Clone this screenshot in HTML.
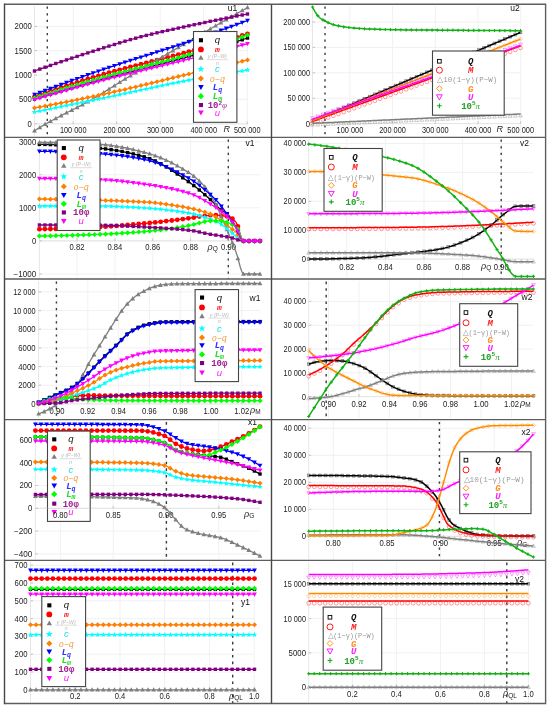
<!DOCTYPE html>
<html><head><meta charset="utf-8"><style>html,body{margin:0;padding:0;background:#fff;}svg{display:block;filter:blur(0.6px);}</style></head><body>
<svg width="550" height="709" viewBox="0 0 550 709">
<rect width="550" height="709" fill="#fff"/>
<defs><rect id="sq1_00" x="-1.7" y="-1.7" width="3.4" height="3.4"/><circle id="ci1_00" cx="0" cy="0" r="2.4"/><path id="tu1_00" d="M0 -2.5L2.4 1.8L-2.4 1.8Z"/><path id="st1_00" d="M0 -2.8L0.7 -1L2.7 -0.9L1.2 0.4L1.6 2.3L0 1.3L-1.6 2.3L-1.2 0.4L-2.7 -0.9L-0.7 -1Z"/><path id="di1_00" d="M0 -2.5L2.5 0L0 2.5L-2.5 0Z"/><path id="td1_00" d="M0 2.5L2.4 -1.8L-2.4 -1.8Z"/><path id="cl1_00" d="M0 -2.6L2.6 0L0 2.6L-2.6 0Z"/><rect id="sq0_80" x="-1.4" y="-1.4" width="2.7" height="2.7"/><circle id="ci0_80" cx="0" cy="0" r="1.9"/><path id="tu0_80" d="M0 -2L1.9 1.4L-1.9 1.4Z"/><path id="di0_80" d="M0 -2L2 0L0 2L-2 0Z"/><path id="td0_80" d="M0 2L1.9 -1.4L-1.9 -1.4Z"/><path id="pl0_80" d="M-1.6 0H1.6M0 -1.6V1.6" stroke-width="1.1" fill="none"/></defs>
<clipPath id="cu1"><rect x="4" y="4" width="267" height="133"/></clipPath>
<g clip-path="url(#cu1)">
<path d="M34.5 123.8H247.5M34.5 99.4H247.5M34.5 75.1H247.5M34.5 50.7H247.5M34.5 26.4H247.5M73.2 6V136M116.7 6V136M160.2 6V136M203.7 6V136M247.2 6V136" stroke="#f1f1f1" stroke-width="1" fill="none"/>
<path d="M47.3 4V137" stroke="#3a3a3a" stroke-width="1.4" stroke-dasharray="2.2,4.4" stroke-dashoffset="-2.6" fill="none"/>
<path d="M34.5 6V136M34.5 123.8H247.5" stroke="#e0e0e0" stroke-width="0.8" fill="none"/>
<path d="M34.5 123.8H37M34.5 99.4H37M34.5 75.1H37M34.5 50.7H37M34.5 26.4H37M73.2 123.8V121.3M116.7 123.8V121.3M160.2 123.8V121.3M203.7 123.8V121.3M247.2 123.8V121.3" stroke="#b0b0b0" stroke-width="0.7" fill="none"/>
<text x="31.8" y="126.7" font-family="Liberation Sans" font-size="8.2" fill="#222" text-anchor="end" textLength="4.3" lengthAdjust="spacingAndGlyphs">0</text>
<text x="31.8" y="102.3" font-family="Liberation Sans" font-size="8.2" fill="#222" text-anchor="end" textLength="12.9" lengthAdjust="spacingAndGlyphs">500</text>
<text x="31.8" y="78" font-family="Liberation Sans" font-size="8.2" fill="#222" text-anchor="end" textLength="17.2" lengthAdjust="spacingAndGlyphs">1000</text>
<text x="31.8" y="53.6" font-family="Liberation Sans" font-size="8.2" fill="#222" text-anchor="end" textLength="17.2" lengthAdjust="spacingAndGlyphs">1500</text>
<text x="31.8" y="29.3" font-family="Liberation Sans" font-size="8.2" fill="#222" text-anchor="end" textLength="17.2" lengthAdjust="spacingAndGlyphs">2000</text>
<text x="73.2" y="133.3" font-family="Liberation Sans" font-size="8.2" fill="#222" text-anchor="middle" textLength="26.6" lengthAdjust="spacingAndGlyphs">100 000</text>
<text x="116.7" y="133.3" font-family="Liberation Sans" font-size="8.2" fill="#222" text-anchor="middle" textLength="26.6" lengthAdjust="spacingAndGlyphs">200 000</text>
<text x="160.2" y="133.3" font-family="Liberation Sans" font-size="8.2" fill="#222" text-anchor="middle" textLength="26.6" lengthAdjust="spacingAndGlyphs">300 000</text>
<text x="203.7" y="133.3" font-family="Liberation Sans" font-size="8.2" fill="#222" text-anchor="middle" textLength="26.6" lengthAdjust="spacingAndGlyphs">400 000</text>
<text x="247.2" y="133.3" font-family="Liberation Sans" font-size="8.2" fill="#222" text-anchor="middle" textLength="26.6" lengthAdjust="spacingAndGlyphs">500 000</text>
<text x="223.5" y="132.4" font-family="Liberation Sans" font-size="9" fill="#222" text-anchor="start" font-style="italic">R</text>
<path d="M34.5 99 36 98.6 37.5 98.1 39 97.7 40.5 97.2 42 96.8 43.5 96.3 45 95.9 46.5 95.4 48 95 49.5 94.5 51 94.1 52.5 93.6 54 93.2 55.5 92.8 57 92.3 58.5 91.9 60 91.4 61.5 91 63 90.6 64.5 90.1 66 89.7 67.5 89.3 69 88.8 70.5 88.4 72 87.9 73.5 87.5 75 87.1 76.5 86.7 78 86.2 79.5 85.8 81 85.4 82.5 84.9 84 84.5 85.5 84.1 87 83.7 88.5 83.2 90 82.8 91.5 82.4 93 82 94.5 81.5 96 81.1 97.5 80.7 99 80.3 100.5 79.9 102 79.4 103.5 79 105 78.6 106.5 78.2 108 77.8 109.5 77.4 111 77 112.5 76.6 114 76.2 115.5 75.8 117 75.4 118.5 75 120 74.6 121.5 74.2 123 73.8 124.5 73.4 126 73 127.5 72.7 129 72.3 130.5 71.9 132 71.5 133.5 71.1 135 70.7 136.5 70.3 138 70 139.5 69.6 141 69.2 142.5 68.8 144 68.4 145.5 68 147 67.6 148.5 67.3 150 66.9 151.5 66.5 153 66.1 154.5 65.7 156 65.3 157.5 64.9 159 64.5 160.5 64.2 162 63.8 163.5 63.4 165 63 166.5 62.6 168 62.2 169.5 61.8 171 61.4 172.5 61 174 60.6 175.5 60.2 177 59.8 178.5 59.4 180 58.9 181.5 58.5 183 58.1 184.5 57.7 186 57.3 187.5 56.9 189 56.4 190.5 56 192 55.6 193.5 55.1 195 54.7 196.5 54.3 198 53.8 199.5 53.4 201 52.9 202.5 52.5 204 52 205.5 51.6 207 51.1 208.5 50.6 210 50.2 211.5 49.7 213 49.2 214.5 48.8 216 48.3 217.5 47.8 219 47.4 220.5 46.9 222 46.4 223.5 45.9 225 45.4 226.5 44.9 228 44.5 229.5 44 231 43.5 232.5 43 234 42.5 235.5 42 237 41.5 238.5 41 240 40.5 241.5 40 243 39.5 244.5 39 246 38.5 247.5 38" fill="none" stroke="#000000" stroke-width="1.3" stroke-linejoin="round"/><g fill="#000000"><use href="#sq1_00" x="34.5" y="99"/><use href="#sq1_00" x="39.8" y="97.4"/><use href="#sq1_00" x="45.1" y="95.8"/><use href="#sq1_00" x="50.5" y="94.2"/><use href="#sq1_00" x="55.8" y="92.7"/><use href="#sq1_00" x="61.1" y="91.1"/><use href="#sq1_00" x="66.5" y="89.6"/><use href="#sq1_00" x="71.8" y="88"/><use href="#sq1_00" x="77.1" y="86.5"/><use href="#sq1_00" x="82.4" y="85"/><use href="#sq1_00" x="87.8" y="83.4"/><use href="#sq1_00" x="93.1" y="81.9"/><use href="#sq1_00" x="98.4" y="80.4"/><use href="#sq1_00" x="103.7" y="79"/><use href="#sq1_00" x="109" y="77.5"/><use href="#sq1_00" x="114.4" y="76.1"/><use href="#sq1_00" x="119.7" y="74.7"/><use href="#sq1_00" x="125" y="73.3"/><use href="#sq1_00" x="130.4" y="71.9"/><use href="#sq1_00" x="135.7" y="70.5"/><use href="#sq1_00" x="141" y="69.2"/><use href="#sq1_00" x="146.3" y="67.8"/><use href="#sq1_00" x="151.7" y="66.4"/><use href="#sq1_00" x="157" y="65.1"/><use href="#sq1_00" x="162.3" y="63.7"/><use href="#sq1_00" x="167.6" y="62.3"/><use href="#sq1_00" x="173" y="60.9"/><use href="#sq1_00" x="178.3" y="59.4"/><use href="#sq1_00" x="183.6" y="58"/><use href="#sq1_00" x="188.9" y="56.5"/><use href="#sq1_00" x="194.2" y="54.9"/><use href="#sq1_00" x="199.6" y="53.3"/><use href="#sq1_00" x="204.9" y="51.7"/><use href="#sq1_00" x="210.2" y="50.1"/><use href="#sq1_00" x="215.6" y="48.4"/><use href="#sq1_00" x="220.9" y="46.8"/><use href="#sq1_00" x="226.2" y="45"/><use href="#sq1_00" x="231.5" y="43.3"/><use href="#sq1_00" x="236.8" y="41.6"/><use href="#sq1_00" x="242.2" y="39.8"/><use href="#sq1_00" x="247.5" y="38"/></g>
<path d="M34.5 96.6 36 96.1 37.5 95.6 39 95 40.5 94.5 42 94 43.5 93.5 45 93 46.5 92.5 48 91.9 49.5 91.4 51 90.9 52.5 90.4 54 89.9 55.5 89.4 57 88.9 58.5 88.4 60 87.9 61.5 87.4 63 86.9 64.5 86.4 66 85.9 67.5 85.4 69 84.9 70.5 84.4 72 84 73.5 83.5 75 83 76.5 82.5 78 82 79.5 81.6 81 81.1 82.5 80.6 84 80.2 85.5 79.7 87 79.2 88.5 78.8 90 78.3 91.5 77.8 93 77.4 94.5 76.9 96 76.5 97.5 76 99 75.6 100.5 75.2 102 74.7 103.5 74.3 105 73.8 106.5 73.4 108 73 109.5 72.6 111 72.2 112.5 71.7 114 71.3 115.5 70.9 117 70.5 118.5 70.1 120 69.7 121.5 69.3 123 68.9 124.5 68.5 126 68.1 127.5 67.7 129 67.3 130.5 66.9 132 66.5 133.5 66.1 135 65.8 136.5 65.4 138 65 139.5 64.6 141 64.2 142.5 63.8 144 63.5 145.5 63.1 147 62.7 148.5 62.3 150 61.9 151.5 61.6 153 61.2 154.5 60.8 156 60.4 157.5 60 159 59.6 160.5 59.3 162 58.9 163.5 58.5 165 58.1 166.5 57.7 168 57.3 169.5 56.9 171 56.6 172.5 56.2 174 55.8 175.5 55.4 177 55 178.5 54.6 180 54.2 181.5 53.8 183 53.4 184.5 52.9 186 52.5 187.5 52.1 189 51.7 190.5 51.3 192 50.9 193.5 50.4 195 50 196.5 49.6 198 49.1 199.5 48.7 201 48.3 202.5 47.8 204 47.4 205.5 46.9 207 46.5 208.5 46 210 45.6 211.5 45.1 213 44.7 214.5 44.2 216 43.8 217.5 43.3 219 42.8 220.5 42.4 222 41.9 223.5 41.4 225 41 226.5 40.5 228 40 229.5 39.6 231 39.1 232.5 38.6 234 38.1 235.5 37.7 237 37.2 238.5 36.7 240 36.2 241.5 35.7 243 35.3 244.5 34.8 246 34.3 247.5 33.8" fill="none" stroke="#ff0000" stroke-width="1.3" stroke-linejoin="round"/><g fill="#ff0000"><use href="#ci1_00" x="34.5" y="96.6"/><use href="#ci1_00" x="39.8" y="94.7"/><use href="#ci1_00" x="45.1" y="92.9"/><use href="#ci1_00" x="50.5" y="91.1"/><use href="#ci1_00" x="55.8" y="89.3"/><use href="#ci1_00" x="61.1" y="87.5"/><use href="#ci1_00" x="66.5" y="85.8"/><use href="#ci1_00" x="71.8" y="84"/><use href="#ci1_00" x="77.1" y="82.3"/><use href="#ci1_00" x="82.4" y="80.6"/><use href="#ci1_00" x="87.8" y="79"/><use href="#ci1_00" x="93.1" y="77.4"/><use href="#ci1_00" x="98.4" y="75.8"/><use href="#ci1_00" x="103.7" y="74.2"/><use href="#ci1_00" x="109" y="72.7"/><use href="#ci1_00" x="114.4" y="71.2"/><use href="#ci1_00" x="119.7" y="69.8"/><use href="#ci1_00" x="125" y="68.4"/><use href="#ci1_00" x="130.4" y="67"/><use href="#ci1_00" x="135.7" y="65.6"/><use href="#ci1_00" x="141" y="64.2"/><use href="#ci1_00" x="146.3" y="62.9"/><use href="#ci1_00" x="151.7" y="61.5"/><use href="#ci1_00" x="157" y="60.2"/><use href="#ci1_00" x="162.3" y="58.8"/><use href="#ci1_00" x="167.6" y="57.4"/><use href="#ci1_00" x="173" y="56"/><use href="#ci1_00" x="178.3" y="54.6"/><use href="#ci1_00" x="183.6" y="53.2"/><use href="#ci1_00" x="188.9" y="51.7"/><use href="#ci1_00" x="194.2" y="50.2"/><use href="#ci1_00" x="199.6" y="48.7"/><use href="#ci1_00" x="204.9" y="47.1"/><use href="#ci1_00" x="210.2" y="45.5"/><use href="#ci1_00" x="215.6" y="43.9"/><use href="#ci1_00" x="220.9" y="42.3"/><use href="#ci1_00" x="226.2" y="40.6"/><use href="#ci1_00" x="231.5" y="38.9"/><use href="#ci1_00" x="236.8" y="37.2"/><use href="#ci1_00" x="242.2" y="35.5"/><use href="#ci1_00" x="247.5" y="33.8"/></g>
<path d="M34.5 130.8 36 129.8 37.5 128.9 39 128 40.5 127 42 126.1 43.5 125.2 45 124.4 46.5 123.5 48 122.6 49.5 121.8 51 121 52.5 120.2 54 119.4 55.5 118.6 57 117.8 58.5 117 60 116.2 61.5 115.4 63 114.6 64.5 113.8 66 113.1 67.5 112.3 69 111.5 70.5 110.8 72 110 73.5 109.2 75 108.5 76.5 107.7 78 106.9 79.5 106.1 81 105.4 82.5 104.6 84 103.8 85.5 103 87 102.2 88.5 101.3 90 100.5 91.5 99.7 93 98.8 94.5 97.9 96 97 97.5 96.1 99 95.2 100.5 94.3 102 93.4 103.5 92.5 105 91.6 106.5 90.6 108 89.7 109.5 88.8 111 87.8 112.5 86.9 114 85.9 115.5 85 117 84 118.5 83.1 120 82.2 121.5 81.2 123 80.3 124.5 79.4 126 78.4 127.5 77.5 129 76.6 130.5 75.7 132 74.8 133.5 73.9 135 73 136.5 72.1 138 71.2 139.5 70.3 141 69.4 142.5 68.5 144 67.6 145.5 66.8 147 65.9 148.5 65 150 64.1 151.5 63.2 153 62.3 154.5 61.4 156 60.6 157.5 59.7 159 58.8 160.5 57.9 162 57 163.5 56.1 165 55.3 166.5 54.4 168 53.5 169.5 52.6 171 51.8 172.5 50.9 174 50 175.5 49.1 177 48.3 178.5 47.4 180 46.5 181.5 45.6 183 44.7 184.5 43.9 186 43 187.5 42.1 189 41.2 190.5 40.4 192 39.5 193.5 38.6 195 37.8 196.5 36.9 198 36 199.5 35.1 201 34.3 202.5 33.4 204 32.5 205.5 31.7 207 30.8 208.5 29.9 210 29.1 211.5 28.2 213 27.3 214.5 26.5 216 25.6 217.5 24.7 219 23.9 220.5 23 222 22.1 223.5 21.3 225 20.4 226.5 19.5 228 18.7 229.5 17.8 231 16.9 232.5 16.1 234 15.2 235.5 14.4 237 13.5 238.5 12.6 240 11.8 241.5 10.9 243 10.1 244.5 9.2 246 8.4 247.5 7.5" fill="none" stroke="#7f7f7f" stroke-width="1.3" stroke-linejoin="round"/><g fill="#7f7f7f"><use href="#tu1_00" x="34.5" y="130.8"/><use href="#tu1_00" x="39.8" y="127.5"/><use href="#tu1_00" x="45.1" y="124.3"/><use href="#tu1_00" x="50.5" y="121.3"/><use href="#tu1_00" x="55.8" y="118.4"/><use href="#tu1_00" x="61.1" y="115.6"/><use href="#tu1_00" x="66.5" y="112.8"/><use href="#tu1_00" x="71.8" y="110.1"/><use href="#tu1_00" x="77.1" y="107.4"/><use href="#tu1_00" x="82.4" y="104.6"/><use href="#tu1_00" x="87.8" y="101.8"/><use href="#tu1_00" x="93.1" y="98.7"/><use href="#tu1_00" x="98.4" y="95.6"/><use href="#tu1_00" x="103.7" y="92.4"/><use href="#tu1_00" x="109" y="89"/><use href="#tu1_00" x="114.4" y="85.7"/><use href="#tu1_00" x="119.7" y="82.3"/><use href="#tu1_00" x="125" y="79"/><use href="#tu1_00" x="130.4" y="75.8"/><use href="#tu1_00" x="135.7" y="72.6"/><use href="#tu1_00" x="141" y="69.4"/><use href="#tu1_00" x="146.3" y="66.3"/><use href="#tu1_00" x="151.7" y="63.1"/><use href="#tu1_00" x="157" y="60"/><use href="#tu1_00" x="162.3" y="56.9"/><use href="#tu1_00" x="167.6" y="53.7"/><use href="#tu1_00" x="173" y="50.6"/><use href="#tu1_00" x="178.3" y="47.5"/><use href="#tu1_00" x="183.6" y="44.4"/><use href="#tu1_00" x="188.9" y="41.3"/><use href="#tu1_00" x="194.2" y="38.2"/><use href="#tu1_00" x="199.6" y="35.1"/><use href="#tu1_00" x="204.9" y="32"/><use href="#tu1_00" x="210.2" y="28.9"/><use href="#tu1_00" x="215.6" y="25.8"/><use href="#tu1_00" x="220.9" y="22.8"/><use href="#tu1_00" x="226.2" y="19.7"/><use href="#tu1_00" x="231.5" y="16.6"/><use href="#tu1_00" x="236.8" y="13.6"/><use href="#tu1_00" x="242.2" y="10.5"/><use href="#tu1_00" x="247.5" y="7.5"/></g>
<path d="M34.5 112 36 111.7 37.5 111.4 39 111.1 40.5 110.8 42 110.5 43.5 110.2 45 109.9 46.5 109.6 48 109.3 49.5 109 51 108.7 52.5 108.4 54 108.1 55.5 107.8 57 107.5 58.5 107.2 60 106.9 61.5 106.5 63 106.2 64.5 105.9 66 105.6 67.5 105.3 69 105 70.5 104.7 72 104.4 73.5 104.1 75 103.8 76.5 103.5 78 103.2 79.5 102.9 81 102.6 82.5 102.3 84 102 85.5 101.7 87 101.4 88.5 101.1 90 100.7 91.5 100.4 93 100.1 94.5 99.8 96 99.5 97.5 99.2 99 98.9 100.5 98.6 102 98.3 103.5 98 105 97.7 106.5 97.4 108 97 109.5 96.7 111 96.4 112.5 96.1 114 95.8 115.5 95.5 117 95.1 118.5 94.8 120 94.5 121.5 94.2 123 93.9 124.5 93.6 126 93.2 127.5 92.9 129 92.6 130.5 92.3 132 91.9 133.5 91.6 135 91.3 136.5 91 138 90.7 139.5 90.3 141 90 142.5 89.7 144 89.4 145.5 89.1 147 88.7 148.5 88.4 150 88.1 151.5 87.8 153 87.5 154.5 87.1 156 86.8 157.5 86.5 159 86.2 160.5 85.9 162 85.6 163.5 85.2 165 84.9 166.5 84.6 168 84.3 169.5 84 171 83.7 172.5 83.4 174 83.1 175.5 82.8 177 82.5 178.5 82.2 180 81.9 181.5 81.6 183 81.3 184.5 81 186 80.7 187.5 80.4 189 80.1 190.5 79.8 192 79.6 193.5 79.3 195 79 196.5 78.7 198 78.4 199.5 78.2 201 77.9 202.5 77.6 204 77.4 205.5 77.1 207 76.8 208.5 76.5 210 76.3 211.5 76 213 75.7 214.5 75.5 216 75.2 217.5 75 219 74.7 220.5 74.4 222 74.2 223.5 73.9 225 73.7 226.5 73.4 228 73.2 229.5 72.9 231 72.7 232.5 72.4 234 72.2 235.5 71.9 237 71.7 238.5 71.4 240 71.2 241.5 71 243 70.7 244.5 70.5 246 70.2 247.5 70" fill="none" stroke="#00ffff" stroke-width="1.3" stroke-linejoin="round"/><g fill="#00ffff"><use href="#st1_00" x="34.5" y="112"/><use href="#st1_00" x="39.8" y="110.9"/><use href="#st1_00" x="45.1" y="109.9"/><use href="#st1_00" x="50.5" y="108.8"/><use href="#st1_00" x="55.8" y="107.7"/><use href="#st1_00" x="61.1" y="106.6"/><use href="#st1_00" x="66.5" y="105.5"/><use href="#st1_00" x="71.8" y="104.5"/><use href="#st1_00" x="77.1" y="103.4"/><use href="#st1_00" x="82.4" y="102.3"/><use href="#st1_00" x="87.8" y="101.2"/><use href="#st1_00" x="93.1" y="100.1"/><use href="#st1_00" x="98.4" y="99"/><use href="#st1_00" x="103.7" y="97.9"/><use href="#st1_00" x="109" y="96.8"/><use href="#st1_00" x="114.4" y="95.7"/><use href="#st1_00" x="119.7" y="94.6"/><use href="#st1_00" x="125" y="93.4"/><use href="#st1_00" x="130.4" y="92.3"/><use href="#st1_00" x="135.7" y="91.2"/><use href="#st1_00" x="141" y="90"/><use href="#st1_00" x="146.3" y="88.9"/><use href="#st1_00" x="151.7" y="87.7"/><use href="#st1_00" x="157" y="86.6"/><use href="#st1_00" x="162.3" y="85.5"/><use href="#st1_00" x="167.6" y="84.4"/><use href="#st1_00" x="173" y="83.3"/><use href="#st1_00" x="178.3" y="82.2"/><use href="#st1_00" x="183.6" y="81.2"/><use href="#st1_00" x="188.9" y="80.1"/><use href="#st1_00" x="194.2" y="79.1"/><use href="#st1_00" x="199.6" y="78.2"/><use href="#st1_00" x="204.9" y="77.2"/><use href="#st1_00" x="210.2" y="76.2"/><use href="#st1_00" x="215.6" y="75.3"/><use href="#st1_00" x="220.9" y="74.4"/><use href="#st1_00" x="226.2" y="73.5"/><use href="#st1_00" x="231.5" y="72.6"/><use href="#st1_00" x="236.8" y="71.7"/><use href="#st1_00" x="242.2" y="70.9"/><use href="#st1_00" x="247.5" y="70"/></g>
<path d="M34.5 108 36 107.7 37.5 107.4 39 107.2 40.5 106.9 42 106.6 43.5 106.3 45 106.1 46.5 105.8 48 105.5 49.5 105.2 51 104.9 52.5 104.6 54 104.3 55.5 104.1 57 103.8 58.5 103.5 60 103.2 61.5 102.9 63 102.6 64.5 102.3 66 102 67.5 101.7 69 101.4 70.5 101.1 72 100.8 73.5 100.5 75 100.2 76.5 99.9 78 99.6 79.5 99.3 81 99 82.5 98.7 84 98.4 85.5 98.1 87 97.7 88.5 97.4 90 97.1 91.5 96.8 93 96.5 94.5 96.2 96 95.9 97.5 95.5 99 95.2 100.5 94.9 102 94.6 103.5 94.2 105 93.9 106.5 93.6 108 93.3 109.5 92.9 111 92.6 112.5 92.2 114 91.9 115.5 91.6 117 91.2 118.5 90.9 120 90.5 121.5 90.2 123 89.8 124.5 89.5 126 89.1 127.5 88.8 129 88.4 130.5 88.1 132 87.7 133.5 87.4 135 87 136.5 86.7 138 86.3 139.5 85.9 141 85.6 142.5 85.2 144 84.9 145.5 84.5 147 84.1 148.5 83.8 150 83.4 151.5 83 153 82.7 154.5 82.3 156 82 157.5 81.6 159 81.2 160.5 80.9 162 80.5 163.5 80.1 165 79.8 166.5 79.4 168 79 169.5 78.7 171 78.3 172.5 77.9 174 77.6 175.5 77.2 177 76.8 178.5 76.5 180 76.1 181.5 75.7 183 75.4 184.5 75 186 74.7 187.5 74.3 189 73.9 190.5 73.6 192 73.2 193.5 72.9 195 72.5 196.5 72.1 198 71.8 199.5 71.4 201 71.1 202.5 70.7 204 70.4 205.5 70 207 69.6 208.5 69.3 210 68.9 211.5 68.6 213 68.2 214.5 67.9 216 67.5 217.5 67.1 219 66.8 220.5 66.4 222 66.1 223.5 65.7 225 65.4 226.5 65 228 64.6 229.5 64.3 231 63.9 232.5 63.6 234 63.2 235.5 62.9 237 62.5 238.5 62.1 240 61.8 241.5 61.4 243 61.1 244.5 60.7 246 60.4 247.5 60" fill="none" stroke="#ff7f00" stroke-width="1.3" stroke-linejoin="round"/><g fill="#ff7f00"><use href="#di1_00" x="34.5" y="108"/><use href="#di1_00" x="39.8" y="107"/><use href="#di1_00" x="45.1" y="106"/><use href="#di1_00" x="50.5" y="105"/><use href="#di1_00" x="55.8" y="104"/><use href="#di1_00" x="61.1" y="103"/><use href="#di1_00" x="66.5" y="101.9"/><use href="#di1_00" x="71.8" y="100.9"/><use href="#di1_00" x="77.1" y="99.8"/><use href="#di1_00" x="82.4" y="98.7"/><use href="#di1_00" x="87.8" y="97.6"/><use href="#di1_00" x="93.1" y="96.5"/><use href="#di1_00" x="98.4" y="95.3"/><use href="#di1_00" x="103.7" y="94.2"/><use href="#di1_00" x="109" y="93"/><use href="#di1_00" x="114.4" y="91.8"/><use href="#di1_00" x="119.7" y="90.6"/><use href="#di1_00" x="125" y="89.4"/><use href="#di1_00" x="130.4" y="88.1"/><use href="#di1_00" x="135.7" y="86.9"/><use href="#di1_00" x="141" y="85.6"/><use href="#di1_00" x="146.3" y="84.3"/><use href="#di1_00" x="151.7" y="83"/><use href="#di1_00" x="157" y="81.7"/><use href="#di1_00" x="162.3" y="80.4"/><use href="#di1_00" x="167.6" y="79.1"/><use href="#di1_00" x="173" y="77.8"/><use href="#di1_00" x="178.3" y="76.5"/><use href="#di1_00" x="183.6" y="75.2"/><use href="#di1_00" x="188.9" y="74"/><use href="#di1_00" x="194.2" y="72.7"/><use href="#di1_00" x="199.6" y="71.4"/><use href="#di1_00" x="204.9" y="70.1"/><use href="#di1_00" x="210.2" y="68.9"/><use href="#di1_00" x="215.6" y="67.6"/><use href="#di1_00" x="220.9" y="66.3"/><use href="#di1_00" x="226.2" y="65.1"/><use href="#di1_00" x="231.5" y="63.8"/><use href="#di1_00" x="236.8" y="62.5"/><use href="#di1_00" x="242.2" y="61.3"/><use href="#di1_00" x="247.5" y="60"/></g>
<path d="M34.5 94.6 36 94 37.5 93.5 39 92.9 40.5 92.3 42 91.7 43.5 91.2 45 90.6 46.5 90 48 89.5 49.5 88.9 51 88.3 52.5 87.8 54 87.2 55.5 86.7 57 86.1 58.5 85.5 60 85 61.5 84.4 63 83.9 64.5 83.3 66 82.8 67.5 82.2 69 81.7 70.5 81.1 72 80.6 73.5 80 75 79.5 76.5 78.9 78 78.4 79.5 77.8 81 77.3 82.5 76.8 84 76.2 85.5 75.7 87 75.2 88.5 74.6 90 74.1 91.5 73.6 93 73 94.5 72.5 96 72 97.5 71.5 99 70.9 100.5 70.4 102 69.9 103.5 69.4 105 68.9 106.5 68.4 108 67.9 109.5 67.4 111 66.9 112.5 66.4 114 65.9 115.5 65.4 117 64.9 118.5 64.4 120 63.9 121.5 63.4 123 62.9 124.5 62.4 126 61.9 127.5 61.5 129 61 130.5 60.5 132 60 133.5 59.5 135 59.1 136.5 58.6 138 58.1 139.5 57.6 141 57.2 142.5 56.7 144 56.2 145.5 55.7 147 55.3 148.5 54.8 150 54.3 151.5 53.8 153 53.4 154.5 52.9 156 52.4 157.5 51.9 159 51.4 160.5 51 162 50.5 163.5 50 165 49.5 166.5 49.1 168 48.6 169.5 48.1 171 47.6 172.5 47.1 174 46.6 175.5 46.1 177 45.6 178.5 45.2 180 44.7 181.5 44.2 183 43.7 184.5 43.2 186 42.7 187.5 42.2 189 41.7 190.5 41.1 192 40.6 193.5 40.1 195 39.6 196.5 39.1 198 38.6 199.5 38 201 37.5 202.5 37 204 36.5 205.5 35.9 207 35.4 208.5 34.9 210 34.3 211.5 33.8 213 33.2 214.5 32.7 216 32.2 217.5 31.6 219 31.1 220.5 30.5 222 30 223.5 29.4 225 28.9 226.5 28.3 228 27.8 229.5 27.2 231 26.7 232.5 26.1 234 25.6 235.5 25 237 24.4 238.5 23.9 240 23.3 241.5 22.8 243 22.2 244.5 21.6 246 21.1 247.5 20.5" fill="none" stroke="#0000ff" stroke-width="1.3" stroke-linejoin="round"/><g fill="#0000ff"><use href="#td1_00" x="34.5" y="94.6"/><use href="#td1_00" x="39.8" y="92.6"/><use href="#td1_00" x="45.1" y="90.5"/><use href="#td1_00" x="50.5" y="88.5"/><use href="#td1_00" x="55.8" y="86.5"/><use href="#td1_00" x="61.1" y="84.6"/><use href="#td1_00" x="66.5" y="82.6"/><use href="#td1_00" x="71.8" y="80.6"/><use href="#td1_00" x="77.1" y="78.7"/><use href="#td1_00" x="82.4" y="76.8"/><use href="#td1_00" x="87.8" y="74.9"/><use href="#td1_00" x="93.1" y="73"/><use href="#td1_00" x="98.4" y="71.2"/><use href="#td1_00" x="103.7" y="69.3"/><use href="#td1_00" x="109" y="67.5"/><use href="#td1_00" x="114.4" y="65.7"/><use href="#td1_00" x="119.7" y="64"/><use href="#td1_00" x="125" y="62.3"/><use href="#td1_00" x="130.4" y="60.5"/><use href="#td1_00" x="135.7" y="58.8"/><use href="#td1_00" x="141" y="57.2"/><use href="#td1_00" x="146.3" y="55.5"/><use href="#td1_00" x="151.7" y="53.8"/><use href="#td1_00" x="157" y="52.1"/><use href="#td1_00" x="162.3" y="50.4"/><use href="#td1_00" x="167.6" y="48.7"/><use href="#td1_00" x="173" y="47"/><use href="#td1_00" x="178.3" y="45.2"/><use href="#td1_00" x="183.6" y="43.5"/><use href="#td1_00" x="188.9" y="41.7"/><use href="#td1_00" x="194.2" y="39.9"/><use href="#td1_00" x="199.6" y="38"/><use href="#td1_00" x="204.9" y="36.1"/><use href="#td1_00" x="210.2" y="34.2"/><use href="#td1_00" x="215.6" y="32.3"/><use href="#td1_00" x="220.9" y="30.4"/><use href="#td1_00" x="226.2" y="28.4"/><use href="#td1_00" x="231.5" y="26.5"/><use href="#td1_00" x="236.8" y="24.5"/><use href="#td1_00" x="242.2" y="22.5"/><use href="#td1_00" x="247.5" y="20.5"/></g>
<path d="M34.5 98 36 97.5 37.5 97 39 96.6 40.5 96.1 42 95.6 43.5 95.1 45 94.7 46.5 94.2 48 93.7 49.5 93.3 51 92.8 52.5 92.3 54 91.9 55.5 91.4 57 90.9 58.5 90.5 60 90 61.5 89.5 63 89.1 64.5 88.6 66 88.2 67.5 87.7 69 87.2 70.5 86.8 72 86.3 73.5 85.9 75 85.4 76.5 85 78 84.5 79.5 84.1 81 83.6 82.5 83.2 84 82.7 85.5 82.3 87 81.9 88.5 81.4 90 81 91.5 80.5 93 80.1 94.5 79.7 96 79.2 97.5 78.8 99 78.4 100.5 78 102 77.5 103.5 77.1 105 76.7 106.5 76.3 108 75.9 109.5 75.5 111 75 112.5 74.6 114 74.2 115.5 73.8 117 73.4 118.5 73.1 120 72.7 121.5 72.3 123 71.9 124.5 71.5 126 71.1 127.5 70.7 129 70.3 130.5 70 132 69.6 133.5 69.2 135 68.8 136.5 68.4 138 68 139.5 67.7 141 67.3 142.5 66.9 144 66.5 145.5 66.2 147 65.8 148.5 65.4 150 65 151.5 64.6 153 64.3 154.5 63.9 156 63.5 157.5 63.1 159 62.7 160.5 62.3 162 61.9 163.5 61.6 165 61.2 166.5 60.8 168 60.4 169.5 60 171 59.6 172.5 59.2 174 58.8 175.5 58.4 177 58 178.5 57.5 180 57.1 181.5 56.7 183 56.3 184.5 55.9 186 55.4 187.5 55 189 54.6 190.5 54.1 192 53.7 193.5 53.3 195 52.8 196.5 52.3 198 51.9 199.5 51.4 201 51 202.5 50.5 204 50 205.5 49.5 207 49.1 208.5 48.6 210 48.1 211.5 47.6 213 47.1 214.5 46.6 216 46.1 217.5 45.6 219 45.1 220.5 44.6 222 44.1 223.5 43.5 225 43 226.5 42.5 228 42 229.5 41.5 231 40.9 232.5 40.4 234 39.9 235.5 39.3 237 38.8 238.5 38.3 240 37.7 241.5 37.2 243 36.6 244.5 36.1 246 35.5 247.5 35" fill="none" stroke="#00ff00" stroke-width="1.3" stroke-linejoin="round"/><g fill="#00ff00"><use href="#cl1_00" x="34.5" y="98"/><use href="#cl1_00" x="39.8" y="96.3"/><use href="#cl1_00" x="45.1" y="94.6"/><use href="#cl1_00" x="50.5" y="93"/><use href="#cl1_00" x="55.8" y="91.3"/><use href="#cl1_00" x="61.1" y="89.6"/><use href="#cl1_00" x="66.5" y="88"/><use href="#cl1_00" x="71.8" y="86.4"/><use href="#cl1_00" x="77.1" y="84.8"/><use href="#cl1_00" x="82.4" y="83.2"/><use href="#cl1_00" x="87.8" y="81.6"/><use href="#cl1_00" x="93.1" y="80.1"/><use href="#cl1_00" x="98.4" y="78.6"/><use href="#cl1_00" x="103.7" y="77"/><use href="#cl1_00" x="109" y="75.6"/><use href="#cl1_00" x="114.4" y="74.1"/><use href="#cl1_00" x="119.7" y="72.7"/><use href="#cl1_00" x="125" y="71.4"/><use href="#cl1_00" x="130.4" y="70"/><use href="#cl1_00" x="135.7" y="68.6"/><use href="#cl1_00" x="141" y="67.3"/><use href="#cl1_00" x="146.3" y="65.9"/><use href="#cl1_00" x="151.7" y="64.6"/><use href="#cl1_00" x="157" y="63.2"/><use href="#cl1_00" x="162.3" y="61.9"/><use href="#cl1_00" x="167.6" y="60.5"/><use href="#cl1_00" x="173" y="59.1"/><use href="#cl1_00" x="178.3" y="57.6"/><use href="#cl1_00" x="183.6" y="56.1"/><use href="#cl1_00" x="188.9" y="54.6"/><use href="#cl1_00" x="194.2" y="53"/><use href="#cl1_00" x="199.6" y="51.4"/><use href="#cl1_00" x="204.9" y="49.7"/><use href="#cl1_00" x="210.2" y="48"/><use href="#cl1_00" x="215.6" y="46.2"/><use href="#cl1_00" x="220.9" y="44.4"/><use href="#cl1_00" x="226.2" y="42.6"/><use href="#cl1_00" x="231.5" y="40.7"/><use href="#cl1_00" x="236.8" y="38.9"/><use href="#cl1_00" x="242.2" y="36.9"/><use href="#cl1_00" x="247.5" y="35"/></g>
<path d="M34.5 71 36 70.5 37.5 69.9 39 69.4 40.5 68.9 42 68.3 43.5 67.8 45 67.3 46.5 66.8 48 66.2 49.5 65.7 51 65.2 52.5 64.7 54 64.2 55.5 63.6 57 63.1 58.5 62.6 60 62.1 61.5 61.6 63 61.1 64.5 60.6 66 60.1 67.5 59.6 69 59.1 70.5 58.6 72 58.1 73.5 57.6 75 57.1 76.5 56.6 78 56.1 79.5 55.6 81 55.1 82.5 54.6 84 54.1 85.5 53.6 87 53.2 88.5 52.7 90 52.2 91.5 51.7 93 51.2 94.5 50.7 96 50.3 97.5 49.8 99 49.3 100.5 48.8 102 48.4 103.5 47.9 105 47.4 106.5 46.9 108 46.5 109.5 46 111 45.5 112.5 45.1 114 44.6 115.5 44.1 117 43.6 118.5 43.2 120 42.7 121.5 42.3 123 41.8 124.5 41.4 126 40.9 127.5 40.5 129 40 130.5 39.6 132 39.2 133.5 38.8 135 38.3 136.5 37.9 138 37.5 139.5 37.1 141 36.7 142.5 36.4 144 36 145.5 35.6 147 35.2 148.5 34.9 150 34.5 151.5 34.1 153 33.8 154.5 33.4 156 33.1 157.5 32.7 159 32.4 160.5 32 162 31.7 163.5 31.3 165 31 166.5 30.7 168 30.3 169.5 30 171 29.7 172.5 29.4 174 29 175.5 28.7 177 28.4 178.5 28.1 180 27.7 181.5 27.4 183 27.1 184.5 26.8 186 26.5 187.5 26.1 189 25.8 190.5 25.5 192 25.2 193.5 24.9 195 24.5 196.5 24.2 198 23.9 199.5 23.6 201 23.3 202.5 23 204 22.6 205.5 22.3 207 22 208.5 21.7 210 21.4 211.5 21.1 213 20.8 214.5 20.5 216 20.2 217.5 19.9 219 19.6 220.5 19.3 222 19 223.5 18.7 225 18.4 226.5 18.1 228 17.8 229.5 17.5 231 17.2 232.5 16.9 234 16.6 235.5 16.3 237 16 238.5 15.7 240 15.4 241.5 15.1 243 14.9 244.5 14.6 246 14.3 247.5 14" fill="none" stroke="#800080" stroke-width="1.3" stroke-linejoin="round"/><g fill="#800080"><use href="#sq1_00" x="34.5" y="71"/><use href="#sq1_00" x="39.8" y="69.1"/><use href="#sq1_00" x="45.1" y="67.2"/><use href="#sq1_00" x="50.5" y="65.4"/><use href="#sq1_00" x="55.8" y="63.5"/><use href="#sq1_00" x="61.1" y="61.7"/><use href="#sq1_00" x="66.5" y="59.9"/><use href="#sq1_00" x="71.8" y="58.1"/><use href="#sq1_00" x="77.1" y="56.4"/><use href="#sq1_00" x="82.4" y="54.6"/><use href="#sq1_00" x="87.8" y="52.9"/><use href="#sq1_00" x="93.1" y="51.2"/><use href="#sq1_00" x="98.4" y="49.5"/><use href="#sq1_00" x="103.7" y="47.8"/><use href="#sq1_00" x="109" y="46.1"/><use href="#sq1_00" x="114.4" y="44.5"/><use href="#sq1_00" x="119.7" y="42.8"/><use href="#sq1_00" x="125" y="41.2"/><use href="#sq1_00" x="130.4" y="39.6"/><use href="#sq1_00" x="135.7" y="38.2"/><use href="#sq1_00" x="141" y="36.7"/><use href="#sq1_00" x="146.3" y="35.4"/><use href="#sq1_00" x="151.7" y="34.1"/><use href="#sq1_00" x="157" y="32.8"/><use href="#sq1_00" x="162.3" y="31.6"/><use href="#sq1_00" x="167.6" y="30.4"/><use href="#sq1_00" x="173" y="29.3"/><use href="#sq1_00" x="178.3" y="28.1"/><use href="#sq1_00" x="183.6" y="27"/><use href="#sq1_00" x="188.9" y="25.8"/><use href="#sq1_00" x="194.2" y="24.7"/><use href="#sq1_00" x="199.6" y="23.6"/><use href="#sq1_00" x="204.9" y="22.5"/><use href="#sq1_00" x="210.2" y="21.3"/><use href="#sq1_00" x="215.6" y="20.3"/><use href="#sq1_00" x="220.9" y="19.2"/><use href="#sq1_00" x="226.2" y="18.1"/><use href="#sq1_00" x="231.5" y="17.1"/><use href="#sq1_00" x="236.8" y="16"/><use href="#sq1_00" x="242.2" y="15"/><use href="#sq1_00" x="247.5" y="14"/></g>
<path d="M34.5 99.6 36 99.2 37.5 98.7 39 98.3 40.5 97.8 42 97.4 43.5 96.9 45 96.5 46.5 96 48 95.6 49.5 95.2 51 94.7 52.5 94.3 54 93.8 55.5 93.4 57 93 58.5 92.5 60 92.1 61.5 91.7 63 91.2 64.5 90.8 66 90.4 67.5 90 69 89.5 70.5 89.1 72 88.7 73.5 88.3 75 87.8 76.5 87.4 78 87 79.5 86.6 81 86.2 82.5 85.7 84 85.3 85.5 84.9 87 84.5 88.5 84.1 90 83.7 91.5 83.3 93 82.9 94.5 82.5 96 82.1 97.5 81.7 99 81.3 100.5 80.9 102 80.5 103.5 80.1 105 79.7 106.5 79.3 108 78.9 109.5 78.5 111 78.1 112.5 77.7 114 77.4 115.5 77 117 76.6 118.5 76.2 120 75.9 121.5 75.5 123 75.1 124.5 74.7 126 74.4 127.5 74 129 73.6 130.5 73.3 132 72.9 133.5 72.5 135 72.2 136.5 71.8 138 71.4 139.5 71.1 141 70.7 142.5 70.3 144 70 145.5 69.6 147 69.3 148.5 68.9 150 68.5 151.5 68.2 153 67.8 154.5 67.4 156 67.1 157.5 66.7 159 66.4 160.5 66 162 65.6 163.5 65.3 165 64.9 166.5 64.6 168 64.2 169.5 63.8 171 63.5 172.5 63.1 174 62.7 175.5 62.4 177 62 178.5 61.6 180 61.3 181.5 60.9 183 60.5 184.5 60.1 186 59.8 187.5 59.4 189 59 190.5 58.6 192 58.3 193.5 57.9 195 57.5 196.5 57.1 198 56.7 199.5 56.3 201 56 202.5 55.6 204 55.2 205.5 54.8 207 54.4 208.5 54 210 53.6 211.5 53.2 213 52.8 214.5 52.5 216 52.1 217.5 51.7 219 51.3 220.5 50.9 222 50.5 223.5 50.1 225 49.7 226.5 49.3 228 48.9 229.5 48.5 231 48.1 232.5 47.7 234 47.3 235.5 46.9 237 46.5 238.5 46.1 240 45.7 241.5 45.3 243 44.9 244.5 44.5 246 44.1 247.5 43.7" fill="none" stroke="#ff00ff" stroke-width="1.3" stroke-linejoin="round"/><g fill="#ff00ff"><use href="#td1_00" x="34.5" y="99.6"/><use href="#td1_00" x="39.8" y="98"/><use href="#td1_00" x="45.1" y="96.4"/><use href="#td1_00" x="50.5" y="94.9"/><use href="#td1_00" x="55.8" y="93.3"/><use href="#td1_00" x="61.1" y="91.8"/><use href="#td1_00" x="66.5" y="90.3"/><use href="#td1_00" x="71.8" y="88.7"/><use href="#td1_00" x="77.1" y="87.2"/><use href="#td1_00" x="82.4" y="85.8"/><use href="#td1_00" x="87.8" y="84.3"/><use href="#td1_00" x="93.1" y="82.9"/><use href="#td1_00" x="98.4" y="81.4"/><use href="#td1_00" x="103.7" y="80"/><use href="#td1_00" x="109" y="78.6"/><use href="#td1_00" x="114.4" y="77.3"/><use href="#td1_00" x="119.7" y="75.9"/><use href="#td1_00" x="125" y="74.6"/><use href="#td1_00" x="130.4" y="73.3"/><use href="#td1_00" x="135.7" y="72"/><use href="#td1_00" x="141" y="70.7"/><use href="#td1_00" x="146.3" y="69.4"/><use href="#td1_00" x="151.7" y="68.1"/><use href="#td1_00" x="157" y="66.9"/><use href="#td1_00" x="162.3" y="65.6"/><use href="#td1_00" x="167.6" y="64.3"/><use href="#td1_00" x="173" y="63"/><use href="#td1_00" x="178.3" y="61.7"/><use href="#td1_00" x="183.6" y="60.4"/><use href="#td1_00" x="188.9" y="59"/><use href="#td1_00" x="194.2" y="57.7"/><use href="#td1_00" x="199.6" y="56.3"/><use href="#td1_00" x="204.9" y="55"/><use href="#td1_00" x="210.2" y="53.6"/><use href="#td1_00" x="215.6" y="52.2"/><use href="#td1_00" x="220.9" y="50.8"/><use href="#td1_00" x="226.2" y="49.4"/><use href="#td1_00" x="231.5" y="48"/><use href="#td1_00" x="236.8" y="46.5"/><use href="#td1_00" x="242.2" y="45.1"/><use href="#td1_00" x="247.5" y="43.7"/></g>
<text x="232.5" y="10.9" font-family="Liberation Sans" font-size="8.5" fill="#111" text-anchor="middle">u1</text>
<rect x="193.5" y="31.5" width="43.4" height="90.8" fill="#fff" stroke="#444" stroke-width="1.1"/>
<rect x="198.9" y="38.2" width="4.1" height="4.1" fill="#000000"/>
<text x="217.4" y="43.2" font-family="Liberation Sans" font-size="9.5" fill="#111" text-anchor="middle" font-style="italic">q</text>
<circle cx="200.9" cy="49.4" r="2.9" fill="#ff0000"/>
<text x="217.4" y="52.4" font-family="Liberation Mono" font-size="8" fill="#ff2020" text-anchor="middle" font-style="italic" font-weight="bold">m</text>
<path d="M200.9 54.9L203.6 59.8L198.2 59.8Z" fill="#7f7f7f"/>
<text x="217.4" y="58.3" font-family="Liberation Sans" font-size="5.2" fill="#b8b8b8" text-anchor="middle" font-style="italic">γ (P−W)</text>
<path d="M206.4 59.7H228.4" stroke="#c8c8c8" stroke-width="0.6"/>
<text x="217.4" y="64.9" font-family="Liberation Sans" font-size="5.2" fill="#b8b8b8" text-anchor="middle" font-style="italic">n</text>
<path d="M200.9 65.5L201.8 67.7L204.3 67.9L202.4 69.5L203 71.9L200.9 70.6L198.8 71.9L199.4 69.5L197.5 67.9L200 67.7Z" fill="#00ffff"/>
<text x="217.4" y="72" font-family="Liberation Sans" font-size="9.5" fill="#20e0e0" text-anchor="middle" font-style="italic">c</text>
<path d="M200.9 75.6L203.9 78.6L200.9 81.6L197.9 78.6Z" fill="#ff7f00"/>
<text x="217.4" y="81.6" font-family="Liberation Mono" font-size="8.5" fill="#f0a040" text-anchor="middle" font-style="italic">o−q</text>
<path d="M200.9 90L203.8 84.9L198.1 84.9Z" fill="#0000ff"/>
<text x="217.4" y="90" font-family="Liberation Mono" font-size="9" fill="#3030ff" text-anchor="middle" font-style="italic" font-weight="bold">L<tspan font-size="6.5" dy="2">q</tspan></text>
<path d="M200.9 93.1L204 96.2L200.9 99.3L197.8 96.2Z" fill="#00ff00"/>
<text x="217.4" y="99.2" font-family="Liberation Mono" font-size="9" fill="#20e020" text-anchor="middle" font-style="italic" font-weight="bold">L<tspan font-size="6.5" dy="2">m</tspan></text>
<rect x="198.9" y="103" width="4.1" height="4.1" fill="#800080"/>
<text x="217.4" y="108" font-family="Liberation Mono" font-size="9" fill="#a02090" text-anchor="middle" font-weight="bold">10<tspan font-size="6" dy="-3.5">2</tspan><tspan dy="3.5" font-style="italic" font-weight="normal" font-family="Liberation Serif">φ</tspan></text>
<path d="M200.9 115.5L203.8 110.4L198.1 110.4Z" fill="#ff00ff"/>
<text x="217.4" y="115.5" font-family="Liberation Sans" font-size="9.5" fill="#ff20ff" text-anchor="middle" font-style="italic">u</text>

</g>
<clipPath id="cu2"><rect x="271.5" y="4" width="273.5" height="133"/></clipPath>
<g clip-path="url(#cu2)">
<path d="M312.5 123.6H520.9M312.5 98.2H520.9M312.5 72.8H520.9M312.5 47.4H520.9M312.5 22H520.9M349.9 6V136M392.6 6V136M435.3 6V136M478 6V136M520.7 6V136" stroke="#f1f1f1" stroke-width="1" fill="none"/>
<path d="M325 4V137" stroke="#3a3a3a" stroke-width="1.4" stroke-dasharray="2.2,4.4" stroke-dashoffset="-2.6" fill="none"/>
<path d="M312.5 6V136M312.5 123.6H520.9" stroke="#e0e0e0" stroke-width="0.8" fill="none"/>
<path d="M312.5 123.6H315M312.5 98.2H315M312.5 72.8H315M312.5 47.4H315M312.5 22H315M349.9 123.6V121.1M392.6 123.6V121.1M435.3 123.6V121.1M478 123.6V121.1M520.7 123.6V121.1" stroke="#b0b0b0" stroke-width="0.7" fill="none"/>
<text x="310" y="126.5" font-family="Liberation Sans" font-size="8.2" fill="#222" text-anchor="end" textLength="4.3" lengthAdjust="spacingAndGlyphs">0</text>
<text x="310" y="101.1" font-family="Liberation Sans" font-size="8.2" fill="#222" text-anchor="end" textLength="22.4" lengthAdjust="spacingAndGlyphs">50 000</text>
<text x="310" y="75.7" font-family="Liberation Sans" font-size="8.2" fill="#222" text-anchor="end" textLength="26.7" lengthAdjust="spacingAndGlyphs">100 000</text>
<text x="310" y="50.3" font-family="Liberation Sans" font-size="8.2" fill="#222" text-anchor="end" textLength="26.7" lengthAdjust="spacingAndGlyphs">150 000</text>
<text x="310" y="24.9" font-family="Liberation Sans" font-size="8.2" fill="#222" text-anchor="end" textLength="26.7" lengthAdjust="spacingAndGlyphs">200 000</text>
<text x="349.9" y="133.1" font-family="Liberation Sans" font-size="8.2" fill="#222" text-anchor="middle" textLength="26.7" lengthAdjust="spacingAndGlyphs">100 000</text>
<text x="392.6" y="133.1" font-family="Liberation Sans" font-size="8.2" fill="#222" text-anchor="middle" textLength="26.7" lengthAdjust="spacingAndGlyphs">200 000</text>
<text x="435.3" y="133.1" font-family="Liberation Sans" font-size="8.2" fill="#222" text-anchor="middle" textLength="26.7" lengthAdjust="spacingAndGlyphs">300 000</text>
<text x="478" y="133.1" font-family="Liberation Sans" font-size="8.2" fill="#222" text-anchor="middle" textLength="26.7" lengthAdjust="spacingAndGlyphs">400 000</text>
<text x="520.7" y="133.1" font-family="Liberation Sans" font-size="8.2" fill="#222" text-anchor="middle" textLength="26.7" lengthAdjust="spacingAndGlyphs">500 000</text>
<text x="496.5" y="132.2" font-family="Liberation Sans" font-size="9" fill="#222" text-anchor="start" font-style="italic">R</text>
<path d="M312.5 121 314 120.4 315.5 119.7 317 119.1 318.5 118.4 320 117.8 321.5 117.2 323 116.5 324.5 115.9 326 115.2 327.5 114.6 329 114 330.5 113.3 332 112.7 333.5 112.1 335 111.4 336.5 110.8 338 110.1 339.5 109.5 341 108.9 342.5 108.2 344 107.6 345.5 106.9 347 106.3 348.5 105.7 350 105 351.5 104.4 353 103.7 354.5 103.1 356 102.5 357.5 101.8 359 101.2 360.5 100.6 362 99.9 363.5 99.3 365 98.6 366.5 98 368 97.4 369.5 96.7 371 96.1 372.5 95.4 374 94.8 375.5 94.2 377 93.5 378.5 92.9 380 92.2 381.5 91.6 383 91 384.5 90.3 386 89.7 387.5 89.1 389 88.4 390.5 87.8 392 87.1 393.5 86.5 395 85.9 396.5 85.2 398 84.6 399.5 83.9 401 83.3 402.5 82.7 404 82 405.5 81.4 407 80.7 408.5 80.1 410 79.5 411.5 78.8 413 78.2 414.5 77.6 416 76.9 417.5 76.3 419 75.6 420.5 75 422 74.4 423.5 73.7 425 73.1 426.5 72.4 428 71.8 429.5 71.2 431 70.5 432.5 69.9 434 69.2 435.5 68.6 437 68 438.5 67.3 440 66.7 441.5 66.1 443 65.4 444.5 64.8 446 64.1 447.5 63.5 449 62.9 450.5 62.2 452 61.6 453.5 60.9 455 60.3 456.5 59.7 458 59 459.5 58.4 461 57.7 462.5 57.1 464 56.5 465.5 55.8 467 55.2 468.5 54.5 470 53.9 471.5 53.3 473 52.6 474.5 52 476 51.4 477.5 50.7 479 50.1 480.5 49.4 482 48.8 483.5 48.2 485 47.5 486.5 46.9 488 46.2 489.5 45.6 491 45 492.5 44.3 494 43.7 495.5 43 497 42.4 498.5 41.8 500 41.1 501.5 40.5 503 39.9 504.5 39.2 506 38.6 507.5 37.9 509 37.3 510.5 36.7 512 36 513.5 35.4 515 34.7 516.5 34.1 518 33.5 519.5 32.8 520.5 32.4" fill="none" stroke="#000000" stroke-width="1.5" stroke-linejoin="round"/><g fill="none" stroke="#000000" stroke-width="0.7" stroke-opacity="0.55"><use href="#sq0_80" x="312.5" y="121"/><use href="#sq0_80" x="317.7" y="118.8"/><use href="#sq0_80" x="322.9" y="116.6"/><use href="#sq0_80" x="328.1" y="114.4"/><use href="#sq0_80" x="333.3" y="112.1"/><use href="#sq0_80" x="338.5" y="109.9"/><use href="#sq0_80" x="343.7" y="107.7"/><use href="#sq0_80" x="348.9" y="105.5"/><use href="#sq0_80" x="354.1" y="103.3"/><use href="#sq0_80" x="359.3" y="101.1"/><use href="#sq0_80" x="364.5" y="98.8"/><use href="#sq0_80" x="369.7" y="96.6"/><use href="#sq0_80" x="374.9" y="94.4"/><use href="#sq0_80" x="380.1" y="92.2"/><use href="#sq0_80" x="385.3" y="90"/><use href="#sq0_80" x="390.5" y="87.8"/><use href="#sq0_80" x="395.7" y="85.6"/><use href="#sq0_80" x="400.9" y="83.3"/><use href="#sq0_80" x="406.1" y="81.1"/><use href="#sq0_80" x="411.3" y="78.9"/><use href="#sq0_80" x="416.5" y="76.7"/><use href="#sq0_80" x="421.7" y="74.5"/><use href="#sq0_80" x="426.9" y="72.3"/><use href="#sq0_80" x="432.1" y="70.1"/><use href="#sq0_80" x="437.3" y="67.8"/><use href="#sq0_80" x="442.5" y="65.6"/><use href="#sq0_80" x="447.7" y="63.4"/><use href="#sq0_80" x="452.9" y="61.2"/><use href="#sq0_80" x="458.1" y="59"/><use href="#sq0_80" x="463.3" y="56.8"/><use href="#sq0_80" x="468.5" y="54.5"/><use href="#sq0_80" x="473.7" y="52.3"/><use href="#sq0_80" x="478.9" y="50.1"/><use href="#sq0_80" x="484.1" y="47.9"/><use href="#sq0_80" x="489.3" y="45.7"/><use href="#sq0_80" x="494.5" y="43.5"/><use href="#sq0_80" x="499.7" y="41.3"/><use href="#sq0_80" x="504.9" y="39"/><use href="#sq0_80" x="510.1" y="36.8"/><use href="#sq0_80" x="515.3" y="34.6"/><use href="#sq0_80" x="520.5" y="32.4"/></g>
<path d="M312.5 121.3 314 120.8 315.5 120.2 317 119.7 318.5 119.1 320 118.6 321.5 118 323 117.5 324.5 117 326 116.4 327.5 115.9 329 115.3 330.5 114.8 332 114.2 333.5 113.7 335 113.1 336.5 112.6 338 112.1 339.5 111.5 341 111 342.5 110.4 344 109.9 345.5 109.3 347 108.8 348.5 108.2 350 107.7 351.5 107.2 353 106.6 354.5 106.1 356 105.5 357.5 105 359 104.4 360.5 103.9 362 103.4 363.5 102.8 365 102.3 366.5 101.7 368 101.2 369.5 100.6 371 100.1 372.5 99.5 374 99 375.5 98.5 377 97.9 378.5 97.4 380 96.8 381.5 96.3 383 95.7 384.5 95.2 386 94.7 387.5 94.1 389 93.6 390.5 93 392 92.5 393.5 91.9 395 91.4 396.5 90.8 398 90.3 399.5 89.8 401 89.2 402.5 88.7 404 88.1 405.5 87.6 407 87 408.5 86.5 410 86 411.5 85.4 413 84.9 414.5 84.3 416 83.8 417.5 83.2 419 82.7 420.5 82.1 422 81.6 423.5 81.1 425 80.5 426.5 80 428 79.4 429.5 78.9 431 78.3 432.5 77.8 434 77.3 435.5 76.7 437 76.2 438.5 75.6 440 75.1 441.5 74.5 443 74 444.5 73.4 446 72.9 447.5 72.4 449 71.8 450.5 71.3 452 70.7 453.5 70.2 455 69.6 456.5 69.1 458 68.6 459.5 68 461 67.5 462.5 66.9 464 66.4 465.5 65.8 467 65.3 468.5 64.8 470 64.2 471.5 63.7 473 63.1 474.5 62.6 476 62 477.5 61.5 479 60.9 480.5 60.4 482 59.9 483.5 59.3 485 58.8 486.5 58.2 488 57.7 489.5 57.1 491 56.6 492.5 56 494 55.5 495.5 55 497 54.4 498.5 53.9 500 53.3 501.5 52.8 503 52.2 504.5 51.7 506 51.2 507.5 50.6 509 50.1 510.5 49.5 512 49 513.5 48.4 515 47.9 516.5 47.3 518 46.8 519.5 46.3 520.5 45.9" fill="none" stroke="#ff0000" stroke-width="1.5" stroke-linejoin="round"/><g fill="none" stroke="#ff0000" stroke-width="0.7" stroke-opacity="0.55"><use href="#ci0_80" x="312.5" y="123.3"/><use href="#ci0_80" x="317.7" y="121.4"/><use href="#ci0_80" x="322.9" y="119.5"/><use href="#ci0_80" x="328.1" y="117.6"/><use href="#ci0_80" x="333.3" y="115.8"/><use href="#ci0_80" x="338.5" y="113.9"/><use href="#ci0_80" x="343.7" y="112"/><use href="#ci0_80" x="348.9" y="110.1"/><use href="#ci0_80" x="354.1" y="108.2"/><use href="#ci0_80" x="359.3" y="106.3"/><use href="#ci0_80" x="364.5" y="104.4"/><use href="#ci0_80" x="369.7" y="102.6"/><use href="#ci0_80" x="374.9" y="100.7"/><use href="#ci0_80" x="380.1" y="98.8"/><use href="#ci0_80" x="385.3" y="96.9"/><use href="#ci0_80" x="390.5" y="95"/><use href="#ci0_80" x="395.7" y="93.1"/><use href="#ci0_80" x="400.9" y="91.3"/><use href="#ci0_80" x="406.1" y="89.4"/><use href="#ci0_80" x="411.3" y="87.5"/><use href="#ci0_80" x="416.5" y="85.6"/><use href="#ci0_80" x="421.7" y="83.7"/><use href="#ci0_80" x="426.9" y="81.8"/><use href="#ci0_80" x="432.1" y="79.9"/><use href="#ci0_80" x="437.3" y="78.1"/><use href="#ci0_80" x="442.5" y="76.2"/><use href="#ci0_80" x="447.7" y="74.3"/><use href="#ci0_80" x="452.9" y="72.4"/><use href="#ci0_80" x="458.1" y="70.5"/><use href="#ci0_80" x="463.3" y="68.6"/><use href="#ci0_80" x="468.5" y="66.8"/><use href="#ci0_80" x="473.7" y="64.9"/><use href="#ci0_80" x="478.9" y="63"/><use href="#ci0_80" x="484.1" y="61.1"/><use href="#ci0_80" x="489.3" y="59.2"/><use href="#ci0_80" x="494.5" y="57.3"/><use href="#ci0_80" x="499.7" y="55.4"/><use href="#ci0_80" x="504.9" y="53.6"/><use href="#ci0_80" x="510.1" y="51.7"/><use href="#ci0_80" x="515.3" y="49.8"/><use href="#ci0_80" x="520.5" y="47.9"/></g>
<path d="M312.5 123.3 314 123.2 315.5 123.2 317 123.1 318.5 123 320 123 321.5 122.9 323 122.8 324.5 122.8 326 122.7 327.5 122.6 329 122.6 330.5 122.5 332 122.4 333.5 122.4 335 122.3 336.5 122.2 338 122.2 339.5 122.1 341 122 342.5 122 344 121.9 345.5 121.8 347 121.8 348.5 121.7 350 121.6 351.5 121.6 353 121.5 354.5 121.4 356 121.4 357.5 121.3 359 121.2 360.5 121.2 362 121.1 363.5 121 365 121 366.5 120.9 368 120.8 369.5 120.8 371 120.7 372.5 120.6 374 120.6 375.5 120.5 377 120.4 378.5 120.3 380 120.3 381.5 120.2 383 120.1 384.5 120.1 386 120 387.5 119.9 389 119.9 390.5 119.8 392 119.7 393.5 119.7 395 119.6 396.5 119.5 398 119.5 399.5 119.4 401 119.3 402.5 119.3 404 119.2 405.5 119.1 407 119.1 408.5 119 410 118.9 411.5 118.9 413 118.8 414.5 118.7 416 118.7 417.5 118.6 419 118.5 420.5 118.5 422 118.4 423.5 118.3 425 118.3 426.5 118.2 428 118.1 429.5 118.1 431 118 432.5 117.9 434 117.9 435.5 117.8 437 117.7 438.5 117.7 440 117.6 441.5 117.5 443 117.5 444.5 117.4 446 117.3 447.5 117.3 449 117.2 450.5 117.1 452 117.1 453.5 117 455 116.9 456.5 116.9 458 116.8 459.5 116.7 461 116.7 462.5 116.6 464 116.5 465.5 116.5 467 116.4 468.5 116.3 470 116.3 471.5 116.2 473 116.1 474.5 116.1 476 116 477.5 115.9 479 115.9 480.5 115.8 482 115.7 483.5 115.7 485 115.6 486.5 115.5 488 115.5 489.5 115.4 491 115.3 492.5 115.3 494 115.2 495.5 115.1 497 115.1 498.5 115 500 114.9 501.5 114.8 503 114.8 504.5 114.7 506 114.6 507.5 114.6 509 114.5 510.5 114.4 512 114.4 513.5 114.3 515 114.2 516.5 114.2 518 114.1 519.5 114 520.5 114" fill="none" stroke="#7f7f7f" stroke-width="1.5" stroke-linejoin="round"/><g fill="none" stroke="#7f7f7f" stroke-width="0.7" stroke-opacity="0.55"><use href="#tu0_80" x="312.5" y="124.8"/><use href="#tu0_80" x="317.7" y="124.6"/><use href="#tu0_80" x="322.9" y="124.3"/><use href="#tu0_80" x="328.1" y="124.1"/><use href="#tu0_80" x="333.3" y="123.9"/><use href="#tu0_80" x="338.5" y="123.6"/><use href="#tu0_80" x="343.7" y="123.4"/><use href="#tu0_80" x="348.9" y="123.2"/><use href="#tu0_80" x="354.1" y="122.9"/><use href="#tu0_80" x="359.3" y="122.7"/><use href="#tu0_80" x="364.5" y="122.5"/><use href="#tu0_80" x="369.7" y="122.2"/><use href="#tu0_80" x="374.9" y="122"/><use href="#tu0_80" x="380.1" y="121.8"/><use href="#tu0_80" x="385.3" y="121.5"/><use href="#tu0_80" x="390.5" y="121.3"/><use href="#tu0_80" x="395.7" y="121.1"/><use href="#tu0_80" x="400.9" y="120.8"/><use href="#tu0_80" x="406.1" y="120.6"/><use href="#tu0_80" x="411.3" y="120.4"/><use href="#tu0_80" x="416.5" y="120.2"/><use href="#tu0_80" x="421.7" y="119.9"/><use href="#tu0_80" x="426.9" y="119.7"/><use href="#tu0_80" x="432.1" y="119.5"/><use href="#tu0_80" x="437.3" y="119.2"/><use href="#tu0_80" x="442.5" y="119"/><use href="#tu0_80" x="447.7" y="118.8"/><use href="#tu0_80" x="452.9" y="118.5"/><use href="#tu0_80" x="458.1" y="118.3"/><use href="#tu0_80" x="463.3" y="118.1"/><use href="#tu0_80" x="468.5" y="117.8"/><use href="#tu0_80" x="473.7" y="117.6"/><use href="#tu0_80" x="478.9" y="117.4"/><use href="#tu0_80" x="484.1" y="117.1"/><use href="#tu0_80" x="489.3" y="116.9"/><use href="#tu0_80" x="494.5" y="116.7"/><use href="#tu0_80" x="499.7" y="116.4"/><use href="#tu0_80" x="504.9" y="116.2"/><use href="#tu0_80" x="510.1" y="116"/><use href="#tu0_80" x="515.3" y="115.7"/><use href="#tu0_80" x="520.5" y="115.5"/></g>
<path d="M312.5 120.5 314 119.9 315.5 119.3 317 118.7 318.5 118.2 320 117.6 321.5 117 323 116.4 324.5 115.8 326 115.2 327.5 114.6 329 114 330.5 113.5 332 112.9 333.5 112.3 335 111.7 336.5 111.1 338 110.5 339.5 109.9 341 109.3 342.5 108.8 344 108.2 345.5 107.6 347 107 348.5 106.4 350 105.8 351.5 105.2 353 104.7 354.5 104.1 356 103.5 357.5 102.9 359 102.3 360.5 101.7 362 101.1 363.5 100.5 365 100 366.5 99.4 368 98.8 369.5 98.2 371 97.6 372.5 97 374 96.4 375.5 95.8 377 95.3 378.5 94.7 380 94.1 381.5 93.5 383 92.9 384.5 92.3 386 91.7 387.5 91.1 389 90.6 390.5 90 392 89.4 393.5 88.8 395 88.2 396.5 87.6 398 87 399.5 86.5 401 85.9 402.5 85.3 404 84.7 405.5 84.1 407 83.5 408.5 82.9 410 82.3 411.5 81.8 413 81.2 414.5 80.6 416 80 417.5 79.4 419 78.8 420.5 78.2 422 77.6 423.5 77.1 425 76.5 426.5 75.9 428 75.3 429.5 74.7 431 74.1 432.5 73.5 434 73 435.5 72.4 437 71.8 438.5 71.2 440 70.6 441.5 70 443 69.4 444.5 68.8 446 68.3 447.5 67.7 449 67.1 450.5 66.5 452 65.9 453.5 65.3 455 64.7 456.5 64.1 458 63.6 459.5 63 461 62.4 462.5 61.8 464 61.2 465.5 60.6 467 60 468.5 59.4 470 58.9 471.5 58.3 473 57.7 474.5 57.1 476 56.5 477.5 55.9 479 55.3 480.5 54.8 482 54.2 483.5 53.6 485 53 486.5 52.4 488 51.8 489.5 51.2 491 50.6 492.5 50.1 494 49.5 495.5 48.9 497 48.3 498.5 47.7 500 47.1 501.5 46.5 503 45.9 504.5 45.4 506 44.8 507.5 44.2 509 43.6 510.5 43 512 42.4 513.5 41.8 515 41.3 516.5 40.7 518 40.1 519.5 39.5 520.5 39.1" fill="none" stroke="#ff8c00" stroke-width="1.5" stroke-linejoin="round"/><g fill="none" stroke="#ff8c00" stroke-width="0.7" stroke-opacity="0.55"><use href="#di0_80" x="312.5" y="120.5"/><use href="#di0_80" x="317.7" y="118.5"/><use href="#di0_80" x="322.9" y="116.4"/><use href="#di0_80" x="328.1" y="114.4"/><use href="#di0_80" x="333.3" y="112.4"/><use href="#di0_80" x="338.5" y="110.3"/><use href="#di0_80" x="343.7" y="108.3"/><use href="#di0_80" x="348.9" y="106.3"/><use href="#di0_80" x="354.1" y="104.2"/><use href="#di0_80" x="359.3" y="102.2"/><use href="#di0_80" x="364.5" y="100.2"/><use href="#di0_80" x="369.7" y="98.1"/><use href="#di0_80" x="374.9" y="96.1"/><use href="#di0_80" x="380.1" y="94"/><use href="#di0_80" x="385.3" y="92"/><use href="#di0_80" x="390.5" y="90"/><use href="#di0_80" x="395.7" y="87.9"/><use href="#di0_80" x="400.9" y="85.9"/><use href="#di0_80" x="406.1" y="83.9"/><use href="#di0_80" x="411.3" y="81.8"/><use href="#di0_80" x="416.5" y="79.8"/><use href="#di0_80" x="421.7" y="77.8"/><use href="#di0_80" x="426.9" y="75.7"/><use href="#di0_80" x="432.1" y="73.7"/><use href="#di0_80" x="437.3" y="71.7"/><use href="#di0_80" x="442.5" y="69.6"/><use href="#di0_80" x="447.7" y="67.6"/><use href="#di0_80" x="452.9" y="65.6"/><use href="#di0_80" x="458.1" y="63.5"/><use href="#di0_80" x="463.3" y="61.5"/><use href="#di0_80" x="468.5" y="59.4"/><use href="#di0_80" x="473.7" y="57.4"/><use href="#di0_80" x="478.9" y="55.4"/><use href="#di0_80" x="484.1" y="53.3"/><use href="#di0_80" x="489.3" y="51.3"/><use href="#di0_80" x="494.5" y="49.3"/><use href="#di0_80" x="499.7" y="47.2"/><use href="#di0_80" x="504.9" y="45.2"/><use href="#di0_80" x="510.1" y="43.2"/><use href="#di0_80" x="515.3" y="41.1"/><use href="#di0_80" x="520.5" y="39.1"/></g>
<path d="M312.5 119.2 314 118.7 315.5 118.1 317 117.6 318.5 117.1 320 116.5 321.5 116 323 115.5 324.5 114.9 326 114.4 327.5 113.9 329 113.3 330.5 112.8 332 112.3 333.5 111.7 335 111.2 336.5 110.7 338 110.2 339.5 109.6 341 109.1 342.5 108.6 344 108 345.5 107.5 347 107 348.5 106.4 350 105.9 351.5 105.4 353 104.8 354.5 104.3 356 103.8 357.5 103.2 359 102.7 360.5 102.2 362 101.6 363.5 101.1 365 100.6 366.5 100 368 99.5 369.5 99 371 98.4 372.5 97.9 374 97.4 375.5 96.8 377 96.3 378.5 95.8 380 95.3 381.5 94.7 383 94.2 384.5 93.7 386 93.1 387.5 92.6 389 92.1 390.5 91.5 392 91 393.5 90.5 395 89.9 396.5 89.4 398 88.9 399.5 88.3 401 87.8 402.5 87.3 404 86.7 405.5 86.2 407 85.7 408.5 85.1 410 84.6 411.5 84.1 413 83.5 414.5 83 416 82.5 417.5 81.9 419 81.4 420.5 80.9 422 80.3 423.5 79.8 425 79.3 426.5 78.8 428 78.2 429.5 77.7 431 77.2 432.5 76.6 434 76.1 435.5 75.6 437 75 438.5 74.5 440 74 441.5 73.4 443 72.9 444.5 72.4 446 71.8 447.5 71.3 449 70.8 450.5 70.2 452 69.7 453.5 69.2 455 68.6 456.5 68.1 458 67.6 459.5 67 461 66.5 462.5 66 464 65.4 465.5 64.9 467 64.4 468.5 63.8 470 63.3 471.5 62.8 473 62.3 474.5 61.7 476 61.2 477.5 60.7 479 60.1 480.5 59.6 482 59.1 483.5 58.5 485 58 486.5 57.5 488 56.9 489.5 56.4 491 55.9 492.5 55.3 494 54.8 495.5 54.3 497 53.7 498.5 53.2 500 52.7 501.5 52.1 503 51.6 504.5 51.1 506 50.5 507.5 50 509 49.5 510.5 48.9 512 48.4 513.5 47.9 515 47.4 516.5 46.8 518 46.3 519.5 45.8 520.5 45.4" fill="none" stroke="#ff00ff" stroke-width="1.5" stroke-linejoin="round"/><g fill="none" stroke="#ff00ff" stroke-width="0.7" stroke-opacity="0.55"><use href="#td0_80" x="312.5" y="118.2"/><use href="#td0_80" x="317.7" y="116.4"/><use href="#td0_80" x="322.9" y="114.5"/><use href="#td0_80" x="328.1" y="112.7"/><use href="#td0_80" x="333.3" y="110.8"/><use href="#td0_80" x="338.5" y="109"/><use href="#td0_80" x="343.7" y="107.1"/><use href="#td0_80" x="348.9" y="105.3"/><use href="#td0_80" x="354.1" y="103.4"/><use href="#td0_80" x="359.3" y="101.6"/><use href="#td0_80" x="364.5" y="99.8"/><use href="#td0_80" x="369.7" y="97.9"/><use href="#td0_80" x="374.9" y="96.1"/><use href="#td0_80" x="380.1" y="94.2"/><use href="#td0_80" x="385.3" y="92.4"/><use href="#td0_80" x="390.5" y="90.5"/><use href="#td0_80" x="395.7" y="88.7"/><use href="#td0_80" x="400.9" y="86.8"/><use href="#td0_80" x="406.1" y="85"/><use href="#td0_80" x="411.3" y="83.1"/><use href="#td0_80" x="416.5" y="81.3"/><use href="#td0_80" x="421.7" y="79.5"/><use href="#td0_80" x="426.9" y="77.6"/><use href="#td0_80" x="432.1" y="75.8"/><use href="#td0_80" x="437.3" y="73.9"/><use href="#td0_80" x="442.5" y="72.1"/><use href="#td0_80" x="447.7" y="70.2"/><use href="#td0_80" x="452.9" y="68.4"/><use href="#td0_80" x="458.1" y="66.5"/><use href="#td0_80" x="463.3" y="64.7"/><use href="#td0_80" x="468.5" y="62.8"/><use href="#td0_80" x="473.7" y="61"/><use href="#td0_80" x="478.9" y="59.2"/><use href="#td0_80" x="484.1" y="57.3"/><use href="#td0_80" x="489.3" y="55.5"/><use href="#td0_80" x="494.5" y="53.6"/><use href="#td0_80" x="499.7" y="51.8"/><use href="#td0_80" x="504.9" y="49.9"/><use href="#td0_80" x="510.1" y="48.1"/><use href="#td0_80" x="515.3" y="46.2"/><use href="#td0_80" x="520.5" y="44.4"/></g>
<path d="M312.5 7 314 9.9 315.5 12.5 317 14.7 318.5 16.5 320 18 321.5 19.1 323 20 324.5 20.7 326 21.5 327.5 22.3 329 23 330.5 23.6 332 24.2 333.5 24.6 335 25.1 336.5 25.4 338 25.8 339.5 26.1 341 26.4 342.5 26.6 344 26.9 345.5 27.1 347 27.3 348.5 27.4 350 27.6 351.5 27.8 353 27.9 354.5 28.1 356 28.2 357.5 28.3 359 28.4 360.5 28.5 362 28.6 363.5 28.7 365 28.8 366.5 28.9 368 28.9 369.5 29 371 29.1 372.5 29.1 374 29.2 375.5 29.2 377 29.3 378.5 29.3 380 29.4 381.5 29.4 383 29.5 384.5 29.5 386 29.5 387.5 29.6 389 29.6 390.5 29.6 392 29.7 393.5 29.7 395 29.7 396.5 29.7 398 29.8 399.5 29.8 401 29.8 402.5 29.8 404 29.9 405.5 29.9 407 29.9 408.5 29.9 410 29.9 411.5 29.9 413 30 414.5 30 416 30 417.5 30 419 30 420.5 30 422 30 423.5 30 425 30.1 426.5 30.1 428 30.1 429.5 30.1 431 30.1 432.5 30.1 434 30.1 435.5 30.1 437 30.1 438.5 30.2 440 30.2 441.5 30.2 443 30.2 444.5 30.2 446 30.2 447.5 30.2 449 30.2 450.5 30.2 452 30.2 453.5 30.3 455 30.3 456.5 30.3 458 30.3 459.5 30.3 461 30.3 462.5 30.3 464 30.3 465.5 30.3 467 30.4 468.5 30.4 470 30.4 471.5 30.4 473 30.4 474.5 30.4 476 30.4 477.5 30.4 479 30.4 480.5 30.4 482 30.5 483.5 30.5 485 30.5 486.5 30.5 488 30.5 489.5 30.5 491 30.5 492.5 30.5 494 30.5 495.5 30.5 497 30.6 498.5 30.6 500 30.6 501.5 30.6 503 30.6 504.5 30.6 506 30.6 507.5 30.6 509 30.6 510.5 30.6 512 30.7 513.5 30.7 515 30.7 516.5 30.7 518 30.7 519.5 30.7 520.5 30.7" fill="none" stroke="#12b012" stroke-width="1.5" stroke-linejoin="round"/><g stroke="#12b012" stroke-width="1.1" fill="none"><use href="#pl0_80" x="312.5" y="7"/><use href="#pl0_80" x="317.7" y="15.6"/><use href="#pl0_80" x="322.9" y="19.9"/><use href="#pl0_80" x="328.1" y="22.6"/><use href="#pl0_80" x="333.3" y="24.6"/><use href="#pl0_80" x="338.5" y="25.9"/><use href="#pl0_80" x="343.7" y="26.8"/><use href="#pl0_80" x="348.9" y="27.5"/><use href="#pl0_80" x="354.1" y="28"/><use href="#pl0_80" x="359.3" y="28.5"/><use href="#pl0_80" x="364.5" y="28.8"/><use href="#pl0_80" x="369.7" y="29"/><use href="#pl0_80" x="374.9" y="29.2"/><use href="#pl0_80" x="380.1" y="29.4"/><use href="#pl0_80" x="385.3" y="29.5"/><use href="#pl0_80" x="390.5" y="29.6"/><use href="#pl0_80" x="395.7" y="29.7"/><use href="#pl0_80" x="400.9" y="29.8"/><use href="#pl0_80" x="406.1" y="29.9"/><use href="#pl0_80" x="411.3" y="29.9"/><use href="#pl0_80" x="416.5" y="30"/><use href="#pl0_80" x="421.7" y="30"/><use href="#pl0_80" x="426.9" y="30.1"/><use href="#pl0_80" x="432.1" y="30.1"/><use href="#pl0_80" x="437.3" y="30.1"/><use href="#pl0_80" x="442.5" y="30.2"/><use href="#pl0_80" x="447.7" y="30.2"/><use href="#pl0_80" x="452.9" y="30.2"/><use href="#pl0_80" x="458.1" y="30.3"/><use href="#pl0_80" x="463.3" y="30.3"/><use href="#pl0_80" x="468.5" y="30.4"/><use href="#pl0_80" x="473.7" y="30.4"/><use href="#pl0_80" x="478.9" y="30.4"/><use href="#pl0_80" x="484.1" y="30.5"/><use href="#pl0_80" x="489.3" y="30.5"/><use href="#pl0_80" x="494.5" y="30.5"/><use href="#pl0_80" x="499.7" y="30.6"/><use href="#pl0_80" x="504.9" y="30.6"/><use href="#pl0_80" x="510.1" y="30.6"/><use href="#pl0_80" x="515.3" y="30.7"/><use href="#pl0_80" x="520.5" y="30.7"/></g>
<text x="515" y="11.2" font-family="Liberation Sans" font-size="8.5" fill="#111" text-anchor="middle">u2</text>
<rect x="432.5" y="51" width="71.7" height="64.2" fill="#fff" stroke="#444" stroke-width="1.1"/>
<rect x="437.5" y="59.4" width="3.7" height="3.7" fill="none" stroke="#000000" stroke-width="0.9"/>
<text x="470.6" y="64.3" font-family="Liberation Mono" font-size="9" fill="#111" text-anchor="middle" font-style="italic" font-weight="bold">Q</text>
<circle cx="439.4" cy="70.2" r="3" fill="none" stroke="#ff0000" stroke-width="0.9"/>
<text x="470.6" y="73.2" font-family="Liberation Mono" font-size="9" fill="#ff2020" text-anchor="middle" font-style="italic" font-weight="bold">M</text>
<text x="437.3" y="82.4" font-family="Liberation Mono" font-size="7.5" fill="#999" text-anchor="start" textLength="60" lengthAdjust="spacingAndGlyphs">△10(1−γ)(P−W)</text>
<path d="M439.4 85.6L442.3 88.5L439.4 91.4L436.5 88.5Z" fill="none" stroke="#ff8c00" stroke-width="0.9"/>
<text x="470.6" y="91.5" font-family="Liberation Mono" font-size="9" fill="#ff9020" text-anchor="middle" font-style="italic" font-weight="bold">G</text>
<path d="M439.4 99.9L442.2 94.8L436.5 94.8Z" fill="none" stroke="#ff00ff" stroke-width="0.9"/>
<text x="470.6" y="99.9" font-family="Liberation Mono" font-size="9" fill="#ff20ff" text-anchor="middle" font-style="italic" font-weight="bold">U</text>
<path d="M437 105.8H441.8M439.4 103.4V108.2" stroke="#12b012" stroke-width="1.1" fill="none"/>
<text x="470.6" y="108.8" font-family="Liberation Mono" font-size="9" fill="#20a020" text-anchor="middle" font-weight="bold">10<tspan font-size="6" dy="-3.5">5</tspan><tspan dy="3.5" font-style="italic" font-weight="normal" font-family="Liberation Serif">π</tspan></text>

</g>
<clipPath id="cv1"><rect x="4" y="137" width="267" height="142"/></clipPath>
<g clip-path="url(#cv1)">
<path d="M39.4 274H260M39.4 240.9H260M39.4 207.8H260M39.4 174.8H260M39.4 141.7H260M77 139V278M114.9 139V278M152.8 139V278M190.6 139V278M228.5 139V278" stroke="#f1f1f1" stroke-width="1" fill="none"/>
<path d="M228.3 137V279" stroke="#3a3a3a" stroke-width="1.4" stroke-dasharray="2.2,4.4" stroke-dashoffset="-2.6" fill="none"/>
<path d="M39.4 139V278M39.4 240.9H260" stroke="#e0e0e0" stroke-width="0.8" fill="none"/>
<path d="M39.4 274H41.9M39.4 240.9H41.9M39.4 207.8H41.9M39.4 174.8H41.9M39.4 141.7H41.9M77 240.9V238.4M114.9 240.9V238.4M152.8 240.9V238.4M190.6 240.9V238.4M228.5 240.9V238.4" stroke="#b0b0b0" stroke-width="0.7" fill="none"/>
<text x="36.2" y="276.9" font-family="Liberation Sans" font-size="8.2" fill="#222" text-anchor="end" textLength="22.6" lengthAdjust="spacingAndGlyphs">−1000</text>
<text x="36.2" y="243.8" font-family="Liberation Sans" font-size="8.2" fill="#222" text-anchor="end" textLength="4.3" lengthAdjust="spacingAndGlyphs">0</text>
<text x="36.2" y="210.7" font-family="Liberation Sans" font-size="8.2" fill="#222" text-anchor="end" textLength="17.2" lengthAdjust="spacingAndGlyphs">1000</text>
<text x="36.2" y="177.7" font-family="Liberation Sans" font-size="8.2" fill="#222" text-anchor="end" textLength="17.2" lengthAdjust="spacingAndGlyphs">2000</text>
<text x="36.2" y="144.6" font-family="Liberation Sans" font-size="8.2" fill="#222" text-anchor="end" textLength="17.2" lengthAdjust="spacingAndGlyphs">3000</text>
<text x="77" y="250.4" font-family="Liberation Sans" font-size="8.2" fill="#222" text-anchor="middle" textLength="14.9" lengthAdjust="spacingAndGlyphs">0.82</text>
<text x="114.9" y="250.4" font-family="Liberation Sans" font-size="8.2" fill="#222" text-anchor="middle" textLength="14.9" lengthAdjust="spacingAndGlyphs">0.84</text>
<text x="152.8" y="250.4" font-family="Liberation Sans" font-size="8.2" fill="#222" text-anchor="middle" textLength="14.9" lengthAdjust="spacingAndGlyphs">0.86</text>
<text x="190.6" y="250.4" font-family="Liberation Sans" font-size="8.2" fill="#222" text-anchor="middle" textLength="14.9" lengthAdjust="spacingAndGlyphs">0.88</text>
<text x="228.5" y="250.4" font-family="Liberation Sans" font-size="8.2" fill="#222" text-anchor="middle" textLength="14.9" lengthAdjust="spacingAndGlyphs">0.90</text>
<text x="207.5" y="249.5" font-family="Liberation Sans" font-size="9" fill="#222" text-anchor="start" font-style="italic">ρ<tspan font-size="6.5" dy="1.2" font-style="normal">Q</tspan></text>
<path d="M39.4 144.4 40.9 144.4 42.4 144.4 43.9 144.4 45.4 144.5 46.9 144.5 48.4 144.5 49.9 144.6 51.4 144.6 52.9 144.7 54.4 144.7 55.9 144.8 57.4 144.9 58.9 144.9 60.4 145 61.9 145.1 63.4 145.2 64.9 145.3 66.4 145.4 67.9 145.5 69.4 145.6 70.9 145.7 72.4 145.8 73.9 145.9 75.4 146 76.9 146.2 78.4 146.3 79.9 146.4 81.4 146.5 82.9 146.7 84.4 146.8 85.9 146.9 87.4 147.1 88.9 147.2 90.4 147.4 91.9 147.5 93.4 147.7 94.9 147.8 96.4 147.9 97.9 148.1 99.4 148.2 100.9 148.4 102.4 148.5 103.9 148.7 105.4 148.9 106.9 149.1 108.4 149.3 109.9 149.5 111.4 149.7 112.9 149.9 114.4 150.2 115.9 150.4 117.4 150.7 118.9 150.9 120.4 151.2 121.9 151.5 123.4 151.8 124.9 152.1 126.4 152.4 127.9 152.7 129.4 153 130.9 153.4 132.4 153.7 133.9 154.1 135.4 154.4 136.9 154.8 138.4 155.2 139.9 155.6 141.4 156 142.9 156.4 144.4 156.8 145.9 157.3 147.4 157.8 148.9 158.3 150.4 158.8 151.9 159.4 153.4 160.1 154.9 160.8 156.4 161.5 157.9 162.2 159.4 163 160.9 163.8 162.4 164.6 163.9 165.5 165.4 166.4 166.9 167.3 168.4 168.2 169.9 169.1 171.4 170.1 172.9 171.1 174.4 172.1 175.9 173.1 177.4 174.1 178.9 175.1 180.4 176.1 181.9 177.2 183.4 178.2 184.9 179.3 186.4 180.3 187.9 181.3 189.4 182.4 190.9 183.4 192.4 184.5 193.9 185.6 195.4 186.8 196.9 188 198.4 189.2 199.9 190.5 201.4 191.7 202.9 193 204.4 194.3 205.9 195.6 207.4 197 208.9 198.3 210.4 199.7 211.9 201.1 213.4 202.6 214.9 204.1 216.4 205.6 217.9 207.1 219.4 208.4 220.9 209.6 222.4 210.6 223.9 211.5 225.4 212.5 226.9 213.6 228.4 215 229.9 216.9 231.4 219.1 232.9 221.6 234.4 224.2 235.9 226.8 237.4 229.9 238.9 233.5 240.4 237.1 241.9 239.8 243.4 241 244.9 241 246.4 241 247.9 241 249.4 241 250.9 241 252.4 241 253.9 241 255.4 241 256.9 241 258.4 241 259.9 241 260 241" fill="none" stroke="#000000" stroke-width="1.3" stroke-linejoin="round"/><g fill="#000000"><use href="#sq1_00" x="39.4" y="144.4"/><use href="#sq1_00" x="44.9" y="144.4"/><use href="#sq1_00" x="50.4" y="144.6"/><use href="#sq1_00" x="55.9" y="144.8"/><use href="#sq1_00" x="61.5" y="145.1"/><use href="#sq1_00" x="67" y="145.4"/><use href="#sq1_00" x="72.5" y="145.8"/><use href="#sq1_00" x="78" y="146.2"/><use href="#sq1_00" x="83.5" y="146.7"/><use href="#sq1_00" x="89" y="147.2"/><use href="#sq1_00" x="94.5" y="147.8"/><use href="#sq1_00" x="100.1" y="148.3"/><use href="#sq1_00" x="105.6" y="148.9"/><use href="#sq1_00" x="111.1" y="149.7"/><use href="#sq1_00" x="116.6" y="150.5"/><use href="#sq1_00" x="122.1" y="151.5"/><use href="#sq1_00" x="127.6" y="152.6"/><use href="#sq1_00" x="133.2" y="153.9"/><use href="#sq1_00" x="138.7" y="155.3"/><use href="#sq1_00" x="144.2" y="156.8"/><use href="#sq1_00" x="149.7" y="158.6"/><use href="#sq1_00" x="155.2" y="160.9"/><use href="#sq1_00" x="160.7" y="163.7"/><use href="#sq1_00" x="166.2" y="166.9"/><use href="#sq1_00" x="171.8" y="170.3"/><use href="#sq1_00" x="177.3" y="174"/><use href="#sq1_00" x="182.8" y="177.8"/><use href="#sq1_00" x="188.3" y="181.6"/><use href="#sq1_00" x="193.8" y="185.6"/><use href="#sq1_00" x="199.3" y="190"/><use href="#sq1_00" x="204.8" y="194.7"/><use href="#sq1_00" x="210.4" y="199.6"/><use href="#sq1_00" x="215.9" y="205.1"/><use href="#sq1_00" x="221.4" y="209.9"/><use href="#sq1_00" x="226.9" y="213.6"/><use href="#sq1_00" x="232.4" y="220.8"/><use href="#sq1_00" x="237.9" y="231.1"/><use href="#sq1_00" x="243.5" y="241"/><use href="#sq1_00" x="249" y="241"/><use href="#sq1_00" x="254.5" y="241"/><use href="#sq1_00" x="260" y="241"/></g>
<path d="M39.4 229.2 40.9 229.2 42.4 229.2 43.9 229.1 45.4 229.1 46.9 229.1 48.4 229.1 49.9 229 51.4 229 52.9 228.9 54.4 228.9 55.9 228.9 57.4 228.8 58.9 228.8 60.4 228.7 61.9 228.7 63.4 228.6 64.9 228.6 66.4 228.5 67.9 228.5 69.4 228.4 70.9 228.4 72.4 228.3 73.9 228.2 75.4 228.2 76.9 228.1 78.4 228 79.9 228 81.4 227.9 82.9 227.8 84.4 227.8 85.9 227.7 87.4 227.6 88.9 227.6 90.4 227.5 91.9 227.4 93.4 227.3 94.9 227.3 96.4 227.2 97.9 227.1 99.4 227 100.9 227 102.4 226.9 103.9 226.8 105.4 226.7 106.9 226.6 108.4 226.5 109.9 226.4 111.4 226.3 112.9 226.2 114.4 226.1 115.9 226 117.4 225.9 118.9 225.7 120.4 225.6 121.9 225.5 123.4 225.4 124.9 225.2 126.4 225.1 127.9 225 129.4 224.9 130.9 224.7 132.4 224.6 133.9 224.4 135.4 224.3 136.9 224.2 138.4 224 139.9 223.9 141.4 223.7 142.9 223.6 144.4 223.5 145.9 223.3 147.4 223.2 148.9 223 150.4 222.9 151.9 222.7 153.4 222.6 154.9 222.4 156.4 222.2 157.9 222.1 159.4 221.9 160.9 221.8 162.4 221.6 163.9 221.4 165.4 221.2 166.9 221.1 168.4 220.9 169.9 220.7 171.4 220.5 172.9 220.4 174.4 220.2 175.9 220 177.4 219.8 178.9 219.6 180.4 219.4 181.9 219.2 183.4 219 184.9 218.8 186.4 218.6 187.9 218.4 189.4 218.2 190.9 218 192.4 217.7 193.9 217.5 195.4 217.2 196.9 216.9 198.4 216.7 199.9 216.5 201.4 216.3 202.9 216.1 204.4 215.9 205.9 215.8 207.4 215.6 208.9 215.5 210.4 215.3 211.9 215.2 213.4 215.2 214.9 215.2 216.4 215.2 217.9 215.3 219.4 215.4 220.9 215.5 222.4 215.7 223.9 215.9 225.4 216.1 226.9 216.3 228.4 216.6 229.9 217.1 231.4 218 232.9 219.1 234.4 220.5 235.9 222.1 237.4 225 238.9 229.7 240.4 234.9 241.9 239.1 243.4 241 244.9 241 246.4 241 247.9 241 249.4 241 250.9 241 252.4 241 253.9 241 255.4 241 256.9 241 258.4 241 259.9 241 260 241" fill="none" stroke="#ff0000" stroke-width="1.3" stroke-linejoin="round"/><g fill="#ff0000"><use href="#ci1_00" x="39.4" y="229.2"/><use href="#ci1_00" x="44.9" y="229.1"/><use href="#ci1_00" x="50.4" y="229"/><use href="#ci1_00" x="55.9" y="228.9"/><use href="#ci1_00" x="61.5" y="228.7"/><use href="#ci1_00" x="67" y="228.5"/><use href="#ci1_00" x="72.5" y="228.3"/><use href="#ci1_00" x="78" y="228.1"/><use href="#ci1_00" x="83.5" y="227.8"/><use href="#ci1_00" x="89" y="227.5"/><use href="#ci1_00" x="94.5" y="227.3"/><use href="#ci1_00" x="100.1" y="227"/><use href="#ci1_00" x="105.6" y="226.7"/><use href="#ci1_00" x="111.1" y="226.3"/><use href="#ci1_00" x="116.6" y="225.9"/><use href="#ci1_00" x="122.1" y="225.5"/><use href="#ci1_00" x="127.6" y="225"/><use href="#ci1_00" x="133.2" y="224.5"/><use href="#ci1_00" x="138.7" y="224"/><use href="#ci1_00" x="144.2" y="223.5"/><use href="#ci1_00" x="149.7" y="222.9"/><use href="#ci1_00" x="155.2" y="222.4"/><use href="#ci1_00" x="160.7" y="221.8"/><use href="#ci1_00" x="166.2" y="221.1"/><use href="#ci1_00" x="171.8" y="220.5"/><use href="#ci1_00" x="177.3" y="219.8"/><use href="#ci1_00" x="182.8" y="219.1"/><use href="#ci1_00" x="188.3" y="218.3"/><use href="#ci1_00" x="193.8" y="217.5"/><use href="#ci1_00" x="199.3" y="216.6"/><use href="#ci1_00" x="204.8" y="215.9"/><use href="#ci1_00" x="210.4" y="215.3"/><use href="#ci1_00" x="215.9" y="215.2"/><use href="#ci1_00" x="221.4" y="215.6"/><use href="#ci1_00" x="226.9" y="216.3"/><use href="#ci1_00" x="232.4" y="218.7"/><use href="#ci1_00" x="237.9" y="226.5"/><use href="#ci1_00" x="243.5" y="241"/><use href="#ci1_00" x="249" y="241"/><use href="#ci1_00" x="254.5" y="241"/><use href="#ci1_00" x="260" y="241"/></g>
<path d="M39.4 142.4 40.9 142.4 42.4 142.4 43.9 142.4 45.4 142.4 46.9 142.4 48.4 142.5 49.9 142.5 51.4 142.5 52.9 142.5 54.4 142.5 55.9 142.6 57.4 142.6 58.9 142.6 60.4 142.7 61.9 142.7 63.4 142.7 64.9 142.8 66.4 142.8 67.9 142.9 69.4 142.9 70.9 143 72.4 143 73.9 143.1 75.4 143.1 76.9 143.2 78.4 143.3 79.9 143.3 81.4 143.4 82.9 143.4 84.4 143.5 85.9 143.6 87.4 143.6 88.9 143.7 90.4 143.8 91.9 143.9 93.4 143.9 94.9 144 96.4 144.1 97.9 144.2 99.4 144.3 100.9 144.4 102.4 144.5 103.9 144.6 105.4 144.7 106.9 144.9 108.4 145 109.9 145.2 111.4 145.4 112.9 145.6 114.4 145.8 115.9 146.1 117.4 146.3 118.9 146.6 120.4 146.8 121.9 147.1 123.4 147.4 124.9 147.7 126.4 148 127.9 148.4 129.4 148.7 130.9 149 132.4 149.4 133.9 149.7 135.4 150.1 136.9 150.4 138.4 150.8 139.9 151.2 141.4 151.6 142.9 152 144.4 152.3 145.9 152.7 147.4 153.2 148.9 153.6 150.4 154.1 151.9 154.5 153.4 155 154.9 155.6 156.4 156.1 157.9 156.7 159.4 157.3 160.9 157.9 162.4 158.5 163.9 159.1 165.4 159.8 166.9 160.5 168.4 161.2 169.9 161.9 171.4 162.7 172.9 163.4 174.4 164.2 175.9 165 177.4 165.8 178.9 166.7 180.4 167.5 181.9 168.4 183.4 169.3 184.9 170.2 186.4 171.1 187.9 172.1 189.4 173 190.9 174 192.4 175.1 193.9 176.2 195.4 177.4 196.9 178.7 198.4 180 199.9 181.5 201.4 183 202.9 184.6 204.4 186.3 205.9 188.1 207.4 190.1 208.9 192.4 210.4 194.8 211.9 197.4 213.4 200.1 214.9 202.8 216.4 205.7 217.9 208.9 219.4 212.2 220.9 215.5 222.4 218.9 223.9 222.3 225.4 225.8 226.9 229.4 228.4 233 229.9 236.6 231.4 240.3 232.9 244 234.4 247.8 235.9 251.7 237.4 256.4 238.9 262 240.4 267.5 241.9 271.8 243.4 273.9 244.9 274 246.4 274 247.9 274 249.4 274 250.9 274 252.4 274 253.9 274 255.4 274 256.9 274 258.4 274 259.9 274 260 274" fill="none" stroke="#7f7f7f" stroke-width="1.3" stroke-linejoin="round"/><g fill="#7f7f7f"><use href="#tu1_00" x="39.4" y="142.4"/><use href="#tu1_00" x="44.9" y="142.4"/><use href="#tu1_00" x="50.4" y="142.5"/><use href="#tu1_00" x="55.9" y="142.6"/><use href="#tu1_00" x="61.5" y="142.7"/><use href="#tu1_00" x="67" y="142.8"/><use href="#tu1_00" x="72.5" y="143"/><use href="#tu1_00" x="78" y="143.2"/><use href="#tu1_00" x="83.5" y="143.5"/><use href="#tu1_00" x="89" y="143.7"/><use href="#tu1_00" x="94.5" y="144"/><use href="#tu1_00" x="100.1" y="144.3"/><use href="#tu1_00" x="105.6" y="144.7"/><use href="#tu1_00" x="111.1" y="145.4"/><use href="#tu1_00" x="116.6" y="146.2"/><use href="#tu1_00" x="122.1" y="147.2"/><use href="#tu1_00" x="127.6" y="148.3"/><use href="#tu1_00" x="133.2" y="149.5"/><use href="#tu1_00" x="138.7" y="150.9"/><use href="#tu1_00" x="144.2" y="152.3"/><use href="#tu1_00" x="149.7" y="153.8"/><use href="#tu1_00" x="155.2" y="155.7"/><use href="#tu1_00" x="160.7" y="157.8"/><use href="#tu1_00" x="166.2" y="160.2"/><use href="#tu1_00" x="171.8" y="162.8"/><use href="#tu1_00" x="177.3" y="165.8"/><use href="#tu1_00" x="182.8" y="168.9"/><use href="#tu1_00" x="188.3" y="172.3"/><use href="#tu1_00" x="193.8" y="176.1"/><use href="#tu1_00" x="199.3" y="180.9"/><use href="#tu1_00" x="204.8" y="186.8"/><use href="#tu1_00" x="210.4" y="194.8"/><use href="#tu1_00" x="215.9" y="204.7"/><use href="#tu1_00" x="221.4" y="216.6"/><use href="#tu1_00" x="226.9" y="229.4"/><use href="#tu1_00" x="232.4" y="242.8"/><use href="#tu1_00" x="237.9" y="258.4"/><use href="#tu1_00" x="243.5" y="274"/><use href="#tu1_00" x="249" y="274"/><use href="#tu1_00" x="254.5" y="274"/><use href="#tu1_00" x="260" y="274"/></g>
<path d="M39.4 206 40.9 206 42.4 206 43.9 206 45.4 206 46.9 206 48.4 206 49.9 206 51.4 206 52.9 206 54.4 206 55.9 206 57.4 206 58.9 206 60.4 206 61.9 206 63.4 206 64.9 206 66.4 206 67.9 206 69.4 206 70.9 206 72.4 206 73.9 206 75.4 206 76.9 206 78.4 206 79.9 206 81.4 206 82.9 206.1 84.4 206.1 85.9 206.1 87.4 206.1 88.9 206.1 90.4 206.1 91.9 206.1 93.4 206.1 94.9 206.1 96.4 206.1 97.9 206.1 99.4 206.1 100.9 206.1 102.4 206.1 103.9 206.1 105.4 206.2 106.9 206.2 108.4 206.2 109.9 206.2 111.4 206.3 112.9 206.3 114.4 206.4 115.9 206.4 117.4 206.5 118.9 206.6 120.4 206.6 121.9 206.7 123.4 206.8 124.9 206.8 126.4 206.9 127.9 207 129.4 207.1 130.9 207.2 132.4 207.2 133.9 207.3 135.4 207.4 136.9 207.5 138.4 207.6 139.9 207.7 141.4 207.8 142.9 207.9 144.4 208 145.9 208.1 147.4 208.2 148.9 208.3 150.4 208.4 151.9 208.5 153.4 208.6 154.9 208.7 156.4 208.9 157.9 209 159.4 209.1 160.9 209.3 162.4 209.4 163.9 209.6 165.4 209.8 166.9 209.9 168.4 210.1 169.9 210.3 171.4 210.5 172.9 210.7 174.4 210.9 175.9 211.1 177.4 211.3 178.9 211.5 180.4 211.7 181.9 212 183.4 212.2 184.9 212.4 186.4 212.7 187.9 212.9 189.4 213.2 190.9 213.5 192.4 213.8 193.9 214.1 195.4 214.4 196.9 214.8 198.4 215.2 199.9 215.7 201.4 216.1 202.9 216.6 204.4 217.1 205.9 217.6 207.4 218.1 208.9 218.6 210.4 219.1 211.9 219.7 213.4 220.3 214.9 220.9 216.4 221.6 217.9 222.4 219.4 223.2 220.9 224 222.4 225 223.9 226.2 225.4 227.3 226.9 228.6 228.4 229.8 229.9 230.9 231.4 232.1 232.9 233.5 234.4 235 235.9 236.5 237.4 237.8 238.9 239.1 240.4 240.1 241.9 240.7 243.4 241 244.9 241 246.4 241 247.9 241 249.4 241 250.9 241 252.4 241 253.9 241 255.4 241 256.9 241 258.4 241 259.9 241 260 241" fill="none" stroke="#00ffff" stroke-width="1.3" stroke-linejoin="round"/><g fill="#00ffff"><use href="#st1_00" x="39.4" y="206"/><use href="#st1_00" x="44.9" y="206"/><use href="#st1_00" x="50.4" y="206"/><use href="#st1_00" x="55.9" y="206"/><use href="#st1_00" x="61.5" y="206"/><use href="#st1_00" x="67" y="206"/><use href="#st1_00" x="72.5" y="206"/><use href="#st1_00" x="78" y="206"/><use href="#st1_00" x="83.5" y="206.1"/><use href="#st1_00" x="89" y="206.1"/><use href="#st1_00" x="94.5" y="206.1"/><use href="#st1_00" x="100.1" y="206.1"/><use href="#st1_00" x="105.6" y="206.2"/><use href="#st1_00" x="111.1" y="206.3"/><use href="#st1_00" x="116.6" y="206.5"/><use href="#st1_00" x="122.1" y="206.7"/><use href="#st1_00" x="127.6" y="207"/><use href="#st1_00" x="133.2" y="207.3"/><use href="#st1_00" x="138.7" y="207.6"/><use href="#st1_00" x="144.2" y="207.9"/><use href="#st1_00" x="149.7" y="208.3"/><use href="#st1_00" x="155.2" y="208.8"/><use href="#st1_00" x="160.7" y="209.3"/><use href="#st1_00" x="166.2" y="209.9"/><use href="#st1_00" x="171.8" y="210.5"/><use href="#st1_00" x="177.3" y="211.3"/><use href="#st1_00" x="182.8" y="212.1"/><use href="#st1_00" x="188.3" y="213"/><use href="#st1_00" x="193.8" y="214.1"/><use href="#st1_00" x="199.3" y="215.5"/><use href="#st1_00" x="204.8" y="217.2"/><use href="#st1_00" x="210.4" y="219.1"/><use href="#st1_00" x="215.9" y="221.4"/><use href="#st1_00" x="221.4" y="224.4"/><use href="#st1_00" x="226.9" y="228.6"/><use href="#st1_00" x="232.4" y="233.1"/><use href="#st1_00" x="237.9" y="238.3"/><use href="#st1_00" x="243.5" y="241"/><use href="#st1_00" x="249" y="241"/><use href="#st1_00" x="254.5" y="241"/><use href="#st1_00" x="260" y="241"/></g>
<path d="M39.4 199 40.9 199 42.4 199 43.9 199.1 45.4 199.1 46.9 199.1 48.4 199.1 49.9 199.1 51.4 199.2 52.9 199.2 54.4 199.2 55.9 199.3 57.4 199.3 58.9 199.3 60.4 199.3 61.9 199.4 63.4 199.4 64.9 199.4 66.4 199.5 67.9 199.5 69.4 199.5 70.9 199.6 72.4 199.6 73.9 199.6 75.4 199.7 76.9 199.7 78.4 199.7 79.9 199.8 81.4 199.8 82.9 199.8 84.4 199.9 85.9 199.9 87.4 200 88.9 200 90.4 200 91.9 200.1 93.4 200.1 94.9 200.2 96.4 200.2 97.9 200.2 99.4 200.3 100.9 200.3 102.4 200.4 103.9 200.4 105.4 200.4 106.9 200.5 108.4 200.5 109.9 200.6 111.4 200.6 112.9 200.7 114.4 200.7 115.9 200.8 117.4 200.8 118.9 200.9 120.4 200.9 121.9 201 123.4 201 124.9 201.1 126.4 201.1 127.9 201.2 129.4 201.2 130.9 201.3 132.4 201.4 133.9 201.4 135.4 201.5 136.9 201.6 138.4 201.6 139.9 201.7 141.4 201.8 142.9 201.9 144.4 202 145.9 202.1 147.4 202.2 148.9 202.3 150.4 202.4 151.9 202.5 153.4 202.6 154.9 202.8 156.4 202.9 157.9 203.1 159.4 203.3 160.9 203.5 162.4 203.6 163.9 203.8 165.4 204 166.9 204.2 168.4 204.5 169.9 204.7 171.4 204.9 172.9 205.1 174.4 205.4 175.9 205.6 177.4 205.9 178.9 206.1 180.4 206.4 181.9 206.7 183.4 206.9 184.9 207.2 186.4 207.5 187.9 207.8 189.4 208.1 190.9 208.4 192.4 208.7 193.9 209 195.4 209.4 196.9 209.8 198.4 210.2 199.9 210.6 201.4 211 202.9 211.5 204.4 212 205.9 212.5 207.4 213 208.9 213.6 210.4 214.2 211.9 214.8 213.4 215.6 214.9 216.4 216.4 217.3 217.9 218.2 219.4 219.2 220.9 220.2 222.4 221.4 223.9 222.6 225.4 223.8 226.9 225.1 228.4 226.3 229.9 227.5 231.4 228.6 232.9 229.7 234.4 230.9 235.9 232.2 237.4 234 238.9 236.2 240.4 238.5 241.9 240.2 243.4 241 244.9 241 246.4 241 247.9 241 249.4 241 250.9 241 252.4 241 253.9 241 255.4 241 256.9 241 258.4 241 259.9 241 260 241" fill="none" stroke="#ff7f00" stroke-width="1.3" stroke-linejoin="round"/><g fill="#ff7f00"><use href="#di1_00" x="39.4" y="199"/><use href="#di1_00" x="44.9" y="199.1"/><use href="#di1_00" x="50.4" y="199.2"/><use href="#di1_00" x="55.9" y="199.3"/><use href="#di1_00" x="61.5" y="199.4"/><use href="#di1_00" x="67" y="199.5"/><use href="#di1_00" x="72.5" y="199.6"/><use href="#di1_00" x="78" y="199.7"/><use href="#di1_00" x="83.5" y="199.9"/><use href="#di1_00" x="89" y="200"/><use href="#di1_00" x="94.5" y="200.2"/><use href="#di1_00" x="100.1" y="200.3"/><use href="#di1_00" x="105.6" y="200.5"/><use href="#di1_00" x="111.1" y="200.6"/><use href="#di1_00" x="116.6" y="200.8"/><use href="#di1_00" x="122.1" y="201"/><use href="#di1_00" x="127.6" y="201.2"/><use href="#di1_00" x="133.2" y="201.4"/><use href="#di1_00" x="138.7" y="201.7"/><use href="#di1_00" x="144.2" y="202"/><use href="#di1_00" x="149.7" y="202.3"/><use href="#di1_00" x="155.2" y="202.8"/><use href="#di1_00" x="160.7" y="203.4"/><use href="#di1_00" x="166.2" y="204.2"/><use href="#di1_00" x="171.8" y="205"/><use href="#di1_00" x="177.3" y="205.9"/><use href="#di1_00" x="182.8" y="206.8"/><use href="#di1_00" x="188.3" y="207.9"/><use href="#di1_00" x="193.8" y="209"/><use href="#di1_00" x="199.3" y="210.4"/><use href="#di1_00" x="204.8" y="212.1"/><use href="#di1_00" x="210.4" y="214.1"/><use href="#di1_00" x="215.9" y="217"/><use href="#di1_00" x="221.4" y="220.6"/><use href="#di1_00" x="226.9" y="225.1"/><use href="#di1_00" x="232.4" y="229.3"/><use href="#di1_00" x="237.9" y="234.7"/><use href="#di1_00" x="243.5" y="241"/><use href="#di1_00" x="249" y="241"/><use href="#di1_00" x="254.5" y="241"/><use href="#di1_00" x="260" y="241"/></g>
<path d="M39.4 151.3 40.9 151.3 42.4 151.3 43.9 151.3 45.4 151.3 46.9 151.4 48.4 151.4 49.9 151.4 51.4 151.4 52.9 151.5 54.4 151.5 55.9 151.5 57.4 151.6 58.9 151.6 60.4 151.7 61.9 151.7 63.4 151.8 64.9 151.8 66.4 151.9 67.9 151.9 69.4 152 70.9 152.1 72.4 152.1 73.9 152.2 75.4 152.3 76.9 152.4 78.4 152.4 79.9 152.5 81.4 152.6 82.9 152.7 84.4 152.8 85.9 152.8 87.4 152.9 88.9 153 90.4 153.1 91.9 153.2 93.4 153.3 94.9 153.4 96.4 153.5 97.9 153.6 99.4 153.7 100.9 153.8 102.4 153.9 103.9 154 105.4 154.1 106.9 154.2 108.4 154.3 109.9 154.5 111.4 154.6 112.9 154.8 114.4 154.9 115.9 155.1 117.4 155.3 118.9 155.4 120.4 155.6 121.9 155.8 123.4 156 124.9 156.2 126.4 156.5 127.9 156.7 129.4 156.9 130.9 157.1 132.4 157.4 133.9 157.6 135.4 157.9 136.9 158.2 138.4 158.4 139.9 158.7 141.4 159 142.9 159.3 144.4 159.6 145.9 159.9 147.4 160.2 148.9 160.6 150.4 161 151.9 161.4 153.4 161.9 154.9 162.3 156.4 162.9 157.9 163.4 159.4 163.9 160.9 164.5 162.4 165.1 163.9 165.7 165.4 166.4 166.9 167 168.4 167.7 169.9 168.4 171.4 169.1 172.9 169.8 174.4 170.6 175.9 171.3 177.4 172.1 178.9 172.9 180.4 173.7 181.9 174.5 183.4 175.3 184.9 176.1 186.4 177 187.9 177.8 189.4 178.7 190.9 179.5 192.4 180.4 193.9 181.4 195.4 182.4 196.9 183.5 198.4 184.6 199.9 185.8 201.4 187 202.9 188.2 204.4 189.5 205.9 190.7 207.4 192 208.9 193.3 210.4 194.7 211.9 196 213.4 197.4 214.9 198.9 216.4 200.4 217.9 202 219.4 203.7 220.9 205.5 222.4 207.5 223.9 209.7 225.4 211.9 226.9 214.2 228.4 216.4 229.9 218.6 231.4 220.8 232.9 223.1 234.4 225.4 235.9 227.8 237.4 230.7 238.9 234.1 240.4 237.4 241.9 239.9 243.4 241 244.9 241 246.4 241 247.9 241 249.4 241 250.9 241 252.4 241 253.9 241 255.4 241 256.9 241 258.4 241 259.9 241 260 241" fill="none" stroke="#0000ff" stroke-width="1.3" stroke-linejoin="round"/><g fill="#0000ff"><use href="#td1_00" x="39.4" y="151.3"/><use href="#td1_00" x="44.9" y="151.3"/><use href="#td1_00" x="50.4" y="151.4"/><use href="#td1_00" x="55.9" y="151.5"/><use href="#td1_00" x="61.5" y="151.7"/><use href="#td1_00" x="67" y="151.9"/><use href="#td1_00" x="72.5" y="152.2"/><use href="#td1_00" x="78" y="152.4"/><use href="#td1_00" x="83.5" y="152.7"/><use href="#td1_00" x="89" y="153"/><use href="#td1_00" x="94.5" y="153.4"/><use href="#td1_00" x="100.1" y="153.7"/><use href="#td1_00" x="105.6" y="154.1"/><use href="#td1_00" x="111.1" y="154.6"/><use href="#td1_00" x="116.6" y="155.2"/><use href="#td1_00" x="122.1" y="155.9"/><use href="#td1_00" x="127.6" y="156.6"/><use href="#td1_00" x="133.2" y="157.5"/><use href="#td1_00" x="138.7" y="158.5"/><use href="#td1_00" x="144.2" y="159.5"/><use href="#td1_00" x="149.7" y="160.8"/><use href="#td1_00" x="155.2" y="162.5"/><use href="#td1_00" x="160.7" y="164.4"/><use href="#td1_00" x="166.2" y="166.7"/><use href="#td1_00" x="171.8" y="169.3"/><use href="#td1_00" x="177.3" y="172"/><use href="#td1_00" x="182.8" y="175"/><use href="#td1_00" x="188.3" y="178"/><use href="#td1_00" x="193.8" y="181.4"/><use href="#td1_00" x="199.3" y="185.3"/><use href="#td1_00" x="204.8" y="189.8"/><use href="#td1_00" x="210.4" y="194.6"/><use href="#td1_00" x="215.9" y="199.9"/><use href="#td1_00" x="221.4" y="206.2"/><use href="#td1_00" x="226.9" y="214.2"/><use href="#td1_00" x="232.4" y="222.4"/><use href="#td1_00" x="237.9" y="231.9"/><use href="#td1_00" x="243.5" y="241"/><use href="#td1_00" x="249" y="241"/><use href="#td1_00" x="254.5" y="241"/><use href="#td1_00" x="260" y="241"/></g>
<path d="M39.4 236 40.9 236 42.4 236 43.9 236 45.4 235.9 46.9 235.9 48.4 235.9 49.9 235.9 51.4 235.8 52.9 235.8 54.4 235.8 55.9 235.7 57.4 235.7 58.9 235.7 60.4 235.6 61.9 235.6 63.4 235.6 64.9 235.5 66.4 235.5 67.9 235.4 69.4 235.4 70.9 235.3 72.4 235.3 73.9 235.3 75.4 235.2 76.9 235.2 78.4 235.1 79.9 235.1 81.4 235 82.9 234.9 84.4 234.9 85.9 234.8 87.4 234.8 88.9 234.7 90.4 234.7 91.9 234.6 93.4 234.6 94.9 234.5 96.4 234.4 97.9 234.4 99.4 234.3 100.9 234.3 102.4 234.2 103.9 234.1 105.4 234.1 106.9 234 108.4 233.9 109.9 233.9 111.4 233.8 112.9 233.7 114.4 233.6 115.9 233.5 117.4 233.5 118.9 233.4 120.4 233.3 121.9 233.2 123.4 233.1 124.9 233 126.4 232.9 127.9 232.8 129.4 232.7 130.9 232.6 132.4 232.5 133.9 232.4 135.4 232.3 136.9 232.2 138.4 232 139.9 231.9 141.4 231.8 142.9 231.7 144.4 231.6 145.9 231.4 147.4 231.3 148.9 231.2 150.4 231 151.9 230.9 153.4 230.7 154.9 230.6 156.4 230.4 157.9 230.2 159.4 230.1 160.9 229.9 162.4 229.7 163.9 229.5 165.4 229.3 166.9 229.1 168.4 228.9 169.9 228.7 171.4 228.5 172.9 228.3 174.4 228.1 175.9 227.8 177.4 227.6 178.9 227.4 180.4 227.1 181.9 226.9 183.4 226.6 184.9 226.3 186.4 226.1 187.9 225.8 189.4 225.5 190.9 225.2 192.4 224.9 193.9 224.4 195.4 224 196.9 223.6 198.4 223.2 199.9 222.8 201.4 222.5 202.9 222.1 204.4 221.7 205.9 221.4 207.4 221.1 208.9 220.9 210.4 220.9 211.9 220.9 213.4 220.9 214.9 220.9 216.4 220.9 217.9 220.9 219.4 220.9 220.9 220.9 222.4 221.1 223.9 221.4 225.4 221.8 226.9 222.3 228.4 222.9 229.9 223.5 231.4 224.1 232.9 224.9 234.4 225.9 235.9 227.1 237.4 228.6 238.9 230.7 240.4 234.8 241.9 238.9 243.4 241 244.9 241 246.4 241 247.9 241 249.4 241 250.9 241 252.4 241 253.9 241 255.4 241 256.9 241 258.4 241 259.9 241 260 241" fill="none" stroke="#00ff00" stroke-width="1.3" stroke-linejoin="round"/><g fill="#00ff00"><use href="#cl1_00" x="39.4" y="236"/><use href="#cl1_00" x="44.9" y="235.9"/><use href="#cl1_00" x="50.4" y="235.9"/><use href="#cl1_00" x="55.9" y="235.7"/><use href="#cl1_00" x="61.5" y="235.6"/><use href="#cl1_00" x="67" y="235.5"/><use href="#cl1_00" x="72.5" y="235.3"/><use href="#cl1_00" x="78" y="235.1"/><use href="#cl1_00" x="83.5" y="234.9"/><use href="#cl1_00" x="89" y="234.7"/><use href="#cl1_00" x="94.5" y="234.5"/><use href="#cl1_00" x="100.1" y="234.3"/><use href="#cl1_00" x="105.6" y="234.1"/><use href="#cl1_00" x="111.1" y="233.8"/><use href="#cl1_00" x="116.6" y="233.5"/><use href="#cl1_00" x="122.1" y="233.2"/><use href="#cl1_00" x="127.6" y="232.8"/><use href="#cl1_00" x="133.2" y="232.4"/><use href="#cl1_00" x="138.7" y="232"/><use href="#cl1_00" x="144.2" y="231.6"/><use href="#cl1_00" x="149.7" y="231.1"/><use href="#cl1_00" x="155.2" y="230.5"/><use href="#cl1_00" x="160.7" y="229.9"/><use href="#cl1_00" x="166.2" y="229.2"/><use href="#cl1_00" x="171.8" y="228.5"/><use href="#cl1_00" x="177.3" y="227.6"/><use href="#cl1_00" x="182.8" y="226.7"/><use href="#cl1_00" x="188.3" y="225.7"/><use href="#cl1_00" x="193.8" y="224.5"/><use href="#cl1_00" x="199.3" y="223"/><use href="#cl1_00" x="204.8" y="221.6"/><use href="#cl1_00" x="210.4" y="220.9"/><use href="#cl1_00" x="215.9" y="220.9"/><use href="#cl1_00" x="221.4" y="221"/><use href="#cl1_00" x="226.9" y="222.3"/><use href="#cl1_00" x="232.4" y="224.6"/><use href="#cl1_00" x="237.9" y="229.1"/><use href="#cl1_00" x="243.5" y="241"/><use href="#cl1_00" x="249" y="241"/><use href="#cl1_00" x="254.5" y="241"/><use href="#cl1_00" x="260" y="241"/></g>
<path d="M39.4 225 40.9 225 42.4 225 43.9 225 45.4 225 46.9 225 48.4 225 49.9 225 51.4 225 52.9 225 54.4 225 55.9 225 57.4 225 58.9 225 60.4 225 61.9 225 63.4 225 64.9 225 66.4 225 67.9 225 69.4 225.1 70.9 225.1 72.4 225.1 73.9 225.1 75.4 225.1 76.9 225.1 78.4 225.1 79.9 225.1 81.4 225.1 82.9 225.1 84.4 225.1 85.9 225.1 87.4 225.1 88.9 225.1 90.4 225.1 91.9 225.2 93.4 225.2 94.9 225.2 96.4 225.2 97.9 225.2 99.4 225.2 100.9 225.2 102.4 225.2 103.9 225.2 105.4 225.3 106.9 225.3 108.4 225.3 109.9 225.4 111.4 225.4 112.9 225.5 114.4 225.5 115.9 225.6 117.4 225.6 118.9 225.7 120.4 225.7 121.9 225.8 123.4 225.9 124.9 226 126.4 226 127.9 226.1 129.4 226.2 130.9 226.3 132.4 226.3 133.9 226.4 135.4 226.5 136.9 226.6 138.4 226.6 139.9 226.7 141.4 226.8 142.9 226.9 144.4 227 145.9 227 147.4 227.1 148.9 227.2 150.4 227.3 151.9 227.4 153.4 227.5 154.9 227.5 156.4 227.6 157.9 227.7 159.4 227.8 160.9 227.9 162.4 228 163.9 228.1 165.4 228.2 166.9 228.3 168.4 228.4 169.9 228.5 171.4 228.6 172.9 228.8 174.4 228.9 175.9 229 177.4 229.1 178.9 229.3 180.4 229.4 181.9 229.5 183.4 229.7 184.9 229.8 186.4 230 187.9 230.2 189.4 230.3 190.9 230.5 192.4 230.7 193.9 231 195.4 231.2 196.9 231.5 198.4 231.8 199.9 232.1 201.4 232.5 202.9 232.8 204.4 233.1 205.9 233.4 207.4 233.7 208.9 234 210.4 234.3 211.9 234.5 213.4 234.8 214.9 235 216.4 235.2 217.9 235.4 219.4 235.6 220.9 235.9 222.4 236.1 223.9 236.3 225.4 236.6 226.9 236.8 228.4 237.1 229.9 237.4 231.4 237.7 232.9 238.2 234.4 238.7 235.9 239.2 237.4 239.8 238.9 240.2 240.4 240.6 241.9 240.9 243.4 241 244.9 241 246.4 241 247.9 241 249.4 241 250.9 241 252.4 241 253.9 241 255.4 241 256.9 241 258.4 241 259.9 241 260 241" fill="none" stroke="#800080" stroke-width="1.3" stroke-linejoin="round"/><g fill="#800080"><use href="#sq1_00" x="39.4" y="225"/><use href="#sq1_00" x="44.9" y="225"/><use href="#sq1_00" x="50.4" y="225"/><use href="#sq1_00" x="55.9" y="225"/><use href="#sq1_00" x="61.5" y="225"/><use href="#sq1_00" x="67" y="225"/><use href="#sq1_00" x="72.5" y="225.1"/><use href="#sq1_00" x="78" y="225.1"/><use href="#sq1_00" x="83.5" y="225.1"/><use href="#sq1_00" x="89" y="225.1"/><use href="#sq1_00" x="94.5" y="225.2"/><use href="#sq1_00" x="100.1" y="225.2"/><use href="#sq1_00" x="105.6" y="225.3"/><use href="#sq1_00" x="111.1" y="225.4"/><use href="#sq1_00" x="116.6" y="225.6"/><use href="#sq1_00" x="122.1" y="225.8"/><use href="#sq1_00" x="127.6" y="226.1"/><use href="#sq1_00" x="133.2" y="226.4"/><use href="#sq1_00" x="138.7" y="226.7"/><use href="#sq1_00" x="144.2" y="227"/><use href="#sq1_00" x="149.7" y="227.3"/><use href="#sq1_00" x="155.2" y="227.6"/><use href="#sq1_00" x="160.7" y="227.9"/><use href="#sq1_00" x="166.2" y="228.3"/><use href="#sq1_00" x="171.8" y="228.7"/><use href="#sq1_00" x="177.3" y="229.1"/><use href="#sq1_00" x="182.8" y="229.6"/><use href="#sq1_00" x="188.3" y="230.2"/><use href="#sq1_00" x="193.8" y="230.9"/><use href="#sq1_00" x="199.3" y="232"/><use href="#sq1_00" x="204.8" y="233.2"/><use href="#sq1_00" x="210.4" y="234.3"/><use href="#sq1_00" x="215.9" y="235.1"/><use href="#sq1_00" x="221.4" y="235.9"/><use href="#sq1_00" x="226.9" y="236.8"/><use href="#sq1_00" x="232.4" y="238"/><use href="#sq1_00" x="237.9" y="239.9"/><use href="#sq1_00" x="243.5" y="241"/><use href="#sq1_00" x="249" y="241"/><use href="#sq1_00" x="254.5" y="241"/><use href="#sq1_00" x="260" y="241"/></g>
<path d="M39.4 178.5 40.9 178.5 42.4 178.5 43.9 178.5 45.4 178.5 46.9 178.5 48.4 178.5 49.9 178.5 51.4 178.6 52.9 178.6 54.4 178.6 55.9 178.6 57.4 178.6 58.9 178.6 60.4 178.7 61.9 178.7 63.4 178.7 64.9 178.7 66.4 178.8 67.9 178.8 69.4 178.8 70.9 178.9 72.4 178.9 73.9 178.9 75.4 179 76.9 179 78.4 179 79.9 179.1 81.4 179.1 82.9 179.2 84.4 179.2 85.9 179.3 87.4 179.3 88.9 179.3 90.4 179.4 91.9 179.4 93.4 179.5 94.9 179.5 96.4 179.6 97.9 179.6 99.4 179.7 100.9 179.7 102.4 179.8 103.9 179.9 105.4 179.9 106.9 180 108.4 180.1 109.9 180.2 111.4 180.4 112.9 180.5 114.4 180.6 115.9 180.7 117.4 180.9 118.9 181 120.4 181.2 121.9 181.4 123.4 181.5 124.9 181.7 126.4 181.9 127.9 182.1 129.4 182.2 130.9 182.4 132.4 182.6 133.9 182.8 135.4 183 136.9 183.2 138.4 183.4 139.9 183.6 141.4 183.8 142.9 184 144.4 184.2 145.9 184.4 147.4 184.6 148.9 184.8 150.4 185.1 151.9 185.3 153.4 185.5 154.9 185.7 156.4 186 157.9 186.2 159.4 186.5 160.9 186.7 162.4 187 163.9 187.3 165.4 187.6 166.9 187.9 168.4 188.1 169.9 188.5 171.4 188.8 172.9 189.1 174.4 189.4 175.9 189.8 177.4 190.1 178.9 190.5 180.4 190.9 181.9 191.3 183.4 191.7 184.9 192.1 186.4 192.5 187.9 193 189.4 193.4 190.9 193.9 192.4 194.4 193.9 195 195.4 195.7 196.9 196.4 198.4 197.1 199.9 197.9 201.4 198.7 202.9 199.6 204.4 200.4 205.9 201.3 207.4 202.2 208.9 203.1 210.4 204 211.9 205 213.4 205.9 214.9 206.9 216.4 207.8 217.9 208.9 219.4 209.9 220.9 211 222.4 212.2 223.9 213.4 225.4 214.7 226.9 216.1 228.4 217.5 229.9 219.1 231.4 220.9 232.9 222.9 234.4 224.9 235.9 227.1 237.4 229.9 238.9 233.5 240.4 237 241.9 239.8 243.4 241 244.9 241 246.4 241 247.9 241 249.4 241 250.9 241 252.4 241 253.9 241 255.4 241 256.9 241 258.4 241 259.9 241 260 241" fill="none" stroke="#ff00ff" stroke-width="1.3" stroke-linejoin="round"/><g fill="#ff00ff"><use href="#td1_00" x="39.4" y="178.5"/><use href="#td1_00" x="44.9" y="178.5"/><use href="#td1_00" x="50.4" y="178.5"/><use href="#td1_00" x="55.9" y="178.6"/><use href="#td1_00" x="61.5" y="178.7"/><use href="#td1_00" x="67" y="178.8"/><use href="#td1_00" x="72.5" y="178.9"/><use href="#td1_00" x="78" y="179"/><use href="#td1_00" x="83.5" y="179.2"/><use href="#td1_00" x="89" y="179.3"/><use href="#td1_00" x="94.5" y="179.5"/><use href="#td1_00" x="100.1" y="179.7"/><use href="#td1_00" x="105.6" y="180"/><use href="#td1_00" x="111.1" y="180.3"/><use href="#td1_00" x="116.6" y="180.8"/><use href="#td1_00" x="122.1" y="181.4"/><use href="#td1_00" x="127.6" y="182"/><use href="#td1_00" x="133.2" y="182.7"/><use href="#td1_00" x="138.7" y="183.4"/><use href="#td1_00" x="144.2" y="184.2"/><use href="#td1_00" x="149.7" y="185"/><use href="#td1_00" x="155.2" y="185.8"/><use href="#td1_00" x="160.7" y="186.7"/><use href="#td1_00" x="166.2" y="187.7"/><use href="#td1_00" x="171.8" y="188.9"/><use href="#td1_00" x="177.3" y="190.1"/><use href="#td1_00" x="182.8" y="191.5"/><use href="#td1_00" x="188.3" y="193.1"/><use href="#td1_00" x="193.8" y="195"/><use href="#td1_00" x="199.3" y="197.6"/><use href="#td1_00" x="204.8" y="200.7"/><use href="#td1_00" x="210.4" y="204"/><use href="#td1_00" x="215.9" y="207.5"/><use href="#td1_00" x="221.4" y="211.4"/><use href="#td1_00" x="226.9" y="216.1"/><use href="#td1_00" x="232.4" y="222.2"/><use href="#td1_00" x="237.9" y="231.2"/><use href="#td1_00" x="243.5" y="241"/><use href="#td1_00" x="249" y="241"/><use href="#td1_00" x="254.5" y="241"/><use href="#td1_00" x="260" y="241"/></g>
<text x="250" y="145.6" font-family="Liberation Sans" font-size="8.5" fill="#111" text-anchor="middle">v1</text>
<rect x="57.2" y="140" width="42.8" height="90.5" fill="#fff" stroke="#444" stroke-width="1.1"/>
<rect x="61.8" y="146" width="4.1" height="4.1" fill="#000000"/>
<text x="81.2" y="151" font-family="Liberation Sans" font-size="9.5" fill="#111" text-anchor="middle" font-style="italic">q</text>
<circle cx="63.8" cy="157.3" r="2.9" fill="#ff0000"/>
<text x="81.2" y="160.3" font-family="Liberation Mono" font-size="8" fill="#ff2020" text-anchor="middle" font-style="italic" font-weight="bold">m</text>
<path d="M63.8 162.9L66.5 167.8L61.1 167.8Z" fill="#7f7f7f"/>
<text x="81.2" y="166.3" font-family="Liberation Sans" font-size="5.2" fill="#b8b8b8" text-anchor="middle" font-style="italic">γ (P−W)</text>
<path d="M70.2 167.7H92.2" stroke="#c8c8c8" stroke-width="0.6"/>
<text x="81.2" y="172.9" font-family="Liberation Sans" font-size="5.2" fill="#b8b8b8" text-anchor="middle" font-style="italic">n</text>
<path d="M63.8 173.1L64.7 175.3L67.2 175.5L65.3 177.1L65.9 179.5L63.8 178.2L61.7 179.5L62.3 177.1L60.4 175.5L62.9 175.3Z" fill="#00ffff"/>
<text x="81.2" y="179.6" font-family="Liberation Sans" font-size="9.5" fill="#20e0e0" text-anchor="middle" font-style="italic">c</text>
<path d="M63.8 183.5L66.8 186.5L63.8 189.5L60.8 186.5Z" fill="#ff7f00"/>
<text x="81.2" y="189.5" font-family="Liberation Mono" font-size="8.5" fill="#f0a040" text-anchor="middle" font-style="italic">o−q</text>
<path d="M63.8 198.1L66.6 193L60.9 193Z" fill="#0000ff"/>
<text x="81.2" y="198.1" font-family="Liberation Mono" font-size="9" fill="#3030ff" text-anchor="middle" font-style="italic" font-weight="bold">L<tspan font-size="6.5" dy="2">q</tspan></text>
<path d="M63.8 200.7L66.9 203.8L63.8 206.9L60.7 203.8Z" fill="#00ff00"/>
<text x="81.2" y="206.8" font-family="Liberation Mono" font-size="9" fill="#20e020" text-anchor="middle" font-style="italic" font-weight="bold">L<tspan font-size="6.5" dy="2">m</tspan></text>
<rect x="61.8" y="210.4" width="4.1" height="4.1" fill="#800080"/>
<text x="81.2" y="215.4" font-family="Liberation Mono" font-size="9" fill="#a02090" text-anchor="middle" font-weight="bold">10φ</text>
<path d="M63.8 224L66.6 218.9L60.9 218.9Z" fill="#ff00ff"/>
<text x="81.2" y="224" font-family="Liberation Sans" font-size="9.5" fill="#ff20ff" text-anchor="middle" font-style="italic">u</text>

</g>
<clipPath id="cv2"><rect x="271.5" y="137" width="273.5" height="142"/></clipPath>
<g clip-path="url(#cv2)">
<path d="M308.7 259.1H533.5M308.7 230.2H533.5M308.7 201.3H533.5M308.7 172.4H533.5M308.7 143.5H533.5M346.8 139V278M385.4 139V278M424 139V278M462.6 139V278M501.2 139V278" stroke="#f1f1f1" stroke-width="1" fill="none"/>
<path d="M501.2 137V279" stroke="#3a3a3a" stroke-width="1.4" stroke-dasharray="2.2,4.4" stroke-dashoffset="-2.6" fill="none"/>
<path d="M308.7 139V278M308.7 259.1H533.5" stroke="#e0e0e0" stroke-width="0.8" fill="none"/>
<path d="M308.7 259.1H311.2M308.7 230.2H311.2M308.7 201.3H311.2M308.7 172.4H311.2M308.7 143.5H311.2M346.8 259.1V256.6M385.4 259.1V256.6M424 259.1V256.6M462.6 259.1V256.6M501.2 259.1V256.6" stroke="#b0b0b0" stroke-width="0.7" fill="none"/>
<text x="306" y="262" font-family="Liberation Sans" font-size="8.2" fill="#222" text-anchor="end" textLength="4.3" lengthAdjust="spacingAndGlyphs">0</text>
<text x="306" y="233.1" font-family="Liberation Sans" font-size="8.2" fill="#222" text-anchor="end" textLength="22.4" lengthAdjust="spacingAndGlyphs">10 000</text>
<text x="306" y="204.2" font-family="Liberation Sans" font-size="8.2" fill="#222" text-anchor="end" textLength="22.4" lengthAdjust="spacingAndGlyphs">20 000</text>
<text x="306" y="175.3" font-family="Liberation Sans" font-size="8.2" fill="#222" text-anchor="end" textLength="22.4" lengthAdjust="spacingAndGlyphs">30 000</text>
<text x="306" y="146.4" font-family="Liberation Sans" font-size="8.2" fill="#222" text-anchor="end" textLength="22.4" lengthAdjust="spacingAndGlyphs">40 000</text>
<text x="346.8" y="269.7" font-family="Liberation Sans" font-size="8.2" fill="#222" text-anchor="middle" textLength="15" lengthAdjust="spacingAndGlyphs">0.82</text>
<text x="385.4" y="269.7" font-family="Liberation Sans" font-size="8.2" fill="#222" text-anchor="middle" textLength="15" lengthAdjust="spacingAndGlyphs">0.84</text>
<text x="424" y="269.7" font-family="Liberation Sans" font-size="8.2" fill="#222" text-anchor="middle" textLength="15" lengthAdjust="spacingAndGlyphs">0.86</text>
<text x="462.6" y="269.7" font-family="Liberation Sans" font-size="8.2" fill="#222" text-anchor="middle" textLength="15" lengthAdjust="spacingAndGlyphs">0.88</text>
<text x="501.2" y="269.7" font-family="Liberation Sans" font-size="8.2" fill="#222" text-anchor="middle" textLength="15" lengthAdjust="spacingAndGlyphs">0.90</text>
<text x="481" y="268.8" font-family="Liberation Sans" font-size="9" fill="#222" text-anchor="start" font-style="italic">ρ<tspan font-size="6.5" dy="1.2" font-style="normal">Q</tspan></text>
<path d="M308.7 259.1 310.2 259.1 311.7 259.1 313.2 259.1 314.7 259.1 316.2 259.1 317.7 259.1 319.2 259 320.7 259 322.2 259 323.7 259 325.2 259 326.7 258.9 328.2 258.9 329.7 258.9 331.2 258.8 332.7 258.8 334.2 258.8 335.7 258.7 337.2 258.7 338.7 258.7 340.2 258.6 341.7 258.6 343.2 258.5 344.7 258.5 346.2 258.5 347.7 258.4 349.2 258.4 350.7 258.3 352.2 258.3 353.7 258.2 355.2 258.2 356.7 258.1 358.2 258.1 359.7 258 361.2 258 362.7 257.9 364.2 257.8 365.7 257.7 367.2 257.6 368.7 257.5 370.2 257.4 371.7 257.3 373.2 257.1 374.7 257 376.2 256.9 377.7 256.7 379.2 256.5 380.7 256.4 382.2 256.2 383.7 256 385.2 255.9 386.7 255.7 388.2 255.5 389.7 255.3 391.2 255.2 392.7 255 394.2 254.8 395.7 254.6 397.2 254.4 398.7 254.2 400.2 254.1 401.7 253.9 403.2 253.7 404.7 253.5 406.2 253.4 407.7 253.2 409.2 253 410.7 252.9 412.2 252.7 413.7 252.6 415.2 252.4 416.7 252.2 418.2 252.1 419.7 251.9 421.2 251.7 422.7 251.6 424.2 251.4 425.7 251.2 427.2 251 428.7 250.8 430.2 250.6 431.7 250.4 433.2 250.2 434.7 249.9 436.2 249.7 437.7 249.4 439.2 249.1 440.7 248.9 442.2 248.6 443.7 248.2 445.2 247.9 446.7 247.5 448.2 247.1 449.7 246.6 451.2 246.2 452.7 245.7 454.2 245.2 455.7 244.6 457.2 244.1 458.7 243.5 460.2 243 461.7 242.4 463.2 241.8 464.7 241.1 466.2 240.5 467.7 239.8 469.2 239.2 470.7 238.5 472.2 237.7 473.7 236.9 475.2 236.1 476.7 235.2 478.2 234.3 479.7 233.3 481.2 232.3 482.7 231.3 484.2 230.2 485.7 229.1 487.2 228 488.7 227 490.2 225.9 491.7 224.7 493.2 223.5 494.7 222.2 496.2 220.8 497.7 219.5 499.2 218.1 500.7 216.8 502.2 215.5 503.7 214.3 505.2 213.2 506.7 212 508.2 210.7 509.7 209.4 511.2 208.3 512.7 207.3 514.2 206.6 515.7 206.2 517.2 206.2 518.7 206.1 520.2 206.1 521.7 206.1 523.2 206.1 524.7 206 526.2 206 527.7 206 529.2 206 530.7 206 532.2 206 533.5 206" fill="none" stroke="#000000" stroke-width="1.5" stroke-linejoin="round"/><g fill="none" stroke="#000000" stroke-width="0.7" stroke-opacity="0.55"><use href="#sq0_80" x="308.7" y="259.1"/><use href="#sq0_80" x="314.8" y="259.1"/><use href="#sq0_80" x="320.9" y="259"/><use href="#sq0_80" x="326.9" y="258.9"/><use href="#sq0_80" x="333" y="258.8"/><use href="#sq0_80" x="339.1" y="258.7"/><use href="#sq0_80" x="345.2" y="258.5"/><use href="#sq0_80" x="351.2" y="258.3"/><use href="#sq0_80" x="357.3" y="258.1"/><use href="#sq0_80" x="363.4" y="257.9"/><use href="#sq0_80" x="369.5" y="257.5"/><use href="#sq0_80" x="375.5" y="256.9"/><use href="#sq0_80" x="381.6" y="256.3"/><use href="#sq0_80" x="387.7" y="255.6"/><use href="#sq0_80" x="393.8" y="254.8"/><use href="#sq0_80" x="399.8" y="254.1"/><use href="#sq0_80" x="405.9" y="253.4"/><use href="#sq0_80" x="412" y="252.7"/><use href="#sq0_80" x="418.1" y="252.1"/><use href="#sq0_80" x="424.1" y="251.4"/><use href="#sq0_80" x="430.2" y="250.6"/><use href="#sq0_80" x="436.3" y="249.7"/><use href="#sq0_80" x="442.4" y="248.5"/><use href="#sq0_80" x="448.4" y="247"/><use href="#sq0_80" x="454.5" y="245.1"/><use href="#sq0_80" x="460.6" y="242.8"/><use href="#sq0_80" x="466.7" y="240.3"/><use href="#sq0_80" x="472.7" y="237.5"/><use href="#sq0_80" x="478.8" y="233.9"/><use href="#sq0_80" x="484.9" y="229.7"/><use href="#sq0_80" x="491" y="225.3"/><use href="#sq0_80" x="497" y="220"/><use href="#sq0_80" x="503.1" y="214.7"/><use href="#sq0_80" x="509.2" y="209.8"/><use href="#sq0_80" x="515.3" y="206.3"/><use href="#sq0_80" x="521.3" y="206.1"/><use href="#sq0_80" x="527.4" y="206"/><use href="#sq0_80" x="533.5" y="206"/></g>
<path d="M308.7 227.8 310.2 227.8 311.7 227.8 313.2 227.8 314.7 227.8 316.2 227.8 317.7 227.8 319.2 227.8 320.7 227.8 322.2 227.8 323.7 227.8 325.2 227.8 326.7 227.8 328.2 227.8 329.7 227.8 331.2 227.8 332.7 227.8 334.2 227.8 335.7 227.8 337.2 227.7 338.7 227.7 340.2 227.7 341.7 227.7 343.2 227.7 344.7 227.7 346.2 227.7 347.7 227.7 349.2 227.7 350.7 227.7 352.2 227.7 353.7 227.7 355.2 227.7 356.7 227.7 358.2 227.6 359.7 227.6 361.2 227.6 362.7 227.6 364.2 227.6 365.7 227.6 367.2 227.6 368.7 227.6 370.2 227.6 371.7 227.6 373.2 227.6 374.7 227.5 376.2 227.5 377.7 227.5 379.2 227.5 380.7 227.5 382.2 227.5 383.7 227.5 385.2 227.5 386.7 227.5 388.2 227.4 389.7 227.4 391.2 227.4 392.7 227.4 394.2 227.4 395.7 227.4 397.2 227.4 398.7 227.4 400.2 227.3 401.7 227.3 403.2 227.3 404.7 227.3 406.2 227.3 407.7 227.3 409.2 227.3 410.7 227.2 412.2 227.2 413.7 227.2 415.2 227.2 416.7 227.2 418.2 227.1 419.7 227.1 421.2 227.1 422.7 227 424.2 227 425.7 227 427.2 226.9 428.7 226.9 430.2 226.9 431.7 226.8 433.2 226.8 434.7 226.8 436.2 226.7 437.7 226.7 439.2 226.6 440.7 226.6 442.2 226.6 443.7 226.5 445.2 226.5 446.7 226.4 448.2 226.4 449.7 226.3 451.2 226.3 452.7 226.2 454.2 226.2 455.7 226.1 457.2 226 458.7 226 460.2 225.9 461.7 225.9 463.2 225.8 464.7 225.8 466.2 225.7 467.7 225.6 469.2 225.6 470.7 225.5 472.2 225.4 473.7 225.4 475.2 225.3 476.7 225.2 478.2 225.2 479.7 225.1 481.2 225 482.7 225 484.2 224.9 485.7 224.8 487.2 224.7 488.7 224.7 490.2 224.6 491.7 224.5 493.2 224.4 494.7 224.4 496.2 224.3 497.7 224.2 499.2 224.1 500.7 224.1 502.2 224 503.7 223.9 505.2 223.8 506.7 223.7 508.2 223.6 509.7 223.6 511.2 223.5 512.7 223.4 514.2 223.3 515.7 223.2 517.2 223.1 518.7 223.1 520.2 223 521.7 222.9 523.2 222.8 524.7 222.7 526.2 222.6 527.7 222.5 529.2 222.5 530.7 222.4 532.2 222.3 533.5 222.2" fill="none" stroke="#ff0000" stroke-width="1.5" stroke-linejoin="round"/><g fill="none" stroke="#ff0000" stroke-width="0.7" stroke-opacity="0.55"><use href="#ci0_80" x="308.7" y="229"/><use href="#ci0_80" x="314.8" y="229"/><use href="#ci0_80" x="320.9" y="229"/><use href="#ci0_80" x="326.9" y="229"/><use href="#ci0_80" x="333" y="229"/><use href="#ci0_80" x="339.1" y="228.9"/><use href="#ci0_80" x="345.2" y="228.9"/><use href="#ci0_80" x="351.2" y="228.9"/><use href="#ci0_80" x="357.3" y="228.9"/><use href="#ci0_80" x="363.4" y="228.8"/><use href="#ci0_80" x="369.5" y="228.8"/><use href="#ci0_80" x="375.5" y="228.7"/><use href="#ci0_80" x="381.6" y="228.7"/><use href="#ci0_80" x="387.7" y="228.6"/><use href="#ci0_80" x="393.8" y="228.6"/><use href="#ci0_80" x="399.8" y="228.5"/><use href="#ci0_80" x="405.9" y="228.5"/><use href="#ci0_80" x="412" y="228.4"/><use href="#ci0_80" x="418.1" y="228.3"/><use href="#ci0_80" x="424.1" y="228.2"/><use href="#ci0_80" x="430.2" y="228.1"/><use href="#ci0_80" x="436.3" y="227.9"/><use href="#ci0_80" x="442.4" y="227.7"/><use href="#ci0_80" x="448.4" y="227.6"/><use href="#ci0_80" x="454.5" y="227.3"/><use href="#ci0_80" x="460.6" y="227.1"/><use href="#ci0_80" x="466.7" y="226.9"/><use href="#ci0_80" x="472.7" y="226.6"/><use href="#ci0_80" x="478.8" y="226.3"/><use href="#ci0_80" x="484.9" y="226.1"/><use href="#ci0_80" x="491" y="225.8"/><use href="#ci0_80" x="497" y="225.4"/><use href="#ci0_80" x="503.1" y="225.1"/><use href="#ci0_80" x="509.2" y="224.8"/><use href="#ci0_80" x="515.3" y="224.5"/><use href="#ci0_80" x="521.3" y="224.1"/><use href="#ci0_80" x="527.4" y="223.8"/><use href="#ci0_80" x="533.5" y="223.4"/></g>
<path d="M308.7 252.8 310.2 252.8 311.7 252.8 313.2 252.8 314.7 252.8 316.2 252.8 317.7 252.8 319.2 252.8 320.7 252.8 322.2 252.8 323.7 252.8 325.2 252.8 326.7 252.8 328.2 252.8 329.7 252.8 331.2 252.8 332.7 252.8 334.2 252.8 335.7 252.8 337.2 252.8 338.7 252.8 340.2 252.8 341.7 252.8 343.2 252.8 344.7 252.8 346.2 252.8 347.7 252.8 349.2 252.8 350.7 252.8 352.2 252.8 353.7 252.8 355.2 252.8 356.7 252.8 358.2 252.8 359.7 252.8 361.2 252.8 362.7 252.8 364.2 252.8 365.7 252.8 367.2 252.8 368.7 252.8 370.2 252.8 371.7 252.8 373.2 252.8 374.7 252.8 376.2 252.8 377.7 252.8 379.2 252.8 380.7 252.8 382.2 252.8 383.7 252.8 385.2 252.8 386.7 252.8 388.2 252.8 389.7 252.8 391.2 252.8 392.7 252.8 394.2 252.8 395.7 252.8 397.2 252.8 398.7 252.8 400.2 252.8 401.7 252.8 403.2 252.8 404.7 252.8 406.2 252.8 407.7 252.8 409.2 252.8 410.7 252.8 412.2 252.8 413.7 252.9 415.2 252.9 416.7 252.9 418.2 252.9 419.7 253 421.2 253 422.7 253 424.2 253.1 425.7 253.1 427.2 253.2 428.7 253.2 430.2 253.3 431.7 253.3 433.2 253.4 434.7 253.4 436.2 253.5 437.7 253.5 439.2 253.6 440.7 253.7 442.2 253.7 443.7 253.8 445.2 253.9 446.7 254 448.2 254 449.7 254.1 451.2 254.2 452.7 254.3 454.2 254.4 455.7 254.4 457.2 254.5 458.7 254.6 460.2 254.7 461.7 254.8 463.2 254.9 464.7 255 466.2 255.1 467.7 255.2 469.2 255.2 470.7 255.3 472.2 255.5 473.7 255.6 475.2 255.7 476.7 255.9 478.2 256 479.7 256.2 481.2 256.4 482.7 256.6 484.2 256.8 485.7 257 487.2 257.2 488.7 257.4 490.2 257.6 491.7 257.9 493.2 258.1 494.7 258.3 496.2 258.5 497.7 258.8 499.2 259 500.7 259.2 502.2 259.5 503.7 259.8 505.2 260.1 506.7 260.4 508.2 260.7 509.7 261 511.2 261.3 512.7 261.5 514.2 261.6 515.7 261.7 517.2 261.7 518.7 261.7 520.2 261.7 521.7 261.7 523.2 261.7 524.7 261.7 526.2 261.7 527.7 261.7 529.2 261.7 530.7 261.7 532.2 261.7 533.5 261.7" fill="none" stroke="#7f7f7f" stroke-width="1.5" stroke-linejoin="round"/><g fill="none" stroke="#7f7f7f" stroke-width="0.7" stroke-opacity="0.55"><use href="#tu0_80" x="308.7" y="252.8"/><use href="#tu0_80" x="314.8" y="252.8"/><use href="#tu0_80" x="320.9" y="252.8"/><use href="#tu0_80" x="326.9" y="252.8"/><use href="#tu0_80" x="333" y="252.8"/><use href="#tu0_80" x="339.1" y="252.8"/><use href="#tu0_80" x="345.2" y="252.8"/><use href="#tu0_80" x="351.2" y="252.8"/><use href="#tu0_80" x="357.3" y="252.8"/><use href="#tu0_80" x="363.4" y="252.8"/><use href="#tu0_80" x="369.5" y="252.8"/><use href="#tu0_80" x="375.5" y="252.8"/><use href="#tu0_80" x="381.6" y="252.8"/><use href="#tu0_80" x="387.7" y="252.8"/><use href="#tu0_80" x="393.8" y="252.8"/><use href="#tu0_80" x="399.8" y="252.8"/><use href="#tu0_80" x="405.9" y="252.8"/><use href="#tu0_80" x="412" y="252.8"/><use href="#tu0_80" x="418.1" y="252.9"/><use href="#tu0_80" x="424.1" y="253.1"/><use href="#tu0_80" x="430.2" y="253.3"/><use href="#tu0_80" x="436.3" y="253.5"/><use href="#tu0_80" x="442.4" y="253.8"/><use href="#tu0_80" x="448.4" y="254"/><use href="#tu0_80" x="454.5" y="254.4"/><use href="#tu0_80" x="460.6" y="254.7"/><use href="#tu0_80" x="466.7" y="255.1"/><use href="#tu0_80" x="472.7" y="255.5"/><use href="#tu0_80" x="478.8" y="256.1"/><use href="#tu0_80" x="484.9" y="256.9"/><use href="#tu0_80" x="491" y="257.8"/><use href="#tu0_80" x="497" y="258.7"/><use href="#tu0_80" x="503.1" y="259.6"/><use href="#tu0_80" x="509.2" y="260.9"/><use href="#tu0_80" x="515.3" y="261.7"/><use href="#tu0_80" x="521.3" y="261.7"/><use href="#tu0_80" x="527.4" y="261.7"/><use href="#tu0_80" x="533.5" y="261.7"/></g>
<path d="M308.7 171.4 310.2 171.4 311.7 171.4 313.2 171.4 314.7 171.4 316.2 171.4 317.7 171.5 319.2 171.5 320.7 171.5 322.2 171.5 323.7 171.6 325.2 171.6 326.7 171.6 328.2 171.7 329.7 171.7 331.2 171.7 332.7 171.8 334.2 171.8 335.7 171.9 337.2 171.9 338.7 172 340.2 172.1 341.7 172.1 343.2 172.2 344.7 172.3 346.2 172.3 347.7 172.4 349.2 172.5 350.7 172.6 352.2 172.7 353.7 172.7 355.2 172.8 356.7 172.9 358.2 173 359.7 173.1 361.2 173.2 362.7 173.3 364.2 173.4 365.7 173.5 367.2 173.6 368.7 173.7 370.2 173.8 371.7 173.9 373.2 174.1 374.7 174.2 376.2 174.3 377.7 174.4 379.2 174.5 380.7 174.7 382.2 174.8 383.7 174.9 385.2 175.1 386.7 175.2 388.2 175.3 389.7 175.5 391.2 175.6 392.7 175.8 394.2 175.9 395.7 176.1 397.2 176.2 398.7 176.4 400.2 176.5 401.7 176.7 403.2 176.8 404.7 177 406.2 177.2 407.7 177.3 409.2 177.5 410.7 177.7 412.2 177.8 413.7 178.1 415.2 178.3 416.7 178.6 418.2 178.9 419.7 179.2 421.2 179.6 422.7 180 424.2 180.4 425.7 180.8 427.2 181.2 428.7 181.7 430.2 182.1 431.7 182.6 433.2 183.1 434.7 183.6 436.2 184.1 437.7 184.6 439.2 185 440.7 185.5 442.2 186 443.7 186.5 445.2 187.1 446.7 187.6 448.2 188.2 449.7 188.8 451.2 189.4 452.7 190 454.2 190.6 455.7 191.2 457.2 191.9 458.7 192.5 460.2 193.2 461.7 193.9 463.2 194.6 464.7 195.3 466.2 196.1 467.7 196.8 469.2 197.6 470.7 198.4 472.2 199.2 473.7 200 475.2 200.9 476.7 201.8 478.2 202.7 479.7 203.7 481.2 204.6 482.7 205.6 484.2 206.7 485.7 207.7 487.2 208.8 488.7 209.9 490.2 210.9 491.7 212.1 493.2 213.3 494.7 214.6 496.2 215.9 497.7 217.3 499.2 218.6 500.7 220 502.2 221.2 503.7 222.5 505.2 223.7 506.7 224.9 508.2 226.2 509.7 227.6 511.2 228.8 512.7 229.9 514.2 230.7 515.7 231.1 517.2 231.2 518.7 231.2 520.2 231.3 521.7 231.3 523.2 231.4 524.7 231.4 526.2 231.4 527.7 231.5 529.2 231.5 530.7 231.5 532.2 231.5 533.5 231.5" fill="none" stroke="#ff8c00" stroke-width="1.5" stroke-linejoin="round"/><g fill="none" stroke="#ff8c00" stroke-width="0.7" stroke-opacity="0.55"><use href="#di0_80" x="308.7" y="171.4"/><use href="#di0_80" x="314.8" y="171.4"/><use href="#di0_80" x="320.9" y="171.5"/><use href="#di0_80" x="326.9" y="171.6"/><use href="#di0_80" x="333" y="171.8"/><use href="#di0_80" x="339.1" y="172"/><use href="#di0_80" x="345.2" y="172.3"/><use href="#di0_80" x="351.2" y="172.6"/><use href="#di0_80" x="357.3" y="172.9"/><use href="#di0_80" x="363.4" y="173.3"/><use href="#di0_80" x="369.5" y="173.8"/><use href="#di0_80" x="375.5" y="174.2"/><use href="#di0_80" x="381.6" y="174.8"/><use href="#di0_80" x="387.7" y="175.3"/><use href="#di0_80" x="393.8" y="175.9"/><use href="#di0_80" x="399.8" y="176.5"/><use href="#di0_80" x="405.9" y="177.1"/><use href="#di0_80" x="412" y="177.8"/><use href="#di0_80" x="418.1" y="178.9"/><use href="#di0_80" x="424.1" y="180.4"/><use href="#di0_80" x="430.2" y="182.1"/><use href="#di0_80" x="436.3" y="184.1"/><use href="#di0_80" x="442.4" y="186.1"/><use href="#di0_80" x="448.4" y="188.3"/><use href="#di0_80" x="454.5" y="190.7"/><use href="#di0_80" x="460.6" y="193.4"/><use href="#di0_80" x="466.7" y="196.3"/><use href="#di0_80" x="472.7" y="199.5"/><use href="#di0_80" x="478.8" y="203.1"/><use href="#di0_80" x="484.9" y="207.1"/><use href="#di0_80" x="491" y="211.5"/><use href="#di0_80" x="497" y="216.7"/><use href="#di0_80" x="503.1" y="222"/><use href="#di0_80" x="509.2" y="227.1"/><use href="#di0_80" x="515.3" y="231"/><use href="#di0_80" x="521.3" y="231.3"/><use href="#di0_80" x="527.4" y="231.5"/><use href="#di0_80" x="533.5" y="231.5"/></g>
<path d="M308.7 213.8 310.2 213.8 311.7 213.8 313.2 213.8 314.7 213.8 316.2 213.8 317.7 213.8 319.2 213.8 320.7 213.8 322.2 213.8 323.7 213.8 325.2 213.8 326.7 213.8 328.2 213.8 329.7 213.8 331.2 213.8 332.7 213.8 334.2 213.8 335.7 213.8 337.2 213.7 338.7 213.7 340.2 213.7 341.7 213.7 343.2 213.7 344.7 213.7 346.2 213.7 347.7 213.7 349.2 213.7 350.7 213.7 352.2 213.7 353.7 213.7 355.2 213.7 356.7 213.7 358.2 213.6 359.7 213.6 361.2 213.6 362.7 213.6 364.2 213.6 365.7 213.6 367.2 213.6 368.7 213.6 370.2 213.6 371.7 213.6 373.2 213.6 374.7 213.5 376.2 213.5 377.7 213.5 379.2 213.5 380.7 213.5 382.2 213.5 383.7 213.5 385.2 213.5 386.7 213.5 388.2 213.4 389.7 213.4 391.2 213.4 392.7 213.4 394.2 213.4 395.7 213.4 397.2 213.4 398.7 213.4 400.2 213.3 401.7 213.3 403.2 213.3 404.7 213.3 406.2 213.3 407.7 213.3 409.2 213.3 410.7 213.2 412.2 213.2 413.7 213.2 415.2 213.2 416.7 213.2 418.2 213.1 419.7 213.1 421.2 213.1 422.7 213.1 424.2 213 425.7 213 427.2 213 428.7 212.9 430.2 212.9 431.7 212.9 433.2 212.8 434.7 212.8 436.2 212.8 437.7 212.7 439.2 212.7 440.7 212.7 442.2 212.6 443.7 212.6 445.2 212.5 446.7 212.5 448.2 212.5 449.7 212.4 451.2 212.4 452.7 212.3 454.2 212.3 455.7 212.2 457.2 212.2 458.7 212.1 460.2 212.1 461.7 212 463.2 212 464.7 211.9 466.2 211.9 467.7 211.8 469.2 211.7 470.7 211.7 472.2 211.6 473.7 211.6 475.2 211.5 476.7 211.5 478.2 211.4 479.7 211.3 481.2 211.3 482.7 211.2 484.2 211.2 485.7 211.1 487.2 211 488.7 211 490.2 210.9 491.7 210.8 493.2 210.8 494.7 210.7 496.2 210.6 497.7 210.6 499.2 210.5 500.7 210.4 502.2 210.4 503.7 210.3 505.2 210.2 506.7 210.1 508.2 210.1 509.7 210 511.2 209.9 512.7 209.9 514.2 209.8 515.7 209.7 517.2 209.6 518.7 209.6 520.2 209.5 521.7 209.4 523.2 209.3 524.7 209.3 526.2 209.2 527.7 209.1 529.2 209 530.7 208.9 532.2 208.9 533.5 208.8" fill="none" stroke="#ff00ff" stroke-width="1.5" stroke-linejoin="round"/><g fill="none" stroke="#ff00ff" stroke-width="0.7" stroke-opacity="0.55"><use href="#td0_80" x="308.7" y="213.8"/><use href="#td0_80" x="314.8" y="213.8"/><use href="#td0_80" x="320.9" y="213.8"/><use href="#td0_80" x="326.9" y="213.8"/><use href="#td0_80" x="333" y="213.8"/><use href="#td0_80" x="339.1" y="213.7"/><use href="#td0_80" x="345.2" y="213.7"/><use href="#td0_80" x="351.2" y="213.7"/><use href="#td0_80" x="357.3" y="213.7"/><use href="#td0_80" x="363.4" y="213.6"/><use href="#td0_80" x="369.5" y="213.6"/><use href="#td0_80" x="375.5" y="213.5"/><use href="#td0_80" x="381.6" y="213.5"/><use href="#td0_80" x="387.7" y="213.4"/><use href="#td0_80" x="393.8" y="213.4"/><use href="#td0_80" x="399.8" y="213.3"/><use href="#td0_80" x="405.9" y="213.3"/><use href="#td0_80" x="412" y="213.2"/><use href="#td0_80" x="418.1" y="213.1"/><use href="#td0_80" x="424.1" y="213"/><use href="#td0_80" x="430.2" y="212.9"/><use href="#td0_80" x="436.3" y="212.8"/><use href="#td0_80" x="442.4" y="212.6"/><use href="#td0_80" x="448.4" y="212.4"/><use href="#td0_80" x="454.5" y="212.3"/><use href="#td0_80" x="460.6" y="212.1"/><use href="#td0_80" x="466.7" y="211.8"/><use href="#td0_80" x="472.7" y="211.6"/><use href="#td0_80" x="478.8" y="211.4"/><use href="#td0_80" x="484.9" y="211.1"/><use href="#td0_80" x="491" y="210.9"/><use href="#td0_80" x="497" y="210.6"/><use href="#td0_80" x="503.1" y="210.3"/><use href="#td0_80" x="509.2" y="210"/><use href="#td0_80" x="515.3" y="209.7"/><use href="#td0_80" x="521.3" y="209.4"/><use href="#td0_80" x="527.4" y="209.1"/><use href="#td0_80" x="533.5" y="208.8"/></g>
<path d="M308.7 144.1 310.2 144.3 311.7 144.4 313.2 144.6 314.7 144.8 316.2 144.9 317.7 145.1 319.2 145.3 320.7 145.5 322.2 145.7 323.7 145.9 325.2 146.1 326.7 146.3 328.2 146.5 329.7 146.8 331.2 147 332.7 147.2 334.2 147.5 335.7 147.7 337.2 147.9 338.7 148.2 340.2 148.4 341.7 148.7 343.2 148.9 344.7 149.2 346.2 149.5 347.7 149.7 349.2 150 350.7 150.3 352.2 150.5 353.7 150.8 355.2 151.1 356.7 151.4 358.2 151.7 359.7 151.9 361.2 152.2 362.7 152.5 364.2 152.8 365.7 153.1 367.2 153.4 368.7 153.7 370.2 154 371.7 154.3 373.2 154.6 374.7 154.9 376.2 155.2 377.7 155.5 379.2 155.9 380.7 156.2 382.2 156.5 383.7 156.9 385.2 157.2 386.7 157.6 388.2 157.9 389.7 158.3 391.2 158.7 392.7 159.1 394.2 159.5 395.7 159.9 397.2 160.4 398.7 160.8 400.2 161.3 401.7 161.7 403.2 162.2 404.7 162.7 406.2 163.2 407.7 163.8 409.2 164.3 410.7 164.9 412.2 165.5 413.7 166.1 415.2 166.9 416.7 167.6 418.2 168.5 419.7 169.3 421.2 170.3 422.7 171.2 424.2 172.2 425.7 173.2 427.2 174.3 428.7 175.4 430.2 176.5 431.7 177.6 433.2 178.8 434.7 179.9 436.2 181.1 437.7 182.2 439.2 183.4 440.7 184.5 442.2 185.7 443.7 187 445.2 188.2 446.7 189.5 448.2 190.8 449.7 192.2 451.2 193.5 452.7 194.9 454.2 196.4 455.7 197.8 457.2 199.2 458.7 200.7 460.2 202.2 461.7 203.7 463.2 205.2 464.7 206.7 466.2 208.2 467.7 209.7 469.2 211.3 470.7 212.8 472.2 214.4 473.7 216.1 475.2 217.8 476.7 219.5 478.2 221.3 479.7 223.1 481.2 225.1 482.7 227.1 484.2 229.3 485.7 231.5 487.2 233.8 488.7 236.2 490.2 238.6 491.7 241 493.2 243.4 494.7 245.8 496.2 248.2 497.7 250.6 499.2 252.8 500.7 255.1 502.2 257.5 503.7 260.2 505.2 263 506.7 265.8 508.2 268.5 509.7 270.9 511.2 273 512.7 274.7 514.2 275.9 515.7 276.4 517.2 276.4 518.7 276.4 520.2 276.4 521.7 276.4 523.2 276.4 524.7 276.4 526.2 276.4 527.7 276.4 529.2 276.4 530.7 276.4 532.2 276.4 533.5 276.4" fill="none" stroke="#12b012" stroke-width="1.5" stroke-linejoin="round"/><g stroke="#12b012" stroke-width="1.1" fill="none"><use href="#pl0_80" x="308.7" y="144.1"/><use href="#pl0_80" x="314.8" y="144.8"/><use href="#pl0_80" x="320.9" y="145.5"/><use href="#pl0_80" x="326.9" y="146.4"/><use href="#pl0_80" x="333" y="147.3"/><use href="#pl0_80" x="339.1" y="148.2"/><use href="#pl0_80" x="345.2" y="149.3"/><use href="#pl0_80" x="351.2" y="150.4"/><use href="#pl0_80" x="357.3" y="151.5"/><use href="#pl0_80" x="363.4" y="152.6"/><use href="#pl0_80" x="369.5" y="153.8"/><use href="#pl0_80" x="375.5" y="155.1"/><use href="#pl0_80" x="381.6" y="156.4"/><use href="#pl0_80" x="387.7" y="157.8"/><use href="#pl0_80" x="393.8" y="159.4"/><use href="#pl0_80" x="399.8" y="161.2"/><use href="#pl0_80" x="405.9" y="163.1"/><use href="#pl0_80" x="412" y="165.4"/><use href="#pl0_80" x="418.1" y="168.4"/><use href="#pl0_80" x="424.1" y="172.2"/><use href="#pl0_80" x="430.2" y="176.5"/><use href="#pl0_80" x="436.3" y="181.1"/><use href="#pl0_80" x="442.4" y="185.9"/><use href="#pl0_80" x="448.4" y="191"/><use href="#pl0_80" x="454.5" y="196.7"/><use href="#pl0_80" x="460.6" y="202.6"/><use href="#pl0_80" x="466.7" y="208.7"/><use href="#pl0_80" x="472.7" y="215"/><use href="#pl0_80" x="478.8" y="222"/><use href="#pl0_80" x="484.9" y="230.3"/><use href="#pl0_80" x="491" y="239.8"/><use href="#pl0_80" x="497" y="249.5"/><use href="#pl0_80" x="503.1" y="259.2"/><use href="#pl0_80" x="509.2" y="270.1"/><use href="#pl0_80" x="515.3" y="276.3"/><use href="#pl0_80" x="521.3" y="276.4"/><use href="#pl0_80" x="527.4" y="276.4"/><use href="#pl0_80" x="533.5" y="276.4"/></g>
<text x="524.6" y="146" font-family="Liberation Sans" font-size="8.5" fill="#111" text-anchor="middle">v2</text>
<rect x="324" y="148.5" width="58.2" height="62.8" fill="#fff" stroke="#444" stroke-width="1.1"/>
<rect x="329.4" y="155.5" width="3.7" height="3.7" fill="none" stroke="#000000" stroke-width="0.9"/>
<text x="355" y="160.4" font-family="Liberation Mono" font-size="9" fill="#111" text-anchor="middle" font-style="italic" font-weight="bold">Q</text>
<circle cx="331.3" cy="167" r="3" fill="none" stroke="#ff0000" stroke-width="0.9"/>
<text x="355" y="170" font-family="Liberation Mono" font-size="9" fill="#ff2020" text-anchor="middle" font-style="italic" font-weight="bold">M</text>
<text x="328" y="179.6" font-family="Liberation Mono" font-size="7.5" fill="#999" text-anchor="start" textLength="47" lengthAdjust="spacingAndGlyphs">△(1−γ)(P−W)</text>
<path d="M331.3 182.4L334.2 185.3L331.3 188.2L328.4 185.3Z" fill="none" stroke="#ff8c00" stroke-width="0.9"/>
<text x="355" y="188.3" font-family="Liberation Mono" font-size="9" fill="#ff9020" text-anchor="middle" font-style="italic" font-weight="bold">G</text>
<path d="M331.3 196.5L334.2 191.4L328.4 191.4Z" fill="none" stroke="#ff00ff" stroke-width="0.9"/>
<text x="355" y="196.5" font-family="Liberation Mono" font-size="9" fill="#ff20ff" text-anchor="middle" font-style="italic" font-weight="bold">U</text>
<path d="M328.9 201.9H333.7M331.3 199.5V204.3" stroke="#12b012" stroke-width="1.1" fill="none"/>
<text x="355" y="204.9" font-family="Liberation Mono" font-size="9" fill="#20a020" text-anchor="middle" font-weight="bold">10<tspan font-size="6" dy="-3.5">5</tspan><tspan dy="3.5" font-style="italic" font-weight="normal" font-family="Liberation Serif">π</tspan></text>

</g>
<clipPath id="cw1"><rect x="4" y="279" width="267" height="140.5"/></clipPath>
<g clip-path="url(#cw1)">
<path d="M38.6 403.9H260M38.6 385.2H260M38.6 366.6H260M38.6 347.9H260M38.6 329.2H260M38.6 310.6H260M38.6 291.9H260M57 281V418M87.8 281V418M118.6 281V418M149.4 281V418M180.2 281V418M211 281V418M241.8 281V418" stroke="#f1f1f1" stroke-width="1" fill="none"/>
<path d="M56.4 279V419.5" stroke="#3a3a3a" stroke-width="1.4" stroke-dasharray="2.2,4.4" stroke-dashoffset="-2.6" fill="none"/>
<path d="M38.6 281V418M38.6 403.9H260" stroke="#e0e0e0" stroke-width="0.8" fill="none"/>
<path d="M38.6 403.9H41.1M38.6 385.2H41.1M38.6 366.6H41.1M38.6 347.9H41.1M38.6 329.2H41.1M38.6 310.6H41.1M38.6 291.9H41.1M57 403.9V401.4M87.8 403.9V401.4M118.6 403.9V401.4M149.4 403.9V401.4M180.2 403.9V401.4M211 403.9V401.4M241.8 403.9V401.4" stroke="#b0b0b0" stroke-width="0.7" fill="none"/>
<text x="35.5" y="406.8" font-family="Liberation Sans" font-size="8.2" fill="#222" text-anchor="end" textLength="4.3" lengthAdjust="spacingAndGlyphs">0</text>
<text x="35.5" y="388.1" font-family="Liberation Sans" font-size="8.2" fill="#222" text-anchor="end" textLength="17.2" lengthAdjust="spacingAndGlyphs">2000</text>
<text x="35.5" y="369.5" font-family="Liberation Sans" font-size="8.2" fill="#222" text-anchor="end" textLength="17.2" lengthAdjust="spacingAndGlyphs">4000</text>
<text x="35.5" y="350.8" font-family="Liberation Sans" font-size="8.2" fill="#222" text-anchor="end" textLength="17.2" lengthAdjust="spacingAndGlyphs">6000</text>
<text x="35.5" y="332.1" font-family="Liberation Sans" font-size="8.2" fill="#222" text-anchor="end" textLength="17.2" lengthAdjust="spacingAndGlyphs">8000</text>
<text x="35.5" y="313.5" font-family="Liberation Sans" font-size="8.2" fill="#222" text-anchor="end" textLength="22.3" lengthAdjust="spacingAndGlyphs">10 000</text>
<text x="35.5" y="294.8" font-family="Liberation Sans" font-size="8.2" fill="#222" text-anchor="end" textLength="22.3" lengthAdjust="spacingAndGlyphs">12 000</text>
<text x="57" y="413.5" font-family="Liberation Sans" font-size="8.2" fill="#222" text-anchor="middle" textLength="14.9" lengthAdjust="spacingAndGlyphs">0.90</text>
<text x="87.8" y="413.5" font-family="Liberation Sans" font-size="8.2" fill="#222" text-anchor="middle" textLength="14.9" lengthAdjust="spacingAndGlyphs">0.92</text>
<text x="118.6" y="413.5" font-family="Liberation Sans" font-size="8.2" fill="#222" text-anchor="middle" textLength="14.9" lengthAdjust="spacingAndGlyphs">0.94</text>
<text x="149.4" y="413.5" font-family="Liberation Sans" font-size="8.2" fill="#222" text-anchor="middle" textLength="14.9" lengthAdjust="spacingAndGlyphs">0.96</text>
<text x="180.2" y="413.5" font-family="Liberation Sans" font-size="8.2" fill="#222" text-anchor="middle" textLength="14.9" lengthAdjust="spacingAndGlyphs">0.98</text>
<text x="211" y="413.5" font-family="Liberation Sans" font-size="8.2" fill="#222" text-anchor="middle" textLength="14.9" lengthAdjust="spacingAndGlyphs">1.00</text>
<text x="241.8" y="413.5" font-family="Liberation Sans" font-size="8.2" fill="#222" text-anchor="middle" textLength="14.9" lengthAdjust="spacingAndGlyphs">1.02</text>
<text x="250" y="412.6" font-family="Liberation Sans" font-size="9" fill="#222" text-anchor="start" font-style="italic">ρ<tspan font-size="6.5" dy="1.2" font-style="normal">M</tspan></text>
<path d="M38.6 402.2 40.1 401.6 41.6 400.9 43.1 400.3 44.6 399.6 46.1 399 47.6 398.3 49.1 397.7 50.6 397 52.1 396.3 53.6 395.7 55.1 395 56.6 394.3 58.1 393.7 59.6 393 61.1 392.4 62.6 391.8 64.1 391.1 65.6 390.5 67.1 389.8 68.6 389.1 70.1 388.3 71.6 387.5 73.1 386.6 74.6 385.5 76.1 384.4 77.6 383.2 79.1 381.9 80.6 380.5 82.1 379.1 83.6 377.7 85.1 376.3 86.6 374.8 88.1 373.4 89.6 371.8 91.1 370.2 92.6 368.6 94.1 367 95.6 365.4 97.1 363.7 98.6 362.2 100.1 360.6 101.6 359.1 103.1 357.6 104.6 356.2 106.1 354.7 107.6 353.3 109.1 351.9 110.6 350.5 112.1 349.1 113.6 347.6 115.1 346.2 116.6 344.8 118.1 343.3 119.6 341.8 121.1 340.1 122.6 338.5 124.1 337 125.6 335.5 127.1 334.1 128.6 332.8 130.1 331.8 131.6 330.8 133.1 330 134.6 329.1 136.1 328.4 137.6 327.6 139.1 326.9 140.6 326.3 142.1 325.7 143.6 325.2 145.1 324.8 146.6 324.4 148.1 324.1 149.6 323.8 151.1 323.5 152.6 323.2 154.1 322.9 155.6 322.6 157.1 322.4 158.6 322.2 160.1 322.1 161.6 321.9 163.1 321.8 164.6 321.8 166.1 321.8 167.6 321.8 169.1 321.8 170.6 321.8 172.1 321.8 173.6 321.8 175.1 321.8 176.6 321.7 178.1 321.7 179.6 321.7 181.1 321.7 182.6 321.7 184.1 321.7 185.6 321.7 187.1 321.7 188.6 321.7 190.1 321.7 191.6 321.7 193.1 321.7 194.6 321.7 196.1 321.7 197.6 321.7 199.1 321.7 200.6 321.7 202.1 321.7 203.6 321.7 205.1 321.7 206.6 321.6 208.1 321.6 209.6 321.6 211.1 321.6 212.6 321.6 214.1 321.6 215.6 321.6 217.1 321.6 218.6 321.6 220.1 321.6 221.6 321.6 223.1 321.6 224.6 321.6 226.1 321.6 227.6 321.6 229.1 321.6 230.6 321.6 232.1 321.6 233.6 321.6 235.1 321.6 236.6 321.6 238.1 321.6 239.6 321.6 241.1 321.6 242.6 321.6 244.1 321.6 245.6 321.6 247.1 321.6 248.6 321.6 250.1 321.6 251.6 321.6 253.1 321.6 254.6 321.6 256.1 321.6 257.6 321.6 259.1 321.6 260 321.6" fill="none" stroke="#000000" stroke-width="1.3" stroke-linejoin="round"/><g fill="#000000"><use href="#sq1_00" x="38.6" y="402.2"/><use href="#sq1_00" x="44.1" y="399.8"/><use href="#sq1_00" x="49.7" y="397.4"/><use href="#sq1_00" x="55.2" y="395"/><use href="#sq1_00" x="60.7" y="392.6"/><use href="#sq1_00" x="66.3" y="390.2"/><use href="#sq1_00" x="71.8" y="387.3"/><use href="#sq1_00" x="77.3" y="383.4"/><use href="#sq1_00" x="82.9" y="378.4"/><use href="#sq1_00" x="88.4" y="373"/><use href="#sq1_00" x="94" y="367.1"/><use href="#sq1_00" x="99.5" y="361.2"/><use href="#sq1_00" x="105" y="355.8"/><use href="#sq1_00" x="110.6" y="350.5"/><use href="#sq1_00" x="116.1" y="345.3"/><use href="#sq1_00" x="121.6" y="339.6"/><use href="#sq1_00" x="127.2" y="334"/><use href="#sq1_00" x="132.7" y="330.2"/><use href="#sq1_00" x="138.2" y="327.3"/><use href="#sq1_00" x="143.8" y="325.2"/><use href="#sq1_00" x="149.3" y="323.8"/><use href="#sq1_00" x="154.8" y="322.8"/><use href="#sq1_00" x="160.4" y="322"/><use href="#sq1_00" x="165.9" y="321.8"/><use href="#sq1_00" x="171.4" y="321.8"/><use href="#sq1_00" x="177" y="321.7"/><use href="#sq1_00" x="182.5" y="321.7"/><use href="#sq1_00" x="188" y="321.7"/><use href="#sq1_00" x="193.6" y="321.7"/><use href="#sq1_00" x="199.1" y="321.7"/><use href="#sq1_00" x="204.7" y="321.7"/><use href="#sq1_00" x="210.2" y="321.6"/><use href="#sq1_00" x="215.7" y="321.6"/><use href="#sq1_00" x="221.3" y="321.6"/><use href="#sq1_00" x="226.8" y="321.6"/><use href="#sq1_00" x="232.3" y="321.6"/><use href="#sq1_00" x="237.9" y="321.6"/><use href="#sq1_00" x="243.4" y="321.6"/><use href="#sq1_00" x="248.9" y="321.6"/><use href="#sq1_00" x="254.5" y="321.6"/><use href="#sq1_00" x="260" y="321.6"/></g>
<path d="M38.6 403.6 40.1 403.3 41.6 403 43.1 402.8 44.6 402.5 46.1 402.2 47.6 401.9 49.1 401.6 50.6 401.3 52.1 401 53.6 400.7 55.1 400.5 56.6 400.2 58.1 399.9 59.6 399.6 61.1 399.3 62.6 398.9 64.1 398.6 65.6 398.2 67.1 397.8 68.6 397.4 70.1 397 71.6 396.6 73.1 396.3 74.6 396 76.1 395.8 77.6 395.6 79.1 395.5 80.6 395.5 82.1 395.5 83.6 395.5 85.1 395.5 86.6 395.5 88.1 395.5 89.6 395.5 91.1 395.5 92.6 395.5 94.1 395.5 95.6 395.6 97.1 395.6 98.6 395.6 100.1 395.6 101.6 395.6 103.1 395.6 104.6 395.6 106.1 395.6 107.6 395.6 109.1 395.7 110.6 395.7 112.1 395.7 113.6 395.7 115.1 395.7 116.6 395.7 118.1 395.7 119.6 395.7 121.1 395.7 122.6 395.8 124.1 395.8 125.6 395.8 127.1 395.8 128.6 395.8 130.1 395.8 131.6 395.8 133.1 395.8 134.6 395.8 136.1 395.8 137.6 395.8 139.1 395.8 140.6 395.8 142.1 395.9 143.6 395.9 145.1 395.9 146.6 395.9 148.1 395.9 149.6 395.9 151.1 395.9 152.6 395.9 154.1 395.9 155.6 395.9 157.1 395.9 158.6 395.9 160.1 395.9 161.6 395.9 163.1 395.9 164.6 395.9 166.1 395.9 167.6 396 169.1 396 170.6 396 172.1 396 173.6 396 175.1 396 176.6 396 178.1 396 179.6 396 181.1 396 182.6 396 184.1 396 185.6 396 187.1 396 188.6 396 190.1 396 191.6 396 193.1 396 194.6 396.1 196.1 396.1 197.6 396.1 199.1 396.1 200.6 396.1 202.1 396.1 203.6 396.1 205.1 396.1 206.6 396.1 208.1 396.1 209.6 396.1 211.1 396.1 212.6 396.1 214.1 396.1 215.6 396.1 217.1 396.1 218.6 396.1 220.1 396.1 221.6 396.1 223.1 396.1 224.6 396.1 226.1 396.1 227.6 396.1 229.1 396.1 230.6 396.2 232.1 396.2 233.6 396.2 235.1 396.2 236.6 396.2 238.1 396.2 239.6 396.2 241.1 396.2 242.6 396.2 244.1 396.2 245.6 396.2 247.1 396.2 248.6 396.2 250.1 396.2 251.6 396.2 253.1 396.2 254.6 396.2 256.1 396.2 257.6 396.2 259.1 396.2 260 396.2" fill="none" stroke="#ff0000" stroke-width="1.3" stroke-linejoin="round"/><g fill="#ff0000"><use href="#ci1_00" x="38.6" y="403.6"/><use href="#ci1_00" x="44.1" y="402.6"/><use href="#ci1_00" x="49.7" y="401.5"/><use href="#ci1_00" x="55.2" y="400.4"/><use href="#ci1_00" x="60.7" y="399.3"/><use href="#ci1_00" x="66.3" y="398"/><use href="#ci1_00" x="71.8" y="396.6"/><use href="#ci1_00" x="77.3" y="395.6"/><use href="#ci1_00" x="82.9" y="395.5"/><use href="#ci1_00" x="88.4" y="395.5"/><use href="#ci1_00" x="94" y="395.5"/><use href="#ci1_00" x="99.5" y="395.6"/><use href="#ci1_00" x="105" y="395.6"/><use href="#ci1_00" x="110.6" y="395.7"/><use href="#ci1_00" x="116.1" y="395.7"/><use href="#ci1_00" x="121.6" y="395.8"/><use href="#ci1_00" x="127.2" y="395.8"/><use href="#ci1_00" x="132.7" y="395.8"/><use href="#ci1_00" x="138.2" y="395.8"/><use href="#ci1_00" x="143.8" y="395.9"/><use href="#ci1_00" x="149.3" y="395.9"/><use href="#ci1_00" x="154.8" y="395.9"/><use href="#ci1_00" x="160.4" y="395.9"/><use href="#ci1_00" x="165.9" y="395.9"/><use href="#ci1_00" x="171.4" y="396"/><use href="#ci1_00" x="177" y="396"/><use href="#ci1_00" x="182.5" y="396"/><use href="#ci1_00" x="188" y="396"/><use href="#ci1_00" x="193.6" y="396"/><use href="#ci1_00" x="199.1" y="396.1"/><use href="#ci1_00" x="204.7" y="396.1"/><use href="#ci1_00" x="210.2" y="396.1"/><use href="#ci1_00" x="215.7" y="396.1"/><use href="#ci1_00" x="221.3" y="396.1"/><use href="#ci1_00" x="226.8" y="396.1"/><use href="#ci1_00" x="232.3" y="396.2"/><use href="#ci1_00" x="237.9" y="396.2"/><use href="#ci1_00" x="243.4" y="396.2"/><use href="#ci1_00" x="248.9" y="396.2"/><use href="#ci1_00" x="254.5" y="396.2"/><use href="#ci1_00" x="260" y="396.2"/></g>
<path d="M38.6 413.8 40.1 413.3 41.6 412.7 43.1 412.1 44.6 411.4 46.1 410.7 47.6 409.9 49.1 409.1 50.6 408.3 52.1 407.4 53.6 406.5 55.1 405.6 56.6 404.6 58.1 403.6 59.6 402.5 61.1 401.3 62.6 400 64.1 398.7 65.6 397.4 67.1 396 68.6 394.5 70.1 392.9 71.6 391.2 73.1 389.5 74.6 387.7 76.1 385.7 77.6 383.7 79.1 381.4 80.6 378.8 82.1 376.2 83.6 373.4 85.1 370.5 86.6 367.6 88.1 364.8 89.6 362 91.1 359.3 92.6 356.8 94.1 354.3 95.6 351.9 97.1 349.5 98.6 347.1 100.1 344.7 101.6 342.3 103.1 339.9 104.6 337.5 106.1 335.1 107.6 332.6 109.1 330.2 110.6 327.8 112.1 325.4 113.6 323.1 115.1 320.7 116.6 318.4 118.1 316.1 119.6 313.9 121.1 311.7 122.6 309.6 124.1 307.6 125.6 305.8 127.1 304.1 128.6 302.5 130.1 301 131.6 299.6 133.1 298.2 134.6 297 136.1 295.8 137.6 294.8 139.1 293.8 140.6 292.9 142.1 292.1 143.6 291.3 145.1 290.5 146.6 289.7 148.1 288.9 149.6 288.3 151.1 287.7 152.6 287.1 154.1 286.6 155.6 286.2 157.1 285.8 158.6 285.4 160.1 285.1 161.6 284.9 163.1 284.7 164.6 284.5 166.1 284.4 167.6 284.2 169.1 284.1 170.6 284 172.1 283.9 173.6 283.8 175.1 283.8 176.6 283.8 178.1 283.8 179.6 283.8 181.1 283.7 182.6 283.7 184.1 283.7 185.6 283.7 187.1 283.7 188.6 283.7 190.1 283.7 191.6 283.7 193.1 283.7 194.6 283.7 196.1 283.6 197.6 283.6 199.1 283.6 200.6 283.6 202.1 283.6 203.6 283.6 205.1 283.6 206.6 283.6 208.1 283.6 209.6 283.6 211.1 283.6 212.6 283.6 214.1 283.6 215.6 283.6 217.1 283.6 218.6 283.6 220.1 283.5 221.6 283.5 223.1 283.5 224.6 283.5 226.1 283.5 227.6 283.5 229.1 283.5 230.6 283.5 232.1 283.5 233.6 283.5 235.1 283.5 236.6 283.5 238.1 283.5 239.6 283.5 241.1 283.5 242.6 283.5 244.1 283.5 245.6 283.5 247.1 283.5 248.6 283.5 250.1 283.5 251.6 283.5 253.1 283.5 254.6 283.5 256.1 283.5 257.6 283.5 259.1 283.5 260 283.5" fill="none" stroke="#7f7f7f" stroke-width="1.3" stroke-linejoin="round"/><g fill="#7f7f7f"><use href="#tu1_00" x="38.6" y="413.8"/><use href="#tu1_00" x="44.1" y="411.6"/><use href="#tu1_00" x="49.7" y="408.8"/><use href="#tu1_00" x="55.2" y="405.5"/><use href="#tu1_00" x="60.7" y="401.6"/><use href="#tu1_00" x="66.3" y="396.7"/><use href="#tu1_00" x="71.8" y="391"/><use href="#tu1_00" x="77.3" y="384"/><use href="#tu1_00" x="82.9" y="374.7"/><use href="#tu1_00" x="88.4" y="364.2"/><use href="#tu1_00" x="94" y="354.6"/><use href="#tu1_00" x="99.5" y="345.7"/><use href="#tu1_00" x="105" y="336.8"/><use href="#tu1_00" x="110.6" y="327.9"/><use href="#tu1_00" x="116.1" y="319.2"/><use href="#tu1_00" x="121.6" y="310.9"/><use href="#tu1_00" x="127.2" y="304"/><use href="#tu1_00" x="132.7" y="298.6"/><use href="#tu1_00" x="138.2" y="294.4"/><use href="#tu1_00" x="143.8" y="291.2"/><use href="#tu1_00" x="149.3" y="288.4"/><use href="#tu1_00" x="154.8" y="286.4"/><use href="#tu1_00" x="160.4" y="285.1"/><use href="#tu1_00" x="165.9" y="284.4"/><use href="#tu1_00" x="171.4" y="283.9"/><use href="#tu1_00" x="177" y="283.8"/><use href="#tu1_00" x="182.5" y="283.7"/><use href="#tu1_00" x="188" y="283.7"/><use href="#tu1_00" x="193.6" y="283.7"/><use href="#tu1_00" x="199.1" y="283.6"/><use href="#tu1_00" x="204.7" y="283.6"/><use href="#tu1_00" x="210.2" y="283.6"/><use href="#tu1_00" x="215.7" y="283.6"/><use href="#tu1_00" x="221.3" y="283.5"/><use href="#tu1_00" x="226.8" y="283.5"/><use href="#tu1_00" x="232.3" y="283.5"/><use href="#tu1_00" x="237.9" y="283.5"/><use href="#tu1_00" x="243.4" y="283.5"/><use href="#tu1_00" x="248.9" y="283.5"/><use href="#tu1_00" x="254.5" y="283.5"/><use href="#tu1_00" x="260" y="283.5"/></g>
<path d="M38.6 404 40.1 403.8 41.6 403.5 43.1 403.2 44.6 403 46.1 402.7 47.6 402.4 49.1 402 50.6 401.7 52.1 401.4 53.6 401.1 55.1 400.7 56.6 400.4 58.1 400 59.6 399.6 61.1 399.2 62.6 398.8 64.1 398.4 65.6 397.9 67.1 397.5 68.6 397 70.1 396.5 71.6 396.1 73.1 395.6 74.6 395.1 76.1 394.7 77.6 394.2 79.1 393.7 80.6 393.2 82.1 392.7 83.6 392.3 85.1 391.8 86.6 391.3 88.1 390.7 89.6 390.2 91.1 389.7 92.6 389.1 94.1 388.5 95.6 387.9 97.1 387.3 98.6 386.6 100.1 385.9 101.6 385.1 103.1 384.2 104.6 383.3 106.1 382.4 107.6 381.5 109.1 380.7 110.6 379.9 112.1 379.2 113.6 378.6 115.1 377.9 116.6 377.3 118.1 376.7 119.6 376.1 121.1 375.6 122.6 375 124.1 374.5 125.6 374.1 127.1 373.6 128.6 373.2 130.1 372.8 131.6 372.4 133.1 372 134.6 371.6 136.1 371.3 137.6 370.9 139.1 370.6 140.6 370.3 142.1 370 143.6 369.7 145.1 369.5 146.6 369.3 148.1 369.1 149.6 368.9 151.1 368.7 152.6 368.5 154.1 368.4 155.6 368.2 157.1 368.1 158.6 368.1 160.1 368 161.6 368 163.1 367.9 164.6 367.9 166.1 367.8 167.6 367.8 169.1 367.8 170.6 367.7 172.1 367.7 173.6 367.7 175.1 367.6 176.6 367.6 178.1 367.6 179.6 367.5 181.1 367.5 182.6 367.5 184.1 367.5 185.6 367.4 187.1 367.4 188.6 367.4 190.1 367.3 191.6 367.3 193.1 367.3 194.6 367.3 196.1 367.3 197.6 367.2 199.1 367.2 200.6 367.2 202.1 367.2 203.6 367.1 205.1 367.1 206.6 367.1 208.1 367.1 209.6 367.1 211.1 367.1 212.6 367 214.1 367 215.6 367 217.1 367 218.6 367 220.1 367 221.6 367 223.1 366.9 224.6 366.9 226.1 366.9 227.6 366.9 229.1 366.9 230.6 366.9 232.1 366.9 233.6 366.9 235.1 366.9 236.6 366.9 238.1 366.8 239.6 366.8 241.1 366.8 242.6 366.8 244.1 366.8 245.6 366.8 247.1 366.8 248.6 366.8 250.1 366.8 251.6 366.8 253.1 366.8 254.6 366.8 256.1 366.8 257.6 366.8 259.1 366.8 260 366.8" fill="none" stroke="#00ffff" stroke-width="1.3" stroke-linejoin="round"/><g fill="#00ffff"><use href="#st1_00" x="38.6" y="404"/><use href="#st1_00" x="44.1" y="403"/><use href="#st1_00" x="49.7" y="401.9"/><use href="#st1_00" x="55.2" y="400.7"/><use href="#st1_00" x="60.7" y="399.3"/><use href="#st1_00" x="66.3" y="397.7"/><use href="#st1_00" x="71.8" y="396"/><use href="#st1_00" x="77.3" y="394.3"/><use href="#st1_00" x="82.9" y="392.5"/><use href="#st1_00" x="88.4" y="390.6"/><use href="#st1_00" x="94" y="388.6"/><use href="#st1_00" x="99.5" y="386.2"/><use href="#st1_00" x="105" y="383.1"/><use href="#st1_00" x="110.6" y="380"/><use href="#st1_00" x="116.1" y="377.5"/><use href="#st1_00" x="121.6" y="375.4"/><use href="#st1_00" x="127.2" y="373.6"/><use href="#st1_00" x="132.7" y="372.1"/><use href="#st1_00" x="138.2" y="370.8"/><use href="#st1_00" x="143.8" y="369.7"/><use href="#st1_00" x="149.3" y="368.9"/><use href="#st1_00" x="154.8" y="368.3"/><use href="#st1_00" x="160.4" y="368"/><use href="#st1_00" x="165.9" y="367.8"/><use href="#st1_00" x="171.4" y="367.7"/><use href="#st1_00" x="177" y="367.6"/><use href="#st1_00" x="182.5" y="367.5"/><use href="#st1_00" x="188" y="367.4"/><use href="#st1_00" x="193.6" y="367.3"/><use href="#st1_00" x="199.1" y="367.2"/><use href="#st1_00" x="204.7" y="367.1"/><use href="#st1_00" x="210.2" y="367.1"/><use href="#st1_00" x="215.7" y="367"/><use href="#st1_00" x="221.3" y="367"/><use href="#st1_00" x="226.8" y="366.9"/><use href="#st1_00" x="232.3" y="366.9"/><use href="#st1_00" x="237.9" y="366.8"/><use href="#st1_00" x="243.4" y="366.8"/><use href="#st1_00" x="248.9" y="366.8"/><use href="#st1_00" x="254.5" y="366.8"/><use href="#st1_00" x="260" y="366.8"/></g>
<path d="M38.6 404 40.1 403.7 41.6 403.4 43.1 403.1 44.6 402.7 46.1 402.3 47.6 402 49.1 401.5 50.6 401.1 52.1 400.7 53.6 400.2 55.1 399.8 56.6 399.3 58.1 398.8 59.6 398.3 61.1 397.7 62.6 397.1 64.1 396.5 65.6 395.9 67.1 395.2 68.6 394.6 70.1 394 71.6 393.3 73.1 392.7 74.6 392 76.1 391.3 77.6 390.7 79.1 390 80.6 389.3 82.1 388.6 83.6 387.9 85.1 387.1 86.6 386.4 88.1 385.6 89.6 384.8 91.1 384 92.6 383.1 94.1 382.2 95.6 381.2 97.1 380.2 98.6 379.1 100.1 378.1 101.6 377.1 103.1 376.2 104.6 375.3 106.1 374.6 107.6 373.8 109.1 373 110.6 372.3 112.1 371.6 113.6 371 115.1 370.4 116.6 369.8 118.1 369.3 119.6 368.9 121.1 368.4 122.6 368 124.1 367.6 125.6 367.3 127.1 366.9 128.6 366.5 130.1 366.2 131.6 365.8 133.1 365.4 134.6 365.1 136.1 364.8 137.6 364.4 139.1 364.2 140.6 363.9 142.1 363.6 143.6 363.4 145.1 363.1 146.6 362.8 148.1 362.6 149.6 362.3 151.1 362.1 152.6 361.9 154.1 361.7 155.6 361.5 157.1 361.4 158.6 361.3 160.1 361.3 161.6 361.3 163.1 361.2 164.6 361.2 166.1 361.2 167.6 361.2 169.1 361.2 170.6 361.1 172.1 361.1 173.6 361.1 175.1 361.1 176.6 361.1 178.1 361 179.6 361 181.1 361 182.6 361 184.1 361 185.6 361 187.1 360.9 188.6 360.9 190.1 360.9 191.6 360.9 193.1 360.9 194.6 360.9 196.1 360.8 197.6 360.8 199.1 360.8 200.6 360.8 202.1 360.8 203.6 360.8 205.1 360.8 206.6 360.8 208.1 360.8 209.6 360.7 211.1 360.7 212.6 360.7 214.1 360.7 215.6 360.7 217.1 360.7 218.6 360.7 220.1 360.7 221.6 360.7 223.1 360.7 224.6 360.7 226.1 360.7 227.6 360.7 229.1 360.6 230.6 360.6 232.1 360.6 233.6 360.6 235.1 360.6 236.6 360.6 238.1 360.6 239.6 360.6 241.1 360.6 242.6 360.6 244.1 360.6 245.6 360.6 247.1 360.6 248.6 360.6 250.1 360.6 251.6 360.6 253.1 360.6 254.6 360.6 256.1 360.6 257.6 360.6 259.1 360.6 260 360.6" fill="none" stroke="#ff7f00" stroke-width="1.3" stroke-linejoin="round"/><g fill="#ff7f00"><use href="#di1_00" x="38.6" y="404"/><use href="#di1_00" x="44.1" y="402.8"/><use href="#di1_00" x="49.7" y="401.4"/><use href="#di1_00" x="55.2" y="399.7"/><use href="#di1_00" x="60.7" y="397.8"/><use href="#di1_00" x="66.3" y="395.6"/><use href="#di1_00" x="71.8" y="393.2"/><use href="#di1_00" x="77.3" y="390.8"/><use href="#di1_00" x="82.9" y="388.2"/><use href="#di1_00" x="88.4" y="385.4"/><use href="#di1_00" x="94" y="382.3"/><use href="#di1_00" x="99.5" y="378.5"/><use href="#di1_00" x="105" y="375.1"/><use href="#di1_00" x="110.6" y="372.3"/><use href="#di1_00" x="116.1" y="370"/><use href="#di1_00" x="121.6" y="368.3"/><use href="#di1_00" x="127.2" y="366.9"/><use href="#di1_00" x="132.7" y="365.5"/><use href="#di1_00" x="138.2" y="364.3"/><use href="#di1_00" x="143.8" y="363.3"/><use href="#di1_00" x="149.3" y="362.4"/><use href="#di1_00" x="154.8" y="361.6"/><use href="#di1_00" x="160.4" y="361.3"/><use href="#di1_00" x="165.9" y="361.2"/><use href="#di1_00" x="171.4" y="361.1"/><use href="#di1_00" x="177" y="361.1"/><use href="#di1_00" x="182.5" y="361"/><use href="#di1_00" x="188" y="360.9"/><use href="#di1_00" x="193.6" y="360.9"/><use href="#di1_00" x="199.1" y="360.8"/><use href="#di1_00" x="204.7" y="360.8"/><use href="#di1_00" x="210.2" y="360.7"/><use href="#di1_00" x="215.7" y="360.7"/><use href="#di1_00" x="221.3" y="360.7"/><use href="#di1_00" x="226.8" y="360.7"/><use href="#di1_00" x="232.3" y="360.6"/><use href="#di1_00" x="237.9" y="360.6"/><use href="#di1_00" x="243.4" y="360.6"/><use href="#di1_00" x="248.9" y="360.6"/><use href="#di1_00" x="254.5" y="360.6"/><use href="#di1_00" x="260" y="360.6"/></g>
<path d="M38.6 402.6 40.1 402 41.6 401.4 43.1 400.7 44.6 400.1 46.1 399.5 47.6 398.8 49.1 398.2 50.6 397.6 52.1 396.9 53.6 396.3 55.1 395.6 56.6 394.9 58.1 394.3 59.6 393.7 61.1 393.1 62.6 392.4 64.1 391.8 65.6 391.1 67.1 390.5 68.6 389.7 70.1 389 71.6 388.1 73.1 387.3 74.6 386.2 76.1 385.1 77.6 383.9 79.1 382.6 80.6 381.2 82.1 379.8 83.6 378.4 85.1 377 86.6 375.5 88.1 374.1 89.6 372.5 91.1 370.9 92.6 369.3 94.1 367.7 95.6 366.1 97.1 364.4 98.6 362.9 100.1 361.3 101.6 359.8 103.1 358.3 104.6 356.9 106.1 355.4 107.6 354 109.1 352.6 110.6 351.2 112.1 349.8 113.6 348.3 115.1 346.9 116.6 345.5 118.1 344 119.6 342.4 121.1 340.8 122.6 339.2 124.1 337.6 125.6 336.1 127.1 334.8 128.6 333.5 130.1 332.4 131.6 331.6 133.1 330.7 134.6 329.9 136.1 329.1 137.6 328.4 139.1 327.8 140.6 327.2 142.1 326.6 143.6 326.1 145.1 325.7 146.6 325.3 148.1 325 149.6 324.6 151.1 324.3 152.6 324 154.1 323.8 155.6 323.5 157.1 323.3 158.6 323.1 160.1 322.9 161.6 322.7 163.1 322.7 164.6 322.6 166.1 322.6 167.6 322.6 169.1 322.6 170.6 322.6 172.1 322.5 173.6 322.5 175.1 322.5 176.6 322.5 178.1 322.5 179.6 322.5 181.1 322.5 182.6 322.5 184.1 322.5 185.6 322.5 187.1 322.5 188.6 322.4 190.1 322.4 191.6 322.4 193.1 322.4 194.6 322.4 196.1 322.4 197.6 322.4 199.1 322.4 200.6 322.4 202.1 322.4 203.6 322.4 205.1 322.4 206.6 322.4 208.1 322.4 209.6 322.4 211.1 322.4 212.6 322.4 214.1 322.4 215.6 322.3 217.1 322.3 218.6 322.3 220.1 322.3 221.6 322.3 223.1 322.3 224.6 322.3 226.1 322.3 227.6 322.3 229.1 322.3 230.6 322.3 232.1 322.3 233.6 322.3 235.1 322.3 236.6 322.3 238.1 322.3 239.6 322.3 241.1 322.3 242.6 322.3 244.1 322.3 245.6 322.3 247.1 322.3 248.6 322.3 250.1 322.3 251.6 322.3 253.1 322.3 254.6 322.3 256.1 322.3 257.6 322.3 259.1 322.3 260 322.3" fill="none" stroke="#0000ff" stroke-width="1.3" stroke-linejoin="round"/><g fill="#0000ff"><use href="#td1_00" x="38.6" y="402.6"/><use href="#td1_00" x="44.1" y="400.3"/><use href="#td1_00" x="49.7" y="398"/><use href="#td1_00" x="55.2" y="395.6"/><use href="#td1_00" x="60.7" y="393.2"/><use href="#td1_00" x="66.3" y="390.8"/><use href="#td1_00" x="71.8" y="388"/><use href="#td1_00" x="77.3" y="384.1"/><use href="#td1_00" x="82.9" y="379.1"/><use href="#td1_00" x="88.4" y="373.7"/><use href="#td1_00" x="94" y="367.8"/><use href="#td1_00" x="99.5" y="361.9"/><use href="#td1_00" x="105" y="356.5"/><use href="#td1_00" x="110.6" y="351.2"/><use href="#td1_00" x="116.1" y="346"/><use href="#td1_00" x="121.6" y="340.3"/><use href="#td1_00" x="127.2" y="334.7"/><use href="#td1_00" x="132.7" y="330.9"/><use href="#td1_00" x="138.2" y="328.2"/><use href="#td1_00" x="143.8" y="326.1"/><use href="#td1_00" x="149.3" y="324.7"/><use href="#td1_00" x="154.8" y="323.6"/><use href="#td1_00" x="160.4" y="322.9"/><use href="#td1_00" x="165.9" y="322.6"/><use href="#td1_00" x="171.4" y="322.6"/><use href="#td1_00" x="177" y="322.5"/><use href="#td1_00" x="182.5" y="322.5"/><use href="#td1_00" x="188" y="322.5"/><use href="#td1_00" x="193.6" y="322.4"/><use href="#td1_00" x="199.1" y="322.4"/><use href="#td1_00" x="204.7" y="322.4"/><use href="#td1_00" x="210.2" y="322.4"/><use href="#td1_00" x="215.7" y="322.3"/><use href="#td1_00" x="221.3" y="322.3"/><use href="#td1_00" x="226.8" y="322.3"/><use href="#td1_00" x="232.3" y="322.3"/><use href="#td1_00" x="237.9" y="322.3"/><use href="#td1_00" x="243.4" y="322.3"/><use href="#td1_00" x="248.9" y="322.3"/><use href="#td1_00" x="254.5" y="322.3"/><use href="#td1_00" x="260" y="322.3"/></g>
<path d="M38.6 403.5 40.1 402.8 41.6 402.2 43.1 401.6 44.6 401 46.1 400.4 47.6 399.9 49.1 399.4 50.6 398.9 52.1 398.5 53.6 398.2 55.1 397.9 56.6 397.7 58.1 397.6 59.6 397.5 61.1 397.5 62.6 397.6 64.1 397.6 65.6 397.7 67.1 397.8 68.6 398 70.1 398.1 71.6 398.3 73.1 398.5 74.6 398.6 76.1 398.8 77.6 398.9 79.1 399.1 80.6 399.2 82.1 399.3 83.6 399.4 85.1 399.5 86.6 399.6 88.1 399.6 89.6 399.7 91.1 399.7 92.6 399.8 94.1 399.8 95.6 399.9 97.1 399.9 98.6 400 100.1 400 101.6 400 103.1 400.1 104.6 400.1 106.1 400.2 107.6 400.2 109.1 400.2 110.6 400.3 112.1 400.3 113.6 400.3 115.1 400.3 116.6 400.4 118.1 400.4 119.6 400.4 121.1 400.4 122.6 400.4 124.1 400.5 125.6 400.5 127.1 400.5 128.6 400.5 130.1 400.5 131.6 400.5 133.1 400.5 134.6 400.5 136.1 400.5 137.6 400.5 139.1 400.5 140.6 400.5 142.1 400.5 143.6 400.5 145.1 400.5 146.6 400.6 148.1 400.6 149.6 400.6 151.1 400.6 152.6 400.6 154.1 400.6 155.6 400.6 157.1 400.6 158.6 400.6 160.1 400.6 161.6 400.6 163.1 400.6 164.6 400.6 166.1 400.6 167.6 400.6 169.1 400.6 170.6 400.6 172.1 400.6 173.6 400.6 175.1 400.6 176.6 400.6 178.1 400.6 179.6 400.6 181.1 400.6 182.6 400.6 184.1 400.6 185.6 400.6 187.1 400.6 188.6 400.6 190.1 400.6 191.6 400.6 193.1 400.7 194.6 400.7 196.1 400.7 197.6 400.7 199.1 400.7 200.6 400.7 202.1 400.7 203.6 400.7 205.1 400.7 206.6 400.7 208.1 400.7 209.6 400.7 211.1 400.7 212.6 400.7 214.1 400.7 215.6 400.7 217.1 400.7 218.6 400.7 220.1 400.7 221.6 400.7 223.1 400.7 224.6 400.7 226.1 400.7 227.6 400.7 229.1 400.7 230.6 400.7 232.1 400.7 233.6 400.7 235.1 400.7 236.6 400.7 238.1 400.7 239.6 400.7 241.1 400.7 242.6 400.7 244.1 400.7 245.6 400.7 247.1 400.7 248.6 400.7 250.1 400.7 251.6 400.7 253.1 400.7 254.6 400.7 256.1 400.7 257.6 400.7 259.1 400.7 260 400.7" fill="none" stroke="#00ff00" stroke-width="1.3" stroke-linejoin="round"/><g fill="#00ff00"><use href="#cl1_00" x="38.6" y="403.5"/><use href="#cl1_00" x="44.1" y="401.1"/><use href="#cl1_00" x="49.7" y="399.2"/><use href="#cl1_00" x="55.2" y="397.9"/><use href="#cl1_00" x="60.7" y="397.5"/><use href="#cl1_00" x="66.3" y="397.8"/><use href="#cl1_00" x="71.8" y="398.3"/><use href="#cl1_00" x="77.3" y="398.9"/><use href="#cl1_00" x="82.9" y="399.4"/><use href="#cl1_00" x="88.4" y="399.6"/><use href="#cl1_00" x="94" y="399.8"/><use href="#cl1_00" x="99.5" y="400"/><use href="#cl1_00" x="105" y="400.1"/><use href="#cl1_00" x="110.6" y="400.3"/><use href="#cl1_00" x="116.1" y="400.4"/><use href="#cl1_00" x="121.6" y="400.4"/><use href="#cl1_00" x="127.2" y="400.5"/><use href="#cl1_00" x="132.7" y="400.5"/><use href="#cl1_00" x="138.2" y="400.5"/><use href="#cl1_00" x="143.8" y="400.5"/><use href="#cl1_00" x="149.3" y="400.6"/><use href="#cl1_00" x="154.8" y="400.6"/><use href="#cl1_00" x="160.4" y="400.6"/><use href="#cl1_00" x="165.9" y="400.6"/><use href="#cl1_00" x="171.4" y="400.6"/><use href="#cl1_00" x="177" y="400.6"/><use href="#cl1_00" x="182.5" y="400.6"/><use href="#cl1_00" x="188" y="400.6"/><use href="#cl1_00" x="193.6" y="400.7"/><use href="#cl1_00" x="199.1" y="400.7"/><use href="#cl1_00" x="204.7" y="400.7"/><use href="#cl1_00" x="210.2" y="400.7"/><use href="#cl1_00" x="215.7" y="400.7"/><use href="#cl1_00" x="221.3" y="400.7"/><use href="#cl1_00" x="226.8" y="400.7"/><use href="#cl1_00" x="232.3" y="400.7"/><use href="#cl1_00" x="237.9" y="400.7"/><use href="#cl1_00" x="243.4" y="400.7"/><use href="#cl1_00" x="248.9" y="400.7"/><use href="#cl1_00" x="254.5" y="400.7"/><use href="#cl1_00" x="260" y="400.7"/></g>
<path d="M38.6 403.6 40.1 403.6 41.6 403.6 43.1 403.6 44.6 403.5 46.1 403.5 47.6 403.4 49.1 403.3 50.6 403.3 52.1 403.2 53.6 403.1 55.1 403 56.6 402.9 58.1 402.8 59.6 402.7 61.1 402.6 62.6 402.4 64.1 402.2 65.6 401.9 67.1 401.6 68.6 401.2 70.1 400.9 71.6 400.7 73.1 400.4 74.6 400.2 76.1 400 77.6 399.8 79.1 399.6 80.6 399.5 82.1 399.3 83.6 399.1 85.1 398.9 86.6 398.7 88.1 398.6 89.6 398.4 91.1 398.3 92.6 398.1 94.1 397.9 95.6 397.8 97.1 397.6 98.6 397.5 100.1 397.3 101.6 397.1 103.1 397 104.6 396.8 106.1 396.7 107.6 396.5 109.1 396.4 110.6 396.2 112.1 396.1 113.6 395.9 115.1 395.8 116.6 395.6 118.1 395.5 119.6 395.4 121.1 395.3 122.6 395.2 124.1 395.1 125.6 395 127.1 394.9 128.6 394.8 130.1 394.7 131.6 394.6 133.1 394.5 134.6 394.4 136.1 394.3 137.6 394.2 139.1 394.1 140.6 394 142.1 394 143.6 393.9 145.1 393.8 146.6 393.7 148.1 393.7 149.6 393.6 151.1 393.6 152.6 393.5 154.1 393.5 155.6 393.5 157.1 393.4 158.6 393.4 160.1 393.4 161.6 393.4 163.1 393.4 164.6 393.4 166.1 393.4 167.6 393.4 169.1 393.4 170.6 393.4 172.1 393.4 173.6 393.3 175.1 393.3 176.6 393.3 178.1 393.3 179.6 393.3 181.1 393.3 182.6 393.3 184.1 393.3 185.6 393.3 187.1 393.3 188.6 393.3 190.1 393.3 191.6 393.3 193.1 393.3 194.6 393.3 196.1 393.3 197.6 393.3 199.1 393.3 200.6 393.3 202.1 393.3 203.6 393.3 205.1 393.3 206.6 393.3 208.1 393.2 209.6 393.2 211.1 393.2 212.6 393.2 214.1 393.2 215.6 393.2 217.1 393.2 218.6 393.2 220.1 393.2 221.6 393.2 223.1 393.2 224.6 393.2 226.1 393.2 227.6 393.2 229.1 393.2 230.6 393.2 232.1 393.2 233.6 393.2 235.1 393.2 236.6 393.2 238.1 393.2 239.6 393.2 241.1 393.2 242.6 393.2 244.1 393.2 245.6 393.2 247.1 393.2 248.6 393.2 250.1 393.2 251.6 393.2 253.1 393.2 254.6 393.2 256.1 393.2 257.6 393.2 259.1 393.2 260 393.2" fill="none" stroke="#800080" stroke-width="1.3" stroke-linejoin="round"/><g fill="#800080"><use href="#sq1_00" x="38.6" y="403.6"/><use href="#sq1_00" x="44.1" y="403.5"/><use href="#sq1_00" x="49.7" y="403.3"/><use href="#sq1_00" x="55.2" y="403"/><use href="#sq1_00" x="60.7" y="402.6"/><use href="#sq1_00" x="66.3" y="401.7"/><use href="#sq1_00" x="71.8" y="400.6"/><use href="#sq1_00" x="77.3" y="399.9"/><use href="#sq1_00" x="82.9" y="399.2"/><use href="#sq1_00" x="88.4" y="398.5"/><use href="#sq1_00" x="94" y="397.9"/><use href="#sq1_00" x="99.5" y="397.4"/><use href="#sq1_00" x="105" y="396.8"/><use href="#sq1_00" x="110.6" y="396.2"/><use href="#sq1_00" x="116.1" y="395.7"/><use href="#sq1_00" x="121.6" y="395.2"/><use href="#sq1_00" x="127.2" y="394.9"/><use href="#sq1_00" x="132.7" y="394.5"/><use href="#sq1_00" x="138.2" y="394.2"/><use href="#sq1_00" x="143.8" y="393.9"/><use href="#sq1_00" x="149.3" y="393.6"/><use href="#sq1_00" x="154.8" y="393.5"/><use href="#sq1_00" x="160.4" y="393.4"/><use href="#sq1_00" x="165.9" y="393.4"/><use href="#sq1_00" x="171.4" y="393.4"/><use href="#sq1_00" x="177" y="393.3"/><use href="#sq1_00" x="182.5" y="393.3"/><use href="#sq1_00" x="188" y="393.3"/><use href="#sq1_00" x="193.6" y="393.3"/><use href="#sq1_00" x="199.1" y="393.3"/><use href="#sq1_00" x="204.7" y="393.3"/><use href="#sq1_00" x="210.2" y="393.2"/><use href="#sq1_00" x="215.7" y="393.2"/><use href="#sq1_00" x="221.3" y="393.2"/><use href="#sq1_00" x="226.8" y="393.2"/><use href="#sq1_00" x="232.3" y="393.2"/><use href="#sq1_00" x="237.9" y="393.2"/><use href="#sq1_00" x="243.4" y="393.2"/><use href="#sq1_00" x="248.9" y="393.2"/><use href="#sq1_00" x="254.5" y="393.2"/><use href="#sq1_00" x="260" y="393.2"/></g>
<path d="M38.6 403.5 40.1 403.1 41.6 402.8 43.1 402.4 44.6 401.9 46.1 401.5 47.6 401 49.1 400.5 50.6 400 52.1 399.5 53.6 398.9 55.1 398.3 56.6 397.8 58.1 397.1 59.6 396.5 61.1 395.8 62.6 395.1 64.1 394.3 65.6 393.6 67.1 392.8 68.6 392 70.1 391.1 71.6 390.3 73.1 389.4 74.6 388.6 76.1 387.7 77.6 386.9 79.1 386 80.6 385.1 82.1 384.2 83.6 383.3 85.1 382.3 86.6 381.4 88.1 380.4 89.6 379.4 91.1 378.5 92.6 377.5 94.1 376.5 95.6 375.4 97.1 374.4 98.6 373.4 100.1 372.3 101.6 371.3 103.1 370.4 104.6 369.4 106.1 368.5 107.6 367.7 109.1 366.8 110.6 366 112.1 365.2 113.6 364.4 115.1 363.6 116.6 362.8 118.1 362.1 119.6 361.4 121.1 360.7 122.6 360 124.1 359.3 125.6 358.7 127.1 358.1 128.6 357.5 130.1 357 131.6 356.5 133.1 355.9 134.6 355.5 136.1 355 137.6 354.6 139.1 354.2 140.6 353.9 142.1 353.6 143.6 353.3 145.1 352.9 146.6 352.7 148.1 352.4 149.6 352.1 151.1 351.9 152.6 351.6 154.1 351.4 155.6 351.3 157.1 351.1 158.6 351.1 160.1 351 161.6 351 163.1 350.9 164.6 350.9 166.1 350.9 167.6 350.8 169.1 350.8 170.6 350.8 172.1 350.7 173.6 350.7 175.1 350.7 176.6 350.7 178.1 350.6 179.6 350.6 181.1 350.6 182.6 350.6 184.1 350.5 185.6 350.5 187.1 350.5 188.6 350.5 190.1 350.4 191.6 350.4 193.1 350.4 194.6 350.4 196.1 350.4 197.6 350.3 199.1 350.3 200.6 350.3 202.1 350.3 203.6 350.3 205.1 350.3 206.6 350.2 208.1 350.2 209.6 350.2 211.1 350.2 212.6 350.2 214.1 350.2 215.6 350.2 217.1 350.1 218.6 350.1 220.1 350.1 221.6 350.1 223.1 350.1 224.6 350.1 226.1 350.1 227.6 350.1 229.1 350.1 230.6 350.1 232.1 350.1 233.6 350.1 235.1 350 236.6 350 238.1 350 239.6 350 241.1 350 242.6 350 244.1 350 245.6 350 247.1 350 248.6 350 250.1 350 251.6 350 253.1 350 254.6 350 256.1 350 257.6 350 259.1 350 260 350" fill="none" stroke="#ff00ff" stroke-width="1.3" stroke-linejoin="round"/><g fill="#ff00ff"><use href="#td1_00" x="38.6" y="403.5"/><use href="#td1_00" x="44.1" y="402.1"/><use href="#td1_00" x="49.7" y="400.3"/><use href="#td1_00" x="55.2" y="398.3"/><use href="#td1_00" x="60.7" y="396"/><use href="#td1_00" x="66.3" y="393.2"/><use href="#td1_00" x="71.8" y="390.2"/><use href="#td1_00" x="77.3" y="387"/><use href="#td1_00" x="82.9" y="383.7"/><use href="#td1_00" x="88.4" y="380.2"/><use href="#td1_00" x="94" y="376.6"/><use href="#td1_00" x="99.5" y="372.8"/><use href="#td1_00" x="105" y="369.2"/><use href="#td1_00" x="110.6" y="366"/><use href="#td1_00" x="116.1" y="363.1"/><use href="#td1_00" x="121.6" y="360.4"/><use href="#td1_00" x="127.2" y="358.1"/><use href="#td1_00" x="132.7" y="356.1"/><use href="#td1_00" x="138.2" y="354.4"/><use href="#td1_00" x="143.8" y="353.2"/><use href="#td1_00" x="149.3" y="352.2"/><use href="#td1_00" x="154.8" y="351.4"/><use href="#td1_00" x="160.4" y="351"/><use href="#td1_00" x="165.9" y="350.9"/><use href="#td1_00" x="171.4" y="350.8"/><use href="#td1_00" x="177" y="350.7"/><use href="#td1_00" x="182.5" y="350.6"/><use href="#td1_00" x="188" y="350.5"/><use href="#td1_00" x="193.6" y="350.4"/><use href="#td1_00" x="199.1" y="350.3"/><use href="#td1_00" x="204.7" y="350.3"/><use href="#td1_00" x="210.2" y="350.2"/><use href="#td1_00" x="215.7" y="350.2"/><use href="#td1_00" x="221.3" y="350.1"/><use href="#td1_00" x="226.8" y="350.1"/><use href="#td1_00" x="232.3" y="350.1"/><use href="#td1_00" x="237.9" y="350"/><use href="#td1_00" x="243.4" y="350"/><use href="#td1_00" x="248.9" y="350"/><use href="#td1_00" x="254.5" y="350"/><use href="#td1_00" x="260" y="350"/></g>
<text x="255" y="301.4" font-family="Liberation Sans" font-size="8.5" fill="#111" text-anchor="middle">w1</text>
<rect x="195.1" y="289.6" width="43.4" height="92" fill="#fff" stroke="#444" stroke-width="1.1"/>
<rect x="200" y="295.5" width="4.1" height="4.1" fill="#000000"/>
<text x="219.3" y="300.5" font-family="Liberation Sans" font-size="9.5" fill="#111" text-anchor="middle" font-style="italic">q</text>
<circle cx="202" cy="307.4" r="2.9" fill="#ff0000"/>
<text x="219.3" y="310.4" font-family="Liberation Mono" font-size="8" fill="#ff2020" text-anchor="middle" font-style="italic" font-weight="bold">m</text>
<path d="M202 313.3L204.7 318.2L199.3 318.2Z" fill="#7f7f7f"/>
<text x="219.3" y="316.7" font-family="Liberation Sans" font-size="5.2" fill="#b8b8b8" text-anchor="middle" font-style="italic">γ (P−W)</text>
<path d="M208.3 318.1H230.3" stroke="#c8c8c8" stroke-width="0.6"/>
<text x="219.3" y="323.3" font-family="Liberation Sans" font-size="5.2" fill="#b8b8b8" text-anchor="middle" font-style="italic">n</text>
<path d="M202 325L202.9 327.2L205.4 327.4L203.5 329L204.1 331.4L202 330.1L199.9 331.4L200.5 329L198.6 327.4L201.1 327.2Z" fill="#00ffff"/>
<text x="219.3" y="331.5" font-family="Liberation Sans" font-size="9.5" fill="#20e0e0" text-anchor="middle" font-style="italic">c</text>
<path d="M202 334.6L205 337.6L202 340.6L199 337.6Z" fill="#ff7f00"/>
<text x="219.3" y="340.6" font-family="Liberation Mono" font-size="8.5" fill="#f0a040" text-anchor="middle" font-style="italic">o−q</text>
<path d="M202 348.3L204.8 343.2L199.2 343.2Z" fill="#0000ff"/>
<text x="219.3" y="348.3" font-family="Liberation Mono" font-size="9" fill="#3030ff" text-anchor="middle" font-style="italic" font-weight="bold">L<tspan font-size="6.5" dy="2">q</tspan></text>
<path d="M202 351.3L205.1 354.4L202 357.5L198.9 354.4Z" fill="#00ff00"/>
<text x="219.3" y="357.4" font-family="Liberation Mono" font-size="9" fill="#20e020" text-anchor="middle" font-style="italic" font-weight="bold">L<tspan font-size="6.5" dy="2">m</tspan></text>
<rect x="200" y="361" width="4.1" height="4.1" fill="#800080"/>
<text x="219.3" y="366" font-family="Liberation Mono" font-size="9" fill="#a02090" text-anchor="middle" font-weight="bold">10φ</text>
<path d="M202 375.5L204.8 370.4L199.2 370.4Z" fill="#ff00ff"/>
<text x="219.3" y="375.5" font-family="Liberation Sans" font-size="9.5" fill="#ff20ff" text-anchor="middle" font-style="italic">u</text>

</g>
<clipPath id="cw2"><rect x="271.5" y="279" width="273.5" height="140.5"/></clipPath>
<g clip-path="url(#cw2)">
<path d="M308.7 396.6H533.5M308.7 372.8H533.5M308.7 349H533.5M308.7 325.2H533.5M308.7 301.4H533.5M328.5 281V418M359 281V418M389.5 281V418M420 281V418M450.5 281V418M481 281V418M511.5 281V418" stroke="#f1f1f1" stroke-width="1" fill="none"/>
<path d="M326.2 279V419.5" stroke="#3a3a3a" stroke-width="1.4" stroke-dasharray="2.6,4.0" stroke-dashoffset="-2.6" fill="none"/>
<path d="M308.7 281V418M308.7 396.6H533.5" stroke="#e0e0e0" stroke-width="0.8" fill="none"/>
<path d="M308.7 396.6H311.2M308.7 372.8H311.2M308.7 349H311.2M308.7 325.2H311.2M308.7 301.4H311.2M328.5 396.6V394.1M359 396.6V394.1M389.5 396.6V394.1M420 396.6V394.1M450.5 396.6V394.1M481 396.6V394.1M511.5 396.6V394.1" stroke="#b0b0b0" stroke-width="0.7" fill="none"/>
<text x="306" y="399.5" font-family="Liberation Sans" font-size="8.2" fill="#222" text-anchor="end" textLength="4.3" lengthAdjust="spacingAndGlyphs">0</text>
<text x="306" y="375.7" font-family="Liberation Sans" font-size="8.2" fill="#222" text-anchor="end" textLength="22.4" lengthAdjust="spacingAndGlyphs">10 000</text>
<text x="306" y="351.9" font-family="Liberation Sans" font-size="8.2" fill="#222" text-anchor="end" textLength="22.4" lengthAdjust="spacingAndGlyphs">20 000</text>
<text x="306" y="328.1" font-family="Liberation Sans" font-size="8.2" fill="#222" text-anchor="end" textLength="22.4" lengthAdjust="spacingAndGlyphs">30 000</text>
<text x="306" y="304.3" font-family="Liberation Sans" font-size="8.2" fill="#222" text-anchor="end" textLength="22.4" lengthAdjust="spacingAndGlyphs">40 000</text>
<text x="328.5" y="406.6" font-family="Liberation Sans" font-size="8.2" fill="#222" text-anchor="middle" textLength="15" lengthAdjust="spacingAndGlyphs">0.90</text>
<text x="359" y="406.6" font-family="Liberation Sans" font-size="8.2" fill="#222" text-anchor="middle" textLength="15" lengthAdjust="spacingAndGlyphs">0.92</text>
<text x="389.5" y="406.6" font-family="Liberation Sans" font-size="8.2" fill="#222" text-anchor="middle" textLength="15" lengthAdjust="spacingAndGlyphs">0.94</text>
<text x="420" y="406.6" font-family="Liberation Sans" font-size="8.2" fill="#222" text-anchor="middle" textLength="15" lengthAdjust="spacingAndGlyphs">0.96</text>
<text x="450.5" y="406.6" font-family="Liberation Sans" font-size="8.2" fill="#222" text-anchor="middle" textLength="15" lengthAdjust="spacingAndGlyphs">0.98</text>
<text x="481" y="406.6" font-family="Liberation Sans" font-size="8.2" fill="#222" text-anchor="middle" textLength="15" lengthAdjust="spacingAndGlyphs">1.00</text>
<text x="511.5" y="406.6" font-family="Liberation Sans" font-size="8.2" fill="#222" text-anchor="middle" textLength="15" lengthAdjust="spacingAndGlyphs">1.02</text>
<text x="520" y="405.7" font-family="Liberation Sans" font-size="9" fill="#222" text-anchor="start" font-style="italic">ρ<tspan font-size="6.5" dy="1.2" font-style="normal">M</tspan></text>
<path d="M308.7 364.2 310.2 363.7 311.7 363.2 313.2 362.7 314.7 362.3 316.2 362 317.7 361.7 319.2 361.5 320.7 361.3 322.2 361.1 323.7 360.9 325.2 360.8 326.7 360.6 328.2 360.5 329.7 360.5 331.2 360.5 332.7 360.5 334.2 360.6 335.7 360.6 337.2 360.7 338.7 360.8 340.2 360.9 341.7 361 343.2 361.1 344.7 361.3 346.2 361.5 347.7 361.9 349.2 362.2 350.7 362.7 352.2 363.1 353.7 363.6 355.2 364.1 356.7 364.6 358.2 365.1 359.7 365.7 361.2 366.4 362.7 367.1 364.2 367.8 365.7 368.6 367.2 369.5 368.7 370.5 370.2 371.6 371.7 372.6 373.2 373.7 374.7 374.8 376.2 375.8 377.7 376.9 379.2 378 380.7 379.1 382.2 380.1 383.7 381.2 385.2 382.1 386.7 383.1 388.2 384 389.7 385 391.2 385.8 392.7 386.7 394.2 387.4 395.7 388.1 397.2 388.7 398.7 389.4 400.2 390 401.7 390.5 403.2 391 404.7 391.5 406.2 391.9 407.7 392.4 409.2 392.8 410.7 393.1 412.2 393.5 413.7 393.8 415.2 394.1 416.7 394.4 418.2 394.5 419.7 394.7 421.2 394.8 422.7 394.9 424.2 395 425.7 395.1 427.2 395.2 428.7 395.3 430.2 395.4 431.7 395.4 433.2 395.5 434.7 395.5 436.2 395.6 437.7 395.6 439.2 395.6 440.7 395.6 442.2 395.6 443.7 395.6 445.2 395.6 446.7 395.6 448.2 395.6 449.7 395.7 451.2 395.7 452.7 395.7 454.2 395.7 455.7 395.7 457.2 395.7 458.7 395.7 460.2 395.7 461.7 395.7 463.2 395.7 464.7 395.7 466.2 395.7 467.7 395.7 469.2 395.7 470.7 395.7 472.2 395.7 473.7 395.7 475.2 395.7 476.7 395.7 478.2 395.7 479.7 395.7 481.2 395.8 482.7 395.8 484.2 395.8 485.7 395.8 487.2 395.8 488.7 395.8 490.2 395.8 491.7 395.8 493.2 395.8 494.7 395.8 496.2 395.8 497.7 395.8 499.2 395.8 500.7 395.8 502.2 395.8 503.7 395.8 505.2 395.8 506.7 395.8 508.2 395.8 509.7 395.8 511.2 395.8 512.7 395.8 514.2 395.8 515.7 395.8 517.2 395.8 518.7 395.8 520.2 395.8 521.7 395.8 523.2 395.8 524.7 395.8 526.2 395.8 527.7 395.8 529.2 395.8 530.7 395.8 532.2 395.8 533.5 395.8" fill="none" stroke="#000000" stroke-width="1.5" stroke-linejoin="round"/><g fill="none" stroke="#000000" stroke-width="0.7" stroke-opacity="0.55"><use href="#sq0_80" x="308.7" y="364.2"/><use href="#sq0_80" x="314.3" y="362.4"/><use href="#sq0_80" x="319.9" y="361.4"/><use href="#sq0_80" x="325.6" y="360.7"/><use href="#sq0_80" x="331.2" y="360.5"/><use href="#sq0_80" x="336.8" y="360.7"/><use href="#sq0_80" x="342.4" y="361"/><use href="#sq0_80" x="348" y="361.9"/><use href="#sq0_80" x="353.7" y="363.6"/><use href="#sq0_80" x="359.3" y="365.6"/><use href="#sq0_80" x="364.9" y="368.2"/><use href="#sq0_80" x="370.5" y="371.8"/><use href="#sq0_80" x="376.1" y="375.8"/><use href="#sq0_80" x="381.8" y="379.8"/><use href="#sq0_80" x="387.4" y="383.5"/><use href="#sq0_80" x="393" y="386.8"/><use href="#sq0_80" x="398.6" y="389.3"/><use href="#sq0_80" x="404.2" y="391.4"/><use href="#sq0_80" x="409.9" y="392.9"/><use href="#sq0_80" x="415.5" y="394.2"/><use href="#sq0_80" x="421.1" y="394.8"/><use href="#sq0_80" x="426.7" y="395.2"/><use href="#sq0_80" x="432.3" y="395.5"/><use href="#sq0_80" x="438" y="395.6"/><use href="#sq0_80" x="443.6" y="395.6"/><use href="#sq0_80" x="449.2" y="395.6"/><use href="#sq0_80" x="454.8" y="395.7"/><use href="#sq0_80" x="460.4" y="395.7"/><use href="#sq0_80" x="466.1" y="395.7"/><use href="#sq0_80" x="471.7" y="395.7"/><use href="#sq0_80" x="477.3" y="395.7"/><use href="#sq0_80" x="482.9" y="395.8"/><use href="#sq0_80" x="488.5" y="395.8"/><use href="#sq0_80" x="494.2" y="395.8"/><use href="#sq0_80" x="499.8" y="395.8"/><use href="#sq0_80" x="505.4" y="395.8"/><use href="#sq0_80" x="511" y="395.8"/><use href="#sq0_80" x="516.6" y="395.8"/><use href="#sq0_80" x="522.3" y="395.8"/><use href="#sq0_80" x="527.9" y="395.8"/><use href="#sq0_80" x="533.5" y="395.8"/></g>
<path d="M308.7 375 310.2 374.3 311.7 373.6 313.2 372.9 314.7 372.2 316.2 371.4 317.7 370.6 319.2 369.8 320.7 369 322.2 368.1 323.7 367.2 325.2 366.3 326.7 365.4 328.2 364.4 329.7 363.5 331.2 362.5 332.7 361.4 334.2 360.4 335.7 359.3 337.2 358.2 338.7 357 340.2 355.9 341.7 354.7 343.2 353.4 344.7 352.1 346.2 350.7 347.7 349.3 349.2 347.8 350.7 346.3 352.2 344.8 353.7 343.4 355.2 341.9 356.7 340.6 358.2 339.3 359.7 338 361.2 336.8 362.7 335.5 364.2 334.2 365.7 332.8 367.2 331.4 368.7 330.1 370.2 328.6 371.7 327.2 373.2 325.8 374.7 324.3 376.2 322.8 377.7 321.2 379.2 319.6 380.7 318 382.2 316.4 383.7 314.8 385.2 313.3 386.7 311.8 388.2 310.4 389.7 309 391.2 307.6 392.7 306.3 394.2 305.1 395.7 304 397.2 302.9 398.7 301.9 400.2 300.9 401.7 300 403.2 299.2 404.7 298.4 406.2 297.8 407.7 297.2 409.2 296.7 410.7 296.2 412.2 295.8 413.7 295.4 415.2 295.1 416.7 294.8 418.2 294.5 419.7 294.3 421.2 294 422.7 293.8 424.2 293.6 425.7 293.4 427.2 293.2 428.7 293 430.2 292.9 431.7 292.7 433.2 292.6 434.7 292.5 436.2 292.4 437.7 292.3 439.2 292.3 440.7 292.3 442.2 292.2 443.7 292.2 445.2 292.2 446.7 292.1 448.2 292.1 449.7 292.1 451.2 292 452.7 292 454.2 292 455.7 291.9 457.2 291.9 458.7 291.9 460.2 291.9 461.7 291.8 463.2 291.8 464.7 291.8 466.2 291.8 467.7 291.7 469.2 291.7 470.7 291.7 472.2 291.7 473.7 291.7 475.2 291.6 476.7 291.6 478.2 291.6 479.7 291.6 481.2 291.6 482.7 291.6 484.2 291.5 485.7 291.5 487.2 291.5 488.7 291.5 490.2 291.5 491.7 291.5 493.2 291.5 494.7 291.4 496.2 291.4 497.7 291.4 499.2 291.4 500.7 291.4 502.2 291.4 503.7 291.4 505.2 291.4 506.7 291.4 508.2 291.4 509.7 291.4 511.2 291.3 512.7 291.3 514.2 291.3 515.7 291.3 517.2 291.3 518.7 291.3 520.2 291.3 521.7 291.3 523.2 291.3 524.7 291.3 526.2 291.3 527.7 291.3 529.2 291.3 530.7 291.3 532.2 291.3 533.5 291.3" fill="none" stroke="#ff0000" stroke-width="1.5" stroke-linejoin="round"/><g fill="none" stroke="#ff0000" stroke-width="0.7" stroke-opacity="0.55"><use href="#ci0_80" x="308.7" y="376.2"/><use href="#ci0_80" x="314.3" y="373.5"/><use href="#ci0_80" x="319.9" y="370.6"/><use href="#ci0_80" x="325.6" y="367.3"/><use href="#ci0_80" x="331.2" y="363.7"/><use href="#ci0_80" x="336.8" y="359.7"/><use href="#ci0_80" x="342.4" y="355.3"/><use href="#ci0_80" x="348" y="350.1"/><use href="#ci0_80" x="353.7" y="344.6"/><use href="#ci0_80" x="359.3" y="339.6"/><use href="#ci0_80" x="364.9" y="334.7"/><use href="#ci0_80" x="370.5" y="329.5"/><use href="#ci0_80" x="376.1" y="324"/><use href="#ci0_80" x="381.8" y="318"/><use href="#ci0_80" x="387.4" y="312.4"/><use href="#ci0_80" x="393" y="307.2"/><use href="#ci0_80" x="398.6" y="303.2"/><use href="#ci0_80" x="404.2" y="299.8"/><use href="#ci0_80" x="409.9" y="297.7"/><use href="#ci0_80" x="415.5" y="296.2"/><use href="#ci0_80" x="421.1" y="295.2"/><use href="#ci0_80" x="426.7" y="294.5"/><use href="#ci0_80" x="432.3" y="293.9"/><use href="#ci0_80" x="438" y="293.5"/><use href="#ci0_80" x="443.6" y="293.4"/><use href="#ci0_80" x="449.2" y="293.3"/><use href="#ci0_80" x="454.8" y="293.2"/><use href="#ci0_80" x="460.4" y="293.1"/><use href="#ci0_80" x="466.1" y="293"/><use href="#ci0_80" x="471.7" y="292.9"/><use href="#ci0_80" x="477.3" y="292.8"/><use href="#ci0_80" x="482.9" y="292.8"/><use href="#ci0_80" x="488.5" y="292.7"/><use href="#ci0_80" x="494.2" y="292.7"/><use href="#ci0_80" x="499.8" y="292.6"/><use href="#ci0_80" x="505.4" y="292.6"/><use href="#ci0_80" x="511" y="292.5"/><use href="#ci0_80" x="516.6" y="292.5"/><use href="#ci0_80" x="522.3" y="292.5"/><use href="#ci0_80" x="527.9" y="292.5"/><use href="#ci0_80" x="533.5" y="292.5"/></g>
<path d="M308.7 398.4 310.2 398.4 311.7 398.4 313.2 398.3 314.7 398.2 316.2 398.1 317.7 398 319.2 397.9 320.7 397.7 322.2 397.6 323.7 397.4 325.2 397.2 326.7 397.1 328.2 396.9 329.7 396.7 331.2 396.5 332.7 396.2 334.2 395.9 335.7 395.5 337.2 395.2 338.7 394.7 340.2 394.3 341.7 393.9 343.2 393.5 344.7 393 346.2 392.6 347.7 392.1 349.2 391.7 350.7 391.2 352.2 390.7 353.7 390.2 355.2 389.8 356.7 389.3 358.2 388.9 359.7 388.5 361.2 388.1 362.7 387.7 364.2 387.2 365.7 386.7 367.2 386.2 368.7 385.7 370.2 385.2 371.7 384.7 373.2 384.1 374.7 383.5 376.2 383 377.7 382.4 379.2 381.8 380.7 381.2 382.2 380.6 383.7 379.9 385.2 379.3 386.7 378.6 388.2 377.9 389.7 377.3 391.2 376.6 392.7 376.1 394.2 375.6 395.7 375.2 397.2 374.8 398.7 374.4 400.2 374.1 401.7 373.8 403.2 373.5 404.7 373.2 406.2 373 407.7 372.9 409.2 372.7 410.7 372.6 412.2 372.5 413.7 372.3 415.2 372.2 416.7 372.2 418.2 372.1 419.7 372 421.2 372 422.7 371.9 424.2 371.8 425.7 371.8 427.2 371.8 428.7 371.7 430.2 371.7 431.7 371.6 433.2 371.6 434.7 371.6 436.2 371.6 437.7 371.5 439.2 371.5 440.7 371.5 442.2 371.5 443.7 371.5 445.2 371.4 446.7 371.4 448.2 371.4 449.7 371.4 451.2 371.4 452.7 371.4 454.2 371.4 455.7 371.4 457.2 371.3 458.7 371.3 460.2 371.3 461.7 371.3 463.2 371.3 464.7 371.3 466.2 371.3 467.7 371.3 469.2 371.2 470.7 371.2 472.2 371.2 473.7 371.2 475.2 371.2 476.7 371.2 478.2 371.2 479.7 371.2 481.2 371.2 482.7 371.2 484.2 371.1 485.7 371.1 487.2 371.1 488.7 371.1 490.2 371.1 491.7 371.1 493.2 371.1 494.7 371.1 496.2 371.1 497.7 371.1 499.2 371.1 500.7 371.1 502.2 371.1 503.7 371.1 505.2 371 506.7 371 508.2 371 509.7 371 511.2 371 512.7 371 514.2 371 515.7 371 517.2 371 518.7 371 520.2 371 521.7 371 523.2 371 524.7 371 526.2 371 527.7 371 529.2 371 530.7 371 532.2 371 533.5 371" fill="none" stroke="#7f7f7f" stroke-width="1.5" stroke-linejoin="round"/><g fill="none" stroke="#7f7f7f" stroke-width="0.7" stroke-opacity="0.55"><use href="#tu0_80" x="308.7" y="398.4"/><use href="#tu0_80" x="314.3" y="398.2"/><use href="#tu0_80" x="319.9" y="397.8"/><use href="#tu0_80" x="325.6" y="397.2"/><use href="#tu0_80" x="331.2" y="396.5"/><use href="#tu0_80" x="336.8" y="395.3"/><use href="#tu0_80" x="342.4" y="393.7"/><use href="#tu0_80" x="348" y="392"/><use href="#tu0_80" x="353.7" y="390.2"/><use href="#tu0_80" x="359.3" y="388.6"/><use href="#tu0_80" x="364.9" y="387"/><use href="#tu0_80" x="370.5" y="385.1"/><use href="#tu0_80" x="376.1" y="383"/><use href="#tu0_80" x="381.8" y="380.8"/><use href="#tu0_80" x="387.4" y="378.3"/><use href="#tu0_80" x="393" y="376"/><use href="#tu0_80" x="398.6" y="374.4"/><use href="#tu0_80" x="404.2" y="373.3"/><use href="#tu0_80" x="409.9" y="372.7"/><use href="#tu0_80" x="415.5" y="372.2"/><use href="#tu0_80" x="421.1" y="372"/><use href="#tu0_80" x="426.7" y="371.8"/><use href="#tu0_80" x="432.3" y="371.6"/><use href="#tu0_80" x="438" y="371.5"/><use href="#tu0_80" x="443.6" y="371.5"/><use href="#tu0_80" x="449.2" y="371.4"/><use href="#tu0_80" x="454.8" y="371.4"/><use href="#tu0_80" x="460.4" y="371.3"/><use href="#tu0_80" x="466.1" y="371.3"/><use href="#tu0_80" x="471.7" y="371.2"/><use href="#tu0_80" x="477.3" y="371.2"/><use href="#tu0_80" x="482.9" y="371.2"/><use href="#tu0_80" x="488.5" y="371.1"/><use href="#tu0_80" x="494.2" y="371.1"/><use href="#tu0_80" x="499.8" y="371.1"/><use href="#tu0_80" x="505.4" y="371"/><use href="#tu0_80" x="511" y="371"/><use href="#tu0_80" x="516.6" y="371"/><use href="#tu0_80" x="522.3" y="371"/><use href="#tu0_80" x="527.9" y="371"/><use href="#tu0_80" x="533.5" y="371"/></g>
<path d="M308.7 350.5 310.2 352.1 311.7 353.6 313.2 355.1 314.7 356.5 316.2 357.9 317.7 359.2 319.2 360.5 320.7 361.7 322.2 362.9 323.7 364 325.2 365.1 326.7 366.2 328.2 367.3 329.7 368.3 331.2 369.2 332.7 370.1 334.2 371 335.7 371.8 337.2 372.6 338.7 373.4 340.2 374.2 341.7 375 343.2 375.8 344.7 376.5 346.2 377.3 347.7 378 349.2 378.8 350.7 379.5 352.2 380.2 353.7 381 355.2 381.7 356.7 382.5 358.2 383.3 359.7 384.1 361.2 384.8 362.7 385.6 364.2 386.3 365.7 387 367.2 387.6 368.7 388.2 370.2 388.8 371.7 389.3 373.2 389.9 374.7 390.4 376.2 390.9 377.7 391.5 379.2 392 380.7 392.6 382.2 393.1 383.7 393.5 385.2 393.8 386.7 394.2 388.2 394.5 389.7 394.8 391.2 395 392.7 395.2 394.2 395.3 395.7 395.3 397.2 395.4 398.7 395.4 400.2 395.4 401.7 395.5 403.2 395.5 404.7 395.5 406.2 395.5 407.7 395.6 409.2 395.6 410.7 395.6 412.2 395.6 413.7 395.6 415.2 395.6 416.7 395.6 418.2 395.6 419.7 395.6 421.2 395.6 422.7 395.6 424.2 395.6 425.7 395.6 427.2 395.6 428.7 395.6 430.2 395.7 431.7 395.7 433.2 395.7 434.7 395.7 436.2 395.7 437.7 395.7 439.2 395.7 440.7 395.7 442.2 395.7 443.7 395.7 445.2 395.7 446.7 395.7 448.2 395.7 449.7 395.7 451.2 395.7 452.7 395.7 454.2 395.7 455.7 395.7 457.2 395.7 458.7 395.7 460.2 395.7 461.7 395.7 463.2 395.7 464.7 395.7 466.2 395.7 467.7 395.7 469.2 395.7 470.7 395.7 472.2 395.8 473.7 395.8 475.2 395.8 476.7 395.8 478.2 395.8 479.7 395.8 481.2 395.8 482.7 395.8 484.2 395.8 485.7 395.8 487.2 395.8 488.7 395.8 490.2 395.8 491.7 395.8 493.2 395.8 494.7 395.8 496.2 395.8 497.7 395.8 499.2 395.8 500.7 395.8 502.2 395.8 503.7 395.8 505.2 395.8 506.7 395.8 508.2 395.8 509.7 395.8 511.2 395.8 512.7 395.8 514.2 395.8 515.7 395.8 517.2 395.8 518.7 395.8 520.2 395.8 521.7 395.8 523.2 395.8 524.7 395.8 526.2 395.8 527.7 395.8 529.2 395.8 530.7 395.8 532.2 395.8 533.5 395.8" fill="none" stroke="#ff8c00" stroke-width="1.5" stroke-linejoin="round"/><g fill="none" stroke="#ff8c00" stroke-width="0.7" stroke-opacity="0.55"><use href="#di0_80" x="308.7" y="350.5"/><use href="#di0_80" x="314.3" y="356.2"/><use href="#di0_80" x="319.9" y="361.1"/><use href="#di0_80" x="325.6" y="365.4"/><use href="#di0_80" x="331.2" y="369.2"/><use href="#di0_80" x="336.8" y="372.4"/><use href="#di0_80" x="342.4" y="375.3"/><use href="#di0_80" x="348" y="378.2"/><use href="#di0_80" x="353.7" y="380.9"/><use href="#di0_80" x="359.3" y="383.8"/><use href="#di0_80" x="364.9" y="386.6"/><use href="#di0_80" x="370.5" y="388.9"/><use href="#di0_80" x="376.1" y="390.9"/><use href="#di0_80" x="381.8" y="392.9"/><use href="#di0_80" x="387.4" y="394.3"/><use href="#di0_80" x="393" y="395.2"/><use href="#di0_80" x="398.6" y="395.4"/><use href="#di0_80" x="404.2" y="395.5"/><use href="#di0_80" x="409.9" y="395.6"/><use href="#di0_80" x="415.5" y="395.6"/><use href="#di0_80" x="421.1" y="395.6"/><use href="#di0_80" x="426.7" y="395.6"/><use href="#di0_80" x="432.3" y="395.7"/><use href="#di0_80" x="438" y="395.7"/><use href="#di0_80" x="443.6" y="395.7"/><use href="#di0_80" x="449.2" y="395.7"/><use href="#di0_80" x="454.8" y="395.7"/><use href="#di0_80" x="460.4" y="395.7"/><use href="#di0_80" x="466.1" y="395.7"/><use href="#di0_80" x="471.7" y="395.8"/><use href="#di0_80" x="477.3" y="395.8"/><use href="#di0_80" x="482.9" y="395.8"/><use href="#di0_80" x="488.5" y="395.8"/><use href="#di0_80" x="494.2" y="395.8"/><use href="#di0_80" x="499.8" y="395.8"/><use href="#di0_80" x="505.4" y="395.8"/><use href="#di0_80" x="511" y="395.8"/><use href="#di0_80" x="516.6" y="395.8"/><use href="#di0_80" x="522.3" y="395.8"/><use href="#di0_80" x="527.9" y="395.8"/><use href="#di0_80" x="533.5" y="395.8"/></g>
<path d="M308.7 357.9 310.2 357.8 311.7 357.7 313.2 357.6 314.7 357.4 316.2 357.3 317.7 357.2 319.2 357.1 320.7 356.9 322.2 356.8 323.7 356.6 325.2 356.5 326.7 356.3 328.2 356.2 329.7 356 331.2 355.9 332.7 355.7 334.2 355.5 335.7 355.4 337.2 355.2 338.7 355 340.2 354.8 341.7 354.6 343.2 354.4 344.7 354.2 346.2 354 347.7 353.8 349.2 353.6 350.7 353.4 352.2 353.2 353.7 352.9 355.2 352.7 356.7 352.4 358.2 352.2 359.7 351.9 361.2 351.6 362.7 351.3 364.2 351.1 365.7 350.8 367.2 350.5 368.7 350.2 370.2 349.8 371.7 349.5 373.2 349.2 374.7 348.9 376.2 348.5 377.7 348.2 379.2 347.8 380.7 347.5 382.2 347.1 383.7 346.7 385.2 346.3 386.7 345.9 388.2 345.5 389.7 345.1 391.2 344.7 392.7 344.3 394.2 343.9 395.7 343.5 397.2 343.1 398.7 342.6 400.2 342.1 401.7 341.7 403.2 341.2 404.7 340.7 406.2 340.2 407.7 339.7 409.2 339.2 410.7 338.8 412.2 338.3 413.7 337.9 415.2 337.4 416.7 337 418.2 336.6 419.7 336.3 421.2 335.9 422.7 335.5 424.2 335.2 425.7 334.8 427.2 334.5 428.7 334.1 430.2 333.7 431.7 333.4 433.2 333 434.7 332.6 436.2 332.2 437.7 331.8 439.2 331.3 440.7 330.9 442.2 330.4 443.7 329.9 445.2 329.4 446.7 328.8 448.2 328.3 449.7 327.7 451.2 327.2 452.7 326.6 454.2 326 455.7 325.4 457.2 324.8 458.7 324.2 460.2 323.6 461.7 322.9 463.2 322.3 464.7 321.6 466.2 320.8 467.7 320.1 469.2 319.4 470.7 318.6 472.2 317.9 473.7 317.1 475.2 316.3 476.7 315.6 478.2 314.9 479.7 314.1 481.2 313.4 482.7 312.7 484.2 312.1 485.7 311.4 487.2 310.7 488.7 310.1 490.2 309.4 491.7 308.7 493.2 308.1 494.7 307.4 496.2 306.7 497.7 306 499.2 305.3 500.7 304.5 502.2 303.8 503.7 303 505.2 302.1 506.7 301.2 508.2 300.3 509.7 299.4 511.2 298.5 512.7 297.6 514.2 296.7 515.7 295.8 517.2 294.9 518.7 294.1 520.2 293.2 521.7 292.4 523.2 291.6 524.7 290.8 526.2 289.9 527.7 288.9 529.2 288 530.7 287 532.2 285.9 533.5 285" fill="none" stroke="#ff00ff" stroke-width="1.5" stroke-linejoin="round"/><g fill="none" stroke="#ff00ff" stroke-width="0.7" stroke-opacity="0.55"><use href="#td0_80" x="308.7" y="357.9"/><use href="#td0_80" x="314.3" y="357.5"/><use href="#td0_80" x="319.9" y="357"/><use href="#td0_80" x="325.6" y="356.5"/><use href="#td0_80" x="331.2" y="355.9"/><use href="#td0_80" x="336.8" y="355.2"/><use href="#td0_80" x="342.4" y="354.6"/><use href="#td0_80" x="348" y="353.8"/><use href="#td0_80" x="353.7" y="352.9"/><use href="#td0_80" x="359.3" y="352"/><use href="#td0_80" x="364.9" y="350.9"/><use href="#td0_80" x="370.5" y="349.8"/><use href="#td0_80" x="376.1" y="348.5"/><use href="#td0_80" x="381.8" y="347.2"/><use href="#td0_80" x="387.4" y="345.8"/><use href="#td0_80" x="393" y="344.2"/><use href="#td0_80" x="398.6" y="342.6"/><use href="#td0_80" x="404.2" y="340.8"/><use href="#td0_80" x="409.9" y="339"/><use href="#td0_80" x="415.5" y="337.4"/><use href="#td0_80" x="421.1" y="335.9"/><use href="#td0_80" x="426.7" y="334.6"/><use href="#td0_80" x="432.3" y="333.2"/><use href="#td0_80" x="438" y="331.7"/><use href="#td0_80" x="443.6" y="329.9"/><use href="#td0_80" x="449.2" y="327.9"/><use href="#td0_80" x="454.8" y="325.8"/><use href="#td0_80" x="460.4" y="323.5"/><use href="#td0_80" x="466.1" y="320.9"/><use href="#td0_80" x="471.7" y="318.1"/><use href="#td0_80" x="477.3" y="315.3"/><use href="#td0_80" x="482.9" y="312.6"/><use href="#td0_80" x="488.5" y="310.1"/><use href="#td0_80" x="494.2" y="307.6"/><use href="#td0_80" x="499.8" y="305"/><use href="#td0_80" x="505.4" y="302"/><use href="#td0_80" x="511" y="298.6"/><use href="#td0_80" x="516.6" y="295.2"/><use href="#td0_80" x="522.3" y="292.1"/><use href="#td0_80" x="527.9" y="288.8"/><use href="#td0_80" x="533.5" y="285"/></g>
<path d="M308.7 416.5 310.2 414.1 311.7 411.7 313.2 409.3 314.7 407 316.2 404.6 317.7 402.3 319.2 400 320.7 397.7 322.2 395.4 323.7 393.1 325.2 390.8 326.7 388.6 328.2 386.4 329.7 384.3 331.2 382.2 332.7 380.2 334.2 378.2 335.7 376.2 337.2 374.3 338.7 372.4 340.2 370.5 341.7 368.6 343.2 366.7 344.7 364.7 346.2 362.8 347.7 360.9 349.2 358.9 350.7 357 352.2 355 353.7 353.1 355.2 351.1 356.7 349.1 358.2 347 359.7 345 361.2 342.9 362.7 340.8 364.2 338.7 365.7 336.7 367.2 334.6 368.7 332.5 370.2 330.4 371.7 328.3 373.2 326.3 374.7 324.4 376.2 322.5 377.7 320.7 379.2 318.9 380.7 317.1 382.2 315.4 383.7 313.8 385.2 312.3 386.7 310.8 388.2 309.4 389.7 308 391.2 306.7 392.7 305.4 394.2 304.3 395.7 303.2 397.2 302.2 398.7 301.2 400.2 300.3 401.7 299.5 403.2 298.6 404.7 297.8 406.2 297.1 407.7 296.4 409.2 295.6 410.7 294.9 412.2 294.3 413.7 293.6 415.2 293.1 416.7 292.6 418.2 292.3 419.7 292 421.2 291.8 422.7 291.5 424.2 291.3 425.7 291.1 427.2 290.9 428.7 290.7 430.2 290.5 431.7 290.4 433.2 290.3 434.7 290.2 436.2 290.1 437.7 290 439.2 290 440.7 290 442.2 289.9 443.7 289.9 445.2 289.9 446.7 289.8 448.2 289.8 449.7 289.8 451.2 289.7 452.7 289.7 454.2 289.7 455.7 289.6 457.2 289.6 458.7 289.6 460.2 289.6 461.7 289.5 463.2 289.5 464.7 289.5 466.2 289.5 467.7 289.4 469.2 289.4 470.7 289.4 472.2 289.4 473.7 289.4 475.2 289.3 476.7 289.3 478.2 289.3 479.7 289.3 481.2 289.3 482.7 289.3 484.2 289.2 485.7 289.2 487.2 289.2 488.7 289.2 490.2 289.2 491.7 289.2 493.2 289.2 494.7 289.1 496.2 289.1 497.7 289.1 499.2 289.1 500.7 289.1 502.2 289.1 503.7 289.1 505.2 289.1 506.7 289.1 508.2 289.1 509.7 289.1 511.2 289 512.7 289 514.2 289 515.7 289 517.2 289 518.7 289 520.2 289 521.7 289 523.2 289 524.7 289 526.2 289 527.7 289 529.2 289 530.7 289 532.2 289 533.5 289" fill="none" stroke="#12b012" stroke-width="1.5" stroke-linejoin="round"/><g stroke="#12b012" stroke-width="1.1" fill="none"><use href="#pl0_80" x="308.7" y="416.5"/><use href="#pl0_80" x="314.3" y="407.6"/><use href="#pl0_80" x="319.9" y="398.9"/><use href="#pl0_80" x="325.6" y="390.3"/><use href="#pl0_80" x="331.2" y="382.2"/><use href="#pl0_80" x="336.8" y="374.8"/><use href="#pl0_80" x="342.4" y="367.7"/><use href="#pl0_80" x="348" y="360.4"/><use href="#pl0_80" x="353.7" y="353.1"/><use href="#pl0_80" x="359.3" y="345.6"/><use href="#pl0_80" x="364.9" y="337.8"/><use href="#pl0_80" x="370.5" y="329.9"/><use href="#pl0_80" x="376.1" y="322.6"/><use href="#pl0_80" x="381.8" y="315.9"/><use href="#pl0_80" x="387.4" y="310.2"/><use href="#pl0_80" x="393" y="305.2"/><use href="#pl0_80" x="398.6" y="301.3"/><use href="#pl0_80" x="404.2" y="298.1"/><use href="#pl0_80" x="409.9" y="295.3"/><use href="#pl0_80" x="415.5" y="293"/><use href="#pl0_80" x="421.1" y="291.8"/><use href="#pl0_80" x="426.7" y="290.9"/><use href="#pl0_80" x="432.3" y="290.3"/><use href="#pl0_80" x="438" y="290"/><use href="#pl0_80" x="443.6" y="289.9"/><use href="#pl0_80" x="449.2" y="289.8"/><use href="#pl0_80" x="454.8" y="289.7"/><use href="#pl0_80" x="460.4" y="289.6"/><use href="#pl0_80" x="466.1" y="289.5"/><use href="#pl0_80" x="471.7" y="289.4"/><use href="#pl0_80" x="477.3" y="289.3"/><use href="#pl0_80" x="482.9" y="289.3"/><use href="#pl0_80" x="488.5" y="289.2"/><use href="#pl0_80" x="494.2" y="289.1"/><use href="#pl0_80" x="499.8" y="289.1"/><use href="#pl0_80" x="505.4" y="289.1"/><use href="#pl0_80" x="511" y="289"/><use href="#pl0_80" x="516.6" y="289"/><use href="#pl0_80" x="522.3" y="289"/><use href="#pl0_80" x="527.9" y="289"/><use href="#pl0_80" x="533.5" y="289"/></g>
<text x="527" y="299.9" font-family="Liberation Sans" font-size="8.5" fill="#111" text-anchor="middle">w2</text>
<rect x="459.7" y="303.7" width="58" height="62.6" fill="#fff" stroke="#444" stroke-width="1.1"/>
<rect x="464.1" y="310.7" width="3.7" height="3.7" fill="none" stroke="#000000" stroke-width="0.9"/>
<text x="490.2" y="315.6" font-family="Liberation Mono" font-size="9" fill="#111" text-anchor="middle" font-style="italic" font-weight="bold">Q</text>
<circle cx="466" cy="322.8" r="3" fill="none" stroke="#ff0000" stroke-width="0.9"/>
<text x="490.2" y="325.8" font-family="Liberation Mono" font-size="9" fill="#ff2020" text-anchor="middle" font-style="italic" font-weight="bold">M</text>
<text x="463" y="335" font-family="Liberation Mono" font-size="7.5" fill="#999" text-anchor="start" textLength="47" lengthAdjust="spacingAndGlyphs">△(1−γ)(P−W)</text>
<path d="M466 337.1L468.9 340L466 342.9L463.1 340Z" fill="none" stroke="#ff8c00" stroke-width="0.9"/>
<text x="490.2" y="343" font-family="Liberation Mono" font-size="9" fill="#ff9020" text-anchor="middle" font-style="italic" font-weight="bold">G</text>
<path d="M466 350.7L468.9 345.6L463.1 345.6Z" fill="none" stroke="#ff00ff" stroke-width="0.9"/>
<text x="490.2" y="350.7" font-family="Liberation Mono" font-size="9" fill="#ff20ff" text-anchor="middle" font-style="italic" font-weight="bold">U</text>
<path d="M463.6 356.6H468.4M466 354.2V359" stroke="#12b012" stroke-width="1.1" fill="none"/>
<text x="490.2" y="359.6" font-family="Liberation Mono" font-size="9" fill="#20a020" text-anchor="middle" font-weight="bold">10<tspan font-size="6" dy="-3.5">5</tspan><tspan dy="3.5" font-style="italic" font-weight="normal" font-family="Liberation Serif">π</tspan></text>

</g>
<clipPath id="cx1"><rect x="4" y="419.5" width="267" height="140.5"/></clipPath>
<g clip-path="url(#cx1)">
<path d="M35.4 553.9H260M35.4 531.1H260M35.4 508.3H260M35.4 485.5H260M35.4 462.7H260M35.4 439.9H260M60.4 421V559M113.2 421V559M166 421V559M218.8 421V559" stroke="#f1f1f1" stroke-width="1" fill="none"/>
<path d="M166.4 419.5V560" stroke="#3a3a3a" stroke-width="1.4" stroke-dasharray="2.6,4.0" stroke-dashoffset="-2.6" fill="none"/>
<path d="M35.4 421V559M35.4 508.3H260" stroke="#e0e0e0" stroke-width="0.8" fill="none"/>
<path d="M35.4 553.9H37.9M35.4 531.1H37.9M35.4 508.3H37.9M35.4 485.5H37.9M35.4 462.7H37.9M35.4 439.9H37.9M60.4 508.3V505.8M113.2 508.3V505.8M166 508.3V505.8M218.8 508.3V505.8" stroke="#b0b0b0" stroke-width="0.7" fill="none"/>
<text x="32.3" y="556.8" font-family="Liberation Sans" font-size="8.2" fill="#222" text-anchor="end" textLength="18.3" lengthAdjust="spacingAndGlyphs">−400</text>
<text x="32.3" y="534" font-family="Liberation Sans" font-size="8.2" fill="#222" text-anchor="end" textLength="18.3" lengthAdjust="spacingAndGlyphs">−200</text>
<text x="32.3" y="511.2" font-family="Liberation Sans" font-size="8.2" fill="#222" text-anchor="end" textLength="4.3" lengthAdjust="spacingAndGlyphs">0</text>
<text x="32.3" y="488.4" font-family="Liberation Sans" font-size="8.2" fill="#222" text-anchor="end" textLength="12.9" lengthAdjust="spacingAndGlyphs">200</text>
<text x="32.3" y="465.6" font-family="Liberation Sans" font-size="8.2" fill="#222" text-anchor="end" textLength="12.9" lengthAdjust="spacingAndGlyphs">400</text>
<text x="32.3" y="442.8" font-family="Liberation Sans" font-size="8.2" fill="#222" text-anchor="end" textLength="12.9" lengthAdjust="spacingAndGlyphs">600</text>
<text x="60.4" y="517.6" font-family="Liberation Sans" font-size="8.2" fill="#222" text-anchor="middle" textLength="14.9" lengthAdjust="spacingAndGlyphs">0.80</text>
<text x="113.2" y="517.6" font-family="Liberation Sans" font-size="8.2" fill="#222" text-anchor="middle" textLength="14.9" lengthAdjust="spacingAndGlyphs">0.85</text>
<text x="166" y="517.6" font-family="Liberation Sans" font-size="8.2" fill="#222" text-anchor="middle" textLength="14.9" lengthAdjust="spacingAndGlyphs">0.90</text>
<text x="218.8" y="517.6" font-family="Liberation Sans" font-size="8.2" fill="#222" text-anchor="middle" textLength="14.9" lengthAdjust="spacingAndGlyphs">0.95</text>
<text x="244" y="516.7" font-family="Liberation Sans" font-size="9" fill="#222" text-anchor="start" font-style="italic">ρ<tspan font-size="6.5" dy="1.2" font-style="normal">G</tspan></text>
<path d="M35.4 437 36.9 437 38.4 437 39.9 437 41.4 437 42.9 437 44.4 437 45.9 437 47.4 437 48.9 437 50.4 437 51.9 437 53.4 437 54.9 437 56.4 437 57.9 437 59.4 437 60.9 437 62.4 437 63.9 437 65.4 437.1 66.9 437.1 68.4 437.1 69.9 437.1 71.4 437.1 72.9 437.1 74.4 437.1 75.9 437.1 77.4 437.1 78.9 437.1 80.4 437.1 81.9 437.1 83.4 437.2 84.9 437.2 86.4 437.2 87.9 437.2 89.4 437.2 90.9 437.2 92.4 437.2 93.9 437.2 95.4 437.2 96.9 437.3 98.4 437.3 99.9 437.3 101.4 437.3 102.9 437.3 104.4 437.3 105.9 437.4 107.4 437.4 108.9 437.4 110.4 437.4 111.9 437.4 113.4 437.5 114.9 437.5 116.4 437.5 117.9 437.5 119.4 437.5 120.9 437.6 122.4 437.6 123.9 437.6 125.4 437.6 126.9 437.7 128.4 437.7 129.9 437.7 131.4 437.7 132.9 437.8 134.4 437.8 135.9 437.8 137.4 437.8 138.9 437.9 140.4 437.9 141.9 438 143.4 438.1 144.9 438.2 146.4 438.4 147.9 438.6 149.4 438.9 150.9 439.2 152.4 439.5 153.9 439.8 155.4 440.2 156.9 440.6 158.4 441 159.9 441.4 161.4 441.9 162.9 442.3 164.4 442.8 165.9 443.5 167.4 444.4 168.9 445.5 170.4 446.6 171.9 447.6 173.4 448.6 174.9 449.4 176.4 450.1 177.9 450.6 179.4 451.2 180.9 451.6 182.4 452.1 183.9 452.5 185.4 452.8 186.9 453.2 188.4 453.4 189.9 453.7 191.4 453.9 192.9 454.2 194.4 454.4 195.9 454.5 197.4 454.7 198.9 454.9 200.4 455.1 201.9 455.2 203.4 455.4 204.9 455.6 206.4 455.7 207.9 455.8 209.4 456 210.9 456.1 212.4 456.2 213.9 456.3 215.4 456.5 216.9 456.7 218.4 456.9 219.9 457.1 221.4 457.5 222.9 457.9 224.4 458.5 225.9 459 227.4 459.6 228.9 460.3 230.4 460.9 231.9 461.6 233.4 462.2 234.9 462.8 236.4 463.4 237.9 463.9 239.4 464.5 240.9 465.1 242.4 465.6 243.9 466.3 245.4 466.9 246.9 467.5 248.4 468.2 249.9 468.9 251.4 469.6 252.9 470.3 254.4 471 255.9 471.8 257.4 472.6 258.9 473.4 260 474" fill="none" stroke="#000000" stroke-width="1.3" stroke-linejoin="round"/><g fill="#000000"><use href="#sq1_00" x="35.4" y="437"/><use href="#sq1_00" x="41" y="437"/><use href="#sq1_00" x="46.6" y="437"/><use href="#sq1_00" x="52.2" y="437"/><use href="#sq1_00" x="57.9" y="437"/><use href="#sq1_00" x="63.5" y="437"/><use href="#sq1_00" x="69.1" y="437.1"/><use href="#sq1_00" x="74.7" y="437.1"/><use href="#sq1_00" x="80.3" y="437.1"/><use href="#sq1_00" x="85.9" y="437.2"/><use href="#sq1_00" x="91.6" y="437.2"/><use href="#sq1_00" x="97.2" y="437.3"/><use href="#sq1_00" x="102.8" y="437.3"/><use href="#sq1_00" x="108.4" y="437.4"/><use href="#sq1_00" x="114" y="437.5"/><use href="#sq1_00" x="119.6" y="437.5"/><use href="#sq1_00" x="125.2" y="437.6"/><use href="#sq1_00" x="130.9" y="437.7"/><use href="#sq1_00" x="136.5" y="437.8"/><use href="#sq1_00" x="142.1" y="438"/><use href="#sq1_00" x="147.7" y="438.6"/><use href="#sq1_00" x="153.3" y="439.7"/><use href="#sq1_00" x="158.9" y="441.1"/><use href="#sq1_00" x="164.5" y="442.9"/><use href="#sq1_00" x="170.2" y="446.4"/><use href="#sq1_00" x="175.8" y="449.8"/><use href="#sq1_00" x="181.4" y="451.8"/><use href="#sq1_00" x="187" y="453.2"/><use href="#sq1_00" x="192.6" y="454.1"/><use href="#sq1_00" x="198.2" y="454.8"/><use href="#sq1_00" x="203.9" y="455.4"/><use href="#sq1_00" x="209.5" y="456"/><use href="#sq1_00" x="215.1" y="456.5"/><use href="#sq1_00" x="220.7" y="457.3"/><use href="#sq1_00" x="226.3" y="459.2"/><use href="#sq1_00" x="231.9" y="461.6"/><use href="#sq1_00" x="237.5" y="463.8"/><use href="#sq1_00" x="243.2" y="465.9"/><use href="#sq1_00" x="248.8" y="468.3"/><use href="#sq1_00" x="254.4" y="471"/><use href="#sq1_00" x="260" y="474"/></g>
<path d="M35.4 430.6 36.9 430.6 38.4 430.6 39.9 430.6 41.4 430.6 42.9 430.6 44.4 430.6 45.9 430.6 47.4 430.6 48.9 430.6 50.4 430.6 51.9 430.6 53.4 430.6 54.9 430.6 56.4 430.6 57.9 430.6 59.4 430.6 60.9 430.6 62.4 430.6 63.9 430.6 65.4 430.6 66.9 430.6 68.4 430.6 69.9 430.6 71.4 430.6 72.9 430.6 74.4 430.6 75.9 430.6 77.4 430.6 78.9 430.6 80.4 430.6 81.9 430.6 83.4 430.6 84.9 430.6 86.4 430.6 87.9 430.6 89.4 430.6 90.9 430.6 92.4 430.6 93.9 430.6 95.4 430.6 96.9 430.6 98.4 430.6 99.9 430.6 101.4 430.6 102.9 430.6 104.4 430.6 105.9 430.6 107.4 430.6 108.9 430.6 110.4 430.6 111.9 430.6 113.4 430.6 114.9 430.7 116.4 430.7 117.9 430.7 119.4 430.7 120.9 430.7 122.4 430.7 123.9 430.7 125.4 430.7 126.9 430.7 128.4 430.7 129.9 430.7 131.4 430.7 132.9 430.7 134.4 430.7 135.9 430.7 137.4 430.7 138.9 430.7 140.4 430.7 141.9 430.7 143.4 430.8 144.9 431 146.4 431.1 147.9 431.4 149.4 431.6 150.9 431.9 152.4 432.2 153.9 432.6 155.4 433 156.9 433.4 158.4 433.8 159.9 434.2 161.4 434.7 162.9 435.2 164.4 435.7 165.9 436.5 167.4 437.5 168.9 438.7 170.4 439.9 171.9 441.2 173.4 442.3 174.9 443.4 176.4 444.2 177.9 444.9 179.4 445.6 180.9 446.3 182.4 446.9 183.9 447.5 185.4 448 186.9 448.4 188.4 448.8 189.9 449.1 191.4 449.4 192.9 449.7 194.4 450 195.9 450.2 197.4 450.5 198.9 450.7 200.4 450.8 201.9 450.9 203.4 451 204.9 451 206.4 450.9 207.9 450.6 209.4 450.3 210.9 449.9 212.4 449.5 213.9 449 215.4 448.5 216.9 448 218.4 447.5 219.9 447 221.4 446.4 222.9 445.8 224.4 445.2 225.9 444.6 227.4 443.9 228.9 443.2 230.4 442.5 231.9 441.8 233.4 441 234.9 440.3 236.4 439.6 237.9 438.9 239.4 438.2 240.9 437.5 242.4 436.7 243.9 436 245.4 435.2 246.9 434.4 248.4 433.6 249.9 432.7 251.4 431.9 252.9 431 254.4 430.1 255.9 429.2 257.4 428.3 258.9 427.3 260 426.6" fill="none" stroke="#ff0000" stroke-width="1.3" stroke-linejoin="round"/><g fill="#ff0000"><use href="#ci1_00" x="35.4" y="430.6"/><use href="#ci1_00" x="41" y="430.6"/><use href="#ci1_00" x="46.6" y="430.6"/><use href="#ci1_00" x="52.2" y="430.6"/><use href="#ci1_00" x="57.9" y="430.6"/><use href="#ci1_00" x="63.5" y="430.6"/><use href="#ci1_00" x="69.1" y="430.6"/><use href="#ci1_00" x="74.7" y="430.6"/><use href="#ci1_00" x="80.3" y="430.6"/><use href="#ci1_00" x="85.9" y="430.6"/><use href="#ci1_00" x="91.6" y="430.6"/><use href="#ci1_00" x="97.2" y="430.6"/><use href="#ci1_00" x="102.8" y="430.6"/><use href="#ci1_00" x="108.4" y="430.6"/><use href="#ci1_00" x="114" y="430.6"/><use href="#ci1_00" x="119.6" y="430.7"/><use href="#ci1_00" x="125.2" y="430.7"/><use href="#ci1_00" x="130.9" y="430.7"/><use href="#ci1_00" x="136.5" y="430.7"/><use href="#ci1_00" x="142.1" y="430.8"/><use href="#ci1_00" x="147.7" y="431.3"/><use href="#ci1_00" x="153.3" y="432.4"/><use href="#ci1_00" x="158.9" y="434"/><use href="#ci1_00" x="164.5" y="435.8"/><use href="#ci1_00" x="170.2" y="439.7"/><use href="#ci1_00" x="175.8" y="443.8"/><use href="#ci1_00" x="181.4" y="446.5"/><use href="#ci1_00" x="187" y="448.5"/><use href="#ci1_00" x="192.6" y="449.7"/><use href="#ci1_00" x="198.2" y="450.6"/><use href="#ci1_00" x="203.9" y="451"/><use href="#ci1_00" x="209.5" y="450.3"/><use href="#ci1_00" x="215.1" y="448.6"/><use href="#ci1_00" x="220.7" y="446.7"/><use href="#ci1_00" x="226.3" y="444.4"/><use href="#ci1_00" x="231.9" y="441.7"/><use href="#ci1_00" x="237.5" y="439.1"/><use href="#ci1_00" x="243.2" y="436.4"/><use href="#ci1_00" x="248.8" y="433.4"/><use href="#ci1_00" x="254.4" y="430.1"/><use href="#ci1_00" x="260" y="426.6"/></g>
<path d="M35.4 496.2 36.9 496.2 38.4 496.2 39.9 496.2 41.4 496.2 42.9 496.2 44.4 496.2 45.9 496.2 47.4 496.2 48.9 496.2 50.4 496.2 51.9 496.2 53.4 496.2 54.9 496.3 56.4 496.3 57.9 496.3 59.4 496.3 60.9 496.3 62.4 496.3 63.9 496.3 65.4 496.3 66.9 496.3 68.4 496.4 69.9 496.4 71.4 496.4 72.9 496.4 74.4 496.4 75.9 496.4 77.4 496.5 78.9 496.5 80.4 496.5 81.9 496.5 83.4 496.5 84.9 496.6 86.4 496.6 87.9 496.6 89.4 496.6 90.9 496.7 92.4 496.7 93.9 496.7 95.4 496.8 96.9 496.8 98.4 496.8 99.9 496.8 101.4 496.9 102.9 496.9 104.4 496.9 105.9 497 107.4 497 108.9 497.1 110.4 497.1 111.9 497.1 113.4 497.2 114.9 497.2 116.4 497.3 117.9 497.3 119.4 497.4 120.9 497.4 122.4 497.5 123.9 497.5 125.4 497.6 126.9 497.6 128.4 497.7 129.9 497.7 131.4 497.8 132.9 497.8 134.4 497.9 135.9 497.9 137.4 498.1 138.9 498.2 140.4 498.4 141.9 498.7 143.4 498.9 144.9 499.2 146.4 499.5 147.9 499.9 149.4 500.3 150.9 500.6 152.4 501.1 153.9 501.6 155.4 502.3 156.9 503 158.4 503.7 159.9 504.5 161.4 505.4 162.9 506.4 164.4 507.4 165.9 508.5 167.4 509.9 168.9 511.6 170.4 513.4 171.9 515.3 173.4 517.1 174.9 518.8 176.4 520.4 177.9 522.1 179.4 523.9 180.9 525.5 182.4 526.9 183.9 528.1 185.4 529 186.9 529.7 188.4 530.3 189.9 530.9 191.4 531.4 192.9 531.9 194.4 532.3 195.9 532.7 197.4 533.1 198.9 533.4 200.4 533.8 201.9 534.1 203.4 534.4 204.9 534.7 206.4 535 207.9 535.2 209.4 535.5 210.9 535.7 212.4 535.9 213.9 536.2 215.4 536.5 216.9 536.8 218.4 537.1 219.9 537.5 221.4 537.9 222.9 538.4 224.4 538.9 225.9 539.5 227.4 540.1 228.9 540.8 230.4 541.5 231.9 542.2 233.4 542.9 234.9 543.7 236.4 544.4 237.9 545.1 239.4 545.8 240.9 546.5 242.4 547.2 243.9 547.9 245.4 548.6 246.9 549.4 248.4 550.1 249.9 550.8 251.4 551.6 252.9 552.3 254.4 553.1 255.9 553.9 257.4 554.6 258.9 555.4 260 556" fill="none" stroke="#7f7f7f" stroke-width="1.3" stroke-linejoin="round"/><g fill="#7f7f7f"><use href="#tu1_00" x="35.4" y="496.2"/><use href="#tu1_00" x="41" y="496.2"/><use href="#tu1_00" x="46.6" y="496.2"/><use href="#tu1_00" x="52.2" y="496.2"/><use href="#tu1_00" x="57.9" y="496.3"/><use href="#tu1_00" x="63.5" y="496.3"/><use href="#tu1_00" x="69.1" y="496.4"/><use href="#tu1_00" x="74.7" y="496.4"/><use href="#tu1_00" x="80.3" y="496.5"/><use href="#tu1_00" x="85.9" y="496.6"/><use href="#tu1_00" x="91.6" y="496.7"/><use href="#tu1_00" x="97.2" y="496.8"/><use href="#tu1_00" x="102.8" y="496.9"/><use href="#tu1_00" x="108.4" y="497"/><use href="#tu1_00" x="114" y="497.2"/><use href="#tu1_00" x="119.6" y="497.4"/><use href="#tu1_00" x="125.2" y="497.5"/><use href="#tu1_00" x="130.9" y="497.7"/><use href="#tu1_00" x="136.5" y="498"/><use href="#tu1_00" x="142.1" y="498.7"/><use href="#tu1_00" x="147.7" y="499.8"/><use href="#tu1_00" x="153.3" y="501.4"/><use href="#tu1_00" x="158.9" y="504"/><use href="#tu1_00" x="164.5" y="507.5"/><use href="#tu1_00" x="170.2" y="513.1"/><use href="#tu1_00" x="175.8" y="519.7"/><use href="#tu1_00" x="181.4" y="526"/><use href="#tu1_00" x="187" y="529.7"/><use href="#tu1_00" x="192.6" y="531.8"/><use href="#tu1_00" x="198.2" y="533.3"/><use href="#tu1_00" x="203.9" y="534.5"/><use href="#tu1_00" x="209.5" y="535.5"/><use href="#tu1_00" x="215.1" y="536.4"/><use href="#tu1_00" x="220.7" y="537.7"/><use href="#tu1_00" x="226.3" y="539.7"/><use href="#tu1_00" x="231.9" y="542.2"/><use href="#tu1_00" x="237.5" y="544.9"/><use href="#tu1_00" x="243.2" y="547.6"/><use href="#tu1_00" x="248.8" y="550.3"/><use href="#tu1_00" x="254.4" y="553.1"/><use href="#tu1_00" x="260" y="556"/></g>
<path d="M35.4 469.3 36.9 469.3 38.4 469.3 39.9 469.3 41.4 469.3 42.9 469.3 44.4 469.3 45.9 469.3 47.4 469.3 48.9 469.3 50.4 469.3 51.9 469.3 53.4 469.3 54.9 469.3 56.4 469.3 57.9 469.3 59.4 469.3 60.9 469.3 62.4 469.3 63.9 469.3 65.4 469.3 66.9 469.4 68.4 469.4 69.9 469.4 71.4 469.4 72.9 469.4 74.4 469.4 75.9 469.4 77.4 469.4 78.9 469.4 80.4 469.4 81.9 469.4 83.4 469.4 84.9 469.4 86.4 469.4 87.9 469.5 89.4 469.5 90.9 469.5 92.4 469.5 93.9 469.5 95.4 469.5 96.9 469.5 98.4 469.5 99.9 469.5 101.4 469.5 102.9 469.6 104.4 469.6 105.9 469.6 107.4 469.6 108.9 469.6 110.4 469.6 111.9 469.6 113.4 469.7 114.9 469.7 116.4 469.7 117.9 469.7 119.4 469.7 120.9 469.7 122.4 469.8 123.9 469.8 125.4 469.8 126.9 469.8 128.4 469.8 129.9 469.9 131.4 469.9 132.9 469.9 134.4 469.9 135.9 469.9 137.4 470 138.9 470 140.4 470 141.9 470 143.4 470.1 144.9 470.2 146.4 470.3 147.9 470.4 149.4 470.5 150.9 470.6 152.4 470.8 153.9 471 155.4 471.1 156.9 471.3 158.4 471.5 159.9 471.8 161.4 472 162.9 472.2 164.4 472.5 165.9 473 167.4 473.5 168.9 474.2 170.4 474.9 171.9 475.6 173.4 476.3 174.9 476.9 176.4 477.3 177.9 477.7 179.4 478 180.9 478.3 182.4 478.6 183.9 478.9 185.4 479.2 186.9 479.4 188.4 479.6 189.9 479.8 191.4 480 192.9 480.2 194.4 480.3 195.9 480.5 197.4 480.6 198.9 480.8 200.4 480.9 201.9 481 203.4 481.2 204.9 481.3 206.4 481.4 207.9 481.6 209.4 481.7 210.9 481.8 212.4 482 213.9 482.2 215.4 482.3 216.9 482.5 218.4 482.6 219.9 482.8 221.4 482.9 222.9 483.1 224.4 483.2 225.9 483.4 227.4 483.5 228.9 483.7 230.4 483.8 231.9 484 233.4 484.1 234.9 484.3 236.4 484.4 237.9 484.6 239.4 484.7 240.9 484.9 242.4 485 243.9 485.2 245.4 485.3 246.9 485.5 248.4 485.6 249.9 485.8 251.4 485.9 252.9 486.1 254.4 486.2 255.9 486.4 257.4 486.5 258.9 486.7 260 486.8" fill="none" stroke="#00ffff" stroke-width="1.3" stroke-linejoin="round"/><g fill="#00ffff"><use href="#st1_00" x="35.4" y="469.3"/><use href="#st1_00" x="41" y="469.3"/><use href="#st1_00" x="46.6" y="469.3"/><use href="#st1_00" x="52.2" y="469.3"/><use href="#st1_00" x="57.9" y="469.3"/><use href="#st1_00" x="63.5" y="469.3"/><use href="#st1_00" x="69.1" y="469.4"/><use href="#st1_00" x="74.7" y="469.4"/><use href="#st1_00" x="80.3" y="469.4"/><use href="#st1_00" x="85.9" y="469.4"/><use href="#st1_00" x="91.6" y="469.5"/><use href="#st1_00" x="97.2" y="469.5"/><use href="#st1_00" x="102.8" y="469.6"/><use href="#st1_00" x="108.4" y="469.6"/><use href="#st1_00" x="114" y="469.7"/><use href="#st1_00" x="119.6" y="469.7"/><use href="#st1_00" x="125.2" y="469.8"/><use href="#st1_00" x="130.9" y="469.9"/><use href="#st1_00" x="136.5" y="469.9"/><use href="#st1_00" x="142.1" y="470.1"/><use href="#st1_00" x="147.7" y="470.4"/><use href="#st1_00" x="153.3" y="470.9"/><use href="#st1_00" x="158.9" y="471.6"/><use href="#st1_00" x="164.5" y="472.6"/><use href="#st1_00" x="170.2" y="474.8"/><use href="#st1_00" x="175.8" y="477.1"/><use href="#st1_00" x="181.4" y="478.4"/><use href="#st1_00" x="187" y="479.4"/><use href="#st1_00" x="192.6" y="480.1"/><use href="#st1_00" x="198.2" y="480.7"/><use href="#st1_00" x="203.9" y="481.2"/><use href="#st1_00" x="209.5" y="481.7"/><use href="#st1_00" x="215.1" y="482.3"/><use href="#st1_00" x="220.7" y="482.8"/><use href="#st1_00" x="226.3" y="483.4"/><use href="#st1_00" x="231.9" y="484"/><use href="#st1_00" x="237.5" y="484.5"/><use href="#st1_00" x="243.2" y="485.1"/><use href="#st1_00" x="248.8" y="485.7"/><use href="#st1_00" x="254.4" y="486.2"/><use href="#st1_00" x="260" y="486.8"/></g>
<path d="M35.4 462 36.9 462 38.4 462 39.9 462 41.4 462 42.9 462 44.4 462 45.9 462 47.4 462 48.9 462 50.4 462 51.9 462 53.4 462 54.9 462 56.4 462 57.9 462 59.4 462 60.9 462 62.4 462 63.9 462.1 65.4 462.1 66.9 462.1 68.4 462.1 69.9 462.1 71.4 462.1 72.9 462.1 74.4 462.1 75.9 462.1 77.4 462.1 78.9 462.1 80.4 462.1 81.9 462.2 83.4 462.2 84.9 462.2 86.4 462.2 87.9 462.2 89.4 462.2 90.9 462.2 92.4 462.2 93.9 462.3 95.4 462.3 96.9 462.3 98.4 462.3 99.9 462.3 101.4 462.3 102.9 462.3 104.4 462.4 105.9 462.4 107.4 462.4 108.9 462.4 110.4 462.4 111.9 462.5 113.4 462.5 114.9 462.5 116.4 462.5 117.9 462.5 119.4 462.6 120.9 462.6 122.4 462.6 123.9 462.6 125.4 462.6 126.9 462.7 128.4 462.7 129.9 462.7 131.4 462.7 132.9 462.8 134.4 462.8 135.9 462.8 137.4 462.9 138.9 462.9 140.4 462.9 141.9 462.9 143.4 463 144.9 463.1 146.4 463.2 147.9 463.3 149.4 463.4 150.9 463.5 152.4 463.6 153.9 463.8 155.4 464 156.9 464.1 158.4 464.4 159.9 464.6 161.4 464.8 162.9 465 164.4 465.3 165.9 465.8 167.4 466.5 168.9 467.4 170.4 468.3 171.9 469.2 173.4 470.1 174.9 470.9 176.4 471.5 177.9 472 179.4 472.6 180.9 473.1 182.4 473.6 183.9 474 185.4 474.4 186.9 474.7 188.4 474.9 189.9 475.1 191.4 475.3 192.9 475.5 194.4 475.7 195.9 475.8 197.4 475.9 198.9 476.1 200.4 476.2 201.9 476.3 203.4 476.4 204.9 476.5 206.4 476.7 207.9 476.8 209.4 476.9 210.9 477.1 212.4 477.2 213.9 477.3 215.4 477.5 216.9 477.6 218.4 477.8 219.9 477.9 221.4 478.1 222.9 478.2 224.4 478.3 225.9 478.5 227.4 478.6 228.9 478.8 230.4 479 231.9 479.1 233.4 479.3 234.9 479.5 236.4 479.6 237.9 479.8 239.4 480 240.9 480.2 242.4 480.4 243.9 480.6 245.4 480.9 246.9 481.1 248.4 481.3 249.9 481.5 251.4 481.8 252.9 482 254.4 482.3 255.9 482.5 257.4 482.8 258.9 483 260 483.2" fill="none" stroke="#ff7f00" stroke-width="1.3" stroke-linejoin="round"/><g fill="#ff7f00"><use href="#di1_00" x="35.4" y="462"/><use href="#di1_00" x="41" y="462"/><use href="#di1_00" x="46.6" y="462"/><use href="#di1_00" x="52.2" y="462"/><use href="#di1_00" x="57.9" y="462"/><use href="#di1_00" x="63.5" y="462.1"/><use href="#di1_00" x="69.1" y="462.1"/><use href="#di1_00" x="74.7" y="462.1"/><use href="#di1_00" x="80.3" y="462.1"/><use href="#di1_00" x="85.9" y="462.2"/><use href="#di1_00" x="91.6" y="462.2"/><use href="#di1_00" x="97.2" y="462.3"/><use href="#di1_00" x="102.8" y="462.3"/><use href="#di1_00" x="108.4" y="462.4"/><use href="#di1_00" x="114" y="462.5"/><use href="#di1_00" x="119.6" y="462.6"/><use href="#di1_00" x="125.2" y="462.6"/><use href="#di1_00" x="130.9" y="462.7"/><use href="#di1_00" x="136.5" y="462.8"/><use href="#di1_00" x="142.1" y="463"/><use href="#di1_00" x="147.7" y="463.2"/><use href="#di1_00" x="153.3" y="463.7"/><use href="#di1_00" x="158.9" y="464.4"/><use href="#di1_00" x="164.5" y="465.4"/><use href="#di1_00" x="170.2" y="468.2"/><use href="#di1_00" x="175.8" y="471.2"/><use href="#di1_00" x="181.4" y="473.2"/><use href="#di1_00" x="187" y="474.7"/><use href="#di1_00" x="192.6" y="475.5"/><use href="#di1_00" x="198.2" y="476"/><use href="#di1_00" x="203.9" y="476.5"/><use href="#di1_00" x="209.5" y="476.9"/><use href="#di1_00" x="215.1" y="477.5"/><use href="#di1_00" x="220.7" y="478"/><use href="#di1_00" x="226.3" y="478.5"/><use href="#di1_00" x="231.9" y="479.1"/><use href="#di1_00" x="237.5" y="479.8"/><use href="#di1_00" x="243.2" y="480.5"/><use href="#di1_00" x="248.8" y="481.4"/><use href="#di1_00" x="254.4" y="482.3"/><use href="#di1_00" x="260" y="483.2"/></g>
<path d="M35.4 424.3 36.9 424.3 38.4 424.3 39.9 424.3 41.4 424.3 42.9 424.3 44.4 424.3 45.9 424.3 47.4 424.3 48.9 424.3 50.4 424.3 51.9 424.3 53.4 424.3 54.9 424.3 56.4 424.3 57.9 424.3 59.4 424.3 60.9 424.3 62.4 424.3 63.9 424.3 65.4 424.3 66.9 424.3 68.4 424.3 69.9 424.3 71.4 424.3 72.9 424.3 74.4 424.3 75.9 424.4 77.4 424.4 78.9 424.4 80.4 424.4 81.9 424.4 83.4 424.4 84.9 424.4 86.4 424.4 87.9 424.4 89.4 424.4 90.9 424.4 92.4 424.4 93.9 424.4 95.4 424.4 96.9 424.4 98.4 424.4 99.9 424.5 101.4 424.5 102.9 424.5 104.4 424.5 105.9 424.5 107.4 424.5 108.9 424.5 110.4 424.5 111.9 424.5 113.4 424.5 114.9 424.6 116.4 424.6 117.9 424.6 119.4 424.6 120.9 424.6 122.4 424.6 123.9 424.6 125.4 424.6 126.9 424.7 128.4 424.7 129.9 424.7 131.4 424.7 132.9 424.7 134.4 424.7 135.9 424.8 137.4 424.8 138.9 424.8 140.4 424.8 141.9 424.9 143.4 425 144.9 425.2 146.4 425.4 147.9 425.7 149.4 426 150.9 426.4 152.4 426.8 153.9 427.3 155.4 427.7 156.9 428.2 158.4 428.7 159.9 429.3 161.4 429.8 162.9 430.4 164.4 430.9 165.9 431.7 167.4 432.5 168.9 433.5 170.4 434.5 171.9 435.5 173.4 436.5 174.9 437.4 176.4 438.3 177.9 439.1 179.4 440 180.9 440.9 182.4 441.7 183.9 442.4 185.4 443.1 186.9 443.6 188.4 444 189.9 444.3 191.4 444.6 192.9 444.9 194.4 445.1 195.9 445.3 197.4 445.5 198.9 445.7 200.4 445.9 201.9 446.1 203.4 446.2 204.9 446.4 206.4 446.6 207.9 446.8 209.4 447.1 210.9 447.3 212.4 447.6 213.9 447.9 215.4 448.2 216.9 448.5 218.4 448.8 219.9 449.1 221.4 449.5 222.9 449.8 224.4 450.2 225.9 450.6 227.4 451 228.9 451.4 230.4 451.8 231.9 452.3 233.4 452.7 234.9 453.2 236.4 453.7 237.9 454.2 239.4 454.8 240.9 455.4 242.4 456.1 243.9 456.8 245.4 457.5 246.9 458.2 248.4 459 249.9 459.7 251.4 460.5 252.9 461.4 254.4 462.2 255.9 463.1 257.4 464 258.9 464.9 260 465.6" fill="none" stroke="#0000ff" stroke-width="1.3" stroke-linejoin="round"/><g fill="#0000ff"><use href="#td1_00" x="35.4" y="424.3"/><use href="#td1_00" x="41" y="424.3"/><use href="#td1_00" x="46.6" y="424.3"/><use href="#td1_00" x="52.2" y="424.3"/><use href="#td1_00" x="57.9" y="424.3"/><use href="#td1_00" x="63.5" y="424.3"/><use href="#td1_00" x="69.1" y="424.3"/><use href="#td1_00" x="74.7" y="424.4"/><use href="#td1_00" x="80.3" y="424.4"/><use href="#td1_00" x="85.9" y="424.4"/><use href="#td1_00" x="91.6" y="424.4"/><use href="#td1_00" x="97.2" y="424.4"/><use href="#td1_00" x="102.8" y="424.5"/><use href="#td1_00" x="108.4" y="424.5"/><use href="#td1_00" x="114" y="424.6"/><use href="#td1_00" x="119.6" y="424.6"/><use href="#td1_00" x="125.2" y="424.6"/><use href="#td1_00" x="130.9" y="424.7"/><use href="#td1_00" x="136.5" y="424.8"/><use href="#td1_00" x="142.1" y="424.9"/><use href="#td1_00" x="147.7" y="425.7"/><use href="#td1_00" x="153.3" y="427.1"/><use href="#td1_00" x="158.9" y="428.9"/><use href="#td1_00" x="164.5" y="431"/><use href="#td1_00" x="170.2" y="434.3"/><use href="#td1_00" x="175.8" y="437.9"/><use href="#td1_00" x="181.4" y="441.2"/><use href="#td1_00" x="187" y="443.6"/><use href="#td1_00" x="192.6" y="444.8"/><use href="#td1_00" x="198.2" y="445.6"/><use href="#td1_00" x="203.9" y="446.3"/><use href="#td1_00" x="209.5" y="447.1"/><use href="#td1_00" x="215.1" y="448.1"/><use href="#td1_00" x="220.7" y="449.3"/><use href="#td1_00" x="226.3" y="450.7"/><use href="#td1_00" x="231.9" y="452.3"/><use href="#td1_00" x="237.5" y="454.1"/><use href="#td1_00" x="243.2" y="456.4"/><use href="#td1_00" x="248.8" y="459.1"/><use href="#td1_00" x="254.4" y="462.2"/><use href="#td1_00" x="260" y="465.6"/></g>
<path d="M35.4 437 36.9 437 38.4 437 39.9 437 41.4 437 42.9 437 44.4 437 45.9 437 47.4 437 48.9 437 50.4 437 51.9 437 53.4 437 54.9 437 56.4 437 57.9 437 59.4 437 60.9 437 62.4 437 63.9 437 65.4 437.1 66.9 437.1 68.4 437.1 69.9 437.1 71.4 437.1 72.9 437.1 74.4 437.1 75.9 437.1 77.4 437.1 78.9 437.1 80.4 437.1 81.9 437.1 83.4 437.2 84.9 437.2 86.4 437.2 87.9 437.2 89.4 437.2 90.9 437.2 92.4 437.2 93.9 437.2 95.4 437.2 96.9 437.3 98.4 437.3 99.9 437.3 101.4 437.3 102.9 437.3 104.4 437.3 105.9 437.4 107.4 437.4 108.9 437.4 110.4 437.4 111.9 437.4 113.4 437.5 114.9 437.5 116.4 437.5 117.9 437.5 119.4 437.5 120.9 437.6 122.4 437.6 123.9 437.6 125.4 437.6 126.9 437.7 128.4 437.7 129.9 437.7 131.4 437.7 132.9 437.8 134.4 437.8 135.9 437.8 137.4 437.8 138.9 437.9 140.4 437.9 141.9 438 143.4 438.1 144.9 438.2 146.4 438.4 147.9 438.6 149.4 438.9 150.9 439.2 152.4 439.5 153.9 439.8 155.4 440.2 156.9 440.6 158.4 441 159.9 441.4 161.4 441.9 162.9 442.3 164.4 442.8 165.9 443.5 167.4 444.4 168.9 445.5 170.4 446.6 171.9 447.6 173.4 448.6 174.9 449.4 176.4 450.1 177.9 450.6 179.4 451.1 180.9 451.6 182.4 452.1 183.9 452.5 185.4 452.8 186.9 453.2 188.4 453.5 189.9 453.8 191.4 454.1 192.9 454.4 194.4 454.6 195.9 454.9 197.4 455.1 198.9 455.3 200.4 455.5 201.9 455.6 203.4 455.7 204.9 455.7 206.4 455.5 207.9 455.2 209.4 454.8 210.9 454.3 212.4 453.7 213.9 453 215.4 452.4 216.9 451.7 218.4 451.1 219.9 450.5 221.4 449.8 222.9 449.1 224.4 448.4 225.9 447.6 227.4 446.9 228.9 446.1 230.4 445.2 231.9 444.4 233.4 443.6 234.9 442.8 236.4 441.9 237.9 441.1 239.4 440.2 240.9 439.3 242.4 438.4 243.9 437.5 245.4 436.6 246.9 435.6 248.4 434.7 249.9 433.7 251.4 432.7 252.9 431.7 254.4 430.7 255.9 429.7 257.4 428.6 258.9 427.6 260 426.8" fill="none" stroke="#00ff00" stroke-width="1.3" stroke-linejoin="round"/><g fill="#00ff00"><use href="#cl1_00" x="35.4" y="437"/><use href="#cl1_00" x="41" y="437"/><use href="#cl1_00" x="46.6" y="437"/><use href="#cl1_00" x="52.2" y="437"/><use href="#cl1_00" x="57.9" y="437"/><use href="#cl1_00" x="63.5" y="437"/><use href="#cl1_00" x="69.1" y="437.1"/><use href="#cl1_00" x="74.7" y="437.1"/><use href="#cl1_00" x="80.3" y="437.1"/><use href="#cl1_00" x="85.9" y="437.2"/><use href="#cl1_00" x="91.6" y="437.2"/><use href="#cl1_00" x="97.2" y="437.3"/><use href="#cl1_00" x="102.8" y="437.3"/><use href="#cl1_00" x="108.4" y="437.4"/><use href="#cl1_00" x="114" y="437.5"/><use href="#cl1_00" x="119.6" y="437.5"/><use href="#cl1_00" x="125.2" y="437.6"/><use href="#cl1_00" x="130.9" y="437.7"/><use href="#cl1_00" x="136.5" y="437.8"/><use href="#cl1_00" x="142.1" y="438"/><use href="#cl1_00" x="147.7" y="438.6"/><use href="#cl1_00" x="153.3" y="439.7"/><use href="#cl1_00" x="158.9" y="441.1"/><use href="#cl1_00" x="164.5" y="442.9"/><use href="#cl1_00" x="170.2" y="446.4"/><use href="#cl1_00" x="175.8" y="449.8"/><use href="#cl1_00" x="181.4" y="451.8"/><use href="#cl1_00" x="187" y="453.2"/><use href="#cl1_00" x="192.6" y="454.3"/><use href="#cl1_00" x="198.2" y="455.3"/><use href="#cl1_00" x="203.9" y="455.7"/><use href="#cl1_00" x="209.5" y="454.8"/><use href="#cl1_00" x="215.1" y="452.5"/><use href="#cl1_00" x="220.7" y="450.1"/><use href="#cl1_00" x="226.3" y="447.4"/><use href="#cl1_00" x="231.9" y="444.4"/><use href="#cl1_00" x="237.5" y="441.3"/><use href="#cl1_00" x="243.2" y="438"/><use href="#cl1_00" x="248.8" y="434.4"/><use href="#cl1_00" x="254.4" y="430.7"/><use href="#cl1_00" x="260" y="426.8"/></g>
<path d="M35.4 494.5 36.9 494.5 38.4 494.5 39.9 494.5 41.4 494.5 42.9 494.5 44.4 494.5 45.9 494.4 47.4 494.4 48.9 494.4 50.4 494.4 51.9 494.4 53.4 494.4 54.9 494.4 56.4 494.4 57.9 494.4 59.4 494.4 60.9 494.4 62.4 494.4 63.9 494.4 65.4 494.4 66.9 494.4 68.4 494.4 69.9 494.4 71.4 494.4 72.9 494.4 74.4 494.3 75.9 494.3 77.4 494.3 78.9 494.3 80.4 494.3 81.9 494.3 83.4 494.3 84.9 494.3 86.4 494.3 87.9 494.3 89.4 494.3 90.9 494.3 92.4 494.3 93.9 494.3 95.4 494.3 96.9 494.3 98.4 494.3 99.9 494.3 101.4 494.3 102.9 494.3 104.4 494.3 105.9 494.3 107.4 494.3 108.9 494.3 110.4 494.3 111.9 494.3 113.4 494.3 114.9 494.3 116.4 494.3 117.9 494.3 119.4 494.3 120.9 494.3 122.4 494.3 123.9 494.3 125.4 494.3 126.9 494.3 128.4 494.3 129.9 494.3 131.4 494.3 132.9 494.3 134.4 494.3 135.9 494.3 137.4 494.3 138.9 494.3 140.4 494.3 141.9 494.3 143.4 494.3 144.9 494.3 146.4 494.3 147.9 494.4 149.4 494.4 150.9 494.4 152.4 494.4 153.9 494.5 155.4 494.5 156.9 494.6 158.4 494.6 159.9 494.6 161.4 494.7 162.9 494.7 164.4 494.8 165.9 494.8 167.4 494.9 168.9 494.9 170.4 495 171.9 495.1 173.4 495.1 174.9 495.2 176.4 495.2 177.9 495.3 179.4 495.4 180.9 495.4 182.4 495.5 183.9 495.6 185.4 495.6 186.9 495.7 188.4 495.7 189.9 495.8 191.4 495.9 192.9 495.9 194.4 496 195.9 496.1 197.4 496.1 198.9 496.2 200.4 496.3 201.9 496.3 203.4 496.4 204.9 496.5 206.4 496.6 207.9 496.6 209.4 496.7 210.9 496.8 212.4 496.9 213.9 497 215.4 497.1 216.9 497.2 218.4 497.3 219.9 497.4 221.4 497.5 222.9 497.6 224.4 497.7 225.9 497.8 227.4 497.9 228.9 498.1 230.4 498.2 231.9 498.3 233.4 498.4 234.9 498.6 236.4 498.7 237.9 498.9 239.4 499 240.9 499.2 242.4 499.4 243.9 499.6 245.4 499.8 246.9 500.1 248.4 500.3 249.9 500.5 251.4 500.8 252.9 501 254.4 501.3 255.9 501.6 257.4 501.8 258.9 502.1 260 502.3" fill="none" stroke="#800080" stroke-width="1.3" stroke-linejoin="round"/><g fill="#800080"><use href="#sq1_00" x="35.4" y="494.5"/><use href="#sq1_00" x="41" y="494.5"/><use href="#sq1_00" x="46.6" y="494.4"/><use href="#sq1_00" x="52.2" y="494.4"/><use href="#sq1_00" x="57.9" y="494.4"/><use href="#sq1_00" x="63.5" y="494.4"/><use href="#sq1_00" x="69.1" y="494.4"/><use href="#sq1_00" x="74.7" y="494.3"/><use href="#sq1_00" x="80.3" y="494.3"/><use href="#sq1_00" x="85.9" y="494.3"/><use href="#sq1_00" x="91.6" y="494.3"/><use href="#sq1_00" x="97.2" y="494.3"/><use href="#sq1_00" x="102.8" y="494.3"/><use href="#sq1_00" x="108.4" y="494.3"/><use href="#sq1_00" x="114" y="494.3"/><use href="#sq1_00" x="119.6" y="494.3"/><use href="#sq1_00" x="125.2" y="494.3"/><use href="#sq1_00" x="130.9" y="494.3"/><use href="#sq1_00" x="136.5" y="494.3"/><use href="#sq1_00" x="142.1" y="494.3"/><use href="#sq1_00" x="147.7" y="494.4"/><use href="#sq1_00" x="153.3" y="494.5"/><use href="#sq1_00" x="158.9" y="494.6"/><use href="#sq1_00" x="164.5" y="494.8"/><use href="#sq1_00" x="170.2" y="495"/><use href="#sq1_00" x="175.8" y="495.2"/><use href="#sq1_00" x="181.4" y="495.4"/><use href="#sq1_00" x="187" y="495.7"/><use href="#sq1_00" x="192.6" y="495.9"/><use href="#sq1_00" x="198.2" y="496.2"/><use href="#sq1_00" x="203.9" y="496.4"/><use href="#sq1_00" x="209.5" y="496.7"/><use href="#sq1_00" x="215.1" y="497.1"/><use href="#sq1_00" x="220.7" y="497.4"/><use href="#sq1_00" x="226.3" y="497.9"/><use href="#sq1_00" x="231.9" y="498.3"/><use href="#sq1_00" x="237.5" y="498.8"/><use href="#sq1_00" x="243.2" y="499.5"/><use href="#sq1_00" x="248.8" y="500.4"/><use href="#sq1_00" x="254.4" y="501.3"/><use href="#sq1_00" x="260" y="502.3"/></g>
<path d="M35.4 441 36.9 441 38.4 441 39.9 441 41.4 441 42.9 441 44.4 441 45.9 441 47.4 441 48.9 441 50.4 441 51.9 441 53.4 441 54.9 441 56.4 441 57.9 441 59.4 441 60.9 441 62.4 441 63.9 441 65.4 441 66.9 441 68.4 441 69.9 441 71.4 441 72.9 441 74.4 441 75.9 441 77.4 441 78.9 441.1 80.4 441.1 81.9 441.1 83.4 441.1 84.9 441.1 86.4 441.1 87.9 441.1 89.4 441.1 90.9 441.1 92.4 441.1 93.9 441.1 95.4 441.1 96.9 441.1 98.4 441.1 99.9 441.1 101.4 441.1 102.9 441.1 104.4 441.1 105.9 441.2 107.4 441.2 108.9 441.2 110.4 441.2 111.9 441.2 113.4 441.2 114.9 441.2 116.4 441.2 117.9 441.2 119.4 441.2 120.9 441.2 122.4 441.3 123.9 441.3 125.4 441.3 126.9 441.3 128.4 441.3 129.9 441.3 131.4 441.3 132.9 441.3 134.4 441.3 135.9 441.4 137.4 441.4 138.9 441.4 140.4 441.4 141.9 441.4 143.4 441.5 144.9 441.6 146.4 441.8 147.9 441.9 149.4 442.1 150.9 442.3 152.4 442.6 153.9 442.8 155.4 443.1 156.9 443.4 158.4 443.7 159.9 444.1 161.4 444.4 162.9 444.8 164.4 445.2 165.9 445.7 167.4 446.5 168.9 447.3 170.4 448.2 171.9 449.1 173.4 449.9 174.9 450.7 176.4 451.3 177.9 451.8 179.4 452.3 180.9 452.7 182.4 453.2 183.9 453.6 185.4 454 186.9 454.3 188.4 454.7 189.9 455 191.4 455.4 192.9 455.7 194.4 456 195.9 456.3 197.4 456.6 198.9 456.9 200.4 457.2 201.9 457.5 203.4 457.8 204.9 458.1 206.4 458.3 207.9 458.6 209.4 458.9 210.9 459.2 212.4 459.5 213.9 459.8 215.4 460.1 216.9 460.4 218.4 460.7 219.9 460.9 221.4 461.2 222.9 461.5 224.4 461.8 225.9 462.1 227.4 462.4 228.9 462.7 230.4 463 231.9 463.3 233.4 463.6 234.9 463.9 236.4 464.3 237.9 464.6 239.4 464.9 240.9 465.3 242.4 465.7 243.9 466 245.4 466.4 246.9 466.8 248.4 467.1 249.9 467.5 251.4 467.9 252.9 468.3 254.4 468.7 255.9 469.1 257.4 469.5 258.9 469.9 260 470.2" fill="none" stroke="#ff00ff" stroke-width="1.3" stroke-linejoin="round"/><g fill="#ff00ff"><use href="#td1_00" x="35.4" y="441"/><use href="#td1_00" x="41" y="441"/><use href="#td1_00" x="46.6" y="441"/><use href="#td1_00" x="52.2" y="441"/><use href="#td1_00" x="57.9" y="441"/><use href="#td1_00" x="63.5" y="441"/><use href="#td1_00" x="69.1" y="441"/><use href="#td1_00" x="74.7" y="441"/><use href="#td1_00" x="80.3" y="441.1"/><use href="#td1_00" x="85.9" y="441.1"/><use href="#td1_00" x="91.6" y="441.1"/><use href="#td1_00" x="97.2" y="441.1"/><use href="#td1_00" x="102.8" y="441.1"/><use href="#td1_00" x="108.4" y="441.2"/><use href="#td1_00" x="114" y="441.2"/><use href="#td1_00" x="119.6" y="441.2"/><use href="#td1_00" x="125.2" y="441.3"/><use href="#td1_00" x="130.9" y="441.3"/><use href="#td1_00" x="136.5" y="441.4"/><use href="#td1_00" x="142.1" y="441.5"/><use href="#td1_00" x="147.7" y="441.9"/><use href="#td1_00" x="153.3" y="442.7"/><use href="#td1_00" x="158.9" y="443.9"/><use href="#td1_00" x="164.5" y="445.2"/><use href="#td1_00" x="170.2" y="448.1"/><use href="#td1_00" x="175.8" y="451"/><use href="#td1_00" x="181.4" y="452.9"/><use href="#td1_00" x="187" y="454.4"/><use href="#td1_00" x="192.6" y="455.6"/><use href="#td1_00" x="198.2" y="456.8"/><use href="#td1_00" x="203.9" y="457.9"/><use href="#td1_00" x="209.5" y="458.9"/><use href="#td1_00" x="215.1" y="460"/><use href="#td1_00" x="220.7" y="461.1"/><use href="#td1_00" x="226.3" y="462.2"/><use href="#td1_00" x="231.9" y="463.3"/><use href="#td1_00" x="237.5" y="464.5"/><use href="#td1_00" x="243.2" y="465.8"/><use href="#td1_00" x="248.8" y="467.2"/><use href="#td1_00" x="254.4" y="468.7"/><use href="#td1_00" x="260" y="470.2"/></g>
<text x="252.5" y="425.2" font-family="Liberation Sans" font-size="8.5" fill="#111" text-anchor="middle">x1</text>
<rect x="47.5" y="431.1" width="42.7" height="90.3" fill="#fff" stroke="#444" stroke-width="1.1"/>
<rect x="52.2" y="437.3" width="4.1" height="4.1" fill="#000000"/>
<text x="70.8" y="442.3" font-family="Liberation Sans" font-size="9.5" fill="#111" text-anchor="middle" font-style="italic">q</text>
<circle cx="54.2" cy="448.4" r="2.9" fill="#ff0000"/>
<text x="70.8" y="451.4" font-family="Liberation Mono" font-size="8" fill="#ff2020" text-anchor="middle" font-style="italic" font-weight="bold">m</text>
<path d="M54.2 453.9L56.9 458.8L51.5 458.8Z" fill="#7f7f7f"/>
<text x="70.8" y="457.3" font-family="Liberation Sans" font-size="5.2" fill="#b8b8b8" text-anchor="middle" font-style="italic">γ (P−W)</text>
<path d="M59.8 458.7H81.8" stroke="#c8c8c8" stroke-width="0.6"/>
<text x="70.8" y="463.9" font-family="Liberation Sans" font-size="5.2" fill="#b8b8b8" text-anchor="middle" font-style="italic">n</text>
<path d="M54.2 466L55.1 468.2L57.6 468.4L55.7 470L56.3 472.4L54.2 471.1L52.1 472.4L52.7 470L50.8 468.4L53.3 468.2Z" fill="#00ffff"/>
<text x="70.8" y="472.5" font-family="Liberation Sans" font-size="9.5" fill="#20e0e0" text-anchor="middle" font-style="italic">c</text>
<path d="M54.2 475.1L57.2 478.1L54.2 481.1L51.2 478.1Z" fill="#ff7f00"/>
<text x="70.8" y="481.1" font-family="Liberation Mono" font-size="8.5" fill="#f0a040" text-anchor="middle" font-style="italic">o−q</text>
<path d="M54.2 488.5L57.1 483.4L51.4 483.4Z" fill="#0000ff"/>
<text x="70.8" y="488.5" font-family="Liberation Mono" font-size="9" fill="#3030ff" text-anchor="middle" font-style="italic" font-weight="bold">L<tspan font-size="6.5" dy="2">q</tspan></text>
<path d="M54.2 491.1L57.3 494.2L54.2 497.3L51.1 494.2Z" fill="#00ff00"/>
<text x="70.8" y="497.2" font-family="Liberation Mono" font-size="9" fill="#20e020" text-anchor="middle" font-style="italic" font-weight="bold">L<tspan font-size="6.5" dy="2">m</tspan></text>
<rect x="52.2" y="501.6" width="4.1" height="4.1" fill="#800080"/>
<text x="70.8" y="506.6" font-family="Liberation Mono" font-size="9" fill="#a02090" text-anchor="middle" font-weight="bold">10φ</text>
<path d="M54.2 515L57.1 509.9L51.4 509.9Z" fill="#ff00ff"/>
<text x="70.8" y="515" font-family="Liberation Sans" font-size="9.5" fill="#ff20ff" text-anchor="middle" font-style="italic">u</text>
<path d="M47.5 508.3H90.2" stroke="#d0d0d0" stroke-width="0.8" fill="none"/>
<text x="60.4" y="517.6" font-family="Liberation Sans" font-size="8.2" fill="#222" text-anchor="middle" textLength="14.9" lengthAdjust="spacingAndGlyphs">0.80</text>
</g>
<clipPath id="cx2"><rect x="271.5" y="419.5" width="273.5" height="140.5"/></clipPath>
<g clip-path="url(#cx2)">
<path d="M308.7 536.3H533.5M308.7 509.3H533.5M308.7 482.3H533.5M308.7 455.3H533.5M308.7 428.3H533.5M333.3 421V559M387 421V559M440.6 421V559M494.2 421V559" stroke="#f1f1f1" stroke-width="1" fill="none"/>
<path d="M439.4 419.5V560" stroke="#3a3a3a" stroke-width="1.4" stroke-dasharray="2.2,4.4" stroke-dashoffset="-2.6" fill="none"/>
<path d="M308.7 421V559M308.7 536.3H533.5" stroke="#e0e0e0" stroke-width="0.8" fill="none"/>
<path d="M308.7 536.3H311.2M308.7 509.3H311.2M308.7 482.3H311.2M308.7 455.3H311.2M308.7 428.3H311.2M333.3 536.3V533.8M387 536.3V533.8M440.6 536.3V533.8M494.2 536.3V533.8" stroke="#b0b0b0" stroke-width="0.7" fill="none"/>
<text x="306" y="539.2" font-family="Liberation Sans" font-size="8.2" fill="#222" text-anchor="end" textLength="4.3" lengthAdjust="spacingAndGlyphs">0</text>
<text x="306" y="512.2" font-family="Liberation Sans" font-size="8.2" fill="#222" text-anchor="end" textLength="22.4" lengthAdjust="spacingAndGlyphs">10 000</text>
<text x="306" y="485.2" font-family="Liberation Sans" font-size="8.2" fill="#222" text-anchor="end" textLength="22.4" lengthAdjust="spacingAndGlyphs">20 000</text>
<text x="306" y="458.2" font-family="Liberation Sans" font-size="8.2" fill="#222" text-anchor="end" textLength="22.4" lengthAdjust="spacingAndGlyphs">30 000</text>
<text x="306" y="431.2" font-family="Liberation Sans" font-size="8.2" fill="#222" text-anchor="end" textLength="22.4" lengthAdjust="spacingAndGlyphs">40 000</text>
<text x="333.3" y="546.3" font-family="Liberation Sans" font-size="8.2" fill="#222" text-anchor="middle" textLength="15" lengthAdjust="spacingAndGlyphs">0.80</text>
<text x="387" y="546.3" font-family="Liberation Sans" font-size="8.2" fill="#222" text-anchor="middle" textLength="15" lengthAdjust="spacingAndGlyphs">0.85</text>
<text x="440.6" y="546.3" font-family="Liberation Sans" font-size="8.2" fill="#222" text-anchor="middle" textLength="15" lengthAdjust="spacingAndGlyphs">0.90</text>
<text x="494.2" y="546.3" font-family="Liberation Sans" font-size="8.2" fill="#222" text-anchor="middle" textLength="15" lengthAdjust="spacingAndGlyphs">0.95</text>
<text x="517" y="545.4" font-family="Liberation Sans" font-size="9" fill="#222" text-anchor="start" font-style="italic">ρ<tspan font-size="6.5" dy="1.2" font-style="normal">G</tspan></text>
<path d="M308.7 475.5 310.2 475.5 311.7 475.5 313.2 475.5 314.7 475.5 316.2 475.5 317.7 475.5 319.2 475.5 320.7 475.5 322.2 475.5 323.7 475.5 325.2 475.5 326.7 475.5 328.2 475.5 329.7 475.6 331.2 475.6 332.7 475.6 334.2 475.6 335.7 475.6 337.2 475.6 338.7 475.6 340.2 475.6 341.7 475.6 343.2 475.7 344.7 475.7 346.2 475.7 347.7 475.7 349.2 475.7 350.7 475.7 352.2 475.8 353.7 475.8 355.2 475.8 356.7 475.8 358.2 475.8 359.7 475.9 361.2 475.9 362.7 475.9 364.2 475.9 365.7 476 367.2 476 368.7 476 370.2 476 371.7 476.1 373.2 476.1 374.7 476.1 376.2 476.2 377.7 476.2 379.2 476.2 380.7 476.3 382.2 476.3 383.7 476.3 385.2 476.4 386.7 476.4 388.2 476.5 389.7 476.5 391.2 476.6 392.7 476.7 394.2 476.8 395.7 477 397.2 477.2 398.7 477.3 400.2 477.5 401.7 477.7 403.2 477.9 404.7 478 406.2 478.2 407.7 478.4 409.2 478.6 410.7 478.8 412.2 479.1 413.7 479.4 415.2 479.8 416.7 480.2 418.2 480.8 419.7 481.4 421.2 482 422.7 482.9 424.2 484.1 425.7 485.3 427.2 486.6 428.7 488.1 430.2 489.7 431.7 491.3 433.2 493 434.7 494.8 436.2 496.8 437.7 499 439.2 501.5 440.7 504.2 442.2 507 443.7 510 445.2 513.2 446.7 516.2 448.2 518.6 449.7 520.7 451.2 522.6 452.7 524.1 454.2 525.2 455.7 526.1 457.2 526.9 458.7 527.7 460.2 528.4 461.7 529.1 463.2 529.9 464.7 530.5 466.2 531.2 467.7 531.7 469.2 532.2 470.7 532.7 472.2 533.2 473.7 533.6 475.2 534 476.7 534.3 478.2 534.6 479.7 534.8 481.2 534.9 482.7 535 484.2 535.1 485.7 535.2 487.2 535.3 488.7 535.4 490.2 535.4 491.7 535.5 493.2 535.5 494.7 535.6 496.2 535.6 497.7 535.6 499.2 535.6 500.7 535.7 502.2 535.7 503.7 535.7 505.2 535.8 506.7 535.8 508.2 535.8 509.7 535.8 511.2 535.8 512.7 535.9 514.2 535.9 515.7 535.9 517.2 535.9 518.7 535.9 520.2 535.9 521.7 536 523.2 536 524.7 536 526.2 536 527.7 536 529.2 536 530.7 536 532.2 536 533.5 536" fill="none" stroke="#000000" stroke-width="1.5" stroke-linejoin="round"/><g fill="none" stroke="#000000" stroke-width="0.7" stroke-opacity="0.55"><use href="#sq0_80" x="308.7" y="475.5"/><use href="#sq0_80" x="314.3" y="475.5"/><use href="#sq0_80" x="319.9" y="475.5"/><use href="#sq0_80" x="325.6" y="475.5"/><use href="#sq0_80" x="331.2" y="475.6"/><use href="#sq0_80" x="336.8" y="475.6"/><use href="#sq0_80" x="342.4" y="475.6"/><use href="#sq0_80" x="348" y="475.7"/><use href="#sq0_80" x="353.7" y="475.8"/><use href="#sq0_80" x="359.3" y="475.9"/><use href="#sq0_80" x="364.9" y="475.9"/><use href="#sq0_80" x="370.5" y="476"/><use href="#sq0_80" x="376.1" y="476.2"/><use href="#sq0_80" x="381.8" y="476.3"/><use href="#sq0_80" x="387.4" y="476.4"/><use href="#sq0_80" x="393" y="476.7"/><use href="#sq0_80" x="398.6" y="477.3"/><use href="#sq0_80" x="404.2" y="478"/><use href="#sq0_80" x="409.9" y="478.7"/><use href="#sq0_80" x="415.5" y="479.9"/><use href="#sq0_80" x="421.1" y="482"/><use href="#sq0_80" x="426.7" y="486.2"/><use href="#sq0_80" x="432.3" y="492"/><use href="#sq0_80" x="438" y="499.4"/><use href="#sq0_80" x="443.6" y="509.8"/><use href="#sq0_80" x="449.2" y="520"/><use href="#sq0_80" x="454.8" y="525.6"/><use href="#sq0_80" x="460.4" y="528.5"/><use href="#sq0_80" x="466.1" y="531.1"/><use href="#sq0_80" x="471.7" y="533"/><use href="#sq0_80" x="477.3" y="534.5"/><use href="#sq0_80" x="482.9" y="535"/><use href="#sq0_80" x="488.5" y="535.4"/><use href="#sq0_80" x="494.2" y="535.5"/><use href="#sq0_80" x="499.8" y="535.7"/><use href="#sq0_80" x="505.4" y="535.8"/><use href="#sq0_80" x="511" y="535.8"/><use href="#sq0_80" x="516.6" y="535.9"/><use href="#sq0_80" x="522.3" y="536"/><use href="#sq0_80" x="527.9" y="536"/><use href="#sq0_80" x="533.5" y="536"/></g>
<path d="M308.7 485.6 310.2 485.6 311.7 485.6 313.2 485.6 314.7 485.6 316.2 485.6 317.7 485.6 319.2 485.6 320.7 485.6 322.2 485.6 323.7 485.6 325.2 485.6 326.7 485.6 328.2 485.6 329.7 485.6 331.2 485.6 332.7 485.6 334.2 485.6 335.7 485.7 337.2 485.7 338.7 485.7 340.2 485.7 341.7 485.7 343.2 485.7 344.7 485.7 346.2 485.7 347.7 485.7 349.2 485.7 350.7 485.7 352.2 485.7 353.7 485.7 355.2 485.7 356.7 485.7 358.2 485.7 359.7 485.7 361.2 485.7 362.7 485.7 364.2 485.7 365.7 485.7 367.2 485.8 368.7 485.8 370.2 485.8 371.7 485.8 373.2 485.8 374.7 485.8 376.2 485.8 377.7 485.8 379.2 485.8 380.7 485.8 382.2 485.8 383.7 485.8 385.2 485.8 386.7 485.8 388.2 485.8 389.7 485.8 391.2 485.8 392.7 485.8 394.2 485.9 395.7 485.9 397.2 485.9 398.7 485.9 400.2 485.9 401.7 485.9 403.2 486 404.7 486.1 406.2 486.3 407.7 486.5 409.2 486.6 410.7 486.8 412.2 487.1 413.7 487.3 415.2 487.5 416.7 487.9 418.2 488.2 419.7 488.7 421.2 489.1 422.7 489.7 424.2 490.4 425.7 491.3 427.2 492.3 428.7 493.5 430.2 495 431.7 496.6 433.2 498.2 434.7 500 436.2 502 437.7 504.3 439.2 507.3 440.7 510.5 442.2 513.6 443.7 516.8 445.2 520.2 446.7 523 448.2 524.8 449.7 526.1 451.2 527.2 452.7 528.1 454.2 529 455.7 529.8 457.2 530.6 458.7 531.3 460.2 531.9 461.7 532.3 463.2 532.8 464.7 533.1 466.2 533.5 467.7 533.8 469.2 534 470.7 534.3 472.2 534.5 473.7 534.7 475.2 534.9 476.7 535.1 478.2 535.2 479.7 535.2 481.2 535.3 482.7 535.3 484.2 535.4 485.7 535.4 487.2 535.4 488.7 535.5 490.2 535.5 491.7 535.5 493.2 535.6 494.7 535.6 496.2 535.6 497.7 535.7 499.2 535.7 500.7 535.7 502.2 535.8 503.7 535.8 505.2 535.8 506.7 535.8 508.2 535.8 509.7 535.9 511.2 535.9 512.7 535.9 514.2 535.9 515.7 535.9 517.2 535.9 518.7 535.9 520.2 536 521.7 536 523.2 536 524.7 536 526.2 536 527.7 536 529.2 536 530.7 536 532.2 536 533.5 536" fill="none" stroke="#ff0000" stroke-width="1.5" stroke-linejoin="round"/><g fill="none" stroke="#ff0000" stroke-width="0.7" stroke-opacity="0.55"><use href="#ci0_80" x="308.7" y="486.8"/><use href="#ci0_80" x="314.3" y="486.8"/><use href="#ci0_80" x="319.9" y="486.8"/><use href="#ci0_80" x="325.6" y="486.8"/><use href="#ci0_80" x="331.2" y="486.8"/><use href="#ci0_80" x="336.8" y="486.9"/><use href="#ci0_80" x="342.4" y="486.9"/><use href="#ci0_80" x="348" y="486.9"/><use href="#ci0_80" x="353.7" y="486.9"/><use href="#ci0_80" x="359.3" y="486.9"/><use href="#ci0_80" x="364.9" y="486.9"/><use href="#ci0_80" x="370.5" y="487"/><use href="#ci0_80" x="376.1" y="487"/><use href="#ci0_80" x="381.8" y="487"/><use href="#ci0_80" x="387.4" y="487"/><use href="#ci0_80" x="393" y="487"/><use href="#ci0_80" x="398.6" y="487.1"/><use href="#ci0_80" x="404.2" y="487.3"/><use href="#ci0_80" x="409.9" y="487.9"/><use href="#ci0_80" x="415.5" y="488.8"/><use href="#ci0_80" x="421.1" y="490.3"/><use href="#ci0_80" x="426.7" y="493.1"/><use href="#ci0_80" x="432.3" y="498.5"/><use href="#ci0_80" x="438" y="506"/><use href="#ci0_80" x="443.6" y="517.8"/><use href="#ci0_80" x="449.2" y="526.9"/><use href="#ci0_80" x="454.8" y="530.6"/><use href="#ci0_80" x="460.4" y="533.1"/><use href="#ci0_80" x="466.1" y="534.6"/><use href="#ci0_80" x="471.7" y="535.6"/><use href="#ci0_80" x="477.3" y="536.3"/><use href="#ci0_80" x="482.9" y="536.5"/><use href="#ci0_80" x="488.5" y="536.7"/><use href="#ci0_80" x="494.2" y="536.8"/><use href="#ci0_80" x="499.8" y="536.9"/><use href="#ci0_80" x="505.4" y="537"/><use href="#ci0_80" x="511" y="537.1"/><use href="#ci0_80" x="516.6" y="537.1"/><use href="#ci0_80" x="522.3" y="537.2"/><use href="#ci0_80" x="527.9" y="537.2"/><use href="#ci0_80" x="533.5" y="537.2"/></g>
<path d="M308.7 535 310.2 535 311.7 535 313.2 535 314.7 534.9 316.2 534.9 317.7 534.9 319.2 534.9 320.7 534.9 322.2 534.9 323.7 534.9 325.2 534.9 326.7 534.9 328.2 534.8 329.7 534.8 331.2 534.8 332.7 534.8 334.2 534.8 335.7 534.8 337.2 534.8 338.7 534.8 340.2 534.8 341.7 534.8 343.2 534.8 344.7 534.8 346.2 534.8 347.7 534.8 349.2 534.8 350.7 534.7 352.2 534.7 353.7 534.7 355.2 534.7 356.7 534.7 358.2 534.7 359.7 534.7 361.2 534.7 362.7 534.7 364.2 534.7 365.7 534.7 367.2 534.7 368.7 534.7 370.2 534.7 371.7 534.7 373.2 534.7 374.7 534.7 376.2 534.7 377.7 534.7 379.2 534.7 380.7 534.7 382.2 534.7 383.7 534.7 385.2 534.7 386.7 534.7 388.2 534.7 389.7 534.7 391.2 534.7 392.7 534.7 394.2 534.7 395.7 534.7 397.2 534.7 398.7 534.7 400.2 534.7 401.7 534.7 403.2 534.7 404.7 534.8 406.2 534.8 407.7 534.9 409.2 534.9 410.7 535 412.2 535.1 413.7 535.2 415.2 535.3 416.7 535.3 418.2 535.4 419.7 535.5 421.2 535.6 422.7 535.8 424.2 535.9 425.7 536 427.2 536.1 428.7 536.2 430.2 536.3 431.7 536.4 433.2 536.5 434.7 536.7 436.2 536.8 437.7 537 439.2 537.1 440.7 537.3 442.2 537.5 443.7 537.6 445.2 537.8 446.7 538 448.2 538.1 449.7 538.3 451.2 538.4 452.7 538.6 454.2 538.8 455.7 538.9 457.2 539.1 458.7 539.2 460.2 539.4 461.7 539.5 463.2 539.7 464.7 539.8 466.2 540 467.7 540.1 469.2 540.3 470.7 540.4 472.2 540.6 473.7 540.8 475.2 540.9 476.7 541.1 478.2 541.2 479.7 541.4 481.2 541.5 482.7 541.7 484.2 541.8 485.7 542 487.2 542.1 488.7 542.3 490.2 542.4 491.7 542.6 493.2 542.7 494.7 542.9 496.2 543 497.7 543.2 499.2 543.3 500.7 543.5 502.2 543.6 503.7 543.7 505.2 543.9 506.7 544 508.2 544.1 509.7 544.3 511.2 544.4 512.7 544.5 514.2 544.6 515.7 544.7 517.2 544.9 518.7 545 520.2 545.1 521.7 545.2 523.2 545.3 524.7 545.4 526.2 545.5 527.7 545.6 529.2 545.7 530.7 545.8 532.2 545.9 533.5 546" fill="none" stroke="#7f7f7f" stroke-width="1.5" stroke-linejoin="round"/><g fill="none" stroke="#7f7f7f" stroke-width="0.7" stroke-opacity="0.55"><use href="#tu0_80" x="308.7" y="535"/><use href="#tu0_80" x="314.3" y="534.9"/><use href="#tu0_80" x="319.9" y="534.9"/><use href="#tu0_80" x="325.6" y="534.9"/><use href="#tu0_80" x="331.2" y="534.8"/><use href="#tu0_80" x="336.8" y="534.8"/><use href="#tu0_80" x="342.4" y="534.8"/><use href="#tu0_80" x="348" y="534.8"/><use href="#tu0_80" x="353.7" y="534.7"/><use href="#tu0_80" x="359.3" y="534.7"/><use href="#tu0_80" x="364.9" y="534.7"/><use href="#tu0_80" x="370.5" y="534.7"/><use href="#tu0_80" x="376.1" y="534.7"/><use href="#tu0_80" x="381.8" y="534.7"/><use href="#tu0_80" x="387.4" y="534.7"/><use href="#tu0_80" x="393" y="534.7"/><use href="#tu0_80" x="398.6" y="534.7"/><use href="#tu0_80" x="404.2" y="534.8"/><use href="#tu0_80" x="409.9" y="535"/><use href="#tu0_80" x="415.5" y="535.3"/><use href="#tu0_80" x="421.1" y="535.6"/><use href="#tu0_80" x="426.7" y="536"/><use href="#tu0_80" x="432.3" y="536.5"/><use href="#tu0_80" x="438" y="537"/><use href="#tu0_80" x="443.6" y="537.6"/><use href="#tu0_80" x="449.2" y="538.2"/><use href="#tu0_80" x="454.8" y="538.8"/><use href="#tu0_80" x="460.4" y="539.4"/><use href="#tu0_80" x="466.1" y="540"/><use href="#tu0_80" x="471.7" y="540.5"/><use href="#tu0_80" x="477.3" y="541.1"/><use href="#tu0_80" x="482.9" y="541.7"/><use href="#tu0_80" x="488.5" y="542.3"/><use href="#tu0_80" x="494.2" y="542.8"/><use href="#tu0_80" x="499.8" y="543.4"/><use href="#tu0_80" x="505.4" y="543.9"/><use href="#tu0_80" x="511" y="544.4"/><use href="#tu0_80" x="516.6" y="544.8"/><use href="#tu0_80" x="522.3" y="545.2"/><use href="#tu0_80" x="527.9" y="545.6"/><use href="#tu0_80" x="533.5" y="546"/></g>
<path d="M308.7 535.8 310.2 535.8 311.7 535.8 313.2 535.8 314.7 535.8 316.2 535.8 317.7 535.8 319.2 535.8 320.7 535.8 322.2 535.8 323.7 535.8 325.2 535.8 326.7 535.8 328.2 535.8 329.7 535.8 331.2 535.8 332.7 535.8 334.2 535.8 335.7 535.8 337.2 535.8 338.7 535.8 340.2 535.8 341.7 535.7 343.2 535.7 344.7 535.7 346.2 535.7 347.7 535.7 349.2 535.7 350.7 535.7 352.2 535.7 353.7 535.7 355.2 535.7 356.7 535.7 358.2 535.7 359.7 535.6 361.2 535.6 362.7 535.6 364.2 535.6 365.7 535.6 367.2 535.6 368.7 535.6 370.2 535.6 371.7 535.5 373.2 535.5 374.7 535.5 376.2 535.5 377.7 535.5 379.2 535.5 380.7 535.4 382.2 535.4 383.7 535.4 385.2 535.4 386.7 535.4 388.2 535.3 389.7 535.3 391.2 535.2 392.7 535 394.2 534.8 395.7 534.4 397.2 534.1 398.7 533.7 400.2 533.4 401.7 533.1 403.2 532.8 404.7 532.4 406.2 532.1 407.7 531.8 409.2 531.5 410.7 531.1 412.2 530.7 413.7 530.3 415.2 529.9 416.7 529.5 418.2 529.1 419.7 528.6 421.2 528.1 422.7 527.5 424.2 526.8 425.7 525.9 427.2 524.9 428.7 523.1 430.2 520.7 431.7 517.9 433.2 514.7 434.7 511.4 436.2 507.3 437.7 502.5 439.2 497.5 440.7 492.5 442.2 487.2 443.7 481.9 445.2 476.6 446.7 471.1 448.2 465.7 449.7 460.7 451.2 456.4 452.7 452.3 454.2 448.8 455.7 445.9 457.2 443.4 458.7 441.1 460.2 439.1 461.7 437.4 463.2 435.9 464.7 434.6 466.2 433.4 467.7 432.3 469.2 431.3 470.7 430.5 472.2 429.8 473.7 429.2 475.2 428.8 476.7 428.4 478.2 428 479.7 427.6 481.2 427.3 482.7 426.9 484.2 426.7 485.7 426.4 487.2 426.2 488.7 426 490.2 425.9 491.7 425.8 493.2 425.8 494.7 425.7 496.2 425.7 497.7 425.7 499.2 425.6 500.7 425.6 502.2 425.6 503.7 425.6 505.2 425.5 506.7 425.5 508.2 425.5 509.7 425.5 511.2 425.4 512.7 425.4 514.2 425.4 515.7 425.4 517.2 425.4 518.7 425.4 520.2 425.3 521.7 425.3 523.2 425.3 524.7 425.3 526.2 425.3 527.7 425.3 529.2 425.3 530.7 425.3 532.2 425.3 533.5 425.3" fill="none" stroke="#ff8c00" stroke-width="1.5" stroke-linejoin="round"/><g fill="none" stroke="#ff8c00" stroke-width="0.7" stroke-opacity="0.55"><use href="#di0_80" x="308.7" y="535.8"/><use href="#di0_80" x="314.3" y="535.8"/><use href="#di0_80" x="319.9" y="535.8"/><use href="#di0_80" x="325.6" y="535.8"/><use href="#di0_80" x="331.2" y="535.8"/><use href="#di0_80" x="336.8" y="535.8"/><use href="#di0_80" x="342.4" y="535.7"/><use href="#di0_80" x="348" y="535.7"/><use href="#di0_80" x="353.7" y="535.7"/><use href="#di0_80" x="359.3" y="535.6"/><use href="#di0_80" x="364.9" y="535.6"/><use href="#di0_80" x="370.5" y="535.5"/><use href="#di0_80" x="376.1" y="535.5"/><use href="#di0_80" x="381.8" y="535.4"/><use href="#di0_80" x="387.4" y="535.3"/><use href="#di0_80" x="393" y="535"/><use href="#di0_80" x="398.6" y="533.7"/><use href="#di0_80" x="404.2" y="532.5"/><use href="#di0_80" x="409.9" y="531.3"/><use href="#di0_80" x="415.5" y="529.8"/><use href="#di0_80" x="421.1" y="528.1"/><use href="#di0_80" x="426.7" y="525.3"/><use href="#di0_80" x="432.3" y="516.5"/><use href="#di0_80" x="438" y="501.6"/><use href="#di0_80" x="443.6" y="482.3"/><use href="#di0_80" x="449.2" y="462.3"/><use href="#di0_80" x="454.8" y="447.5"/><use href="#di0_80" x="460.4" y="438.8"/><use href="#di0_80" x="466.1" y="433.5"/><use href="#di0_80" x="471.7" y="430"/><use href="#di0_80" x="477.3" y="428.2"/><use href="#di0_80" x="482.9" y="426.9"/><use href="#di0_80" x="488.5" y="426"/><use href="#di0_80" x="494.2" y="425.8"/><use href="#di0_80" x="499.8" y="425.6"/><use href="#di0_80" x="505.4" y="425.5"/><use href="#di0_80" x="511" y="425.4"/><use href="#di0_80" x="516.6" y="425.4"/><use href="#di0_80" x="522.3" y="425.3"/><use href="#di0_80" x="527.9" y="425.3"/><use href="#di0_80" x="533.5" y="425.3"/></g>
<path d="M308.7 493 310.2 492.9 311.7 492.9 313.2 492.8 314.7 492.7 316.2 492.7 317.7 492.6 319.2 492.6 320.7 492.5 322.2 492.5 323.7 492.4 325.2 492.4 326.7 492.3 328.2 492.3 329.7 492.2 331.2 492.2 332.7 492.1 334.2 492.1 335.7 492 337.2 492 338.7 492 340.2 491.9 341.7 491.9 343.2 491.8 344.7 491.8 346.2 491.8 347.7 491.7 349.2 491.7 350.7 491.7 352.2 491.6 353.7 491.6 355.2 491.6 356.7 491.6 358.2 491.5 359.7 491.5 361.2 491.5 362.7 491.5 364.2 491.4 365.7 491.4 367.2 491.4 368.7 491.4 370.2 491.4 371.7 491.3 373.2 491.3 374.7 491.3 376.2 491.3 377.7 491.3 379.2 491.3 380.7 491.3 382.2 491.3 383.7 491.2 385.2 491.2 386.7 491.2 388.2 491.2 389.7 491.2 391.2 491.2 392.7 491.2 394.2 491.2 395.7 491.2 397.2 491.2 398.7 491.2 400.2 491.2 401.7 491.2 403.2 491.2 404.7 491.2 406.2 491.2 407.7 491.3 409.2 491.3 410.7 491.3 412.2 491.3 413.7 491.4 415.2 491.4 416.7 491.4 418.2 491.4 419.7 491.5 421.2 491.5 422.7 491.5 424.2 491.5 425.7 491.5 427.2 491.5 428.7 491.5 430.2 491.4 431.7 491.3 433.2 491.2 434.7 491.1 436.2 490.9 437.7 490.7 439.2 490.5 440.7 490.3 442.2 489.8 443.7 489.3 445.2 488.6 446.7 487.8 448.2 487 449.7 486.1 451.2 485.3 452.7 484.6 454.2 483.9 455.7 483.2 457.2 482.4 458.7 481.7 460.2 480.9 461.7 480.2 463.2 479.4 464.7 478.6 466.2 477.9 467.7 477.1 469.2 476.4 470.7 475.7 472.2 474.9 473.7 474.2 475.2 473.5 476.7 472.8 478.2 472.1 479.7 471.4 481.2 470.7 482.7 470 484.2 469.3 485.7 468.6 487.2 467.9 488.7 467.2 490.2 466.5 491.7 465.7 493.2 464.9 494.7 464.2 496.2 463.4 497.7 462.6 499.2 461.8 500.7 461 502.2 460.2 503.7 459.4 505.2 458.5 506.7 457.7 508.2 456.8 509.7 455.9 511.2 454.9 512.7 453.9 514.2 452.9 515.7 451.8 517.2 450.7 518.7 449.4 520.2 448.1 521.7 446.8 523.2 445.3 524.7 443.8 526.2 442.3 527.7 440.7 529.2 439 530.7 437.3 532.2 435.5 533.5 434" fill="none" stroke="#ff00ff" stroke-width="1.5" stroke-linejoin="round"/><g fill="none" stroke="#ff00ff" stroke-width="0.7" stroke-opacity="0.55"><use href="#td0_80" x="308.7" y="493"/><use href="#td0_80" x="314.3" y="492.8"/><use href="#td0_80" x="319.9" y="492.5"/><use href="#td0_80" x="325.6" y="492.3"/><use href="#td0_80" x="331.2" y="492.2"/><use href="#td0_80" x="336.8" y="492"/><use href="#td0_80" x="342.4" y="491.9"/><use href="#td0_80" x="348" y="491.7"/><use href="#td0_80" x="353.7" y="491.6"/><use href="#td0_80" x="359.3" y="491.5"/><use href="#td0_80" x="364.9" y="491.4"/><use href="#td0_80" x="370.5" y="491.4"/><use href="#td0_80" x="376.1" y="491.3"/><use href="#td0_80" x="381.8" y="491.3"/><use href="#td0_80" x="387.4" y="491.2"/><use href="#td0_80" x="393" y="491.2"/><use href="#td0_80" x="398.6" y="491.2"/><use href="#td0_80" x="404.2" y="491.2"/><use href="#td0_80" x="409.9" y="491.3"/><use href="#td0_80" x="415.5" y="491.4"/><use href="#td0_80" x="421.1" y="491.5"/><use href="#td0_80" x="426.7" y="491.5"/><use href="#td0_80" x="432.3" y="491.3"/><use href="#td0_80" x="438" y="490.7"/><use href="#td0_80" x="443.6" y="489.3"/><use href="#td0_80" x="449.2" y="486.4"/><use href="#td0_80" x="454.8" y="483.6"/><use href="#td0_80" x="460.4" y="480.8"/><use href="#td0_80" x="466.1" y="478"/><use href="#td0_80" x="471.7" y="475.2"/><use href="#td0_80" x="477.3" y="472.5"/><use href="#td0_80" x="482.9" y="469.9"/><use href="#td0_80" x="488.5" y="467.3"/><use href="#td0_80" x="494.2" y="464.4"/><use href="#td0_80" x="499.8" y="461.5"/><use href="#td0_80" x="505.4" y="458.4"/><use href="#td0_80" x="511" y="455.1"/><use href="#td0_80" x="516.6" y="451.1"/><use href="#td0_80" x="522.3" y="446.2"/><use href="#td0_80" x="527.9" y="440.5"/><use href="#td0_80" x="533.5" y="434"/></g>
<path d="M308.7 531.2 310.2 531.2 311.7 531.2 313.2 531.2 314.7 531.1 316.2 531.1 317.7 531.1 319.2 531.1 320.7 531.1 322.2 531.1 323.7 531.1 325.2 531 326.7 531 328.2 531 329.7 531 331.2 531 332.7 531 334.2 531 335.7 531 337.2 531 338.7 530.9 340.2 530.9 341.7 530.9 343.2 530.9 344.7 530.9 346.2 530.9 347.7 530.9 349.2 530.9 350.7 530.9 352.2 530.9 353.7 530.8 355.2 530.8 356.7 530.8 358.2 530.8 359.7 530.8 361.2 530.8 362.7 530.8 364.2 530.8 365.7 530.8 367.2 530.8 368.7 530.8 370.2 530.8 371.7 530.8 373.2 530.7 374.7 530.7 376.2 530.7 377.7 530.7 379.2 530.7 380.7 530.7 382.2 530.7 383.7 530.7 385.2 530.7 386.7 530.7 388.2 530.7 389.7 530.7 391.2 530.7 392.7 530.7 394.2 530.7 395.7 530.7 397.2 530.7 398.7 530.7 400.2 530.7 401.7 530.7 403.2 530.7 404.7 530.7 406.2 530.7 407.7 530.7 409.2 530.7 410.7 530.7 412.2 530.7 413.7 530.7 415.2 530.7 416.7 530.7 418.2 530.7 419.7 530.7 421.2 530.7 422.7 530.7 424.2 530.7 425.7 530.7 427.2 530.7 428.7 530.7 430.2 530.6 431.7 530.6 433.2 530.5 434.7 530.5 436.2 530.4 437.7 530.3 439.2 530.2 440.7 530.1 442.2 530 443.7 529.9 445.2 529.8 446.7 529.7 448.2 529.6 449.7 529.5 451.2 529.5 452.7 529.4 454.2 529.3 455.7 529.3 457.2 529.2 458.7 529.1 460.2 529 461.7 529 463.2 528.9 464.7 528.8 466.2 528.8 467.7 528.7 469.2 528.7 470.7 528.6 472.2 528.6 473.7 528.6 475.2 528.6 476.7 528.7 478.2 528.8 479.7 528.9 481.2 529 482.7 529.2 484.2 529.4 485.7 529.7 487.2 530.4 488.7 531.2 490.2 532.1 491.7 533.1 493.2 533.9 494.7 534.7 496.2 535.6 497.7 536.5 499.2 537.4 500.7 538.4 502.2 539.3 503.7 540.2 505.2 541.1 506.7 542 508.2 542.9 509.7 543.9 511.2 544.8 512.7 545.7 514.2 546.6 515.7 547.5 517.2 548.4 518.7 549.3 520.2 550.1 521.7 550.9 523.2 551.7 524.7 552.5 526.2 553.3 527.7 554.1 529.2 554.9 530.7 555.6 532.2 556.4 533.5 557" fill="none" stroke="#12b012" stroke-width="1.5" stroke-linejoin="round"/><g stroke="#12b012" stroke-width="1.1" fill="none"><use href="#pl0_80" x="308.7" y="531.2"/><use href="#pl0_80" x="314.3" y="531.1"/><use href="#pl0_80" x="319.9" y="531.1"/><use href="#pl0_80" x="325.6" y="531"/><use href="#pl0_80" x="331.2" y="531"/><use href="#pl0_80" x="336.8" y="531"/><use href="#pl0_80" x="342.4" y="530.9"/><use href="#pl0_80" x="348" y="530.9"/><use href="#pl0_80" x="353.7" y="530.8"/><use href="#pl0_80" x="359.3" y="530.8"/><use href="#pl0_80" x="364.9" y="530.8"/><use href="#pl0_80" x="370.5" y="530.8"/><use href="#pl0_80" x="376.1" y="530.7"/><use href="#pl0_80" x="381.8" y="530.7"/><use href="#pl0_80" x="387.4" y="530.7"/><use href="#pl0_80" x="393" y="530.7"/><use href="#pl0_80" x="398.6" y="530.7"/><use href="#pl0_80" x="404.2" y="530.7"/><use href="#pl0_80" x="409.9" y="530.7"/><use href="#pl0_80" x="415.5" y="530.7"/><use href="#pl0_80" x="421.1" y="530.7"/><use href="#pl0_80" x="426.7" y="530.7"/><use href="#pl0_80" x="432.3" y="530.6"/><use href="#pl0_80" x="438" y="530.3"/><use href="#pl0_80" x="443.6" y="529.9"/><use href="#pl0_80" x="449.2" y="529.6"/><use href="#pl0_80" x="454.8" y="529.3"/><use href="#pl0_80" x="460.4" y="529"/><use href="#pl0_80" x="466.1" y="528.8"/><use href="#pl0_80" x="471.7" y="528.6"/><use href="#pl0_80" x="477.3" y="528.7"/><use href="#pl0_80" x="482.9" y="529.2"/><use href="#pl0_80" x="488.5" y="531.1"/><use href="#pl0_80" x="494.2" y="534.4"/><use href="#pl0_80" x="499.8" y="537.8"/><use href="#pl0_80" x="505.4" y="541.2"/><use href="#pl0_80" x="511" y="544.7"/><use href="#pl0_80" x="516.6" y="548.1"/><use href="#pl0_80" x="522.3" y="551.2"/><use href="#pl0_80" x="527.9" y="554.2"/><use href="#pl0_80" x="533.5" y="557"/></g>
<text x="525.9" y="434.8" font-family="Liberation Sans" font-size="8.5" fill="#111" text-anchor="middle">x2</text>
<rect x="459.7" y="451.8" width="71.3" height="61.8" fill="#fff" stroke="#444" stroke-width="1.1"/>
<rect x="464.1" y="458.3" width="3.7" height="3.7" fill="none" stroke="#000000" stroke-width="0.9"/>
<text x="497.9" y="463.2" font-family="Liberation Mono" font-size="9" fill="#111" text-anchor="middle" font-style="italic" font-weight="bold">Q</text>
<circle cx="466" cy="469.9" r="3" fill="none" stroke="#ff0000" stroke-width="0.9"/>
<text x="497.9" y="472.9" font-family="Liberation Mono" font-size="9" fill="#ff2020" text-anchor="middle" font-style="italic" font-weight="bold">M</text>
<text x="463.5" y="482.4" font-family="Liberation Mono" font-size="7.5" fill="#999" text-anchor="start" textLength="61" lengthAdjust="spacingAndGlyphs">△10(1−γ)(P−W)</text>
<path d="M466 485.3L468.9 488.2L466 491.1L463.1 488.2Z" fill="none" stroke="#ff8c00" stroke-width="0.9"/>
<text x="497.9" y="491.2" font-family="Liberation Mono" font-size="9" fill="#ff9020" text-anchor="middle" font-style="italic" font-weight="bold">G</text>
<path d="M466 499.3L468.9 494.2L463.1 494.2Z" fill="none" stroke="#ff00ff" stroke-width="0.9"/>
<text x="497.9" y="499.3" font-family="Liberation Mono" font-size="9" fill="#ff20ff" text-anchor="middle" font-style="italic" font-weight="bold">U</text>
<path d="M463.6 504.7H468.4M466 502.3V507.1" stroke="#12b012" stroke-width="1.1" fill="none"/>
<text x="497.9" y="507.7" font-family="Liberation Mono" font-size="9" fill="#20a020" text-anchor="middle" font-weight="bold">10<tspan font-size="6" dy="-3.5">5</tspan><tspan dy="3.5" font-style="italic" font-weight="normal" font-family="Liberation Serif">π</tspan></text>

</g>
<clipPath id="cy1"><rect x="4" y="560" width="267" height="143"/></clipPath>
<g clip-path="url(#cy1)">
<path d="M30.5 689.8H254.5M30.5 672H254.5M30.5 654.2H254.5M30.5 636.4H254.5M30.5 618.6H254.5M30.5 600.8H254.5M30.5 583H254.5M30.5 565.2H254.5M75.2 562V702M120 562V702M164.7 562V702M209.5 562V702M254.2 562V702" stroke="#f1f1f1" stroke-width="1" fill="none"/>
<path d="M232.7 560V703" stroke="#3a3a3a" stroke-width="1.4" stroke-dasharray="2.6,4.0" stroke-dashoffset="-2.6" fill="none"/>
<path d="M30.5 562V702M30.5 689.8H254.5" stroke="#e0e0e0" stroke-width="0.8" fill="none"/>
<path d="M30.5 689.8H33M30.5 672H33M30.5 654.2H33M30.5 636.4H33M30.5 618.6H33M30.5 600.8H33M30.5 583H33M30.5 565.2H33M75.2 689.8V687.3M120 689.8V687.3M164.7 689.8V687.3M209.5 689.8V687.3M254.2 689.8V687.3" stroke="#b0b0b0" stroke-width="0.7" fill="none"/>
<text x="27.5" y="692.7" font-family="Liberation Sans" font-size="8.2" fill="#222" text-anchor="end" textLength="4.3" lengthAdjust="spacingAndGlyphs">0</text>
<text x="27.5" y="674.9" font-family="Liberation Sans" font-size="8.2" fill="#222" text-anchor="end" textLength="12.9" lengthAdjust="spacingAndGlyphs">100</text>
<text x="27.5" y="657.1" font-family="Liberation Sans" font-size="8.2" fill="#222" text-anchor="end" textLength="12.9" lengthAdjust="spacingAndGlyphs">200</text>
<text x="27.5" y="639.3" font-family="Liberation Sans" font-size="8.2" fill="#222" text-anchor="end" textLength="12.9" lengthAdjust="spacingAndGlyphs">300</text>
<text x="27.5" y="621.5" font-family="Liberation Sans" font-size="8.2" fill="#222" text-anchor="end" textLength="12.9" lengthAdjust="spacingAndGlyphs">400</text>
<text x="27.5" y="603.7" font-family="Liberation Sans" font-size="8.2" fill="#222" text-anchor="end" textLength="12.9" lengthAdjust="spacingAndGlyphs">500</text>
<text x="27.5" y="585.9" font-family="Liberation Sans" font-size="8.2" fill="#222" text-anchor="end" textLength="12.9" lengthAdjust="spacingAndGlyphs">600</text>
<text x="27.5" y="568.1" font-family="Liberation Sans" font-size="8.2" fill="#222" text-anchor="end" textLength="12.9" lengthAdjust="spacingAndGlyphs">700</text>
<text x="75.2" y="699.4" font-family="Liberation Sans" font-size="8.2" fill="#222" text-anchor="middle" textLength="10.6" lengthAdjust="spacingAndGlyphs">0.2</text>
<text x="120" y="699.4" font-family="Liberation Sans" font-size="8.2" fill="#222" text-anchor="middle" textLength="10.6" lengthAdjust="spacingAndGlyphs">0.4</text>
<text x="164.7" y="699.4" font-family="Liberation Sans" font-size="8.2" fill="#222" text-anchor="middle" textLength="10.6" lengthAdjust="spacingAndGlyphs">0.6</text>
<text x="209.5" y="699.4" font-family="Liberation Sans" font-size="8.2" fill="#222" text-anchor="middle" textLength="10.6" lengthAdjust="spacingAndGlyphs">0.8</text>
<text x="254.2" y="699.4" font-family="Liberation Sans" font-size="8.2" fill="#222" text-anchor="middle" textLength="10.6" lengthAdjust="spacingAndGlyphs">1.0</text>
<text x="229" y="698.5" font-family="Liberation Sans" font-size="9" fill="#222" text-anchor="start" font-style="italic">ρ<tspan font-size="6.5" dy="1.2" font-style="normal">QL</tspan></text>
<path d="M30.5 589.4 32 589.4 33.5 589.4 35 589.4 36.5 589.4 38 589.4 39.5 589.4 41 589.4 42.5 589.4 44 589.4 45.5 589.4 47 589.4 48.5 589.4 50 589.4 51.5 589.4 53 589.4 54.5 589.4 56 589.4 57.5 589.4 59 589.4 60.5 589.4 62 589.4 63.5 589.4 65 589.4 66.5 589.4 68 589.4 69.5 589.4 71 589.4 72.5 589.4 74 589.4 75.5 589.4 77 589.4 78.5 589.4 80 589.4 81.5 589.4 83 589.4 84.5 589.4 86 589.4 87.5 589.4 89 589.4 90.5 589.4 92 589.4 93.5 589.4 95 589.4 96.5 589.4 98 589.4 99.5 589.4 101 589.4 102.5 589.4 104 589.4 105.5 589.4 107 589.4 108.5 589.4 110 589.4 111.5 589.4 113 589.4 114.5 589.4 116 589.4 117.5 589.4 119 589.4 120.5 589.4 122 589.4 123.5 589.4 125 589.4 126.5 589.4 128 589.4 129.5 589.4 131 589.4 132.5 589.4 134 589.4 135.5 589.4 137 589.4 138.5 589.4 140 589.4 141.5 589.4 143 589.4 144.5 589.4 146 589.4 147.5 589.4 149 589.4 150.5 589.4 152 589.4 153.5 589.4 155 589.4 156.5 589.4 158 589.4 159.5 589.4 161 589.4 162.5 589.4 164 589.4 165.5 589.4 167 589.4 168.5 589.4 170 589.4 171.5 589.4 173 589.4 174.5 589.4 176 589.4 177.5 589.4 179 589.4 180.5 589.4 182 589.4 183.5 589.4 185 589.4 186.5 589.4 188 589.4 189.5 589.4 191 589.4 192.5 589.4 194 589.4 195.5 589.4 197 589.4 198.5 589.4 200 589.4 201.5 589.4 203 589.4 204.5 589.4 206 589.4 207.5 589.4 209 589.4 210.5 589.4 212 589.4 213.5 589.4 215 589.4 216.5 589.4 218 589.4 219.5 589.4 221 589.4 222.5 589.4 224 589.4 225.5 589.4 227 589.4 228.5 589.4 230 589.4 231.5 589.4 233 589.4 234.5 589.4 236 589.4 237.5 589.4 239 589.4 240.5 589.4 242 589.4 243.5 589.4 245 589.4 246.5 589.4 248 589.4 249.5 589.4 251 589.4 252.5 589.4 254 589.4 254.5 589.4" fill="none" stroke="#000000" stroke-width="1.3" stroke-linejoin="round"/><g fill="#000000"><use href="#sq1_00" x="30.5" y="589.4"/><use href="#sq1_00" x="36.1" y="589.4"/><use href="#sq1_00" x="41.7" y="589.4"/><use href="#sq1_00" x="47.3" y="589.4"/><use href="#sq1_00" x="52.9" y="589.4"/><use href="#sq1_00" x="58.5" y="589.4"/><use href="#sq1_00" x="64.1" y="589.4"/><use href="#sq1_00" x="69.7" y="589.4"/><use href="#sq1_00" x="75.3" y="589.4"/><use href="#sq1_00" x="80.9" y="589.4"/><use href="#sq1_00" x="86.5" y="589.4"/><use href="#sq1_00" x="92.1" y="589.4"/><use href="#sq1_00" x="97.7" y="589.4"/><use href="#sq1_00" x="103.3" y="589.4"/><use href="#sq1_00" x="108.9" y="589.4"/><use href="#sq1_00" x="114.5" y="589.4"/><use href="#sq1_00" x="120.1" y="589.4"/><use href="#sq1_00" x="125.7" y="589.4"/><use href="#sq1_00" x="131.3" y="589.4"/><use href="#sq1_00" x="136.9" y="589.4"/><use href="#sq1_00" x="142.5" y="589.4"/><use href="#sq1_00" x="148.1" y="589.4"/><use href="#sq1_00" x="153.7" y="589.4"/><use href="#sq1_00" x="159.3" y="589.4"/><use href="#sq1_00" x="164.9" y="589.4"/><use href="#sq1_00" x="170.5" y="589.4"/><use href="#sq1_00" x="176.1" y="589.4"/><use href="#sq1_00" x="181.7" y="589.4"/><use href="#sq1_00" x="187.3" y="589.4"/><use href="#sq1_00" x="192.9" y="589.4"/><use href="#sq1_00" x="198.5" y="589.4"/><use href="#sq1_00" x="204.1" y="589.4"/><use href="#sq1_00" x="209.7" y="589.4"/><use href="#sq1_00" x="215.3" y="589.4"/><use href="#sq1_00" x="220.9" y="589.4"/><use href="#sq1_00" x="226.5" y="589.4"/><use href="#sq1_00" x="232.1" y="589.4"/><use href="#sq1_00" x="237.7" y="589.4"/><use href="#sq1_00" x="243.3" y="589.4"/><use href="#sq1_00" x="248.9" y="589.4"/><use href="#sq1_00" x="254.5" y="589.4"/></g>
<path d="M30.5 578.6 32 578.6 33.5 578.6 35 578.6 36.5 578.6 38 578.6 39.5 578.6 41 578.6 42.5 578.6 44 578.6 45.5 578.6 47 578.6 48.5 578.6 50 578.6 51.5 578.6 53 578.6 54.5 578.6 56 578.6 57.5 578.6 59 578.6 60.5 578.6 62 578.6 63.5 578.6 65 578.6 66.5 578.6 68 578.6 69.5 578.6 71 578.6 72.5 578.6 74 578.6 75.5 578.6 77 578.6 78.5 578.6 80 578.6 81.5 578.6 83 578.6 84.5 578.6 86 578.6 87.5 578.6 89 578.6 90.5 578.6 92 578.6 93.5 578.6 95 578.6 96.5 578.6 98 578.6 99.5 578.6 101 578.6 102.5 578.6 104 578.6 105.5 578.6 107 578.6 108.5 578.6 110 578.6 111.5 578.6 113 578.6 114.5 578.6 116 578.6 117.5 578.6 119 578.6 120.5 578.6 122 578.6 123.5 578.6 125 578.6 126.5 578.6 128 578.6 129.5 578.6 131 578.6 132.5 578.6 134 578.6 135.5 578.6 137 578.6 138.5 578.6 140 578.6 141.5 578.6 143 578.6 144.5 578.6 146 578.6 147.5 578.6 149 578.6 150.5 578.6 152 578.6 153.5 578.6 155 578.6 156.5 578.6 158 578.6 159.5 578.6 161 578.6 162.5 578.6 164 578.6 165.5 578.6 167 578.6 168.5 578.6 170 578.6 171.5 578.6 173 578.6 174.5 578.6 176 578.6 177.5 578.6 179 578.6 180.5 578.6 182 578.6 183.5 578.6 185 578.6 186.5 578.6 188 578.6 189.5 578.6 191 578.6 192.5 578.6 194 578.6 195.5 578.6 197 578.6 198.5 578.6 200 578.6 201.5 578.6 203 578.6 204.5 578.6 206 578.6 207.5 578.6 209 578.6 210.5 578.6 212 578.6 213.5 578.6 215 578.6 216.5 578.6 218 578.6 219.5 578.6 221 578.6 222.5 578.6 224 578.6 225.5 578.6 227 578.6 228.5 578.6 230 578.6 231.5 578.6 233 578.6 234.5 578.6 236 578.6 237.5 578.6 239 578.6 240.5 578.6 242 578.6 243.5 578.6 245 578.6 246.5 578.6 248 578.6 249.5 578.6 251 578.6 252.5 578.6 254 578.6 254.5 578.6" fill="none" stroke="#ff0000" stroke-width="1.3" stroke-linejoin="round"/><g fill="#ff0000"><use href="#ci1_00" x="30.5" y="578.6"/><use href="#ci1_00" x="36.1" y="578.6"/><use href="#ci1_00" x="41.7" y="578.6"/><use href="#ci1_00" x="47.3" y="578.6"/><use href="#ci1_00" x="52.9" y="578.6"/><use href="#ci1_00" x="58.5" y="578.6"/><use href="#ci1_00" x="64.1" y="578.6"/><use href="#ci1_00" x="69.7" y="578.6"/><use href="#ci1_00" x="75.3" y="578.6"/><use href="#ci1_00" x="80.9" y="578.6"/><use href="#ci1_00" x="86.5" y="578.6"/><use href="#ci1_00" x="92.1" y="578.6"/><use href="#ci1_00" x="97.7" y="578.6"/><use href="#ci1_00" x="103.3" y="578.6"/><use href="#ci1_00" x="108.9" y="578.6"/><use href="#ci1_00" x="114.5" y="578.6"/><use href="#ci1_00" x="120.1" y="578.6"/><use href="#ci1_00" x="125.7" y="578.6"/><use href="#ci1_00" x="131.3" y="578.6"/><use href="#ci1_00" x="136.9" y="578.6"/><use href="#ci1_00" x="142.5" y="578.6"/><use href="#ci1_00" x="148.1" y="578.6"/><use href="#ci1_00" x="153.7" y="578.6"/><use href="#ci1_00" x="159.3" y="578.6"/><use href="#ci1_00" x="164.9" y="578.6"/><use href="#ci1_00" x="170.5" y="578.6"/><use href="#ci1_00" x="176.1" y="578.6"/><use href="#ci1_00" x="181.7" y="578.6"/><use href="#ci1_00" x="187.3" y="578.6"/><use href="#ci1_00" x="192.9" y="578.6"/><use href="#ci1_00" x="198.5" y="578.6"/><use href="#ci1_00" x="204.1" y="578.6"/><use href="#ci1_00" x="209.7" y="578.6"/><use href="#ci1_00" x="215.3" y="578.6"/><use href="#ci1_00" x="220.9" y="578.6"/><use href="#ci1_00" x="226.5" y="578.6"/><use href="#ci1_00" x="232.1" y="578.6"/><use href="#ci1_00" x="237.7" y="578.6"/><use href="#ci1_00" x="243.3" y="578.6"/><use href="#ci1_00" x="248.9" y="578.6"/><use href="#ci1_00" x="254.5" y="578.6"/></g>
<path d="M30.5 689.8 32 689.8 33.5 689.8 35 689.8 36.5 689.8 38 689.8 39.5 689.8 41 689.8 42.5 689.8 44 689.8 45.5 689.8 47 689.8 48.5 689.8 50 689.8 51.5 689.8 53 689.8 54.5 689.8 56 689.8 57.5 689.8 59 689.8 60.5 689.8 62 689.8 63.5 689.8 65 689.8 66.5 689.8 68 689.8 69.5 689.8 71 689.8 72.5 689.8 74 689.8 75.5 689.8 77 689.8 78.5 689.8 80 689.8 81.5 689.8 83 689.8 84.5 689.8 86 689.8 87.5 689.8 89 689.8 90.5 689.8 92 689.8 93.5 689.8 95 689.8 96.5 689.8 98 689.8 99.5 689.8 101 689.8 102.5 689.8 104 689.8 105.5 689.8 107 689.8 108.5 689.8 110 689.8 111.5 689.8 113 689.8 114.5 689.8 116 689.8 117.5 689.8 119 689.8 120.5 689.8 122 689.8 123.5 689.8 125 689.8 126.5 689.8 128 689.8 129.5 689.8 131 689.8 132.5 689.8 134 689.8 135.5 689.8 137 689.8 138.5 689.8 140 689.8 141.5 689.8 143 689.8 144.5 689.8 146 689.8 147.5 689.8 149 689.8 150.5 689.8 152 689.8 153.5 689.8 155 689.8 156.5 689.8 158 689.8 159.5 689.8 161 689.8 162.5 689.8 164 689.8 165.5 689.8 167 689.8 168.5 689.8 170 689.8 171.5 689.8 173 689.8 174.5 689.8 176 689.8 177.5 689.8 179 689.8 180.5 689.8 182 689.8 183.5 689.8 185 689.8 186.5 689.8 188 689.8 189.5 689.8 191 689.8 192.5 689.8 194 689.8 195.5 689.8 197 689.8 198.5 689.8 200 689.8 201.5 689.8 203 689.8 204.5 689.8 206 689.8 207.5 689.8 209 689.8 210.5 689.8 212 689.8 213.5 689.8 215 689.8 216.5 689.8 218 689.8 219.5 689.8 221 689.8 222.5 689.8 224 689.8 225.5 689.8 227 689.8 228.5 689.8 230 689.8 231.5 689.8 233 689.8 234.5 689.8 236 689.8 237.5 689.8 239 689.8 240.5 689.8 242 689.8 243.5 689.8 245 689.8 246.5 689.8 248 689.8 249.5 689.8 251 689.8 252.5 689.8 254 689.8 254.5 689.8" fill="none" stroke="#7f7f7f" stroke-width="1.3" stroke-linejoin="round"/><g fill="#7f7f7f"><use href="#tu1_00" x="30.5" y="689.8"/><use href="#tu1_00" x="36.1" y="689.8"/><use href="#tu1_00" x="41.7" y="689.8"/><use href="#tu1_00" x="47.3" y="689.8"/><use href="#tu1_00" x="52.9" y="689.8"/><use href="#tu1_00" x="58.5" y="689.8"/><use href="#tu1_00" x="64.1" y="689.8"/><use href="#tu1_00" x="69.7" y="689.8"/><use href="#tu1_00" x="75.3" y="689.8"/><use href="#tu1_00" x="80.9" y="689.8"/><use href="#tu1_00" x="86.5" y="689.8"/><use href="#tu1_00" x="92.1" y="689.8"/><use href="#tu1_00" x="97.7" y="689.8"/><use href="#tu1_00" x="103.3" y="689.8"/><use href="#tu1_00" x="108.9" y="689.8"/><use href="#tu1_00" x="114.5" y="689.8"/><use href="#tu1_00" x="120.1" y="689.8"/><use href="#tu1_00" x="125.7" y="689.8"/><use href="#tu1_00" x="131.3" y="689.8"/><use href="#tu1_00" x="136.9" y="689.8"/><use href="#tu1_00" x="142.5" y="689.8"/><use href="#tu1_00" x="148.1" y="689.8"/><use href="#tu1_00" x="153.7" y="689.8"/><use href="#tu1_00" x="159.3" y="689.8"/><use href="#tu1_00" x="164.9" y="689.8"/><use href="#tu1_00" x="170.5" y="689.8"/><use href="#tu1_00" x="176.1" y="689.8"/><use href="#tu1_00" x="181.7" y="689.8"/><use href="#tu1_00" x="187.3" y="689.8"/><use href="#tu1_00" x="192.9" y="689.8"/><use href="#tu1_00" x="198.5" y="689.8"/><use href="#tu1_00" x="204.1" y="689.8"/><use href="#tu1_00" x="209.7" y="689.8"/><use href="#tu1_00" x="215.3" y="689.8"/><use href="#tu1_00" x="220.9" y="689.8"/><use href="#tu1_00" x="226.5" y="689.8"/><use href="#tu1_00" x="232.1" y="689.8"/><use href="#tu1_00" x="237.7" y="689.8"/><use href="#tu1_00" x="243.3" y="689.8"/><use href="#tu1_00" x="248.9" y="689.8"/><use href="#tu1_00" x="254.5" y="689.8"/></g>
<path d="M30.5 634.7 32 634.7 33.5 634.7 35 634.7 36.5 634.7 38 634.7 39.5 634.7 41 634.7 42.5 634.7 44 634.7 45.5 634.7 47 634.7 48.5 634.7 50 634.7 51.5 634.7 53 634.7 54.5 634.7 56 634.7 57.5 634.7 59 634.7 60.5 634.7 62 634.7 63.5 634.7 65 634.7 66.5 634.7 68 634.7 69.5 634.7 71 634.7 72.5 634.7 74 634.7 75.5 634.7 77 634.7 78.5 634.7 80 634.7 81.5 634.7 83 634.7 84.5 634.7 86 634.7 87.5 634.7 89 634.7 90.5 634.7 92 634.7 93.5 634.7 95 634.7 96.5 634.7 98 634.7 99.5 634.7 101 634.7 102.5 634.7 104 634.7 105.5 634.7 107 634.7 108.5 634.7 110 634.7 111.5 634.7 113 634.7 114.5 634.7 116 634.7 117.5 634.7 119 634.7 120.5 634.7 122 634.7 123.5 634.7 125 634.7 126.5 634.7 128 634.7 129.5 634.7 131 634.7 132.5 634.7 134 634.7 135.5 634.7 137 634.7 138.5 634.7 140 634.7 141.5 634.7 143 634.7 144.5 634.7 146 634.7 147.5 634.7 149 634.7 150.5 634.7 152 634.7 153.5 634.7 155 634.7 156.5 634.7 158 634.7 159.5 634.7 161 634.7 162.5 634.7 164 634.7 165.5 634.7 167 634.7 168.5 634.7 170 634.7 171.5 634.7 173 634.7 174.5 634.7 176 634.7 177.5 634.7 179 634.7 180.5 634.7 182 634.7 183.5 634.7 185 634.7 186.5 634.7 188 634.7 189.5 634.7 191 634.7 192.5 634.7 194 634.7 195.5 634.7 197 634.7 198.5 634.7 200 634.7 201.5 634.7 203 634.7 204.5 634.7 206 634.7 207.5 634.7 209 634.7 210.5 634.7 212 634.7 213.5 634.7 215 634.7 216.5 634.7 218 634.7 219.5 634.7 221 634.7 222.5 634.7 224 634.7 225.5 634.7 227 634.7 228.5 634.7 230 634.7 231.5 634.7 233 634.7 234.5 634.7 236 634.7 237.5 634.7 239 634.7 240.5 634.7 242 634.7 243.5 634.7 245 634.7 246.5 634.7 248 634.7 249.5 634.7 251 634.7 252.5 634.7 254 634.7 254.5 634.7" fill="none" stroke="#00ffff" stroke-width="1.3" stroke-linejoin="round"/><g fill="#00ffff"><use href="#st1_00" x="30.5" y="634.7"/><use href="#st1_00" x="36.1" y="634.7"/><use href="#st1_00" x="41.7" y="634.7"/><use href="#st1_00" x="47.3" y="634.7"/><use href="#st1_00" x="52.9" y="634.7"/><use href="#st1_00" x="58.5" y="634.7"/><use href="#st1_00" x="64.1" y="634.7"/><use href="#st1_00" x="69.7" y="634.7"/><use href="#st1_00" x="75.3" y="634.7"/><use href="#st1_00" x="80.9" y="634.7"/><use href="#st1_00" x="86.5" y="634.7"/><use href="#st1_00" x="92.1" y="634.7"/><use href="#st1_00" x="97.7" y="634.7"/><use href="#st1_00" x="103.3" y="634.7"/><use href="#st1_00" x="108.9" y="634.7"/><use href="#st1_00" x="114.5" y="634.7"/><use href="#st1_00" x="120.1" y="634.7"/><use href="#st1_00" x="125.7" y="634.7"/><use href="#st1_00" x="131.3" y="634.7"/><use href="#st1_00" x="136.9" y="634.7"/><use href="#st1_00" x="142.5" y="634.7"/><use href="#st1_00" x="148.1" y="634.7"/><use href="#st1_00" x="153.7" y="634.7"/><use href="#st1_00" x="159.3" y="634.7"/><use href="#st1_00" x="164.9" y="634.7"/><use href="#st1_00" x="170.5" y="634.7"/><use href="#st1_00" x="176.1" y="634.7"/><use href="#st1_00" x="181.7" y="634.7"/><use href="#st1_00" x="187.3" y="634.7"/><use href="#st1_00" x="192.9" y="634.7"/><use href="#st1_00" x="198.5" y="634.7"/><use href="#st1_00" x="204.1" y="634.7"/><use href="#st1_00" x="209.7" y="634.7"/><use href="#st1_00" x="215.3" y="634.7"/><use href="#st1_00" x="220.9" y="634.7"/><use href="#st1_00" x="226.5" y="634.7"/><use href="#st1_00" x="232.1" y="634.7"/><use href="#st1_00" x="237.7" y="634.7"/><use href="#st1_00" x="243.3" y="634.7"/><use href="#st1_00" x="248.9" y="634.7"/><use href="#st1_00" x="254.5" y="634.7"/></g>
<path d="M30.5 624.8 32 624.8 33.5 624.8 35 624.8 36.5 624.8 38 624.8 39.5 624.8 41 624.8 42.5 624.8 44 624.8 45.5 624.8 47 624.8 48.5 624.8 50 624.8 51.5 624.8 53 624.8 54.5 624.8 56 624.8 57.5 624.8 59 624.8 60.5 624.8 62 624.8 63.5 624.8 65 624.8 66.5 624.8 68 624.8 69.5 624.8 71 624.8 72.5 624.8 74 624.8 75.5 624.8 77 624.8 78.5 624.8 80 624.8 81.5 624.8 83 624.8 84.5 624.8 86 624.8 87.5 624.8 89 624.8 90.5 624.8 92 624.8 93.5 624.8 95 624.8 96.5 624.8 98 624.8 99.5 624.8 101 624.8 102.5 624.8 104 624.8 105.5 624.8 107 624.8 108.5 624.8 110 624.8 111.5 624.8 113 624.8 114.5 624.8 116 624.8 117.5 624.8 119 624.8 120.5 624.8 122 624.8 123.5 624.8 125 624.8 126.5 624.8 128 624.8 129.5 624.8 131 624.8 132.5 624.8 134 624.8 135.5 624.8 137 624.8 138.5 624.8 140 624.8 141.5 624.8 143 624.8 144.5 624.8 146 624.8 147.5 624.8 149 624.8 150.5 624.8 152 624.8 153.5 624.8 155 624.8 156.5 624.8 158 624.8 159.5 624.8 161 624.8 162.5 624.8 164 624.8 165.5 624.8 167 624.8 168.5 624.8 170 624.8 171.5 624.8 173 624.8 174.5 624.8 176 624.8 177.5 624.8 179 624.8 180.5 624.8 182 624.8 183.5 624.8 185 624.8 186.5 624.8 188 624.8 189.5 624.8 191 624.8 192.5 624.8 194 624.8 195.5 624.8 197 624.8 198.5 624.8 200 624.8 201.5 624.8 203 624.8 204.5 624.8 206 624.8 207.5 624.8 209 624.8 210.5 624.8 212 624.8 213.5 624.8 215 624.8 216.5 624.8 218 624.8 219.5 624.8 221 624.8 222.5 624.8 224 624.8 225.5 624.8 227 624.8 228.5 624.8 230 624.8 231.5 624.8 233 624.8 234.5 624.8 236 624.8 237.5 624.8 239 624.8 240.5 624.8 242 624.8 243.5 624.8 245 624.8 246.5 624.8 248 624.8 249.5 624.8 251 624.8 252.5 624.8 254 624.8 254.5 624.8" fill="none" stroke="#ff7f00" stroke-width="1.3" stroke-linejoin="round"/><g fill="#ff7f00"><use href="#di1_00" x="30.5" y="624.8"/><use href="#di1_00" x="36.1" y="624.8"/><use href="#di1_00" x="41.7" y="624.8"/><use href="#di1_00" x="47.3" y="624.8"/><use href="#di1_00" x="52.9" y="624.8"/><use href="#di1_00" x="58.5" y="624.8"/><use href="#di1_00" x="64.1" y="624.8"/><use href="#di1_00" x="69.7" y="624.8"/><use href="#di1_00" x="75.3" y="624.8"/><use href="#di1_00" x="80.9" y="624.8"/><use href="#di1_00" x="86.5" y="624.8"/><use href="#di1_00" x="92.1" y="624.8"/><use href="#di1_00" x="97.7" y="624.8"/><use href="#di1_00" x="103.3" y="624.8"/><use href="#di1_00" x="108.9" y="624.8"/><use href="#di1_00" x="114.5" y="624.8"/><use href="#di1_00" x="120.1" y="624.8"/><use href="#di1_00" x="125.7" y="624.8"/><use href="#di1_00" x="131.3" y="624.8"/><use href="#di1_00" x="136.9" y="624.8"/><use href="#di1_00" x="142.5" y="624.8"/><use href="#di1_00" x="148.1" y="624.8"/><use href="#di1_00" x="153.7" y="624.8"/><use href="#di1_00" x="159.3" y="624.8"/><use href="#di1_00" x="164.9" y="624.8"/><use href="#di1_00" x="170.5" y="624.8"/><use href="#di1_00" x="176.1" y="624.8"/><use href="#di1_00" x="181.7" y="624.8"/><use href="#di1_00" x="187.3" y="624.8"/><use href="#di1_00" x="192.9" y="624.8"/><use href="#di1_00" x="198.5" y="624.8"/><use href="#di1_00" x="204.1" y="624.8"/><use href="#di1_00" x="209.7" y="624.8"/><use href="#di1_00" x="215.3" y="624.8"/><use href="#di1_00" x="220.9" y="624.8"/><use href="#di1_00" x="226.5" y="624.8"/><use href="#di1_00" x="232.1" y="624.8"/><use href="#di1_00" x="237.7" y="624.8"/><use href="#di1_00" x="243.3" y="624.8"/><use href="#di1_00" x="248.9" y="624.8"/><use href="#di1_00" x="254.5" y="624.8"/></g>
<path d="M30.5 570.4 32 570.4 33.5 570.4 35 570.4 36.5 570.4 38 570.4 39.5 570.4 41 570.4 42.5 570.4 44 570.4 45.5 570.4 47 570.4 48.5 570.4 50 570.4 51.5 570.4 53 570.4 54.5 570.4 56 570.4 57.5 570.4 59 570.4 60.5 570.4 62 570.4 63.5 570.4 65 570.4 66.5 570.4 68 570.4 69.5 570.4 71 570.4 72.5 570.4 74 570.4 75.5 570.4 77 570.4 78.5 570.4 80 570.4 81.5 570.4 83 570.4 84.5 570.4 86 570.4 87.5 570.4 89 570.4 90.5 570.4 92 570.4 93.5 570.4 95 570.4 96.5 570.4 98 570.4 99.5 570.4 101 570.4 102.5 570.4 104 570.4 105.5 570.4 107 570.4 108.5 570.4 110 570.4 111.5 570.4 113 570.4 114.5 570.4 116 570.4 117.5 570.4 119 570.4 120.5 570.4 122 570.4 123.5 570.4 125 570.4 126.5 570.4 128 570.4 129.5 570.4 131 570.4 132.5 570.4 134 570.4 135.5 570.4 137 570.4 138.5 570.4 140 570.4 141.5 570.4 143 570.4 144.5 570.4 146 570.4 147.5 570.4 149 570.4 150.5 570.4 152 570.4 153.5 570.4 155 570.4 156.5 570.4 158 570.4 159.5 570.4 161 570.4 162.5 570.4 164 570.4 165.5 570.4 167 570.4 168.5 570.4 170 570.4 171.5 570.4 173 570.4 174.5 570.4 176 570.4 177.5 570.4 179 570.4 180.5 570.4 182 570.4 183.5 570.4 185 570.4 186.5 570.4 188 570.4 189.5 570.4 191 570.4 192.5 570.4 194 570.4 195.5 570.4 197 570.4 198.5 570.4 200 570.4 201.5 570.4 203 570.4 204.5 570.4 206 570.4 207.5 570.4 209 570.4 210.5 570.4 212 570.4 213.5 570.4 215 570.4 216.5 570.4 218 570.4 219.5 570.4 221 570.4 222.5 570.4 224 570.4 225.5 570.4 227 570.4 228.5 570.4 230 570.4 231.5 570.4 233 570.4 234.5 570.4 236 570.4 237.5 570.4 239 570.4 240.5 570.4 242 570.4 243.5 570.4 245 570.4 246.5 570.4 248 570.4 249.5 570.4 251 570.4 252.5 570.4 254 570.4 254.5 570.4" fill="none" stroke="#0000ff" stroke-width="1.3" stroke-linejoin="round"/><g fill="#0000ff"><use href="#td1_00" x="30.5" y="570.4"/><use href="#td1_00" x="36.1" y="570.4"/><use href="#td1_00" x="41.7" y="570.4"/><use href="#td1_00" x="47.3" y="570.4"/><use href="#td1_00" x="52.9" y="570.4"/><use href="#td1_00" x="58.5" y="570.4"/><use href="#td1_00" x="64.1" y="570.4"/><use href="#td1_00" x="69.7" y="570.4"/><use href="#td1_00" x="75.3" y="570.4"/><use href="#td1_00" x="80.9" y="570.4"/><use href="#td1_00" x="86.5" y="570.4"/><use href="#td1_00" x="92.1" y="570.4"/><use href="#td1_00" x="97.7" y="570.4"/><use href="#td1_00" x="103.3" y="570.4"/><use href="#td1_00" x="108.9" y="570.4"/><use href="#td1_00" x="114.5" y="570.4"/><use href="#td1_00" x="120.1" y="570.4"/><use href="#td1_00" x="125.7" y="570.4"/><use href="#td1_00" x="131.3" y="570.4"/><use href="#td1_00" x="136.9" y="570.4"/><use href="#td1_00" x="142.5" y="570.4"/><use href="#td1_00" x="148.1" y="570.4"/><use href="#td1_00" x="153.7" y="570.4"/><use href="#td1_00" x="159.3" y="570.4"/><use href="#td1_00" x="164.9" y="570.4"/><use href="#td1_00" x="170.5" y="570.4"/><use href="#td1_00" x="176.1" y="570.4"/><use href="#td1_00" x="181.7" y="570.4"/><use href="#td1_00" x="187.3" y="570.4"/><use href="#td1_00" x="192.9" y="570.4"/><use href="#td1_00" x="198.5" y="570.4"/><use href="#td1_00" x="204.1" y="570.4"/><use href="#td1_00" x="209.7" y="570.4"/><use href="#td1_00" x="215.3" y="570.4"/><use href="#td1_00" x="220.9" y="570.4"/><use href="#td1_00" x="226.5" y="570.4"/><use href="#td1_00" x="232.1" y="570.4"/><use href="#td1_00" x="237.7" y="570.4"/><use href="#td1_00" x="243.3" y="570.4"/><use href="#td1_00" x="248.9" y="570.4"/><use href="#td1_00" x="254.5" y="570.4"/></g>
<path d="M30.5 588.4 32 588.4 33.5 588.4 35 588.4 36.5 588.4 38 588.4 39.5 588.4 41 588.4 42.5 588.4 44 588.4 45.5 588.4 47 588.4 48.5 588.4 50 588.4 51.5 588.4 53 588.4 54.5 588.4 56 588.4 57.5 588.4 59 588.4 60.5 588.4 62 588.4 63.5 588.4 65 588.4 66.5 588.4 68 588.4 69.5 588.4 71 588.4 72.5 588.4 74 588.4 75.5 588.4 77 588.4 78.5 588.4 80 588.4 81.5 588.4 83 588.4 84.5 588.4 86 588.4 87.5 588.4 89 588.4 90.5 588.4 92 588.4 93.5 588.4 95 588.4 96.5 588.4 98 588.4 99.5 588.4 101 588.4 102.5 588.4 104 588.4 105.5 588.4 107 588.4 108.5 588.4 110 588.4 111.5 588.4 113 588.4 114.5 588.4 116 588.4 117.5 588.4 119 588.4 120.5 588.4 122 588.4 123.5 588.4 125 588.4 126.5 588.4 128 588.4 129.5 588.4 131 588.4 132.5 588.4 134 588.4 135.5 588.4 137 588.4 138.5 588.4 140 588.4 141.5 588.4 143 588.4 144.5 588.4 146 588.4 147.5 588.4 149 588.4 150.5 588.4 152 588.4 153.5 588.4 155 588.4 156.5 588.4 158 588.4 159.5 588.4 161 588.4 162.5 588.4 164 588.4 165.5 588.4 167 588.4 168.5 588.4 170 588.4 171.5 588.4 173 588.4 174.5 588.4 176 588.4 177.5 588.4 179 588.4 180.5 588.4 182 588.4 183.5 588.4 185 588.4 186.5 588.4 188 588.4 189.5 588.4 191 588.4 192.5 588.4 194 588.4 195.5 588.4 197 588.4 198.5 588.4 200 588.4 201.5 588.4 203 588.4 204.5 588.4 206 588.4 207.5 588.4 209 588.4 210.5 588.4 212 588.4 213.5 588.4 215 588.4 216.5 588.4 218 588.4 219.5 588.4 221 588.4 222.5 588.4 224 588.4 225.5 588.4 227 588.4 228.5 588.4 230 588.4 231.5 588.4 233 588.4 234.5 588.4 236 588.4 237.5 588.4 239 588.4 240.5 588.4 242 588.4 243.5 588.4 245 588.4 246.5 588.4 248 588.4 249.5 588.4 251 588.4 252.5 588.4 254 588.4 254.5 588.4" fill="none" stroke="#00ff00" stroke-width="1.3" stroke-linejoin="round"/><g fill="#00ff00"><use href="#cl1_00" x="30.5" y="588.4"/><use href="#cl1_00" x="36.1" y="588.4"/><use href="#cl1_00" x="41.7" y="588.4"/><use href="#cl1_00" x="47.3" y="588.4"/><use href="#cl1_00" x="52.9" y="588.4"/><use href="#cl1_00" x="58.5" y="588.4"/><use href="#cl1_00" x="64.1" y="588.4"/><use href="#cl1_00" x="69.7" y="588.4"/><use href="#cl1_00" x="75.3" y="588.4"/><use href="#cl1_00" x="80.9" y="588.4"/><use href="#cl1_00" x="86.5" y="588.4"/><use href="#cl1_00" x="92.1" y="588.4"/><use href="#cl1_00" x="97.7" y="588.4"/><use href="#cl1_00" x="103.3" y="588.4"/><use href="#cl1_00" x="108.9" y="588.4"/><use href="#cl1_00" x="114.5" y="588.4"/><use href="#cl1_00" x="120.1" y="588.4"/><use href="#cl1_00" x="125.7" y="588.4"/><use href="#cl1_00" x="131.3" y="588.4"/><use href="#cl1_00" x="136.9" y="588.4"/><use href="#cl1_00" x="142.5" y="588.4"/><use href="#cl1_00" x="148.1" y="588.4"/><use href="#cl1_00" x="153.7" y="588.4"/><use href="#cl1_00" x="159.3" y="588.4"/><use href="#cl1_00" x="164.9" y="588.4"/><use href="#cl1_00" x="170.5" y="588.4"/><use href="#cl1_00" x="176.1" y="588.4"/><use href="#cl1_00" x="181.7" y="588.4"/><use href="#cl1_00" x="187.3" y="588.4"/><use href="#cl1_00" x="192.9" y="588.4"/><use href="#cl1_00" x="198.5" y="588.4"/><use href="#cl1_00" x="204.1" y="588.4"/><use href="#cl1_00" x="209.7" y="588.4"/><use href="#cl1_00" x="215.3" y="588.4"/><use href="#cl1_00" x="220.9" y="588.4"/><use href="#cl1_00" x="226.5" y="588.4"/><use href="#cl1_00" x="232.1" y="588.4"/><use href="#cl1_00" x="237.7" y="588.4"/><use href="#cl1_00" x="243.3" y="588.4"/><use href="#cl1_00" x="248.9" y="588.4"/><use href="#cl1_00" x="254.5" y="588.4"/></g>
<path d="M30.5 669.3 32 669.3 33.5 669.3 35 669.3 36.5 669.3 38 669.3 39.5 669.3 41 669.3 42.5 669.3 44 669.3 45.5 669.3 47 669.3 48.5 669.3 50 669.3 51.5 669.3 53 669.3 54.5 669.3 56 669.3 57.5 669.3 59 669.3 60.5 669.3 62 669.3 63.5 669.3 65 669.3 66.5 669.3 68 669.3 69.5 669.3 71 669.3 72.5 669.3 74 669.3 75.5 669.3 77 669.3 78.5 669.3 80 669.3 81.5 669.3 83 669.3 84.5 669.3 86 669.3 87.5 669.3 89 669.3 90.5 669.3 92 669.3 93.5 669.3 95 669.3 96.5 669.3 98 669.3 99.5 669.3 101 669.3 102.5 669.3 104 669.3 105.5 669.3 107 669.3 108.5 669.3 110 669.3 111.5 669.3 113 669.3 114.5 669.3 116 669.3 117.5 669.3 119 669.3 120.5 669.3 122 669.3 123.5 669.3 125 669.3 126.5 669.3 128 669.3 129.5 669.3 131 669.3 132.5 669.3 134 669.3 135.5 669.3 137 669.3 138.5 669.3 140 669.3 141.5 669.3 143 669.3 144.5 669.3 146 669.3 147.5 669.3 149 669.3 150.5 669.3 152 669.3 153.5 669.3 155 669.3 156.5 669.3 158 669.3 159.5 669.3 161 669.3 162.5 669.3 164 669.3 165.5 669.3 167 669.3 168.5 669.3 170 669.3 171.5 669.3 173 669.3 174.5 669.3 176 669.3 177.5 669.3 179 669.3 180.5 669.3 182 669.3 183.5 669.3 185 669.3 186.5 669.3 188 669.3 189.5 669.3 191 669.3 192.5 669.3 194 669.3 195.5 669.3 197 669.3 198.5 669.3 200 669.3 201.5 669.3 203 669.3 204.5 669.3 206 669.3 207.5 669.3 209 669.3 210.5 669.3 212 669.3 213.5 669.3 215 669.3 216.5 669.3 218 669.3 219.5 669.3 221 669.3 222.5 669.3 224 669.3 225.5 669.3 227 669.3 228.5 669.3 230 669.3 231.5 669.3 233 669.3 234.5 669.3 236 669.3 237.5 669.3 239 669.3 240.5 669.3 242 669.3 243.5 669.3 245 669.3 246.5 669.3 248 669.3 249.5 669.3 251 669.3 252.5 669.3 254 669.3 254.5 669.3" fill="none" stroke="#800080" stroke-width="1.3" stroke-linejoin="round"/><g fill="#800080"><use href="#sq1_00" x="30.5" y="669.3"/><use href="#sq1_00" x="36.1" y="669.3"/><use href="#sq1_00" x="41.7" y="669.3"/><use href="#sq1_00" x="47.3" y="669.3"/><use href="#sq1_00" x="52.9" y="669.3"/><use href="#sq1_00" x="58.5" y="669.3"/><use href="#sq1_00" x="64.1" y="669.3"/><use href="#sq1_00" x="69.7" y="669.3"/><use href="#sq1_00" x="75.3" y="669.3"/><use href="#sq1_00" x="80.9" y="669.3"/><use href="#sq1_00" x="86.5" y="669.3"/><use href="#sq1_00" x="92.1" y="669.3"/><use href="#sq1_00" x="97.7" y="669.3"/><use href="#sq1_00" x="103.3" y="669.3"/><use href="#sq1_00" x="108.9" y="669.3"/><use href="#sq1_00" x="114.5" y="669.3"/><use href="#sq1_00" x="120.1" y="669.3"/><use href="#sq1_00" x="125.7" y="669.3"/><use href="#sq1_00" x="131.3" y="669.3"/><use href="#sq1_00" x="136.9" y="669.3"/><use href="#sq1_00" x="142.5" y="669.3"/><use href="#sq1_00" x="148.1" y="669.3"/><use href="#sq1_00" x="153.7" y="669.3"/><use href="#sq1_00" x="159.3" y="669.3"/><use href="#sq1_00" x="164.9" y="669.3"/><use href="#sq1_00" x="170.5" y="669.3"/><use href="#sq1_00" x="176.1" y="669.3"/><use href="#sq1_00" x="181.7" y="669.3"/><use href="#sq1_00" x="187.3" y="669.3"/><use href="#sq1_00" x="192.9" y="669.3"/><use href="#sq1_00" x="198.5" y="669.3"/><use href="#sq1_00" x="204.1" y="669.3"/><use href="#sq1_00" x="209.7" y="669.3"/><use href="#sq1_00" x="215.3" y="669.3"/><use href="#sq1_00" x="220.9" y="669.3"/><use href="#sq1_00" x="226.5" y="669.3"/><use href="#sq1_00" x="232.1" y="669.3"/><use href="#sq1_00" x="237.7" y="669.3"/><use href="#sq1_00" x="243.3" y="669.3"/><use href="#sq1_00" x="248.9" y="669.3"/><use href="#sq1_00" x="254.5" y="669.3"/></g>
<path d="M30.5 594.2 32 594.2 33.5 594.2 35 594.2 36.5 594.2 38 594.2 39.5 594.2 41 594.2 42.5 594.2 44 594.2 45.5 594.2 47 594.2 48.5 594.2 50 594.2 51.5 594.2 53 594.2 54.5 594.2 56 594.2 57.5 594.2 59 594.2 60.5 594.2 62 594.2 63.5 594.2 65 594.2 66.5 594.2 68 594.2 69.5 594.2 71 594.2 72.5 594.2 74 594.2 75.5 594.2 77 594.2 78.5 594.2 80 594.2 81.5 594.2 83 594.2 84.5 594.2 86 594.2 87.5 594.2 89 594.2 90.5 594.2 92 594.2 93.5 594.2 95 594.2 96.5 594.2 98 594.2 99.5 594.2 101 594.2 102.5 594.2 104 594.2 105.5 594.2 107 594.2 108.5 594.2 110 594.2 111.5 594.2 113 594.2 114.5 594.2 116 594.2 117.5 594.2 119 594.2 120.5 594.2 122 594.2 123.5 594.2 125 594.2 126.5 594.2 128 594.2 129.5 594.2 131 594.2 132.5 594.2 134 594.2 135.5 594.2 137 594.2 138.5 594.2 140 594.2 141.5 594.2 143 594.2 144.5 594.2 146 594.2 147.5 594.2 149 594.2 150.5 594.2 152 594.2 153.5 594.2 155 594.2 156.5 594.2 158 594.2 159.5 594.2 161 594.2 162.5 594.2 164 594.2 165.5 594.2 167 594.2 168.5 594.2 170 594.2 171.5 594.2 173 594.2 174.5 594.2 176 594.2 177.5 594.2 179 594.2 180.5 594.2 182 594.2 183.5 594.2 185 594.2 186.5 594.2 188 594.2 189.5 594.2 191 594.2 192.5 594.2 194 594.2 195.5 594.2 197 594.2 198.5 594.2 200 594.2 201.5 594.2 203 594.2 204.5 594.2 206 594.2 207.5 594.2 209 594.2 210.5 594.2 212 594.2 213.5 594.2 215 594.2 216.5 594.2 218 594.2 219.5 594.2 221 594.2 222.5 594.2 224 594.2 225.5 594.2 227 594.2 228.5 594.2 230 594.2 231.5 594.2 233 594.2 234.5 594.2 236 594.2 237.5 594.2 239 594.2 240.5 594.2 242 594.2 243.5 594.2 245 594.2 246.5 594.2 248 594.2 249.5 594.2 251 594.2 252.5 594.2 254 594.2 254.5 594.2" fill="none" stroke="#ff00ff" stroke-width="1.3" stroke-linejoin="round"/><g fill="#ff00ff"><use href="#td1_00" x="30.5" y="594.2"/><use href="#td1_00" x="36.1" y="594.2"/><use href="#td1_00" x="41.7" y="594.2"/><use href="#td1_00" x="47.3" y="594.2"/><use href="#td1_00" x="52.9" y="594.2"/><use href="#td1_00" x="58.5" y="594.2"/><use href="#td1_00" x="64.1" y="594.2"/><use href="#td1_00" x="69.7" y="594.2"/><use href="#td1_00" x="75.3" y="594.2"/><use href="#td1_00" x="80.9" y="594.2"/><use href="#td1_00" x="86.5" y="594.2"/><use href="#td1_00" x="92.1" y="594.2"/><use href="#td1_00" x="97.7" y="594.2"/><use href="#td1_00" x="103.3" y="594.2"/><use href="#td1_00" x="108.9" y="594.2"/><use href="#td1_00" x="114.5" y="594.2"/><use href="#td1_00" x="120.1" y="594.2"/><use href="#td1_00" x="125.7" y="594.2"/><use href="#td1_00" x="131.3" y="594.2"/><use href="#td1_00" x="136.9" y="594.2"/><use href="#td1_00" x="142.5" y="594.2"/><use href="#td1_00" x="148.1" y="594.2"/><use href="#td1_00" x="153.7" y="594.2"/><use href="#td1_00" x="159.3" y="594.2"/><use href="#td1_00" x="164.9" y="594.2"/><use href="#td1_00" x="170.5" y="594.2"/><use href="#td1_00" x="176.1" y="594.2"/><use href="#td1_00" x="181.7" y="594.2"/><use href="#td1_00" x="187.3" y="594.2"/><use href="#td1_00" x="192.9" y="594.2"/><use href="#td1_00" x="198.5" y="594.2"/><use href="#td1_00" x="204.1" y="594.2"/><use href="#td1_00" x="209.7" y="594.2"/><use href="#td1_00" x="215.3" y="594.2"/><use href="#td1_00" x="220.9" y="594.2"/><use href="#td1_00" x="226.5" y="594.2"/><use href="#td1_00" x="232.1" y="594.2"/><use href="#td1_00" x="237.7" y="594.2"/><use href="#td1_00" x="243.3" y="594.2"/><use href="#td1_00" x="248.9" y="594.2"/><use href="#td1_00" x="254.5" y="594.2"/></g>
<text x="245.5" y="605.1" font-family="Liberation Sans" font-size="8.5" fill="#111" text-anchor="middle">y1</text>
<rect x="41.8" y="596.6" width="43.8" height="90" fill="#fff" stroke="#444" stroke-width="1.1"/>
<rect x="47.3" y="603.3" width="4.1" height="4.1" fill="#000000"/>
<text x="66.3" y="608.3" font-family="Liberation Sans" font-size="9.5" fill="#111" text-anchor="middle" font-style="italic">q</text>
<circle cx="49.3" cy="614.4" r="2.9" fill="#ff0000"/>
<text x="66.3" y="617.4" font-family="Liberation Mono" font-size="8" fill="#ff2020" text-anchor="middle" font-style="italic" font-weight="bold">m</text>
<path d="M49.3 620.4L52 625.3L46.6 625.3Z" fill="#7f7f7f"/>
<text x="66.3" y="623.8" font-family="Liberation Sans" font-size="5.2" fill="#b8b8b8" text-anchor="middle" font-style="italic">γ (P−W)</text>
<path d="M55.3 625.2H77.3" stroke="#c8c8c8" stroke-width="0.6"/>
<text x="66.3" y="630.4" font-family="Liberation Sans" font-size="5.2" fill="#b8b8b8" text-anchor="middle" font-style="italic">n</text>
<path d="M49.3 630.7L50.2 632.9L52.7 633.1L50.8 634.7L51.4 637.1L49.3 635.8L47.2 637.1L47.8 634.7L45.9 633.1L48.4 632.9Z" fill="#00ffff"/>
<text x="66.3" y="637.2" font-family="Liberation Sans" font-size="9.5" fill="#20e0e0" text-anchor="middle" font-style="italic">c</text>
<path d="M49.3 640.6L52.3 643.6L49.3 646.6L46.3 643.6Z" fill="#ff7f00"/>
<text x="66.3" y="646.6" font-family="Liberation Mono" font-size="8.5" fill="#f0a040" text-anchor="middle" font-style="italic">o−q</text>
<path d="M49.3 654.5L52.1 649.4L46.4 649.4Z" fill="#0000ff"/>
<text x="66.3" y="654.5" font-family="Liberation Mono" font-size="9" fill="#3030ff" text-anchor="middle" font-style="italic" font-weight="bold">L<tspan font-size="6.5" dy="2">q</tspan></text>
<path d="M49.3 657L52.4 660.1L49.3 663.2L46.2 660.1Z" fill="#00ff00"/>
<text x="66.3" y="663.1" font-family="Liberation Mono" font-size="9" fill="#20e020" text-anchor="middle" font-style="italic" font-weight="bold">L<tspan font-size="6.5" dy="2">m</tspan></text>
<rect x="47.3" y="666.8" width="4.1" height="4.1" fill="#800080"/>
<text x="66.3" y="671.8" font-family="Liberation Mono" font-size="9" fill="#a02090" text-anchor="middle" font-weight="bold">10φ</text>
<path d="M49.3 681.2L52.1 676.1L46.4 676.1Z" fill="#ff00ff"/>
<text x="66.3" y="681.2" font-family="Liberation Sans" font-size="9.5" fill="#ff20ff" text-anchor="middle" font-style="italic">u</text>

</g>
<clipPath id="cy2"><rect x="271.5" y="560" width="273.5" height="143"/></clipPath>
<g clip-path="url(#cy2)">
<path d="M308.7 687.2H528.4M308.7 652.9H528.4M308.7 618.6H528.4M308.7 584.3H528.4M352.4 562V702M396.4 562V702M440.4 562V702M484.4 562V702M528.4 562V702" stroke="#f1f1f1" stroke-width="1" fill="none"/>
<path d="M506.8 560V703" stroke="#3a3a3a" stroke-width="1.4" stroke-dasharray="2.6,4.0" stroke-dashoffset="-2.6" fill="none"/>
<path d="M308.7 562V702M308.7 687.2H528.4" stroke="#e0e0e0" stroke-width="0.8" fill="none"/>
<path d="M308.7 687.2H311.2M308.7 652.9H311.2M308.7 618.6H311.2M308.7 584.3H311.2M352.4 687.2V684.7M396.4 687.2V684.7M440.4 687.2V684.7M484.4 687.2V684.7M528.4 687.2V684.7" stroke="#b0b0b0" stroke-width="0.7" fill="none"/>
<text x="306" y="690.1" font-family="Liberation Sans" font-size="8.2" fill="#222" text-anchor="end" textLength="4.3" lengthAdjust="spacingAndGlyphs">0</text>
<text x="306" y="655.8" font-family="Liberation Sans" font-size="8.2" fill="#222" text-anchor="end" textLength="17.4" lengthAdjust="spacingAndGlyphs">5000</text>
<text x="306" y="621.5" font-family="Liberation Sans" font-size="8.2" fill="#222" text-anchor="end" textLength="22.4" lengthAdjust="spacingAndGlyphs">10 000</text>
<text x="306" y="587.2" font-family="Liberation Sans" font-size="8.2" fill="#222" text-anchor="end" textLength="22.4" lengthAdjust="spacingAndGlyphs">15 000</text>
<text x="352.4" y="697.3" font-family="Liberation Sans" font-size="8.2" fill="#222" text-anchor="middle" textLength="10.7" lengthAdjust="spacingAndGlyphs">0.2</text>
<text x="396.4" y="697.3" font-family="Liberation Sans" font-size="8.2" fill="#222" text-anchor="middle" textLength="10.7" lengthAdjust="spacingAndGlyphs">0.4</text>
<text x="440.4" y="697.3" font-family="Liberation Sans" font-size="8.2" fill="#222" text-anchor="middle" textLength="10.7" lengthAdjust="spacingAndGlyphs">0.6</text>
<text x="484.4" y="697.3" font-family="Liberation Sans" font-size="8.2" fill="#222" text-anchor="middle" textLength="10.7" lengthAdjust="spacingAndGlyphs">0.8</text>
<text x="528.4" y="697.3" font-family="Liberation Sans" font-size="8.2" fill="#222" text-anchor="middle" textLength="10.7" lengthAdjust="spacingAndGlyphs">1.0</text>
<text x="503" y="696.4" font-family="Liberation Sans" font-size="9" fill="#222" text-anchor="start" font-style="italic">ρ<tspan font-size="6.5" dy="1.2" font-style="normal">QL</tspan></text>
<path d="M308.7 583.8 310.2 583.8 311.7 583.8 313.2 583.8 314.7 583.8 316.2 583.8 317.7 583.8 319.2 583.8 320.7 583.8 322.2 583.8 323.7 583.8 325.2 583.8 326.7 583.8 328.2 583.8 329.7 583.8 331.2 583.8 332.7 583.8 334.2 583.8 335.7 583.8 337.2 583.8 338.7 583.8 340.2 583.8 341.7 583.8 343.2 583.8 344.7 583.8 346.2 583.8 347.7 583.8 349.2 583.8 350.7 583.8 352.2 583.8 353.7 583.8 355.2 583.8 356.7 583.8 358.2 583.8 359.7 583.8 361.2 583.8 362.7 583.8 364.2 583.8 365.7 583.8 367.2 583.8 368.7 583.8 370.2 583.8 371.7 583.8 373.2 583.8 374.7 583.8 376.2 583.8 377.7 583.8 379.2 583.8 380.7 583.8 382.2 583.8 383.7 583.8 385.2 583.8 386.7 583.8 388.2 583.8 389.7 583.8 391.2 583.8 392.7 583.8 394.2 583.8 395.7 583.8 397.2 583.8 398.7 583.8 400.2 583.8 401.7 583.8 403.2 583.8 404.7 583.8 406.2 583.8 407.7 583.8 409.2 583.8 410.7 583.8 412.2 583.8 413.7 583.8 415.2 583.8 416.7 583.8 418.2 583.8 419.7 583.8 421.2 583.8 422.7 583.8 424.2 583.8 425.7 583.8 427.2 583.8 428.7 583.8 430.2 583.8 431.7 583.8 433.2 583.8 434.7 583.8 436.2 583.8 437.7 583.8 439.2 583.8 440.7 583.8 442.2 583.8 443.7 583.8 445.2 583.8 446.7 583.8 448.2 583.8 449.7 583.8 451.2 583.8 452.7 583.8 454.2 583.8 455.7 583.8 457.2 583.8 458.7 583.8 460.2 583.8 461.7 583.8 463.2 583.8 464.7 583.8 466.2 583.8 467.7 583.8 469.2 583.8 470.7 583.8 472.2 583.8 473.7 583.8 475.2 583.8 476.7 583.8 478.2 583.8 479.7 583.8 481.2 583.8 482.7 583.8 484.2 583.8 485.7 583.8 487.2 583.8 488.7 583.8 490.2 583.8 491.7 583.8 493.2 583.8 494.7 583.8 496.2 583.8 497.7 583.8 499.2 583.8 500.7 583.8 502.2 583.8 503.7 583.8 505.2 583.8 506.7 583.8 508.2 583.8 509.7 583.8 511.2 583.8 512.7 583.8 514.2 583.8 515.7 583.8 517.2 583.8 518.7 583.8 520.2 583.8 521.7 583.8 523.2 583.8 524.7 583.8 526.2 583.8 527.7 583.8 528.4 583.8" fill="none" stroke="#000000" stroke-width="1.5" stroke-linejoin="round"/><g fill="none" stroke="#000000" stroke-width="0.7" stroke-opacity="0.55"><use href="#sq0_80" x="308.7" y="583.8"/><use href="#sq0_80" x="314.2" y="583.8"/><use href="#sq0_80" x="319.7" y="583.8"/><use href="#sq0_80" x="325.2" y="583.8"/><use href="#sq0_80" x="330.7" y="583.8"/><use href="#sq0_80" x="336.2" y="583.8"/><use href="#sq0_80" x="341.7" y="583.8"/><use href="#sq0_80" x="347.1" y="583.8"/><use href="#sq0_80" x="352.6" y="583.8"/><use href="#sq0_80" x="358.1" y="583.8"/><use href="#sq0_80" x="363.6" y="583.8"/><use href="#sq0_80" x="369.1" y="583.8"/><use href="#sq0_80" x="374.6" y="583.8"/><use href="#sq0_80" x="380.1" y="583.8"/><use href="#sq0_80" x="385.6" y="583.8"/><use href="#sq0_80" x="391.1" y="583.8"/><use href="#sq0_80" x="396.6" y="583.8"/><use href="#sq0_80" x="402.1" y="583.8"/><use href="#sq0_80" x="407.6" y="583.8"/><use href="#sq0_80" x="413.1" y="583.8"/><use href="#sq0_80" x="418.5" y="583.8"/><use href="#sq0_80" x="424" y="583.8"/><use href="#sq0_80" x="429.5" y="583.8"/><use href="#sq0_80" x="435" y="583.8"/><use href="#sq0_80" x="440.5" y="583.8"/><use href="#sq0_80" x="446" y="583.8"/><use href="#sq0_80" x="451.5" y="583.8"/><use href="#sq0_80" x="457" y="583.8"/><use href="#sq0_80" x="462.5" y="583.8"/><use href="#sq0_80" x="468" y="583.8"/><use href="#sq0_80" x="473.5" y="583.8"/><use href="#sq0_80" x="479" y="583.8"/><use href="#sq0_80" x="484.5" y="583.8"/><use href="#sq0_80" x="490" y="583.8"/><use href="#sq0_80" x="495.4" y="583.8"/><use href="#sq0_80" x="500.9" y="583.8"/><use href="#sq0_80" x="506.4" y="583.8"/><use href="#sq0_80" x="511.9" y="583.8"/><use href="#sq0_80" x="517.4" y="583.8"/><use href="#sq0_80" x="522.9" y="583.8"/><use href="#sq0_80" x="528.4" y="583.8"/></g>
<path d="M308.7 601 310.2 601 311.7 601 313.2 601 314.7 601 316.2 601 317.7 601 319.2 601 320.7 601 322.2 601 323.7 601 325.2 601 326.7 601 328.2 601 329.7 601 331.2 601 332.7 601 334.2 601 335.7 601 337.2 601 338.7 601 340.2 601 341.7 601 343.2 601 344.7 601 346.2 601 347.7 601 349.2 601 350.7 601 352.2 601 353.7 601 355.2 601 356.7 601 358.2 601 359.7 601 361.2 601 362.7 601 364.2 601 365.7 601 367.2 601 368.7 601 370.2 601 371.7 601 373.2 601 374.7 601 376.2 601 377.7 601 379.2 601 380.7 601 382.2 601 383.7 601 385.2 601 386.7 601 388.2 601 389.7 601 391.2 601 392.7 601 394.2 601 395.7 601 397.2 601 398.7 601 400.2 601 401.7 601 403.2 601 404.7 601 406.2 601 407.7 601 409.2 601 410.7 601 412.2 601 413.7 601 415.2 601 416.7 601 418.2 601 419.7 601 421.2 601 422.7 601 424.2 601 425.7 601 427.2 601 428.7 601 430.2 601 431.7 601 433.2 601 434.7 601 436.2 601 437.7 601 439.2 601 440.7 601 442.2 601 443.7 601 445.2 601 446.7 601 448.2 601 449.7 601 451.2 601 452.7 601 454.2 601 455.7 601 457.2 601 458.7 601 460.2 601 461.7 601 463.2 601 464.7 601 466.2 601 467.7 601 469.2 601 470.7 601 472.2 601 473.7 601 475.2 601 476.7 601 478.2 601 479.7 601 481.2 601 482.7 601 484.2 601 485.7 601 487.2 601 488.7 601 490.2 601 491.7 601 493.2 601 494.7 601 496.2 601 497.7 601 499.2 601 500.7 601 502.2 601 503.7 601 505.2 601 506.7 601 508.2 601 509.7 601 511.2 601 512.7 601 514.2 601 515.7 601 517.2 601 518.7 601 520.2 601 521.7 601 523.2 601 524.7 601 526.2 601 527.7 601 528.4 601" fill="none" stroke="#ff0000" stroke-width="1.5" stroke-linejoin="round"/><g fill="none" stroke="#ff0000" stroke-width="0.7" stroke-opacity="0.55"><use href="#ci0_80" x="308.7" y="603.2"/><use href="#ci0_80" x="314.2" y="603.2"/><use href="#ci0_80" x="319.7" y="603.2"/><use href="#ci0_80" x="325.2" y="603.2"/><use href="#ci0_80" x="330.7" y="603.2"/><use href="#ci0_80" x="336.2" y="603.2"/><use href="#ci0_80" x="341.7" y="603.2"/><use href="#ci0_80" x="347.1" y="603.2"/><use href="#ci0_80" x="352.6" y="603.2"/><use href="#ci0_80" x="358.1" y="603.2"/><use href="#ci0_80" x="363.6" y="603.2"/><use href="#ci0_80" x="369.1" y="603.2"/><use href="#ci0_80" x="374.6" y="603.2"/><use href="#ci0_80" x="380.1" y="603.2"/><use href="#ci0_80" x="385.6" y="603.2"/><use href="#ci0_80" x="391.1" y="603.2"/><use href="#ci0_80" x="396.6" y="603.2"/><use href="#ci0_80" x="402.1" y="603.2"/><use href="#ci0_80" x="407.6" y="603.2"/><use href="#ci0_80" x="413.1" y="603.2"/><use href="#ci0_80" x="418.5" y="603.2"/><use href="#ci0_80" x="424" y="603.2"/><use href="#ci0_80" x="429.5" y="603.2"/><use href="#ci0_80" x="435" y="603.2"/><use href="#ci0_80" x="440.5" y="603.2"/><use href="#ci0_80" x="446" y="603.2"/><use href="#ci0_80" x="451.5" y="603.2"/><use href="#ci0_80" x="457" y="603.2"/><use href="#ci0_80" x="462.5" y="603.2"/><use href="#ci0_80" x="468" y="603.2"/><use href="#ci0_80" x="473.5" y="603.2"/><use href="#ci0_80" x="479" y="603.2"/><use href="#ci0_80" x="484.5" y="603.2"/><use href="#ci0_80" x="490" y="603.2"/><use href="#ci0_80" x="495.4" y="603.2"/><use href="#ci0_80" x="500.9" y="603.2"/><use href="#ci0_80" x="506.4" y="603.2"/><use href="#ci0_80" x="511.9" y="603.2"/><use href="#ci0_80" x="517.4" y="603.2"/><use href="#ci0_80" x="522.9" y="603.2"/><use href="#ci0_80" x="528.4" y="603.2"/></g>
<path d="M308.7 687.2 310.2 687.2 311.7 687.2 313.2 687.2 314.7 687.2 316.2 687.2 317.7 687.2 319.2 687.2 320.7 687.2 322.2 687.2 323.7 687.2 325.2 687.2 326.7 687.2 328.2 687.2 329.7 687.2 331.2 687.2 332.7 687.2 334.2 687.2 335.7 687.2 337.2 687.2 338.7 687.2 340.2 687.2 341.7 687.2 343.2 687.2 344.7 687.2 346.2 687.2 347.7 687.2 349.2 687.2 350.7 687.2 352.2 687.2 353.7 687.2 355.2 687.2 356.7 687.2 358.2 687.2 359.7 687.2 361.2 687.2 362.7 687.2 364.2 687.2 365.7 687.2 367.2 687.2 368.7 687.2 370.2 687.2 371.7 687.2 373.2 687.2 374.7 687.2 376.2 687.2 377.7 687.2 379.2 687.2 380.7 687.2 382.2 687.2 383.7 687.2 385.2 687.2 386.7 687.2 388.2 687.2 389.7 687.2 391.2 687.2 392.7 687.2 394.2 687.2 395.7 687.2 397.2 687.2 398.7 687.2 400.2 687.2 401.7 687.2 403.2 687.2 404.7 687.2 406.2 687.2 407.7 687.2 409.2 687.2 410.7 687.2 412.2 687.2 413.7 687.2 415.2 687.2 416.7 687.2 418.2 687.2 419.7 687.2 421.2 687.2 422.7 687.2 424.2 687.2 425.7 687.2 427.2 687.2 428.7 687.2 430.2 687.2 431.7 687.2 433.2 687.2 434.7 687.2 436.2 687.2 437.7 687.2 439.2 687.2 440.7 687.2 442.2 687.2 443.7 687.2 445.2 687.2 446.7 687.2 448.2 687.2 449.7 687.2 451.2 687.2 452.7 687.2 454.2 687.2 455.7 687.2 457.2 687.2 458.7 687.2 460.2 687.2 461.7 687.2 463.2 687.2 464.7 687.2 466.2 687.2 467.7 687.2 469.2 687.2 470.7 687.2 472.2 687.2 473.7 687.2 475.2 687.2 476.7 687.2 478.2 687.2 479.7 687.2 481.2 687.2 482.7 687.2 484.2 687.2 485.7 687.2 487.2 687.2 488.7 687.2 490.2 687.2 491.7 687.2 493.2 687.2 494.7 687.2 496.2 687.2 497.7 687.2 499.2 687.2 500.7 687.2 502.2 687.2 503.7 687.2 505.2 687.2 506.7 687.2 508.2 687.2 509.7 687.2 511.2 687.2 512.7 687.2 514.2 687.2 515.7 687.2 517.2 687.2 518.7 687.2 520.2 687.2 521.7 687.2 523.2 687.2 524.7 687.2 526.2 687.2 527.7 687.2 528.4 687.2" fill="none" stroke="#7f7f7f" stroke-width="1.5" stroke-linejoin="round"/><g fill="none" stroke="#7f7f7f" stroke-width="0.7" stroke-opacity="0.55"><use href="#tu0_80" x="308.7" y="687.2"/><use href="#tu0_80" x="314.2" y="687.2"/><use href="#tu0_80" x="319.7" y="687.2"/><use href="#tu0_80" x="325.2" y="687.2"/><use href="#tu0_80" x="330.7" y="687.2"/><use href="#tu0_80" x="336.2" y="687.2"/><use href="#tu0_80" x="341.7" y="687.2"/><use href="#tu0_80" x="347.1" y="687.2"/><use href="#tu0_80" x="352.6" y="687.2"/><use href="#tu0_80" x="358.1" y="687.2"/><use href="#tu0_80" x="363.6" y="687.2"/><use href="#tu0_80" x="369.1" y="687.2"/><use href="#tu0_80" x="374.6" y="687.2"/><use href="#tu0_80" x="380.1" y="687.2"/><use href="#tu0_80" x="385.6" y="687.2"/><use href="#tu0_80" x="391.1" y="687.2"/><use href="#tu0_80" x="396.6" y="687.2"/><use href="#tu0_80" x="402.1" y="687.2"/><use href="#tu0_80" x="407.6" y="687.2"/><use href="#tu0_80" x="413.1" y="687.2"/><use href="#tu0_80" x="418.5" y="687.2"/><use href="#tu0_80" x="424" y="687.2"/><use href="#tu0_80" x="429.5" y="687.2"/><use href="#tu0_80" x="435" y="687.2"/><use href="#tu0_80" x="440.5" y="687.2"/><use href="#tu0_80" x="446" y="687.2"/><use href="#tu0_80" x="451.5" y="687.2"/><use href="#tu0_80" x="457" y="687.2"/><use href="#tu0_80" x="462.5" y="687.2"/><use href="#tu0_80" x="468" y="687.2"/><use href="#tu0_80" x="473.5" y="687.2"/><use href="#tu0_80" x="479" y="687.2"/><use href="#tu0_80" x="484.5" y="687.2"/><use href="#tu0_80" x="490" y="687.2"/><use href="#tu0_80" x="495.4" y="687.2"/><use href="#tu0_80" x="500.9" y="687.2"/><use href="#tu0_80" x="506.4" y="687.2"/><use href="#tu0_80" x="511.9" y="687.2"/><use href="#tu0_80" x="517.4" y="687.2"/><use href="#tu0_80" x="522.9" y="687.2"/><use href="#tu0_80" x="528.4" y="687.2"/></g>
<path d="M308.7 593.6 310.2 593.6 311.7 593.6 313.2 593.6 314.7 593.6 316.2 593.6 317.7 593.6 319.2 593.6 320.7 593.6 322.2 593.6 323.7 593.6 325.2 593.6 326.7 593.6 328.2 593.6 329.7 593.6 331.2 593.6 332.7 593.6 334.2 593.6 335.7 593.6 337.2 593.6 338.7 593.6 340.2 593.6 341.7 593.6 343.2 593.6 344.7 593.6 346.2 593.6 347.7 593.6 349.2 593.6 350.7 593.6 352.2 593.6 353.7 593.6 355.2 593.6 356.7 593.6 358.2 593.6 359.7 593.6 361.2 593.6 362.7 593.6 364.2 593.6 365.7 593.6 367.2 593.6 368.7 593.6 370.2 593.6 371.7 593.6 373.2 593.6 374.7 593.6 376.2 593.6 377.7 593.6 379.2 593.6 380.7 593.6 382.2 593.6 383.7 593.6 385.2 593.6 386.7 593.6 388.2 593.6 389.7 593.6 391.2 593.6 392.7 593.6 394.2 593.6 395.7 593.6 397.2 593.6 398.7 593.6 400.2 593.6 401.7 593.6 403.2 593.6 404.7 593.6 406.2 593.6 407.7 593.6 409.2 593.6 410.7 593.6 412.2 593.6 413.7 593.6 415.2 593.6 416.7 593.6 418.2 593.6 419.7 593.6 421.2 593.6 422.7 593.6 424.2 593.6 425.7 593.6 427.2 593.6 428.7 593.6 430.2 593.6 431.7 593.6 433.2 593.6 434.7 593.6 436.2 593.6 437.7 593.6 439.2 593.6 440.7 593.6 442.2 593.6 443.7 593.6 445.2 593.6 446.7 593.6 448.2 593.6 449.7 593.6 451.2 593.6 452.7 593.6 454.2 593.6 455.7 593.6 457.2 593.6 458.7 593.6 460.2 593.6 461.7 593.6 463.2 593.6 464.7 593.6 466.2 593.6 467.7 593.6 469.2 593.6 470.7 593.6 472.2 593.6 473.7 593.6 475.2 593.6 476.7 593.6 478.2 593.6 479.7 593.6 481.2 593.6 482.7 593.6 484.2 593.6 485.7 593.6 487.2 593.6 488.7 593.6 490.2 593.6 491.7 593.6 493.2 593.6 494.7 593.6 496.2 593.6 497.7 593.6 499.2 593.6 500.7 593.6 502.2 593.6 503.7 593.6 505.2 593.6 506.7 593.6 508.2 593.6 509.7 593.6 511.2 593.6 512.7 593.6 514.2 593.6 515.7 593.6 517.2 593.6 518.7 593.6 520.2 593.6 521.7 593.6 523.2 593.6 524.7 593.6 526.2 593.6 527.7 593.6 528.4 593.6" fill="none" stroke="#ff8c00" stroke-width="1.5" stroke-linejoin="round"/><g fill="none" stroke="#ff8c00" stroke-width="0.7" stroke-opacity="0.55"><use href="#di0_80" x="308.7" y="596.1"/><use href="#di0_80" x="314.2" y="596.1"/><use href="#di0_80" x="319.7" y="596.1"/><use href="#di0_80" x="325.2" y="596.1"/><use href="#di0_80" x="330.7" y="596.1"/><use href="#di0_80" x="336.2" y="596.1"/><use href="#di0_80" x="341.7" y="596.1"/><use href="#di0_80" x="347.1" y="596.1"/><use href="#di0_80" x="352.6" y="596.1"/><use href="#di0_80" x="358.1" y="596.1"/><use href="#di0_80" x="363.6" y="596.1"/><use href="#di0_80" x="369.1" y="596.1"/><use href="#di0_80" x="374.6" y="596.1"/><use href="#di0_80" x="380.1" y="596.1"/><use href="#di0_80" x="385.6" y="596.1"/><use href="#di0_80" x="391.1" y="596.1"/><use href="#di0_80" x="396.6" y="596.1"/><use href="#di0_80" x="402.1" y="596.1"/><use href="#di0_80" x="407.6" y="596.1"/><use href="#di0_80" x="413.1" y="596.1"/><use href="#di0_80" x="418.5" y="596.1"/><use href="#di0_80" x="424" y="596.1"/><use href="#di0_80" x="429.5" y="596.1"/><use href="#di0_80" x="435" y="596.1"/><use href="#di0_80" x="440.5" y="596.1"/><use href="#di0_80" x="446" y="596.1"/><use href="#di0_80" x="451.5" y="596.1"/><use href="#di0_80" x="457" y="596.1"/><use href="#di0_80" x="462.5" y="596.1"/><use href="#di0_80" x="468" y="596.1"/><use href="#di0_80" x="473.5" y="596.1"/><use href="#di0_80" x="479" y="596.1"/><use href="#di0_80" x="484.5" y="596.1"/><use href="#di0_80" x="490" y="596.1"/><use href="#di0_80" x="495.4" y="596.1"/><use href="#di0_80" x="500.9" y="596.1"/><use href="#di0_80" x="506.4" y="596.1"/><use href="#di0_80" x="511.9" y="596.1"/><use href="#di0_80" x="517.4" y="596.1"/><use href="#di0_80" x="522.9" y="596.1"/><use href="#di0_80" x="528.4" y="596.1"/></g>
<path d="M308.7 574.5 310.2 574.5 311.7 574.5 313.2 574.5 314.7 574.5 316.2 574.5 317.7 574.5 319.2 574.5 320.7 574.5 322.2 574.5 323.7 574.5 325.2 574.5 326.7 574.5 328.2 574.5 329.7 574.5 331.2 574.5 332.7 574.5 334.2 574.5 335.7 574.5 337.2 574.5 338.7 574.5 340.2 574.5 341.7 574.5 343.2 574.5 344.7 574.5 346.2 574.5 347.7 574.5 349.2 574.5 350.7 574.5 352.2 574.5 353.7 574.5 355.2 574.5 356.7 574.4 358.2 574.4 359.7 574.4 361.2 574.4 362.7 574.4 364.2 574.4 365.7 574.4 367.2 574.4 368.7 574.4 370.2 574.4 371.7 574.4 373.2 574.4 374.7 574.4 376.2 574.4 377.7 574.4 379.2 574.4 380.7 574.4 382.2 574.4 383.7 574.4 385.2 574.4 386.7 574.4 388.2 574.4 389.7 574.4 391.2 574.4 392.7 574.3 394.2 574.3 395.7 574.3 397.2 574.3 398.7 574.3 400.2 574.3 401.7 574.3 403.2 574.3 404.7 574.3 406.2 574.3 407.7 574.3 409.2 574.3 410.7 574.3 412.2 574.3 413.7 574.2 415.2 574.2 416.7 574.2 418.2 574.2 419.7 574.2 421.2 574.2 422.7 574.1 424.2 574.1 425.7 574.1 427.2 574.1 428.7 574 430.2 574 431.7 574 433.2 574 434.7 573.9 436.2 573.9 437.7 573.9 439.2 573.8 440.7 573.8 442.2 573.8 443.7 573.7 445.2 573.7 446.7 573.7 448.2 573.6 449.7 573.6 451.2 573.5 452.7 573.5 454.2 573.5 455.7 573.4 457.2 573.4 458.7 573.3 460.2 573.3 461.7 573.3 463.2 573.2 464.7 573.2 466.2 573.1 467.7 573.1 469.2 573 470.7 573 472.2 572.9 473.7 572.9 475.2 572.9 476.7 572.8 478.2 572.8 479.7 572.7 481.2 572.7 482.7 572.6 484.2 572.6 485.7 572.5 487.2 572.4 488.7 572.4 490.2 572.3 491.7 572.2 493.2 572.2 494.7 572.1 496.2 572 497.7 571.9 499.2 571.8 500.7 571.7 502.2 571.7 503.7 571.6 505.2 571.5 506.7 571.4 508.2 571.3 509.7 571.2 511.2 571.1 512.7 571 514.2 570.9 515.7 570.8 517.2 570.7 518.7 570.5 520.2 570.4 521.7 570.3 523.2 570.2 524.7 570 526.2 569.9 527.7 569.8 528.4 569.7" fill="none" stroke="#ff00ff" stroke-width="1.5" stroke-linejoin="round"/><g fill="none" stroke="#ff00ff" stroke-width="0.7" stroke-opacity="0.55"><use href="#td0_80" x="308.7" y="577.5"/><use href="#td0_80" x="314.2" y="577.5"/><use href="#td0_80" x="319.7" y="577.5"/><use href="#td0_80" x="325.2" y="577.5"/><use href="#td0_80" x="330.7" y="577.5"/><use href="#td0_80" x="336.2" y="577.5"/><use href="#td0_80" x="341.7" y="577.5"/><use href="#td0_80" x="347.1" y="577.5"/><use href="#td0_80" x="352.6" y="577.5"/><use href="#td0_80" x="358.1" y="577.4"/><use href="#td0_80" x="363.6" y="577.4"/><use href="#td0_80" x="369.1" y="577.4"/><use href="#td0_80" x="374.6" y="577.4"/><use href="#td0_80" x="380.1" y="577.4"/><use href="#td0_80" x="385.6" y="577.4"/><use href="#td0_80" x="391.1" y="577.4"/><use href="#td0_80" x="396.6" y="577.3"/><use href="#td0_80" x="402.1" y="577.3"/><use href="#td0_80" x="407.6" y="577.3"/><use href="#td0_80" x="413.1" y="577.2"/><use href="#td0_80" x="418.5" y="577.2"/><use href="#td0_80" x="424" y="577.1"/><use href="#td0_80" x="429.5" y="577"/><use href="#td0_80" x="435" y="576.9"/><use href="#td0_80" x="440.5" y="576.8"/><use href="#td0_80" x="446" y="576.7"/><use href="#td0_80" x="451.5" y="576.5"/><use href="#td0_80" x="457" y="576.4"/><use href="#td0_80" x="462.5" y="576.2"/><use href="#td0_80" x="468" y="576.1"/><use href="#td0_80" x="473.5" y="575.9"/><use href="#td0_80" x="479" y="575.7"/><use href="#td0_80" x="484.5" y="575.5"/><use href="#td0_80" x="490" y="575.3"/><use href="#td0_80" x="495.4" y="575"/><use href="#td0_80" x="500.9" y="574.7"/><use href="#td0_80" x="506.4" y="574.4"/><use href="#td0_80" x="511.9" y="574"/><use href="#td0_80" x="517.4" y="573.6"/><use href="#td0_80" x="522.9" y="573.2"/><use href="#td0_80" x="528.4" y="572.7"/></g>
<path d="M308.7 673.7 310.2 673.7 311.7 673.7 313.2 673.7 314.7 673.7 316.2 673.7 317.7 673.7 319.2 673.7 320.7 673.7 322.2 673.7 323.7 673.7 325.2 673.7 326.7 673.7 328.2 673.7 329.7 673.7 331.2 673.7 332.7 673.7 334.2 673.7 335.7 673.7 337.2 673.7 338.7 673.7 340.2 673.7 341.7 673.7 343.2 673.7 344.7 673.7 346.2 673.7 347.7 673.7 349.2 673.7 350.7 673.7 352.2 673.7 353.7 673.7 355.2 673.7 356.7 673.7 358.2 673.7 359.7 673.7 361.2 673.7 362.7 673.7 364.2 673.7 365.7 673.7 367.2 673.7 368.7 673.7 370.2 673.7 371.7 673.7 373.2 673.7 374.7 673.7 376.2 673.7 377.7 673.7 379.2 673.7 380.7 673.7 382.2 673.7 383.7 673.7 385.2 673.7 386.7 673.7 388.2 673.7 389.7 673.7 391.2 673.7 392.7 673.7 394.2 673.7 395.7 673.7 397.2 673.7 398.7 673.7 400.2 673.7 401.7 673.7 403.2 673.7 404.7 673.7 406.2 673.7 407.7 673.7 409.2 673.7 410.7 673.7 412.2 673.7 413.7 673.7 415.2 673.7 416.7 673.7 418.2 673.7 419.7 673.7 421.2 673.7 422.7 673.7 424.2 673.7 425.7 673.7 427.2 673.7 428.7 673.7 430.2 673.7 431.7 673.7 433.2 673.7 434.7 673.7 436.2 673.7 437.7 673.7 439.2 673.7 440.7 673.7 442.2 673.7 443.7 673.7 445.2 673.7 446.7 673.7 448.2 673.7 449.7 673.7 451.2 673.7 452.7 673.7 454.2 673.7 455.7 673.7 457.2 673.7 458.7 673.7 460.2 673.7 461.7 673.7 463.2 673.7 464.7 673.7 466.2 673.7 467.7 673.7 469.2 673.7 470.7 673.7 472.2 673.7 473.7 673.7 475.2 673.7 476.7 673.7 478.2 673.7 479.7 673.7 481.2 673.7 482.7 673.7 484.2 673.7 485.7 673.7 487.2 673.7 488.7 673.7 490.2 673.7 491.7 673.7 493.2 673.7 494.7 673.7 496.2 673.7 497.7 673.7 499.2 673.7 500.7 673.7 502.2 673.7 503.7 673.7 505.2 673.7 506.7 673.7 508.2 673.7 509.7 673.7 511.2 673.7 512.7 673.7 514.2 673.7 515.7 673.7 517.2 673.7 518.7 673.7 520.2 673.7 521.7 673.7 523.2 673.7 524.7 673.7 526.2 673.7 527.7 673.7 528.4 673.7" fill="none" stroke="#12b012" stroke-width="1.5" stroke-linejoin="round"/><g stroke="#12b012" stroke-width="1.1" fill="none"><use href="#pl0_80" x="308.7" y="673.7"/><use href="#pl0_80" x="314.2" y="673.7"/><use href="#pl0_80" x="319.7" y="673.7"/><use href="#pl0_80" x="325.2" y="673.7"/><use href="#pl0_80" x="330.7" y="673.7"/><use href="#pl0_80" x="336.2" y="673.7"/><use href="#pl0_80" x="341.7" y="673.7"/><use href="#pl0_80" x="347.1" y="673.7"/><use href="#pl0_80" x="352.6" y="673.7"/><use href="#pl0_80" x="358.1" y="673.7"/><use href="#pl0_80" x="363.6" y="673.7"/><use href="#pl0_80" x="369.1" y="673.7"/><use href="#pl0_80" x="374.6" y="673.7"/><use href="#pl0_80" x="380.1" y="673.7"/><use href="#pl0_80" x="385.6" y="673.7"/><use href="#pl0_80" x="391.1" y="673.7"/><use href="#pl0_80" x="396.6" y="673.7"/><use href="#pl0_80" x="402.1" y="673.7"/><use href="#pl0_80" x="407.6" y="673.7"/><use href="#pl0_80" x="413.1" y="673.7"/><use href="#pl0_80" x="418.5" y="673.7"/><use href="#pl0_80" x="424" y="673.7"/><use href="#pl0_80" x="429.5" y="673.7"/><use href="#pl0_80" x="435" y="673.7"/><use href="#pl0_80" x="440.5" y="673.7"/><use href="#pl0_80" x="446" y="673.7"/><use href="#pl0_80" x="451.5" y="673.7"/><use href="#pl0_80" x="457" y="673.7"/><use href="#pl0_80" x="462.5" y="673.7"/><use href="#pl0_80" x="468" y="673.7"/><use href="#pl0_80" x="473.5" y="673.7"/><use href="#pl0_80" x="479" y="673.7"/><use href="#pl0_80" x="484.5" y="673.7"/><use href="#pl0_80" x="490" y="673.7"/><use href="#pl0_80" x="495.4" y="673.7"/><use href="#pl0_80" x="500.9" y="673.7"/><use href="#pl0_80" x="506.4" y="673.7"/><use href="#pl0_80" x="511.9" y="673.7"/><use href="#pl0_80" x="517.4" y="673.7"/><use href="#pl0_80" x="522.9" y="673.7"/><use href="#pl0_80" x="528.4" y="673.7"/></g>
<text x="519.5" y="581.6" font-family="Liberation Sans" font-size="8.5" fill="#111" text-anchor="middle">y2</text>
<rect x="323.2" y="607.1" width="58.5" height="63.1" fill="#fff" stroke="#444" stroke-width="1.1"/>
<rect x="328.1" y="615.4" width="3.7" height="3.7" fill="none" stroke="#000000" stroke-width="0.9"/>
<text x="353.7" y="620.3" font-family="Liberation Mono" font-size="9" fill="#111" text-anchor="middle" font-style="italic" font-weight="bold">Q</text>
<circle cx="330" cy="626.9" r="3" fill="none" stroke="#ff0000" stroke-width="0.9"/>
<text x="353.7" y="629.9" font-family="Liberation Mono" font-size="9" fill="#ff2020" text-anchor="middle" font-style="italic" font-weight="bold">M</text>
<text x="327.7" y="638.4" font-family="Liberation Mono" font-size="7.5" fill="#999" text-anchor="start" textLength="47" lengthAdjust="spacingAndGlyphs">△(1−γ)(P−W)</text>
<path d="M330 640.6L332.9 643.5L330 646.4L327.1 643.5Z" fill="none" stroke="#ff8c00" stroke-width="0.9"/>
<text x="353.7" y="646.5" font-family="Liberation Mono" font-size="9" fill="#ff9020" text-anchor="middle" font-style="italic" font-weight="bold">G</text>
<path d="M330 654.1L332.9 649L327.1 649Z" fill="none" stroke="#ff00ff" stroke-width="0.9"/>
<text x="353.7" y="654.1" font-family="Liberation Mono" font-size="9" fill="#ff20ff" text-anchor="middle" font-style="italic" font-weight="bold">U</text>
<path d="M327.6 660.5H332.4M330 658.1V662.9" stroke="#12b012" stroke-width="1.1" fill="none"/>
<text x="353.7" y="663.5" font-family="Liberation Mono" font-size="9" fill="#20a020" text-anchor="middle" font-weight="bold">10<tspan font-size="6" dy="-3.5">5</tspan><tspan dy="3.5" font-style="italic" font-weight="normal" font-family="Liberation Serif">π</tspan></text>

</g>
<path d="M4.5 4.2H545.6V703.5H4.5M4.5 137.4H545.5 M4.5 279H545.5 M4.5 419.6H545.5 M4.5 560.4H545.5" stroke="#5e5e5e" stroke-width="1.4" fill="none"/><path d="M4.5 3.5V704.2 M271.5 4.2V703.5" stroke="#474747" stroke-width="1.4" fill="none"/>
</svg>
</body></html>
